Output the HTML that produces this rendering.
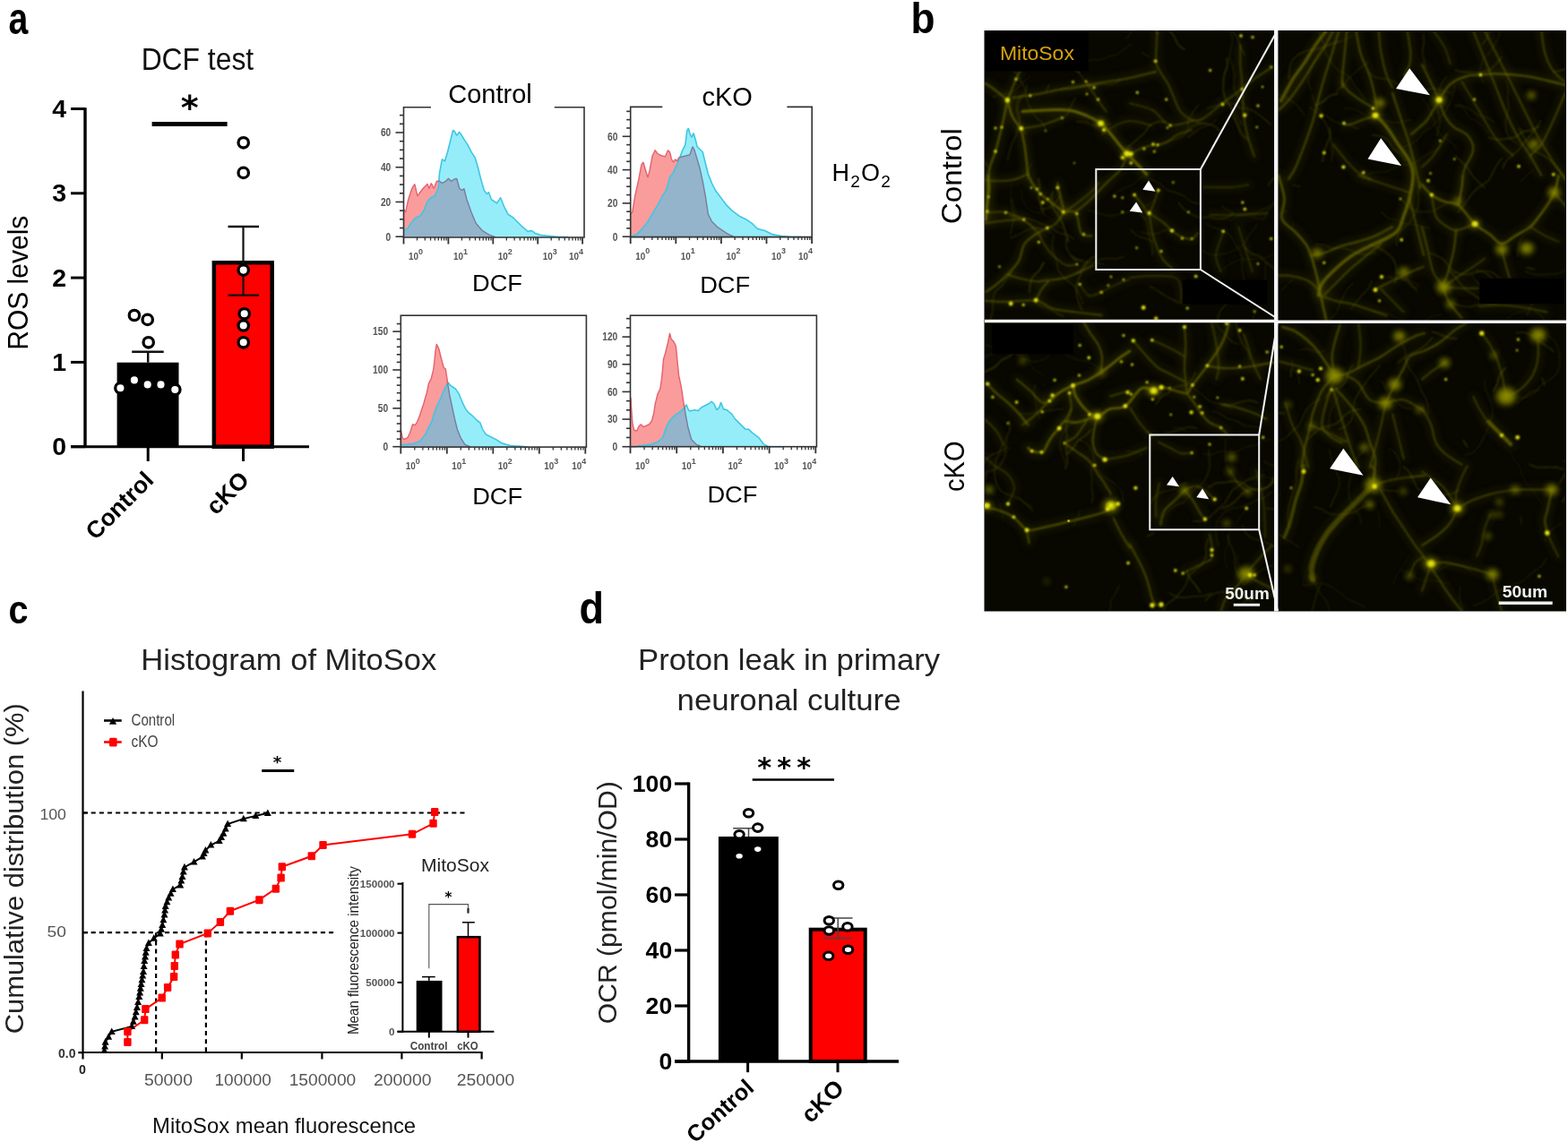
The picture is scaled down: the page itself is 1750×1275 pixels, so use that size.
<!DOCTYPE html>
<html><head><meta charset="utf-8"><title>Figure</title>
<style>html,body{margin:0;padding:0;background:#fff;}svg{display:block;}</style>
</head><body>
<svg width="1750" height="1275" viewBox="0 0 1750 1275">
<rect width="1750" height="1275" fill="#fff"/>
<text x="9.60" y="38.00" font-size="50" font-weight="bold" fill="#000" text-anchor="start" font-family='"Liberation Sans", Arial, sans-serif' textLength="21.8" lengthAdjust="spacingAndGlyphs" >a</text>
<text x="220.40" y="77.60" font-size="34.5" font-weight="normal" fill="#111" text-anchor="middle" font-family='"Liberation Sans", Arial, sans-serif' textLength="125.5" lengthAdjust="spacingAndGlyphs" >DCF test</text>
<line x1="95.00" y1="120.30" x2="95.00" y2="500.00" stroke="#000" stroke-width="3.4" />
<line x1="79.00" y1="498.70" x2="345.00" y2="498.70" stroke="#000" stroke-width="3" />
<line x1="79.00" y1="498.70" x2="95.00" y2="498.70" stroke="#000" stroke-width="3" />
<text x="74.00" y="508.30" font-size="28.5" font-weight="bold" fill="#000" text-anchor="end" font-family='"Liberation Sans", Arial, sans-serif' >0</text>
<line x1="79.00" y1="404.40" x2="95.00" y2="404.40" stroke="#000" stroke-width="3" />
<text x="74.00" y="414.00" font-size="28.5" font-weight="bold" fill="#000" text-anchor="end" font-family='"Liberation Sans", Arial, sans-serif' >1</text>
<line x1="79.00" y1="310.10" x2="95.00" y2="310.10" stroke="#000" stroke-width="3" />
<text x="74.00" y="319.70" font-size="28.5" font-weight="bold" fill="#000" text-anchor="end" font-family='"Liberation Sans", Arial, sans-serif' >2</text>
<line x1="79.00" y1="215.80" x2="95.00" y2="215.80" stroke="#000" stroke-width="3" />
<text x="74.00" y="225.40" font-size="28.5" font-weight="bold" fill="#000" text-anchor="end" font-family='"Liberation Sans", Arial, sans-serif' >3</text>
<line x1="79.00" y1="121.50" x2="95.00" y2="121.50" stroke="#000" stroke-width="3" />
<text x="74.00" y="131.10" font-size="28.5" font-weight="bold" fill="#000" text-anchor="end" font-family='"Liberation Sans", Arial, sans-serif' >4</text>
<rect x="130.60" y="404.70" width="68.90" height="94.00" fill="#000" />
<rect x="238.85" y="293.25" width="64.8" height="205.45" fill="#ff0000" stroke="#000" stroke-width="4.5"/>
<line x1="165.20" y1="498.70" x2="165.20" y2="515.00" stroke="#000" stroke-width="3" />
<line x1="271.50" y1="498.70" x2="271.50" y2="515.00" stroke="#000" stroke-width="3" />
<line x1="165.20" y1="404.70" x2="165.20" y2="392.70" stroke="#111" stroke-width="2.5" />
<line x1="147.20" y1="392.70" x2="182.70" y2="392.70" stroke="#111" stroke-width="2.5" />
<line x1="271.50" y1="253.00" x2="271.50" y2="329.60" stroke="#111" stroke-width="2.2" />
<line x1="254.50" y1="253.00" x2="289.00" y2="253.00" stroke="#111" stroke-width="2.4" />
<line x1="254.50" y1="329.60" x2="289.00" y2="329.60" stroke="#111" stroke-width="2.4" />
<line x1="169.60" y1="138.50" x2="253.60" y2="138.50" stroke="#000" stroke-width="5" />
<text x="211.60" y="132.69" font-size="38.1" font-weight="bold" fill="#000" text-anchor="middle" font-family='"DejaVu Sans", sans-serif' >*</text>
<circle cx="149.90" cy="352.00" r="5.7" fill="#fff" stroke="#000" stroke-width="3.3"/>
<circle cx="164.70" cy="356.90" r="5.7" fill="#fff" stroke="#000" stroke-width="3.3"/>
<circle cx="165.70" cy="382.30" r="5.7" fill="#fff" stroke="#000" stroke-width="3.3"/>
<circle cx="134.40" cy="433.30" r="5.7" fill="#fff" stroke="#000" stroke-width="3.3"/>
<circle cx="149.90" cy="424.40" r="5.7" fill="#fff" stroke="#000" stroke-width="3.3"/>
<circle cx="164.70" cy="429.40" r="5.7" fill="#fff" stroke="#000" stroke-width="3.3"/>
<circle cx="179.50" cy="429.40" r="5.7" fill="#fff" stroke="#000" stroke-width="3.3"/>
<circle cx="195.30" cy="435.00" r="5.7" fill="#fff" stroke="#000" stroke-width="3.3"/>
<circle cx="271.70" cy="159.30" r="5.7" fill="#fff" stroke="#000" stroke-width="3.3"/>
<circle cx="271.70" cy="192.90" r="5.7" fill="#fff" stroke="#000" stroke-width="3.3"/>
<circle cx="271.70" cy="301.60" r="5.7" fill="#fff" stroke="#000" stroke-width="3.3"/>
<circle cx="272.70" cy="350.30" r="5.7" fill="#fff" stroke="#000" stroke-width="3.3"/>
<circle cx="271.70" cy="363.50" r="5.7" fill="#fff" stroke="#000" stroke-width="3.3"/>
<circle cx="271.70" cy="382.30" r="5.7" fill="#fff" stroke="#000" stroke-width="3.3"/>
<text x="31.00" y="315.70" font-size="31.5" font-weight="normal" fill="#000" text-anchor="middle" font-family='"Liberation Sans", Arial, sans-serif' textLength="150" lengthAdjust="spacingAndGlyphs" transform="rotate(-90 31.00 315.70)" >ROS levels</text>
<text x="173.00" y="537.50" font-size="26.5" font-weight="bold" fill="#000" text-anchor="end" font-family='"Liberation Sans", Arial, sans-serif' transform="rotate(-45 173.00 537.50)" >Control</text>
<text x="279.50" y="537.50" font-size="26.5" font-weight="bold" fill="#000" text-anchor="end" font-family='"Liberation Sans", Arial, sans-serif' transform="rotate(-45 279.50 537.50)" >cKO</text>
<path d="M450.5,265.0 L450.5,257.3 L451.0,257.0 L451.5,256.8 L452.0,256.6 L452.5,256.4 L453.0,256.1 L453.5,255.9 L454.0,255.7 L454.5,255.4 L455.0,254.9 L455.5,254.1 L456.0,253.4 L456.5,252.6 L457.0,251.9 L457.5,251.1 L458.0,250.4 L458.5,249.6 L459.0,248.9 L459.5,248.3 L460.0,247.7 L460.5,247.1 L461.0,246.5 L461.5,245.9 L462.0,245.3 L462.5,244.7 L463.0,244.1 L463.5,243.5 L464.0,243.1 L464.5,242.9 L465.0,242.7 L465.5,242.5 L466.0,242.3 L466.5,242.1 L467.0,241.9 L467.5,241.7 L468.0,241.5 L468.5,241.3 L469.0,241.0 L469.5,240.3 L470.0,239.5 L470.5,238.8 L471.0,238.0 L471.5,237.3 L472.0,236.5 L472.5,235.8 L473.0,235.0 L473.5,233.8 L474.0,232.5 L474.5,231.3 L475.0,230.0 L475.5,228.8 L476.0,227.5 L476.5,226.3 L477.0,225.0 L477.5,224.4 L478.0,223.9 L478.5,223.4 L479.0,222.9 L479.5,222.4 L480.0,221.9 L480.5,221.4 L481.0,220.9 L481.5,220.5 L482.0,220.3 L482.5,220.0 L483.0,219.8 L483.5,219.5 L484.0,219.3 L484.5,219.0 L485.0,218.8 L485.5,218.2 L486.0,217.2 L486.5,216.2 L487.0,215.2 L487.5,214.2 L488.0,213.2 L488.5,212.2 L489.0,211.2 L489.5,207.8 L490.0,199.8 L490.5,193.4 L491.0,190.7 L491.5,188.1 L492.0,185.4 L492.5,182.7 L493.0,180.1 L493.5,177.9 L494.0,178.3 L494.5,178.6 L495.0,178.9 L495.5,179.3 L496.0,179.6 L496.5,179.8 L497.0,178.1 L497.5,176.5 L498.0,174.8 L498.5,173.1 L499.0,171.5 L499.5,169.8 L500.0,167.8 L500.5,165.8 L501.0,163.8 L501.5,161.8 L502.0,159.8 L502.5,157.8 L503.0,155.8 L503.5,153.8 L504.0,151.8 L504.5,149.8 L505.0,147.8 L505.5,145.8 L506.0,145.6 L506.5,146.1 L507.0,146.6 L507.5,147.1 L508.0,147.9 L508.5,148.9 L509.0,149.9 L509.5,150.9 L510.0,151.0 L510.5,150.3 L511.0,149.7 L511.5,149.0 L512.0,148.3 L512.5,147.7 L513.0,147.6 L513.5,148.4 L514.0,149.1 L514.5,149.9 L515.0,150.6 L515.5,151.5 L516.0,152.3 L516.5,153.1 L517.0,154.0 L517.5,154.8 L518.0,155.6 L518.5,156.4 L519.0,157.1 L519.5,157.9 L520.0,158.6 L520.5,159.4 L521.0,160.1 L521.5,160.9 L522.0,161.7 L522.5,162.7 L523.0,163.7 L523.5,164.7 L524.0,165.7 L524.5,166.7 L525.0,167.7 L525.5,168.7 L526.0,169.7 L526.5,170.4 L527.0,171.2 L527.5,171.9 L528.0,172.7 L528.5,173.4 L529.0,174.2 L529.5,174.9 L530.0,175.7 L530.5,177.1 L531.0,178.8 L531.5,180.5 L532.0,182.1 L532.5,183.8 L533.0,185.5 L533.5,187.3 L534.0,189.3 L534.5,191.3 L535.0,193.3 L535.5,195.3 L536.0,197.3 L536.5,199.2 L537.0,201.0 L537.5,202.7 L538.0,204.5 L538.5,206.2 L539.0,208.0 L539.5,209.7 L540.0,211.5 L540.5,212.8 L541.0,213.5 L541.5,214.1 L542.0,214.8 L542.5,215.5 L543.0,216.1 L543.5,216.5 L544.0,216.0 L544.5,215.5 L545.0,215.0 L545.5,214.8 L546.0,216.2 L546.5,217.5 L547.0,218.8 L547.5,220.2 L548.0,221.5 L548.5,222.8 L549.0,223.1 L549.5,223.4 L550.0,223.8 L550.5,224.1 L551.0,224.4 L551.5,224.8 L552.0,225.1 L552.5,225.4 L553.0,225.8 L553.5,226.1 L554.0,226.4 L554.5,226.8 L555.0,226.2 L555.5,225.4 L556.0,224.7 L556.5,223.9 L557.0,223.2 L557.5,222.4 L558.0,221.7 L558.5,220.9 L559.0,221.5 L559.5,222.8 L560.0,224.0 L560.5,225.3 L561.0,226.5 L561.5,227.8 L562.0,229.0 L562.5,230.3 L563.0,231.4 L563.5,232.4 L564.0,233.4 L564.5,234.4 L565.0,235.4 L565.5,236.4 L566.0,237.4 L566.5,238.4 L567.0,239.2 L567.5,239.5 L568.0,239.8 L568.5,240.2 L569.0,240.5 L569.5,240.8 L570.0,241.2 L570.5,241.5 L571.0,241.8 L571.5,242.2 L572.0,242.5 L572.5,242.8 L573.0,243.2 L573.5,243.7 L574.0,244.2 L574.5,244.7 L575.0,245.2 L575.5,245.7 L576.0,246.2 L576.5,246.7 L577.0,247.2 L577.5,247.7 L578.0,248.2 L578.5,248.7 L579.0,249.2 L579.5,249.7 L580.0,250.2 L580.5,250.7 L581.0,251.2 L581.5,251.7 L582.0,252.2 L582.5,252.7 L583.0,253.2 L583.5,253.6 L584.0,254.1 L584.5,254.5 L585.0,254.9 L585.5,255.3 L586.0,255.7 L586.5,256.1 L587.0,256.6 L587.5,257.0 L588.0,257.4 L588.5,257.8 L589.0,258.2 L589.5,258.4 L590.0,258.2 L590.5,258.1 L591.0,258.0 L591.5,257.9 L592.0,257.7 L592.5,257.6 L593.0,257.5 L593.5,257.5 L594.0,257.9 L594.5,258.3 L595.0,258.7 L595.5,259.0 L596.0,259.4 L596.5,259.8 L597.0,260.2 L597.5,260.5 L598.0,260.7 L598.5,260.8 L599.0,261.0 L599.5,261.2 L600.0,261.3 L600.5,261.5 L601.0,261.7 L601.5,261.8 L602.0,262.0 L602.5,262.2 L603.0,262.3 L603.5,262.5 L604.0,262.6 L604.5,262.6 L605.0,262.7 L605.5,262.7 L606.0,262.8 L606.5,262.8 L607.0,262.9 L607.5,262.9 L608.0,263.0 L608.5,263.0 L609.0,263.1 L609.5,263.1 L610.0,263.2 L610.5,263.2 L611.0,263.3 L611.5,263.3 L612.0,263.4 L612.5,263.4 L613.0,263.5 L613.5,263.5 L614.0,263.6 L614.5,263.6 L615.0,263.7 L615.5,263.7 L616.0,263.8 L616.5,263.8 L617.0,263.9 L617.5,263.9 L618.0,264.0 L618.5,264.0 L619.0,264.1 L619.5,264.1 L620.0,264.2 L620.5,264.2 L621.0,264.3 L621.5,264.3 L622.0,264.4 L622.5,264.4 L623.0,264.5 L623.5,264.5 L624.0,264.5 L624.5,264.5 L625.0,264.5 L625.5,264.5 L626.0,264.5 L626.5,264.5 L627.0,264.5 L627.5,264.5 L628.0,264.5 L628.5,264.5 L629.0,264.5 L629.5,264.5 L630.0,264.5 L630.5,264.5 L631.0,264.5 L631.5,264.5 L632.0,264.5 L632.5,264.5 L633.0,264.5 L633.5,264.5 L634.0,264.5 L634.5,265.0 L635.0,265.0 L635.5,265.0 L636.0,265.0 L636.5,265.0 L637.0,265.0 L637.5,265.0 L638.0,265.0 L638.5,265.0 L639.0,265.0 L639.5,265.0 L640.0,265.0 L640.5,265.0 L641.0,265.0 L641.5,265.0 L642.0,265.0 L642.5,265.0 L643.0,265.0 L643.5,265.0 L644.0,265.0 L644.5,265.0 L645.0,265.0 L645.5,265.0 L646.0,265.0 L646.5,265.0 L647.0,265.0 L647.5,265.0 L648.0,265.0 L648.5,265.0 L649.0,265.0 L649.5,265.0 L650.0,265.0 L650.5,265.0 L651.0,265.0 L651.5,265.0 L652.0,265.0 L652.0,265.0Z" fill="#96edfa"/>
<path d="M450.5,265.0 L450.5,233.5 L451.0,234.3 L451.5,235.1 L452.0,236.0 L452.5,236.8 L453.0,235.3 L453.5,232.9 L454.0,230.6 L454.5,228.3 L455.0,225.9 L455.5,223.6 L456.0,221.8 L456.5,220.3 L457.0,218.8 L457.5,217.3 L458.0,215.8 L458.5,214.3 L459.0,212.8 L459.5,211.3 L460.0,210.1 L460.5,209.3 L461.0,208.4 L461.5,207.6 L462.0,206.8 L462.5,205.9 L463.0,206.2 L463.5,208.3 L464.0,210.5 L464.5,212.7 L465.0,214.8 L465.5,217.0 L466.0,218.5 L466.5,217.8 L467.0,217.2 L467.5,216.5 L468.0,215.8 L468.5,215.2 L469.0,214.5 L469.5,213.8 L470.0,213.2 L470.5,212.5 L471.0,211.8 L471.5,211.2 L472.0,210.5 L472.5,210.0 L473.0,209.5 L473.5,209.0 L474.0,208.5 L474.5,208.0 L475.0,207.5 L475.5,207.0 L476.0,206.5 L476.5,206.0 L477.0,205.5 L477.5,206.4 L478.0,207.7 L478.5,208.9 L479.0,210.2 L479.5,209.4 L480.0,207.9 L480.5,206.4 L481.0,204.9 L481.5,205.0 L482.0,206.0 L482.5,207.0 L483.0,208.0 L483.5,209.0 L484.0,210.0 L484.5,209.8 L485.0,208.5 L485.5,207.1 L486.0,205.8 L486.5,204.5 L487.0,203.1 L487.5,202.3 L488.0,202.3 L488.5,202.3 L489.0,202.3 L489.5,202.3 L490.0,202.3 L490.5,202.4 L491.0,202.8 L491.5,203.1 L492.0,203.4 L492.5,203.8 L493.0,204.1 L493.5,204.3 L494.0,204.1 L494.5,203.8 L495.0,203.6 L495.5,203.3 L496.0,203.1 L496.5,202.8 L497.0,202.6 L497.5,202.3 L498.0,201.8 L498.5,201.3 L499.0,200.8 L499.5,200.3 L500.0,199.8 L500.5,199.3 L501.0,199.7 L501.5,200.2 L502.0,200.7 L502.5,201.2 L503.0,201.7 L503.5,202.2 L504.0,202.1 L504.5,201.8 L505.0,201.4 L505.5,201.1 L506.0,200.8 L506.5,200.4 L507.0,200.2 L507.5,200.0 L508.0,199.9 L508.5,199.7 L509.0,199.5 L509.5,199.4 L510.0,200.3 L510.5,202.1 L511.0,204.0 L511.5,205.8 L512.0,207.6 L512.5,209.5 L513.0,210.7 L513.5,211.0 L514.0,211.3 L514.5,211.7 L515.0,212.0 L515.5,212.3 L516.0,212.4 L516.5,211.9 L517.0,211.4 L517.5,210.9 L518.0,211.0 L518.5,213.0 L519.0,215.0 L519.5,217.0 L520.0,219.0 L520.5,221.0 L521.0,222.9 L521.5,224.3 L522.0,225.7 L522.5,227.1 L523.0,228.5 L523.5,229.9 L524.0,231.3 L524.5,232.7 L525.0,234.1 L525.5,235.5 L526.0,236.9 L526.5,238.1 L527.0,239.3 L527.5,240.5 L528.0,241.7 L528.5,242.9 L529.0,244.1 L529.5,245.3 L530.0,246.5 L530.5,247.7 L531.0,248.9 L531.5,249.7 L532.0,250.2 L532.5,250.8 L533.0,251.4 L533.5,252.0 L534.0,252.5 L534.5,253.1 L535.0,253.7 L535.5,254.2 L536.0,254.8 L536.5,255.4 L537.0,256.0 L537.5,256.5 L538.0,257.1 L538.5,257.5 L539.0,257.9 L539.5,258.2 L540.0,258.5 L540.5,258.8 L541.0,259.1 L541.5,259.4 L542.0,259.7 L542.5,260.0 L543.0,260.4 L543.5,260.7 L544.0,261.0 L544.5,261.3 L545.0,261.6 L545.5,261.9 L546.0,262.2 L546.5,262.5 L547.0,262.7 L547.5,262.9 L548.0,263.0 L548.5,263.2 L549.0,263.4 L549.5,263.5 L550.0,263.7 L550.5,263.9 L551.0,264.0 L551.5,264.2 L552.0,264.4 L552.5,264.5 L553.0,265.0 L553.5,265.0 L554.0,265.0 L554.5,265.0 L555.0,265.0 L555.5,265.0 L556.0,265.0 L556.5,265.0 L557.0,265.0 L557.5,265.0 L558.0,265.0 L558.5,265.0 L559.0,265.0 L559.5,265.0 L560.0,265.0 L560.5,265.0 L561.0,265.0 L561.5,265.0 L562.0,265.0 L562.5,265.0 L563.0,265.0 L563.5,265.0 L564.0,265.0 L564.5,265.0 L565.0,265.0 L565.5,265.0 L566.0,265.0 L566.5,265.0 L567.0,265.0 L567.5,265.0 L568.0,265.0 L568.5,265.0 L569.0,265.0 L569.5,265.0 L570.0,265.0 L570.5,265.0 L571.0,265.0 L571.5,265.0 L572.0,265.0 L572.5,265.0 L573.0,265.0 L573.5,265.0 L574.0,265.0 L574.5,265.0 L575.0,265.0 L575.5,265.0 L576.0,265.0 L576.5,265.0 L577.0,265.0 L577.5,265.0 L578.0,265.0 L578.5,265.0 L579.0,265.0 L579.5,265.0 L580.0,265.0 L580.5,265.0 L581.0,265.0 L581.5,265.0 L582.0,265.0 L582.5,265.0 L583.0,265.0 L583.5,265.0 L584.0,265.0 L584.5,265.0 L585.0,265.0 L585.5,265.0 L586.0,265.0 L586.5,265.0 L587.0,265.0 L587.5,265.0 L588.0,265.0 L588.5,265.0 L589.0,265.0 L589.5,265.0 L590.0,265.0 L590.5,265.0 L591.0,265.0 L591.5,265.0 L592.0,265.0 L592.5,265.0 L593.0,265.0 L593.5,265.0 L594.0,265.0 L594.5,265.0 L595.0,265.0 L595.5,265.0 L596.0,265.0 L596.5,265.0 L597.0,265.0 L597.5,265.0 L598.0,265.0 L598.5,265.0 L599.0,265.0 L599.5,265.0 L600.0,265.0 L600.5,265.0 L601.0,265.0 L601.5,265.0 L602.0,265.0 L602.5,265.0 L603.0,265.0 L603.5,265.0 L604.0,265.0 L604.5,265.0 L605.0,265.0 L605.5,265.0 L606.0,265.0 L606.5,265.0 L607.0,265.0 L607.5,265.0 L608.0,265.0 L608.5,265.0 L609.0,265.0 L609.5,265.0 L610.0,265.0 L610.5,265.0 L611.0,265.0 L611.5,265.0 L612.0,265.0 L612.5,265.0 L613.0,265.0 L613.5,265.0 L614.0,265.0 L614.5,265.0 L615.0,265.0 L615.5,265.0 L616.0,265.0 L616.5,265.0 L617.0,265.0 L617.5,265.0 L618.0,265.0 L618.5,265.0 L619.0,265.0 L619.5,265.0 L620.0,265.0 L620.5,265.0 L621.0,265.0 L621.5,265.0 L622.0,265.0 L622.5,265.0 L623.0,265.0 L623.5,265.0 L624.0,265.0 L624.5,265.0 L625.0,265.0 L625.5,265.0 L626.0,265.0 L626.5,265.0 L627.0,265.0 L627.5,265.0 L628.0,265.0 L628.5,265.0 L629.0,265.0 L629.5,265.0 L630.0,265.0 L630.5,265.0 L631.0,265.0 L631.5,265.0 L632.0,265.0 L632.5,265.0 L633.0,265.0 L633.5,265.0 L634.0,265.0 L634.5,265.0 L635.0,265.0 L635.5,265.0 L636.0,265.0 L636.5,265.0 L637.0,265.0 L637.5,265.0 L638.0,265.0 L638.5,265.0 L639.0,265.0 L639.5,265.0 L640.0,265.0 L640.5,265.0 L641.0,265.0 L641.5,265.0 L642.0,265.0 L642.5,265.0 L643.0,265.0 L643.5,265.0 L644.0,265.0 L644.5,265.0 L645.0,265.0 L645.5,265.0 L646.0,265.0 L646.5,265.0 L647.0,265.0 L647.5,265.0 L648.0,265.0 L648.5,265.0 L649.0,265.0 L649.5,265.0 L650.0,265.0 L650.5,265.0 L651.0,265.0 L651.5,265.0 L652.0,265.0 L652.0,265.0Z" fill="#fa9c9c"/>
<path d="M450.5,265.0 L450.5,257.3 L451.0,257.0 L451.5,256.8 L452.0,256.6 L452.5,256.4 L453.0,256.1 L453.5,255.9 L454.0,255.7 L454.5,255.4 L455.0,254.9 L455.5,254.1 L456.0,253.4 L456.5,252.6 L457.0,251.9 L457.5,251.1 L458.0,250.4 L458.5,249.6 L459.0,248.9 L459.5,248.3 L460.0,247.7 L460.5,247.1 L461.0,246.5 L461.5,245.9 L462.0,245.3 L462.5,244.7 L463.0,244.1 L463.5,243.5 L464.0,243.1 L464.5,242.9 L465.0,242.7 L465.5,242.5 L466.0,242.3 L466.5,242.1 L467.0,241.9 L467.5,241.7 L468.0,241.5 L468.5,241.3 L469.0,241.0 L469.5,240.3 L470.0,239.5 L470.5,238.8 L471.0,238.0 L471.5,237.3 L472.0,236.5 L472.5,235.8 L473.0,235.0 L473.5,233.8 L474.0,232.5 L474.5,231.3 L475.0,230.0 L475.5,228.8 L476.0,227.5 L476.5,226.3 L477.0,225.0 L477.5,224.4 L478.0,223.9 L478.5,223.4 L479.0,222.9 L479.5,222.4 L480.0,221.9 L480.5,221.4 L481.0,220.9 L481.5,220.5 L482.0,220.3 L482.5,220.0 L483.0,219.8 L483.5,219.5 L484.0,219.3 L484.5,219.0 L485.0,218.8 L485.5,218.2 L486.0,217.2 L486.5,216.2 L487.0,215.2 L487.5,214.2 L488.0,213.2 L488.5,212.2 L489.0,211.2 L489.5,207.8 L490.0,202.3 L490.5,202.4 L491.0,202.8 L491.5,203.1 L492.0,203.4 L492.5,203.8 L493.0,204.1 L493.5,204.3 L494.0,204.1 L494.5,203.8 L495.0,203.6 L495.5,203.3 L496.0,203.1 L496.5,202.8 L497.0,202.6 L497.5,202.3 L498.0,201.8 L498.5,201.3 L499.0,200.8 L499.5,200.3 L500.0,199.8 L500.5,199.3 L501.0,199.7 L501.5,200.2 L502.0,200.7 L502.5,201.2 L503.0,201.7 L503.5,202.2 L504.0,202.1 L504.5,201.8 L505.0,201.4 L505.5,201.1 L506.0,200.8 L506.5,200.4 L507.0,200.2 L507.5,200.0 L508.0,199.9 L508.5,199.7 L509.0,199.5 L509.5,199.4 L510.0,200.3 L510.5,202.1 L511.0,204.0 L511.5,205.8 L512.0,207.6 L512.5,209.5 L513.0,210.7 L513.5,211.0 L514.0,211.3 L514.5,211.7 L515.0,212.0 L515.5,212.3 L516.0,212.4 L516.5,211.9 L517.0,211.4 L517.5,210.9 L518.0,211.0 L518.5,213.0 L519.0,215.0 L519.5,217.0 L520.0,219.0 L520.5,221.0 L521.0,222.9 L521.5,224.3 L522.0,225.7 L522.5,227.1 L523.0,228.5 L523.5,229.9 L524.0,231.3 L524.5,232.7 L525.0,234.1 L525.5,235.5 L526.0,236.9 L526.5,238.1 L527.0,239.3 L527.5,240.5 L528.0,241.7 L528.5,242.9 L529.0,244.1 L529.5,245.3 L530.0,246.5 L530.5,247.7 L531.0,248.9 L531.5,249.7 L532.0,250.2 L532.5,250.8 L533.0,251.4 L533.5,252.0 L534.0,252.5 L534.5,253.1 L535.0,253.7 L535.5,254.2 L536.0,254.8 L536.5,255.4 L537.0,256.0 L537.5,256.5 L538.0,257.1 L538.5,257.5 L539.0,257.9 L539.5,258.2 L540.0,258.5 L540.5,258.8 L541.0,259.1 L541.5,259.4 L542.0,259.7 L542.5,260.0 L543.0,260.4 L543.5,260.7 L544.0,261.0 L544.5,261.3 L545.0,261.6 L545.5,261.9 L546.0,262.2 L546.5,262.5 L547.0,262.7 L547.5,262.9 L548.0,263.0 L548.5,263.2 L549.0,263.4 L549.5,263.5 L550.0,263.7 L550.5,263.9 L551.0,264.0 L551.5,264.2 L552.0,264.4 L552.5,264.5 L553.0,265.0 L553.5,265.0 L554.0,265.0 L554.5,265.0 L555.0,265.0 L555.5,265.0 L556.0,265.0 L556.5,265.0 L557.0,265.0 L557.5,265.0 L558.0,265.0 L558.5,265.0 L559.0,265.0 L559.5,265.0 L560.0,265.0 L560.5,265.0 L561.0,265.0 L561.5,265.0 L562.0,265.0 L562.5,265.0 L563.0,265.0 L563.5,265.0 L564.0,265.0 L564.5,265.0 L565.0,265.0 L565.5,265.0 L566.0,265.0 L566.5,265.0 L567.0,265.0 L567.5,265.0 L568.0,265.0 L568.5,265.0 L569.0,265.0 L569.5,265.0 L570.0,265.0 L570.5,265.0 L571.0,265.0 L571.5,265.0 L572.0,265.0 L572.5,265.0 L573.0,265.0 L573.5,265.0 L574.0,265.0 L574.5,265.0 L575.0,265.0 L575.5,265.0 L576.0,265.0 L576.5,265.0 L577.0,265.0 L577.5,265.0 L578.0,265.0 L578.5,265.0 L579.0,265.0 L579.5,265.0 L580.0,265.0 L580.5,265.0 L581.0,265.0 L581.5,265.0 L582.0,265.0 L582.5,265.0 L583.0,265.0 L583.5,265.0 L584.0,265.0 L584.5,265.0 L585.0,265.0 L585.5,265.0 L586.0,265.0 L586.5,265.0 L587.0,265.0 L587.5,265.0 L588.0,265.0 L588.5,265.0 L589.0,265.0 L589.5,265.0 L590.0,265.0 L590.5,265.0 L591.0,265.0 L591.5,265.0 L592.0,265.0 L592.5,265.0 L593.0,265.0 L593.5,265.0 L594.0,265.0 L594.5,265.0 L595.0,265.0 L595.5,265.0 L596.0,265.0 L596.5,265.0 L597.0,265.0 L597.5,265.0 L598.0,265.0 L598.5,265.0 L599.0,265.0 L599.5,265.0 L600.0,265.0 L600.5,265.0 L601.0,265.0 L601.5,265.0 L602.0,265.0 L602.5,265.0 L603.0,265.0 L603.5,265.0 L604.0,265.0 L604.5,265.0 L605.0,265.0 L605.5,265.0 L606.0,265.0 L606.5,265.0 L607.0,265.0 L607.5,265.0 L608.0,265.0 L608.5,265.0 L609.0,265.0 L609.5,265.0 L610.0,265.0 L610.5,265.0 L611.0,265.0 L611.5,265.0 L612.0,265.0 L612.5,265.0 L613.0,265.0 L613.5,265.0 L614.0,265.0 L614.5,265.0 L615.0,265.0 L615.5,265.0 L616.0,265.0 L616.5,265.0 L617.0,265.0 L617.5,265.0 L618.0,265.0 L618.5,265.0 L619.0,265.0 L619.5,265.0 L620.0,265.0 L620.5,265.0 L621.0,265.0 L621.5,265.0 L622.0,265.0 L622.5,265.0 L623.0,265.0 L623.5,265.0 L624.0,265.0 L624.5,265.0 L625.0,265.0 L625.5,265.0 L626.0,265.0 L626.5,265.0 L627.0,265.0 L627.5,265.0 L628.0,265.0 L628.5,265.0 L629.0,265.0 L629.5,265.0 L630.0,265.0 L630.5,265.0 L631.0,265.0 L631.5,265.0 L632.0,265.0 L632.5,265.0 L633.0,265.0 L633.5,265.0 L634.0,265.0 L634.5,265.0 L635.0,265.0 L635.5,265.0 L636.0,265.0 L636.5,265.0 L637.0,265.0 L637.5,265.0 L638.0,265.0 L638.5,265.0 L639.0,265.0 L639.5,265.0 L640.0,265.0 L640.5,265.0 L641.0,265.0 L641.5,265.0 L642.0,265.0 L642.5,265.0 L643.0,265.0 L643.5,265.0 L644.0,265.0 L644.5,265.0 L645.0,265.0 L645.5,265.0 L646.0,265.0 L646.5,265.0 L647.0,265.0 L647.5,265.0 L648.0,265.0 L648.5,265.0 L649.0,265.0 L649.5,265.0 L650.0,265.0 L650.5,265.0 L651.0,265.0 L651.5,265.0 L652.0,265.0 L652.0,265.0Z" fill="#94b4cb"/>
<path d="M450.5,257.3 L451.0,257.0 L451.5,256.8 L452.0,256.6 L452.5,256.4 L453.0,256.1 L453.5,255.9 L454.0,255.7 L454.5,255.4 L455.0,254.9 L455.5,254.1 L456.0,253.4 L456.5,252.6 L457.0,251.9 L457.5,251.1 L458.0,250.4 L458.5,249.6 L459.0,248.9 L459.5,248.3 L460.0,247.7 L460.5,247.1 L461.0,246.5 L461.5,245.9 L462.0,245.3 L462.5,244.7 L463.0,244.1 L463.5,243.5 L464.0,243.1 L464.5,242.9 L465.0,242.7 L465.5,242.5 L466.0,242.3 L466.5,242.1 L467.0,241.9 L467.5,241.7 L468.0,241.5 L468.5,241.3 L469.0,241.0 L469.5,240.3 L470.0,239.5 L470.5,238.8 L471.0,238.0 L471.5,237.3 L472.0,236.5 L472.5,235.8 L473.0,235.0 L473.5,233.8 L474.0,232.5 L474.5,231.3 L475.0,230.0 L475.5,228.8 L476.0,227.5 L476.5,226.3 L477.0,225.0 L477.5,224.4 L478.0,223.9 L478.5,223.4 L479.0,222.9 L479.5,222.4 L480.0,221.9 L480.5,221.4 L481.0,220.9 L481.5,220.5 L482.0,220.3 L482.5,220.0 L483.0,219.8 L483.5,219.5 L484.0,219.3 L484.5,219.0 L485.0,218.8 L485.5,218.2 L486.0,217.2 L486.5,216.2 L487.0,215.2 L487.5,214.2 L488.0,213.2 L488.5,212.2 L489.0,211.2 L489.5,207.8 L490.0,199.8 L490.5,193.4 L491.0,190.7 L491.5,188.1 L492.0,185.4 L492.5,182.7 L493.0,180.1 L493.5,177.9 L494.0,178.3 L494.5,178.6 L495.0,178.9 L495.5,179.3 L496.0,179.6 L496.5,179.8 L497.0,178.1 L497.5,176.5 L498.0,174.8 L498.5,173.1 L499.0,171.5 L499.5,169.8 L500.0,167.8 L500.5,165.8 L501.0,163.8 L501.5,161.8 L502.0,159.8 L502.5,157.8 L503.0,155.8 L503.5,153.8 L504.0,151.8 L504.5,149.8 L505.0,147.8 L505.5,145.8 L506.0,145.6 L506.5,146.1 L507.0,146.6 L507.5,147.1 L508.0,147.9 L508.5,148.9 L509.0,149.9 L509.5,150.9 L510.0,151.0 L510.5,150.3 L511.0,149.7 L511.5,149.0 L512.0,148.3 L512.5,147.7 L513.0,147.6 L513.5,148.4 L514.0,149.1 L514.5,149.9 L515.0,150.6 L515.5,151.5 L516.0,152.3 L516.5,153.1 L517.0,154.0 L517.5,154.8 L518.0,155.6 L518.5,156.4 L519.0,157.1 L519.5,157.9 L520.0,158.6 L520.5,159.4 L521.0,160.1 L521.5,160.9 L522.0,161.7 L522.5,162.7 L523.0,163.7 L523.5,164.7 L524.0,165.7 L524.5,166.7 L525.0,167.7 L525.5,168.7 L526.0,169.7 L526.5,170.4 L527.0,171.2 L527.5,171.9 L528.0,172.7 L528.5,173.4 L529.0,174.2 L529.5,174.9 L530.0,175.7 L530.5,177.1 L531.0,178.8 L531.5,180.5 L532.0,182.1 L532.5,183.8 L533.0,185.5 L533.5,187.3 L534.0,189.3 L534.5,191.3 L535.0,193.3 L535.5,195.3 L536.0,197.3 L536.5,199.2 L537.0,201.0 L537.5,202.7 L538.0,204.5 L538.5,206.2 L539.0,208.0 L539.5,209.7 L540.0,211.5 L540.5,212.8 L541.0,213.5 L541.5,214.1 L542.0,214.8 L542.5,215.5 L543.0,216.1 L543.5,216.5 L544.0,216.0 L544.5,215.5 L545.0,215.0 L545.5,214.8 L546.0,216.2 L546.5,217.5 L547.0,218.8 L547.5,220.2 L548.0,221.5 L548.5,222.8 L549.0,223.1 L549.5,223.4 L550.0,223.8 L550.5,224.1 L551.0,224.4 L551.5,224.8 L552.0,225.1 L552.5,225.4 L553.0,225.8 L553.5,226.1 L554.0,226.4 L554.5,226.8 L555.0,226.2 L555.5,225.4 L556.0,224.7 L556.5,223.9 L557.0,223.2 L557.5,222.4 L558.0,221.7 L558.5,220.9 L559.0,221.5 L559.5,222.8 L560.0,224.0 L560.5,225.3 L561.0,226.5 L561.5,227.8 L562.0,229.0 L562.5,230.3 L563.0,231.4 L563.5,232.4 L564.0,233.4 L564.5,234.4 L565.0,235.4 L565.5,236.4 L566.0,237.4 L566.5,238.4 L567.0,239.2 L567.5,239.5 L568.0,239.8 L568.5,240.2 L569.0,240.5 L569.5,240.8 L570.0,241.2 L570.5,241.5 L571.0,241.8 L571.5,242.2 L572.0,242.5 L572.5,242.8 L573.0,243.2 L573.5,243.7 L574.0,244.2 L574.5,244.7 L575.0,245.2 L575.5,245.7 L576.0,246.2 L576.5,246.7 L577.0,247.2 L577.5,247.7 L578.0,248.2 L578.5,248.7 L579.0,249.2 L579.5,249.7 L580.0,250.2 L580.5,250.7 L581.0,251.2 L581.5,251.7 L582.0,252.2 L582.5,252.7 L583.0,253.2 L583.5,253.6 L584.0,254.1 L584.5,254.5 L585.0,254.9 L585.5,255.3 L586.0,255.7 L586.5,256.1 L587.0,256.6 L587.5,257.0 L588.0,257.4 L588.5,257.8 L589.0,258.2 L589.5,258.4 L590.0,258.2 L590.5,258.1 L591.0,258.0 L591.5,257.9 L592.0,257.7 L592.5,257.6 L593.0,257.5 L593.5,257.5 L594.0,257.9 L594.5,258.3 L595.0,258.7 L595.5,259.0 L596.0,259.4 L596.5,259.8 L597.0,260.2 L597.5,260.5 L598.0,260.7 L598.5,260.8 L599.0,261.0 L599.5,261.2 L600.0,261.3 L600.5,261.5 L601.0,261.7 L601.5,261.8 L602.0,262.0 L602.5,262.2 L603.0,262.3 L603.5,262.5 L604.0,262.6 L604.5,262.6 L605.0,262.7 L605.5,262.7 L606.0,262.8 L606.5,262.8 L607.0,262.9 L607.5,262.9 L608.0,263.0 L608.5,263.0 L609.0,263.1 L609.5,263.1 L610.0,263.2 L610.5,263.2 L611.0,263.3 L611.5,263.3 L612.0,263.4 L612.5,263.4 L613.0,263.5 L613.5,263.5 L614.0,263.6 L614.5,263.6 L615.0,263.7 L615.5,263.7 L616.0,263.8 L616.5,263.8 L617.0,263.9 L617.5,263.9 L618.0,264.0 L618.5,264.0 L619.0,264.1 L619.5,264.1 L620.0,264.2 L620.5,264.2 L621.0,264.3 L621.5,264.3 L622.0,264.4 L622.5,264.4 L623.0,264.5 L623.5,264.5 L624.0,264.5 L624.5,264.5 L625.0,264.5 L625.5,264.5 L626.0,264.5 L626.5,264.5 L627.0,264.5 L627.5,264.5 L628.0,264.5 L628.5,264.5 L629.0,264.5 L629.5,264.5 L630.0,264.5 L630.5,264.5 L631.0,264.5 L631.5,264.5 L632.0,264.5 L632.5,264.5 L633.0,264.5 L633.5,264.5 L634.0,264.5" fill="none" stroke="#3ec6e4" stroke-width="1.6" stroke-linejoin="round"/>
<path d="M489.5,202.3 L490.0,202.3 L490.5,202.4 L491.0,202.8 L491.5,203.1 L492.0,203.4 L492.5,203.8 L493.0,204.1 L493.5,204.3 L494.0,204.1 L494.5,203.8 L495.0,203.6 L495.5,203.3 L496.0,203.1 L496.5,202.8 L497.0,202.6 L497.5,202.3 L498.0,201.8 L498.5,201.3 L499.0,200.8 L499.5,200.3 L500.0,199.8 L500.5,199.3 L501.0,199.7 L501.5,200.2 L502.0,200.7 L502.5,201.2 L503.0,201.7 L503.5,202.2 L504.0,202.1 L504.5,201.8 L505.0,201.4 L505.5,201.1 L506.0,200.8 L506.5,200.4 L507.0,200.2 L507.5,200.0 L508.0,199.9 L508.5,199.7 L509.0,199.5 L509.5,199.4 L510.0,200.3 L510.5,202.1 L511.0,204.0 L511.5,205.8 L512.0,207.6 L512.5,209.5 L513.0,210.7 L513.5,211.0 L514.0,211.3 L514.5,211.7 L515.0,212.0 L515.5,212.3 L516.0,212.4 L516.5,211.9 L517.0,211.4 L517.5,210.9 L518.0,211.0 L518.5,213.0 L519.0,215.0 L519.5,217.0 L520.0,219.0 L520.5,221.0 L521.0,222.9 L521.5,224.3 L522.0,225.7 L522.5,227.1 L523.0,228.5 L523.5,229.9 L524.0,231.3 L524.5,232.7 L525.0,234.1 L525.5,235.5 L526.0,236.9 L526.5,238.1 L527.0,239.3 L527.5,240.5 L528.0,241.7 L528.5,242.9 L529.0,244.1 L529.5,245.3 L530.0,246.5 L530.5,247.7 L531.0,248.9 L531.5,249.7 L532.0,250.2 L532.5,250.8 L533.0,251.4 L533.5,252.0 L534.0,252.5 L534.5,253.1 L535.0,253.7 L535.5,254.2 L536.0,254.8 L536.5,255.4 L537.0,256.0 L537.5,256.5 L538.0,257.1 L538.5,257.5 L539.0,257.9 L539.5,258.2 L540.0,258.5 L540.5,258.8 L541.0,259.1 L541.5,259.4 L542.0,259.7 L542.5,260.0 L543.0,260.4 L543.5,260.7 L544.0,261.0 L544.5,261.3 L545.0,261.6 L545.5,261.9 L546.0,262.2 L546.5,262.5 L547.0,262.7 L547.5,262.9 L548.0,263.0 L548.5,263.2 L549.0,263.4 L549.5,263.5 L550.0,263.7 L550.5,263.9 L551.0,264.0 L551.5,264.2 L552.0,264.4 L552.5,264.5" fill="none" stroke="#7a7c9a" stroke-width="1.4" stroke-linejoin="round"/>
<path d="M450.5,233.5 L451.0,234.3 L451.5,235.1 L452.0,236.0 L452.5,236.8 L453.0,235.3 L453.5,232.9 L454.0,230.6 L454.5,228.3 L455.0,225.9 L455.5,223.6 L456.0,221.8 L456.5,220.3 L457.0,218.8 L457.5,217.3 L458.0,215.8 L458.5,214.3 L459.0,212.8 L459.5,211.3 L460.0,210.1 L460.5,209.3 L461.0,208.4 L461.5,207.6 L462.0,206.8 L462.5,205.9 L463.0,206.2 L463.5,208.3 L464.0,210.5 L464.5,212.7 L465.0,214.8 L465.5,217.0 L466.0,218.5 L466.5,217.8 L467.0,217.2 L467.5,216.5 L468.0,215.8 L468.5,215.2 L469.0,214.5 L469.5,213.8 L470.0,213.2 L470.5,212.5 L471.0,211.8 L471.5,211.2 L472.0,210.5 L472.5,210.0 L473.0,209.5 L473.5,209.0 L474.0,208.5 L474.5,208.0 L475.0,207.5 L475.5,207.0 L476.0,206.5 L476.5,206.0 L477.0,205.5 L477.5,206.4 L478.0,207.7 L478.5,208.9 L479.0,210.2 L479.5,209.4 L480.0,207.9 L480.5,206.4 L481.0,204.9 L481.5,205.0 L482.0,206.0 L482.5,207.0 L483.0,208.0 L483.5,209.0 L484.0,210.0 L484.5,209.8 L485.0,208.5 L485.5,207.1 L486.0,205.8 L486.5,204.5 L487.0,203.1 L487.5,202.3 L488.0,202.3 L488.5,202.3 L489.0,202.3 L489.5,202.3 L490.0,202.3" fill="none" stroke="#e4606c" stroke-width="1.4" stroke-linejoin="round"/>
<path d="M481,119.8 L450.5,119.8 L450.5,265 L652,265 L652,119.8 L618.8,119.8" fill="none" stroke="#333" stroke-width="1.6"/>
<line x1="441.50" y1="264.20" x2="450.50" y2="264.20" stroke="#333" stroke-width="1.6" />
<text x="436.30" y="268.50" font-size="12" font-weight="bold" fill="#555" text-anchor="end" font-family='"Liberation Sans", Arial, sans-serif' textLength="5.7" lengthAdjust="spacingAndGlyphs" >0</text>
<line x1="446.00" y1="254.52" x2="450.50" y2="254.52" stroke="#333" stroke-width="1.6" />
<line x1="446.00" y1="244.83" x2="450.50" y2="244.83" stroke="#333" stroke-width="1.6" />
<line x1="446.00" y1="235.15" x2="450.50" y2="235.15" stroke="#333" stroke-width="1.6" />
<line x1="441.50" y1="225.47" x2="450.50" y2="225.47" stroke="#333" stroke-width="1.6" />
<text x="436.30" y="229.77" font-size="12" font-weight="bold" fill="#555" text-anchor="end" font-family='"Liberation Sans", Arial, sans-serif' textLength="11.4" lengthAdjust="spacingAndGlyphs" >20</text>
<line x1="446.00" y1="215.78" x2="450.50" y2="215.78" stroke="#333" stroke-width="1.6" />
<line x1="446.00" y1="206.10" x2="450.50" y2="206.10" stroke="#333" stroke-width="1.6" />
<line x1="446.00" y1="196.42" x2="450.50" y2="196.42" stroke="#333" stroke-width="1.6" />
<line x1="441.50" y1="186.73" x2="450.50" y2="186.73" stroke="#333" stroke-width="1.6" />
<text x="436.30" y="191.03" font-size="12" font-weight="bold" fill="#555" text-anchor="end" font-family='"Liberation Sans", Arial, sans-serif' textLength="11.4" lengthAdjust="spacingAndGlyphs" >40</text>
<line x1="446.00" y1="177.05" x2="450.50" y2="177.05" stroke="#333" stroke-width="1.6" />
<line x1="446.00" y1="167.37" x2="450.50" y2="167.37" stroke="#333" stroke-width="1.6" />
<line x1="446.00" y1="157.68" x2="450.50" y2="157.68" stroke="#333" stroke-width="1.6" />
<line x1="441.50" y1="148.00" x2="450.50" y2="148.00" stroke="#333" stroke-width="1.6" />
<text x="436.30" y="152.30" font-size="12" font-weight="bold" fill="#555" text-anchor="end" font-family='"Liberation Sans", Arial, sans-serif' textLength="11.4" lengthAdjust="spacingAndGlyphs" >60</text>
<line x1="446.00" y1="138.32" x2="450.50" y2="138.32" stroke="#333" stroke-width="1.6" />
<line x1="446.00" y1="128.63" x2="450.50" y2="128.63" stroke="#333" stroke-width="1.6" />
<line x1="450.50" y1="265.00" x2="450.50" y2="272.50" stroke="#333" stroke-width="1.8" />
<line x1="465.52" y1="265.00" x2="465.52" y2="268.50" stroke="#333" stroke-width="1.3" />
<line x1="474.31" y1="265.00" x2="474.31" y2="268.50" stroke="#333" stroke-width="1.3" />
<line x1="480.54" y1="265.00" x2="480.54" y2="268.50" stroke="#333" stroke-width="1.3" />
<line x1="485.38" y1="265.00" x2="485.38" y2="268.50" stroke="#333" stroke-width="1.3" />
<line x1="489.33" y1="265.00" x2="489.33" y2="268.50" stroke="#333" stroke-width="1.3" />
<line x1="492.67" y1="265.00" x2="492.67" y2="268.50" stroke="#333" stroke-width="1.3" />
<line x1="495.56" y1="265.00" x2="495.56" y2="268.50" stroke="#333" stroke-width="1.3" />
<line x1="498.12" y1="265.00" x2="498.12" y2="268.50" stroke="#333" stroke-width="1.3" />
<line x1="500.40" y1="265.00" x2="500.40" y2="272.50" stroke="#333" stroke-width="1.8" />
<line x1="515.42" y1="265.00" x2="515.42" y2="268.50" stroke="#333" stroke-width="1.3" />
<line x1="524.21" y1="265.00" x2="524.21" y2="268.50" stroke="#333" stroke-width="1.3" />
<line x1="530.44" y1="265.00" x2="530.44" y2="268.50" stroke="#333" stroke-width="1.3" />
<line x1="535.28" y1="265.00" x2="535.28" y2="268.50" stroke="#333" stroke-width="1.3" />
<line x1="539.23" y1="265.00" x2="539.23" y2="268.50" stroke="#333" stroke-width="1.3" />
<line x1="542.57" y1="265.00" x2="542.57" y2="268.50" stroke="#333" stroke-width="1.3" />
<line x1="545.46" y1="265.00" x2="545.46" y2="268.50" stroke="#333" stroke-width="1.3" />
<line x1="548.02" y1="265.00" x2="548.02" y2="268.50" stroke="#333" stroke-width="1.3" />
<line x1="550.30" y1="265.00" x2="550.30" y2="272.50" stroke="#333" stroke-width="1.8" />
<line x1="565.32" y1="265.00" x2="565.32" y2="268.50" stroke="#333" stroke-width="1.3" />
<line x1="574.11" y1="265.00" x2="574.11" y2="268.50" stroke="#333" stroke-width="1.3" />
<line x1="580.34" y1="265.00" x2="580.34" y2="268.50" stroke="#333" stroke-width="1.3" />
<line x1="585.18" y1="265.00" x2="585.18" y2="268.50" stroke="#333" stroke-width="1.3" />
<line x1="589.13" y1="265.00" x2="589.13" y2="268.50" stroke="#333" stroke-width="1.3" />
<line x1="592.47" y1="265.00" x2="592.47" y2="268.50" stroke="#333" stroke-width="1.3" />
<line x1="595.36" y1="265.00" x2="595.36" y2="268.50" stroke="#333" stroke-width="1.3" />
<line x1="597.92" y1="265.00" x2="597.92" y2="268.50" stroke="#333" stroke-width="1.3" />
<line x1="600.20" y1="265.00" x2="600.20" y2="272.50" stroke="#333" stroke-width="1.8" />
<line x1="615.22" y1="265.00" x2="615.22" y2="268.50" stroke="#333" stroke-width="1.3" />
<line x1="624.01" y1="265.00" x2="624.01" y2="268.50" stroke="#333" stroke-width="1.3" />
<line x1="630.24" y1="265.00" x2="630.24" y2="268.50" stroke="#333" stroke-width="1.3" />
<line x1="635.08" y1="265.00" x2="635.08" y2="268.50" stroke="#333" stroke-width="1.3" />
<line x1="639.03" y1="265.00" x2="639.03" y2="268.50" stroke="#333" stroke-width="1.3" />
<line x1="642.37" y1="265.00" x2="642.37" y2="268.50" stroke="#333" stroke-width="1.3" />
<line x1="645.26" y1="265.00" x2="645.26" y2="268.50" stroke="#333" stroke-width="1.3" />
<line x1="647.82" y1="265.00" x2="647.82" y2="268.50" stroke="#333" stroke-width="1.3" />
<line x1="650.10" y1="265.00" x2="650.10" y2="272.50" stroke="#333" stroke-width="1.8" />
<text x="464.0" y="290.3" font-size="10.5" font-weight="bold" fill="#555" text-anchor="middle" font-family='"Liberation Sans", Arial, sans-serif' textLength="16" lengthAdjust="spacingAndGlyphs">10<tspan dy="-6.5" font-size="9.5">0</tspan></text>
<text x="513.9" y="290.3" font-size="10.5" font-weight="bold" fill="#555" text-anchor="middle" font-family='"Liberation Sans", Arial, sans-serif' textLength="16" lengthAdjust="spacingAndGlyphs">10<tspan dy="-6.5" font-size="9.5">1</tspan></text>
<text x="563.8" y="290.3" font-size="10.5" font-weight="bold" fill="#555" text-anchor="middle" font-family='"Liberation Sans", Arial, sans-serif' textLength="16" lengthAdjust="spacingAndGlyphs">10<tspan dy="-6.5" font-size="9.5">2</tspan></text>
<text x="613.7" y="290.3" font-size="10.5" font-weight="bold" fill="#555" text-anchor="middle" font-family='"Liberation Sans", Arial, sans-serif' textLength="16" lengthAdjust="spacingAndGlyphs">10<tspan dy="-6.5" font-size="9.5">3</tspan></text>
<text x="643.1" y="290.3" font-size="10.5" font-weight="bold" fill="#555" text-anchor="middle" font-family='"Liberation Sans", Arial, sans-serif' textLength="16" lengthAdjust="spacingAndGlyphs">10<tspan dy="-6.5" font-size="9.5">4</tspan></text>
<path d="M703.7,264.6 L703.7,264.6 L704.2,264.3 L704.7,264.1 L705.2,263.9 L705.7,263.7 L706.2,263.5 L706.7,263.3 L707.2,263.1 L707.7,262.8 L708.2,262.6 L708.7,262.4 L709.2,262.2 L709.7,262.0 L710.2,261.8 L710.7,261.6 L711.2,261.1 L711.7,260.6 L712.2,260.1 L712.7,259.6 L713.2,259.1 L713.7,258.6 L714.2,258.1 L714.7,257.6 L715.2,257.1 L715.7,256.6 L716.2,256.1 L716.7,255.6 L717.2,255.0 L717.7,254.3 L718.2,253.7 L718.7,253.0 L719.2,252.3 L719.7,251.7 L720.2,251.0 L720.7,250.3 L721.2,249.7 L721.7,249.0 L722.2,248.3 L722.7,247.7 L723.2,247.0 L723.7,246.1 L724.2,245.3 L724.7,244.5 L725.2,243.6 L725.7,242.8 L726.2,242.0 L726.7,241.1 L727.2,240.3 L727.7,239.5 L728.2,238.6 L728.7,237.8 L729.2,237.0 L729.7,236.1 L730.2,235.3 L730.7,234.5 L731.2,233.6 L731.7,232.8 L732.2,232.0 L732.7,231.1 L733.2,230.3 L733.7,229.5 L734.2,228.6 L734.7,227.8 L735.2,227.0 L735.7,226.0 L736.2,225.0 L736.7,224.0 L737.2,223.0 L737.7,222.0 L738.2,221.0 L738.7,220.0 L739.2,219.0 L739.7,218.2 L740.2,217.4 L740.7,216.7 L741.2,215.9 L741.7,215.2 L742.2,214.4 L742.7,213.7 L743.2,212.9 L743.7,211.6 L744.2,209.9 L744.7,208.1 L745.2,206.4 L745.7,204.6 L746.2,202.9 L746.7,201.1 L747.2,199.4 L747.7,198.0 L748.2,197.3 L748.7,196.5 L749.2,195.8 L749.7,195.0 L750.2,194.3 L750.7,193.5 L751.2,192.8 L751.7,191.9 L752.2,190.9 L752.7,189.9 L753.2,188.9 L753.7,187.9 L754.2,186.9 L754.7,185.9 L755.2,184.9 L755.7,183.9 L756.2,182.6 L756.7,181.2 L757.2,179.9 L757.7,178.6 L758.2,177.2 L758.7,175.9 L759.2,174.6 L759.7,173.2 L760.2,171.9 L760.7,170.6 L761.2,169.2 L761.7,167.9 L762.2,166.9 L762.7,165.9 L763.2,164.9 L763.7,163.9 L764.2,162.9 L764.7,161.9 L765.2,158.7 L765.7,154.7 L766.2,150.7 L766.7,146.7 L767.2,144.9 L767.7,144.2 L768.2,143.6 L768.7,144.0 L769.2,146.2 L769.7,148.3 L770.2,149.9 L770.7,150.9 L771.2,151.9 L771.7,152.9 L772.2,152.9 L772.7,151.6 L773.2,150.4 L773.7,149.1 L774.2,149.0 L774.7,150.7 L775.2,152.5 L775.7,154.2 L776.2,156.0 L776.7,158.0 L777.2,160.0 L777.7,162.0 L778.2,163.7 L778.7,164.2 L779.2,164.7 L779.7,165.2 L780.2,165.7 L780.7,166.2 L781.2,166.7 L781.7,167.2 L782.2,167.7 L782.7,168.2 L783.2,168.7 L783.7,169.2 L784.2,169.7 L784.7,171.7 L785.2,173.7 L785.7,175.7 L786.2,177.7 L786.7,179.7 L787.2,181.7 L787.7,183.7 L788.2,185.7 L788.7,187.7 L789.2,189.7 L789.7,191.7 L790.2,193.7 L790.7,195.1 L791.2,196.4 L791.7,197.6 L792.2,198.9 L792.7,200.1 L793.2,201.4 L793.7,202.6 L794.2,203.9 L794.7,205.0 L795.2,206.0 L795.7,207.0 L796.2,208.0 L796.7,209.0 L797.2,210.0 L797.7,211.0 L798.2,212.0 L798.7,212.8 L799.2,213.5 L799.7,214.2 L800.2,214.8 L800.7,215.5 L801.2,216.2 L801.7,216.8 L802.2,217.5 L802.7,218.2 L803.2,218.8 L803.7,219.5 L804.2,220.2 L804.7,220.8 L805.2,221.5 L805.7,222.2 L806.2,222.8 L806.7,223.5 L807.2,224.2 L807.7,224.8 L808.2,225.5 L808.7,226.2 L809.2,226.8 L809.7,227.5 L810.2,228.2 L810.7,228.8 L811.2,229.4 L811.7,229.9 L812.2,230.4 L812.7,230.9 L813.2,231.4 L813.7,231.9 L814.2,232.4 L814.7,232.9 L815.2,233.4 L815.7,233.9 L816.2,234.4 L816.7,234.9 L817.2,235.3 L817.7,235.6 L818.2,236.0 L818.7,236.4 L819.2,236.8 L819.7,237.1 L820.2,237.5 L820.7,237.9 L821.2,238.3 L821.7,238.6 L822.2,239.0 L822.7,239.4 L823.2,239.8 L823.7,240.1 L824.2,240.5 L824.7,240.9 L825.2,241.2 L825.7,241.5 L826.2,241.7 L826.7,242.0 L827.2,242.2 L827.7,242.5 L828.2,242.7 L828.7,243.0 L829.2,243.2 L829.7,243.5 L830.2,243.7 L830.7,244.0 L831.2,244.2 L831.7,244.5 L832.2,244.7 L832.7,245.0 L833.2,245.2 L833.7,245.6 L834.2,245.9 L834.7,246.2 L835.2,246.6 L835.7,246.9 L836.2,247.2 L836.7,247.6 L837.2,247.9 L837.7,248.2 L838.2,248.6 L838.7,248.9 L839.2,249.2 L839.7,249.7 L840.2,250.2 L840.7,250.7 L841.2,251.2 L841.7,251.7 L842.2,252.2 L842.7,252.7 L843.2,253.2 L843.7,253.7 L844.2,254.2 L844.7,254.7 L845.2,255.2 L845.7,255.5 L846.2,255.6 L846.7,255.7 L847.2,255.9 L847.7,256.0 L848.2,256.1 L848.7,256.2 L849.2,256.4 L849.7,256.5 L850.2,256.6 L850.7,256.7 L851.2,256.9 L851.7,257.0 L852.2,257.1 L852.7,257.2 L853.2,257.4 L853.7,257.5 L854.2,257.8 L854.7,258.0 L855.2,258.3 L855.7,258.5 L856.2,258.8 L856.7,259.0 L857.2,259.3 L857.7,259.5 L858.2,259.8 L858.7,260.0 L859.2,260.3 L859.7,260.5 L860.2,260.8 L860.7,261.0 L861.2,261.3 L861.7,261.5 L862.2,261.6 L862.7,261.7 L863.2,261.8 L863.7,261.9 L864.2,262.0 L864.7,262.1 L865.2,262.2 L865.7,262.3 L866.2,262.4 L866.7,262.5 L867.2,262.6 L867.7,262.7 L868.2,262.8 L868.7,262.9 L869.2,263.0 L869.7,263.1 L870.2,263.2 L870.7,263.3 L871.2,263.4 L871.7,263.5 L872.2,263.6 L872.7,263.6 L873.2,263.7 L873.7,263.7 L874.2,263.8 L874.7,263.8 L875.2,263.8 L875.7,263.9 L876.2,263.9 L876.7,264.0 L877.2,264.0 L877.7,264.0 L878.2,264.1 L878.7,264.1 L879.2,264.2 L879.7,264.2 L880.2,264.3 L880.7,264.3 L881.2,264.3 L881.7,264.4 L882.2,264.4 L882.7,264.5 L883.2,264.5 L883.7,264.5 L884.2,264.6 L884.7,264.6 L885.2,264.6 L885.7,264.6 L886.2,264.6 L886.7,264.6 L887.2,264.6 L887.7,264.6 L888.2,264.6 L888.7,264.6 L889.2,264.6 L889.7,264.6 L890.2,264.6 L890.7,264.6 L891.2,264.6 L891.7,264.6 L892.2,264.6 L892.7,264.6 L893.2,264.6 L893.7,264.6 L894.2,264.6 L894.7,264.6 L895.2,264.6 L895.7,264.6 L896.2,264.6 L896.7,264.6 L897.2,264.6 L897.7,264.6 L898.2,264.6 L898.7,264.6 L899.2,264.6 L899.7,264.6 L900.2,264.6 L900.7,264.6 L901.2,264.6 L901.7,264.6 L902.2,264.6 L902.7,264.6 L903.2,264.6 L903.7,264.6 L904.2,264.6 L904.7,264.6 L905.2,264.6 L905.7,264.6 L906.2,264.6 L906.2,264.6Z" fill="#96edfa"/>
<path d="M703.7,264.6 L703.7,239.0 L704.2,238.5 L704.7,238.0 L705.2,237.5 L705.7,237.0 L706.2,234.0 L706.7,231.0 L707.2,228.0 L707.7,225.0 L708.2,222.0 L708.7,219.0 L709.2,216.7 L709.7,214.4 L710.2,212.2 L710.7,209.9 L711.2,207.7 L711.7,205.4 L712.2,203.2 L712.7,200.9 L713.2,198.4 L713.7,195.7 L714.2,193.0 L714.7,190.4 L715.2,187.7 L715.7,185.0 L716.2,183.6 L716.7,182.8 L717.2,182.1 L717.7,181.3 L718.2,181.9 L718.7,183.7 L719.2,185.4 L719.7,187.2 L720.2,188.9 L720.7,190.5 L721.2,192.2 L721.7,193.9 L722.2,195.5 L722.7,197.2 L723.2,197.6 L723.7,195.6 L724.2,193.6 L724.7,191.6 L725.2,189.4 L725.7,186.8 L726.2,184.1 L726.7,181.4 L727.2,178.8 L727.7,176.1 L728.2,173.7 L728.7,172.7 L729.2,171.7 L729.7,170.7 L730.2,169.7 L730.7,168.7 L731.2,167.7 L731.7,168.4 L732.2,169.1 L732.7,169.7 L733.2,170.4 L733.7,171.1 L734.2,171.7 L734.7,172.0 L735.2,172.3 L735.7,172.5 L736.2,172.8 L736.7,173.0 L737.2,173.3 L737.7,173.5 L738.2,173.8 L738.7,173.9 L739.2,174.0 L739.7,174.2 L740.2,174.3 L740.7,174.4 L741.2,174.5 L741.7,174.7 L742.2,174.8 L742.7,174.2 L743.2,173.0 L743.7,171.8 L744.2,170.7 L744.7,169.5 L745.2,168.3 L745.7,167.9 L746.2,168.4 L746.7,168.9 L747.2,169.4 L747.7,170.5 L748.2,172.5 L748.7,174.5 L749.2,176.5 L749.7,178.1 L750.2,178.9 L750.7,179.6 L751.2,180.4 L751.7,180.8 L752.2,180.0 L752.7,179.3 L753.2,178.5 L753.7,178.0 L754.2,178.5 L754.7,179.0 L755.2,179.5 L755.7,179.9 L756.2,178.9 L756.7,177.9 L757.2,176.9 L757.7,175.9 L758.2,175.7 L758.7,175.6 L759.2,175.5 L759.7,175.4 L760.2,175.2 L760.7,175.1 L761.2,175.0 L761.7,174.9 L762.2,174.7 L762.7,174.6 L763.2,174.5 L763.7,174.4 L764.2,174.2 L764.7,174.1 L765.2,174.0 L765.7,173.9 L766.2,173.7 L766.7,173.6 L767.2,173.5 L767.7,173.4 L768.2,173.2 L768.7,173.1 L769.2,173.0 L769.7,172.9 L770.2,172.0 L770.7,170.5 L771.2,169.0 L771.7,167.5 L772.2,166.0 L772.7,164.5 L773.2,164.0 L773.7,165.0 L774.2,166.0 L774.7,167.0 L775.2,168.2 L775.7,169.9 L776.2,171.6 L776.7,173.2 L777.2,174.9 L777.7,176.6 L778.2,178.2 L778.7,179.9 L779.2,181.6 L779.7,183.2 L780.2,184.9 L780.7,186.6 L781.2,188.3 L781.7,190.6 L782.2,193.0 L782.7,195.3 L783.2,197.6 L783.7,200.0 L784.2,202.3 L784.7,205.0 L785.2,207.6 L785.7,210.3 L786.2,213.0 L786.7,215.6 L787.2,218.3 L787.7,221.5 L788.2,224.9 L788.7,228.2 L789.2,231.5 L789.7,234.9 L790.2,238.2 L790.7,239.8 L791.2,240.8 L791.7,241.8 L792.2,242.8 L792.7,243.8 L793.2,244.8 L793.7,245.8 L794.2,246.8 L794.7,247.5 L795.2,248.0 L795.7,248.5 L796.2,249.0 L796.7,249.5 L797.2,250.0 L797.7,250.5 L798.2,251.0 L798.7,251.5 L799.2,252.0 L799.7,252.5 L800.2,253.0 L800.7,253.5 L801.2,253.8 L801.7,254.1 L802.2,254.5 L802.7,254.8 L803.2,255.1 L803.7,255.5 L804.2,255.8 L804.7,256.1 L805.2,256.5 L805.7,256.8 L806.2,257.1 L806.7,257.5 L807.2,257.8 L807.7,258.1 L808.2,258.5 L808.7,258.8 L809.2,259.1 L809.7,259.5 L810.2,259.8 L810.7,260.1 L811.2,260.5 L811.7,260.8 L812.2,261.1 L812.7,261.5 L813.2,261.7 L813.7,261.9 L814.2,262.1 L814.7,262.4 L815.2,262.6 L815.7,262.8 L816.2,263.0 L816.7,263.2 L817.2,263.4 L817.7,263.7 L818.2,263.9 L818.7,264.1 L819.2,264.6 L819.7,264.6 L820.2,264.6 L820.7,264.6 L821.2,264.6 L821.7,264.6 L822.2,264.6 L822.7,264.6 L823.2,264.6 L823.7,264.6 L824.2,264.6 L824.7,264.6 L825.2,264.6 L825.7,264.6 L826.2,264.6 L826.7,264.6 L827.2,264.6 L827.7,264.6 L828.2,264.6 L828.7,264.6 L829.2,264.6 L829.7,264.6 L830.2,264.6 L830.7,264.6 L831.2,264.6 L831.7,264.6 L832.2,264.6 L832.7,264.6 L833.2,264.6 L833.7,264.6 L834.2,264.6 L834.7,264.6 L835.2,264.6 L835.7,264.6 L836.2,264.6 L836.7,264.6 L837.2,264.6 L837.7,264.6 L838.2,264.6 L838.7,264.6 L839.2,264.6 L839.7,264.6 L840.2,264.6 L840.7,264.6 L841.2,264.6 L841.7,264.6 L842.2,264.6 L842.7,264.6 L843.2,264.6 L843.7,264.6 L844.2,264.6 L844.7,264.6 L845.2,264.6 L845.7,264.6 L846.2,264.6 L846.7,264.6 L847.2,264.6 L847.7,264.6 L848.2,264.6 L848.7,264.6 L849.2,264.6 L849.7,264.6 L850.2,264.6 L850.7,264.6 L851.2,264.6 L851.7,264.6 L852.2,264.6 L852.7,264.6 L853.2,264.6 L853.7,264.6 L854.2,264.6 L854.7,264.6 L855.2,264.6 L855.7,264.6 L856.2,264.6 L856.7,264.6 L857.2,264.6 L857.7,264.6 L858.2,264.6 L858.7,264.6 L859.2,264.6 L859.7,264.6 L860.2,264.6 L860.7,264.6 L861.2,264.6 L861.7,264.6 L862.2,264.6 L862.7,264.6 L863.2,264.6 L863.7,264.6 L864.2,264.6 L864.7,264.6 L865.2,264.6 L865.7,264.6 L866.2,264.6 L866.7,264.6 L867.2,264.6 L867.7,264.6 L868.2,264.6 L868.7,264.6 L869.2,264.6 L869.7,264.6 L870.2,264.6 L870.7,264.6 L871.2,264.6 L871.7,264.6 L872.2,264.6 L872.7,264.6 L873.2,264.6 L873.7,264.6 L874.2,264.6 L874.7,264.6 L875.2,264.6 L875.7,264.6 L876.2,264.6 L876.7,264.6 L877.2,264.6 L877.7,264.6 L878.2,264.6 L878.7,264.6 L879.2,264.6 L879.7,264.6 L880.2,264.6 L880.7,264.6 L881.2,264.6 L881.7,264.6 L882.2,264.6 L882.7,264.6 L883.2,264.6 L883.7,264.6 L884.2,264.6 L884.7,264.6 L885.2,264.6 L885.7,264.6 L886.2,264.6 L886.7,264.6 L887.2,264.6 L887.7,264.6 L888.2,264.6 L888.7,264.6 L889.2,264.6 L889.7,264.6 L890.2,264.6 L890.7,264.6 L891.2,264.6 L891.7,264.6 L892.2,264.6 L892.7,264.6 L893.2,264.6 L893.7,264.6 L894.2,264.6 L894.7,264.6 L895.2,264.6 L895.7,264.6 L896.2,264.6 L896.7,264.6 L897.2,264.6 L897.7,264.6 L898.2,264.6 L898.7,264.6 L899.2,264.6 L899.7,264.6 L900.2,264.6 L900.7,264.6 L901.2,264.6 L901.7,264.6 L902.2,264.6 L902.7,264.6 L903.2,264.6 L903.7,264.6 L904.2,264.6 L904.7,264.6 L905.2,264.6 L905.7,264.6 L906.2,264.6 L906.2,264.6Z" fill="#fa9c9c"/>
<path d="M703.7,264.6 L703.7,264.6 L704.2,264.3 L704.7,264.1 L705.2,263.9 L705.7,263.7 L706.2,263.5 L706.7,263.3 L707.2,263.1 L707.7,262.8 L708.2,262.6 L708.7,262.4 L709.2,262.2 L709.7,262.0 L710.2,261.8 L710.7,261.6 L711.2,261.1 L711.7,260.6 L712.2,260.1 L712.7,259.6 L713.2,259.1 L713.7,258.6 L714.2,258.1 L714.7,257.6 L715.2,257.1 L715.7,256.6 L716.2,256.1 L716.7,255.6 L717.2,255.0 L717.7,254.3 L718.2,253.7 L718.7,253.0 L719.2,252.3 L719.7,251.7 L720.2,251.0 L720.7,250.3 L721.2,249.7 L721.7,249.0 L722.2,248.3 L722.7,247.7 L723.2,247.0 L723.7,246.1 L724.2,245.3 L724.7,244.5 L725.2,243.6 L725.7,242.8 L726.2,242.0 L726.7,241.1 L727.2,240.3 L727.7,239.5 L728.2,238.6 L728.7,237.8 L729.2,237.0 L729.7,236.1 L730.2,235.3 L730.7,234.5 L731.2,233.6 L731.7,232.8 L732.2,232.0 L732.7,231.1 L733.2,230.3 L733.7,229.5 L734.2,228.6 L734.7,227.8 L735.2,227.0 L735.7,226.0 L736.2,225.0 L736.7,224.0 L737.2,223.0 L737.7,222.0 L738.2,221.0 L738.7,220.0 L739.2,219.0 L739.7,218.2 L740.2,217.4 L740.7,216.7 L741.2,215.9 L741.7,215.2 L742.2,214.4 L742.7,213.7 L743.2,212.9 L743.7,211.6 L744.2,209.9 L744.7,208.1 L745.2,206.4 L745.7,204.6 L746.2,202.9 L746.7,201.1 L747.2,199.4 L747.7,198.0 L748.2,197.3 L748.7,196.5 L749.2,195.8 L749.7,195.0 L750.2,194.3 L750.7,193.5 L751.2,192.8 L751.7,191.9 L752.2,190.9 L752.7,189.9 L753.2,188.9 L753.7,187.9 L754.2,186.9 L754.7,185.9 L755.2,184.9 L755.7,183.9 L756.2,182.6 L756.7,181.2 L757.2,179.9 L757.7,178.6 L758.2,177.2 L758.7,175.9 L759.2,175.5 L759.7,175.4 L760.2,175.2 L760.7,175.1 L761.2,175.0 L761.7,174.9 L762.2,174.7 L762.7,174.6 L763.2,174.5 L763.7,174.4 L764.2,174.2 L764.7,174.1 L765.2,174.0 L765.7,173.9 L766.2,173.7 L766.7,173.6 L767.2,173.5 L767.7,173.4 L768.2,173.2 L768.7,173.1 L769.2,173.0 L769.7,172.9 L770.2,172.0 L770.7,170.5 L771.2,169.0 L771.7,167.5 L772.2,166.0 L772.7,164.5 L773.2,164.0 L773.7,165.0 L774.2,166.0 L774.7,167.0 L775.2,168.2 L775.7,169.9 L776.2,171.6 L776.7,173.2 L777.2,174.9 L777.7,176.6 L778.2,178.2 L778.7,179.9 L779.2,181.6 L779.7,183.2 L780.2,184.9 L780.7,186.6 L781.2,188.3 L781.7,190.6 L782.2,193.0 L782.7,195.3 L783.2,197.6 L783.7,200.0 L784.2,202.3 L784.7,205.0 L785.2,207.6 L785.7,210.3 L786.2,213.0 L786.7,215.6 L787.2,218.3 L787.7,221.5 L788.2,224.9 L788.7,228.2 L789.2,231.5 L789.7,234.9 L790.2,238.2 L790.7,239.8 L791.2,240.8 L791.7,241.8 L792.2,242.8 L792.7,243.8 L793.2,244.8 L793.7,245.8 L794.2,246.8 L794.7,247.5 L795.2,248.0 L795.7,248.5 L796.2,249.0 L796.7,249.5 L797.2,250.0 L797.7,250.5 L798.2,251.0 L798.7,251.5 L799.2,252.0 L799.7,252.5 L800.2,253.0 L800.7,253.5 L801.2,253.8 L801.7,254.1 L802.2,254.5 L802.7,254.8 L803.2,255.1 L803.7,255.5 L804.2,255.8 L804.7,256.1 L805.2,256.5 L805.7,256.8 L806.2,257.1 L806.7,257.5 L807.2,257.8 L807.7,258.1 L808.2,258.5 L808.7,258.8 L809.2,259.1 L809.7,259.5 L810.2,259.8 L810.7,260.1 L811.2,260.5 L811.7,260.8 L812.2,261.1 L812.7,261.5 L813.2,261.7 L813.7,261.9 L814.2,262.1 L814.7,262.4 L815.2,262.6 L815.7,262.8 L816.2,263.0 L816.7,263.2 L817.2,263.4 L817.7,263.7 L818.2,263.9 L818.7,264.1 L819.2,264.6 L819.7,264.6 L820.2,264.6 L820.7,264.6 L821.2,264.6 L821.7,264.6 L822.2,264.6 L822.7,264.6 L823.2,264.6 L823.7,264.6 L824.2,264.6 L824.7,264.6 L825.2,264.6 L825.7,264.6 L826.2,264.6 L826.7,264.6 L827.2,264.6 L827.7,264.6 L828.2,264.6 L828.7,264.6 L829.2,264.6 L829.7,264.6 L830.2,264.6 L830.7,264.6 L831.2,264.6 L831.7,264.6 L832.2,264.6 L832.7,264.6 L833.2,264.6 L833.7,264.6 L834.2,264.6 L834.7,264.6 L835.2,264.6 L835.7,264.6 L836.2,264.6 L836.7,264.6 L837.2,264.6 L837.7,264.6 L838.2,264.6 L838.7,264.6 L839.2,264.6 L839.7,264.6 L840.2,264.6 L840.7,264.6 L841.2,264.6 L841.7,264.6 L842.2,264.6 L842.7,264.6 L843.2,264.6 L843.7,264.6 L844.2,264.6 L844.7,264.6 L845.2,264.6 L845.7,264.6 L846.2,264.6 L846.7,264.6 L847.2,264.6 L847.7,264.6 L848.2,264.6 L848.7,264.6 L849.2,264.6 L849.7,264.6 L850.2,264.6 L850.7,264.6 L851.2,264.6 L851.7,264.6 L852.2,264.6 L852.7,264.6 L853.2,264.6 L853.7,264.6 L854.2,264.6 L854.7,264.6 L855.2,264.6 L855.7,264.6 L856.2,264.6 L856.7,264.6 L857.2,264.6 L857.7,264.6 L858.2,264.6 L858.7,264.6 L859.2,264.6 L859.7,264.6 L860.2,264.6 L860.7,264.6 L861.2,264.6 L861.7,264.6 L862.2,264.6 L862.7,264.6 L863.2,264.6 L863.7,264.6 L864.2,264.6 L864.7,264.6 L865.2,264.6 L865.7,264.6 L866.2,264.6 L866.7,264.6 L867.2,264.6 L867.7,264.6 L868.2,264.6 L868.7,264.6 L869.2,264.6 L869.7,264.6 L870.2,264.6 L870.7,264.6 L871.2,264.6 L871.7,264.6 L872.2,264.6 L872.7,264.6 L873.2,264.6 L873.7,264.6 L874.2,264.6 L874.7,264.6 L875.2,264.6 L875.7,264.6 L876.2,264.6 L876.7,264.6 L877.2,264.6 L877.7,264.6 L878.2,264.6 L878.7,264.6 L879.2,264.6 L879.7,264.6 L880.2,264.6 L880.7,264.6 L881.2,264.6 L881.7,264.6 L882.2,264.6 L882.7,264.6 L883.2,264.6 L883.7,264.6 L884.2,264.6 L884.7,264.6 L885.2,264.6 L885.7,264.6 L886.2,264.6 L886.7,264.6 L887.2,264.6 L887.7,264.6 L888.2,264.6 L888.7,264.6 L889.2,264.6 L889.7,264.6 L890.2,264.6 L890.7,264.6 L891.2,264.6 L891.7,264.6 L892.2,264.6 L892.7,264.6 L893.2,264.6 L893.7,264.6 L894.2,264.6 L894.7,264.6 L895.2,264.6 L895.7,264.6 L896.2,264.6 L896.7,264.6 L897.2,264.6 L897.7,264.6 L898.2,264.6 L898.7,264.6 L899.2,264.6 L899.7,264.6 L900.2,264.6 L900.7,264.6 L901.2,264.6 L901.7,264.6 L902.2,264.6 L902.7,264.6 L903.2,264.6 L903.7,264.6 L904.2,264.6 L904.7,264.6 L905.2,264.6 L905.7,264.6 L906.2,264.6 L906.2,264.6Z" fill="#94b4cb"/>
<path d="M703.7,264.6 L704.2,264.3 L704.7,264.1 L705.2,263.9 L705.7,263.7 L706.2,263.5 L706.7,263.3 L707.2,263.1 L707.7,262.8 L708.2,262.6 L708.7,262.4 L709.2,262.2 L709.7,262.0 L710.2,261.8 L710.7,261.6 L711.2,261.1 L711.7,260.6 L712.2,260.1 L712.7,259.6 L713.2,259.1 L713.7,258.6 L714.2,258.1 L714.7,257.6 L715.2,257.1 L715.7,256.6 L716.2,256.1 L716.7,255.6 L717.2,255.0 L717.7,254.3 L718.2,253.7 L718.7,253.0 L719.2,252.3 L719.7,251.7 L720.2,251.0 L720.7,250.3 L721.2,249.7 L721.7,249.0 L722.2,248.3 L722.7,247.7 L723.2,247.0 L723.7,246.1 L724.2,245.3 L724.7,244.5 L725.2,243.6 L725.7,242.8 L726.2,242.0 L726.7,241.1 L727.2,240.3 L727.7,239.5 L728.2,238.6 L728.7,237.8 L729.2,237.0 L729.7,236.1 L730.2,235.3 L730.7,234.5 L731.2,233.6 L731.7,232.8 L732.2,232.0 L732.7,231.1 L733.2,230.3 L733.7,229.5 L734.2,228.6 L734.7,227.8 L735.2,227.0 L735.7,226.0 L736.2,225.0 L736.7,224.0 L737.2,223.0 L737.7,222.0 L738.2,221.0 L738.7,220.0 L739.2,219.0 L739.7,218.2 L740.2,217.4 L740.7,216.7 L741.2,215.9 L741.7,215.2 L742.2,214.4 L742.7,213.7 L743.2,212.9 L743.7,211.6 L744.2,209.9 L744.7,208.1 L745.2,206.4 L745.7,204.6 L746.2,202.9 L746.7,201.1 L747.2,199.4 L747.7,198.0 L748.2,197.3 L748.7,196.5 L749.2,195.8 L749.7,195.0 L750.2,194.3 L750.7,193.5 L751.2,192.8 L751.7,191.9 L752.2,190.9 L752.7,189.9 L753.2,188.9 L753.7,187.9 L754.2,186.9 L754.7,185.9 L755.2,184.9 L755.7,183.9 L756.2,182.6 L756.7,181.2 L757.2,179.9 L757.7,178.6 L758.2,177.2 L758.7,175.9 L759.2,174.6 L759.7,173.2 L760.2,171.9 L760.7,170.6 L761.2,169.2 L761.7,167.9 L762.2,166.9 L762.7,165.9 L763.2,164.9 L763.7,163.9 L764.2,162.9 L764.7,161.9 L765.2,158.7 L765.7,154.7 L766.2,150.7 L766.7,146.7 L767.2,144.9 L767.7,144.2 L768.2,143.6 L768.7,144.0 L769.2,146.2 L769.7,148.3 L770.2,149.9 L770.7,150.9 L771.2,151.9 L771.7,152.9 L772.2,152.9 L772.7,151.6 L773.2,150.4 L773.7,149.1 L774.2,149.0 L774.7,150.7 L775.2,152.5 L775.7,154.2 L776.2,156.0 L776.7,158.0 L777.2,160.0 L777.7,162.0 L778.2,163.7 L778.7,164.2 L779.2,164.7 L779.7,165.2 L780.2,165.7 L780.7,166.2 L781.2,166.7 L781.7,167.2 L782.2,167.7 L782.7,168.2 L783.2,168.7 L783.7,169.2 L784.2,169.7 L784.7,171.7 L785.2,173.7 L785.7,175.7 L786.2,177.7 L786.7,179.7 L787.2,181.7 L787.7,183.7 L788.2,185.7 L788.7,187.7 L789.2,189.7 L789.7,191.7 L790.2,193.7 L790.7,195.1 L791.2,196.4 L791.7,197.6 L792.2,198.9 L792.7,200.1 L793.2,201.4 L793.7,202.6 L794.2,203.9 L794.7,205.0 L795.2,206.0 L795.7,207.0 L796.2,208.0 L796.7,209.0 L797.2,210.0 L797.7,211.0 L798.2,212.0 L798.7,212.8 L799.2,213.5 L799.7,214.2 L800.2,214.8 L800.7,215.5 L801.2,216.2 L801.7,216.8 L802.2,217.5 L802.7,218.2 L803.2,218.8 L803.7,219.5 L804.2,220.2 L804.7,220.8 L805.2,221.5 L805.7,222.2 L806.2,222.8 L806.7,223.5 L807.2,224.2 L807.7,224.8 L808.2,225.5 L808.7,226.2 L809.2,226.8 L809.7,227.5 L810.2,228.2 L810.7,228.8 L811.2,229.4 L811.7,229.9 L812.2,230.4 L812.7,230.9 L813.2,231.4 L813.7,231.9 L814.2,232.4 L814.7,232.9 L815.2,233.4 L815.7,233.9 L816.2,234.4 L816.7,234.9 L817.2,235.3 L817.7,235.6 L818.2,236.0 L818.7,236.4 L819.2,236.8 L819.7,237.1 L820.2,237.5 L820.7,237.9 L821.2,238.3 L821.7,238.6 L822.2,239.0 L822.7,239.4 L823.2,239.8 L823.7,240.1 L824.2,240.5 L824.7,240.9 L825.2,241.2 L825.7,241.5 L826.2,241.7 L826.7,242.0 L827.2,242.2 L827.7,242.5 L828.2,242.7 L828.7,243.0 L829.2,243.2 L829.7,243.5 L830.2,243.7 L830.7,244.0 L831.2,244.2 L831.7,244.5 L832.2,244.7 L832.7,245.0 L833.2,245.2 L833.7,245.6 L834.2,245.9 L834.7,246.2 L835.2,246.6 L835.7,246.9 L836.2,247.2 L836.7,247.6 L837.2,247.9 L837.7,248.2 L838.2,248.6 L838.7,248.9 L839.2,249.2 L839.7,249.7 L840.2,250.2 L840.7,250.7 L841.2,251.2 L841.7,251.7 L842.2,252.2 L842.7,252.7 L843.2,253.2 L843.7,253.7 L844.2,254.2 L844.7,254.7 L845.2,255.2 L845.7,255.5 L846.2,255.6 L846.7,255.7 L847.2,255.9 L847.7,256.0 L848.2,256.1 L848.7,256.2 L849.2,256.4 L849.7,256.5 L850.2,256.6 L850.7,256.7 L851.2,256.9 L851.7,257.0 L852.2,257.1 L852.7,257.2 L853.2,257.4 L853.7,257.5 L854.2,257.8 L854.7,258.0 L855.2,258.3 L855.7,258.5 L856.2,258.8 L856.7,259.0 L857.2,259.3 L857.7,259.5 L858.2,259.8 L858.7,260.0 L859.2,260.3 L859.7,260.5 L860.2,260.8 L860.7,261.0 L861.2,261.3 L861.7,261.5 L862.2,261.6 L862.7,261.7 L863.2,261.8 L863.7,261.9 L864.2,262.0 L864.7,262.1 L865.2,262.2 L865.7,262.3 L866.2,262.4 L866.7,262.5 L867.2,262.6 L867.7,262.7 L868.2,262.8 L868.7,262.9 L869.2,263.0 L869.7,263.1 L870.2,263.2 L870.7,263.3 L871.2,263.4 L871.7,263.5 L872.2,263.6 L872.7,263.6 L873.2,263.7 L873.7,263.7 L874.2,263.8 L874.7,263.8 L875.2,263.8 L875.7,263.9 L876.2,263.9 L876.7,264.0 L877.2,264.0 L877.7,264.0 L878.2,264.1 L878.7,264.1 L879.2,264.2 L879.7,264.2 L880.2,264.3 L880.7,264.3 L881.2,264.3 L881.7,264.4 L882.2,264.4 L882.7,264.5 L883.2,264.5 L883.7,264.5 L884.2,264.6 L884.7,264.6 L885.2,264.6 L885.7,264.6 L886.2,264.6 L886.7,264.6 L887.2,264.6 L887.7,264.6 L888.2,264.6 L888.7,264.6 L889.2,264.6 L889.7,264.6 L890.2,264.6 L890.7,264.6 L891.2,264.6 L891.7,264.6 L892.2,264.6 L892.7,264.6 L893.2,264.6 L893.7,264.6 L894.2,264.6" fill="none" stroke="#3ec6e4" stroke-width="1.6" stroke-linejoin="round"/>
<path d="M758.7,175.6 L759.2,175.5 L759.7,175.4 L760.2,175.2 L760.7,175.1 L761.2,175.0 L761.7,174.9 L762.2,174.7 L762.7,174.6 L763.2,174.5 L763.7,174.4 L764.2,174.2 L764.7,174.1 L765.2,174.0 L765.7,173.9 L766.2,173.7 L766.7,173.6 L767.2,173.5 L767.7,173.4 L768.2,173.2 L768.7,173.1 L769.2,173.0 L769.7,172.9 L770.2,172.0 L770.7,170.5 L771.2,169.0 L771.7,167.5 L772.2,166.0 L772.7,164.5 L773.2,164.0 L773.7,165.0 L774.2,166.0 L774.7,167.0 L775.2,168.2 L775.7,169.9 L776.2,171.6 L776.7,173.2 L777.2,174.9 L777.7,176.6 L778.2,178.2 L778.7,179.9 L779.2,181.6 L779.7,183.2 L780.2,184.9 L780.7,186.6 L781.2,188.3 L781.7,190.6 L782.2,193.0 L782.7,195.3 L783.2,197.6 L783.7,200.0 L784.2,202.3 L784.7,205.0 L785.2,207.6 L785.7,210.3 L786.2,213.0 L786.7,215.6 L787.2,218.3 L787.7,221.5 L788.2,224.9 L788.7,228.2 L789.2,231.5 L789.7,234.9 L790.2,238.2 L790.7,239.8 L791.2,240.8 L791.7,241.8 L792.2,242.8 L792.7,243.8 L793.2,244.8 L793.7,245.8 L794.2,246.8 L794.7,247.5 L795.2,248.0 L795.7,248.5 L796.2,249.0 L796.7,249.5 L797.2,250.0 L797.7,250.5 L798.2,251.0 L798.7,251.5 L799.2,252.0 L799.7,252.5 L800.2,253.0 L800.7,253.5 L801.2,253.8 L801.7,254.1 L802.2,254.5 L802.7,254.8 L803.2,255.1 L803.7,255.5 L804.2,255.8 L804.7,256.1 L805.2,256.5 L805.7,256.8 L806.2,257.1 L806.7,257.5 L807.2,257.8 L807.7,258.1 L808.2,258.5 L808.7,258.8 L809.2,259.1 L809.7,259.5 L810.2,259.8 L810.7,260.1 L811.2,260.5 L811.7,260.8 L812.2,261.1 L812.7,261.5 L813.2,261.7 L813.7,261.9 L814.2,262.1 L814.7,262.4 L815.2,262.6 L815.7,262.8 L816.2,263.0 L816.7,263.2 L817.2,263.4 L817.7,263.7 L818.2,263.9 L818.7,264.1" fill="none" stroke="#7a7c9a" stroke-width="1.4" stroke-linejoin="round"/>
<path d="M703.7,239.0 L704.2,238.5 L704.7,238.0 L705.2,237.5 L705.7,237.0 L706.2,234.0 L706.7,231.0 L707.2,228.0 L707.7,225.0 L708.2,222.0 L708.7,219.0 L709.2,216.7 L709.7,214.4 L710.2,212.2 L710.7,209.9 L711.2,207.7 L711.7,205.4 L712.2,203.2 L712.7,200.9 L713.2,198.4 L713.7,195.7 L714.2,193.0 L714.7,190.4 L715.2,187.7 L715.7,185.0 L716.2,183.6 L716.7,182.8 L717.2,182.1 L717.7,181.3 L718.2,181.9 L718.7,183.7 L719.2,185.4 L719.7,187.2 L720.2,188.9 L720.7,190.5 L721.2,192.2 L721.7,193.9 L722.2,195.5 L722.7,197.2 L723.2,197.6 L723.7,195.6 L724.2,193.6 L724.7,191.6 L725.2,189.4 L725.7,186.8 L726.2,184.1 L726.7,181.4 L727.2,178.8 L727.7,176.1 L728.2,173.7 L728.7,172.7 L729.2,171.7 L729.7,170.7 L730.2,169.7 L730.7,168.7 L731.2,167.7 L731.7,168.4 L732.2,169.1 L732.7,169.7 L733.2,170.4 L733.7,171.1 L734.2,171.7 L734.7,172.0 L735.2,172.3 L735.7,172.5 L736.2,172.8 L736.7,173.0 L737.2,173.3 L737.7,173.5 L738.2,173.8 L738.7,173.9 L739.2,174.0 L739.7,174.2 L740.2,174.3 L740.7,174.4 L741.2,174.5 L741.7,174.7 L742.2,174.8 L742.7,174.2 L743.2,173.0 L743.7,171.8 L744.2,170.7 L744.7,169.5 L745.2,168.3 L745.7,167.9 L746.2,168.4 L746.7,168.9 L747.2,169.4 L747.7,170.5 L748.2,172.5 L748.7,174.5 L749.2,176.5 L749.7,178.1 L750.2,178.9 L750.7,179.6 L751.2,180.4 L751.7,180.8 L752.2,180.0 L752.7,179.3 L753.2,178.5 L753.7,178.0 L754.2,178.5 L754.7,179.0 L755.2,179.5 L755.7,179.9 L756.2,178.9 L756.7,177.9 L757.2,176.9 L757.7,175.9 L758.2,175.7 L758.7,175.6 L759.2,175.5" fill="none" stroke="#e4606c" stroke-width="1.4" stroke-linejoin="round"/>
<path d="M739.3,119.4 L703.7,119.4 L703.7,264.6 L906.2,264.6 L906.2,119.4 L878.4,119.4" fill="none" stroke="#333" stroke-width="1.6"/>
<line x1="694.70" y1="264.20" x2="703.70" y2="264.20" stroke="#333" stroke-width="1.6" />
<text x="689.50" y="268.50" font-size="12" font-weight="bold" fill="#555" text-anchor="end" font-family='"Liberation Sans", Arial, sans-serif' textLength="5.7" lengthAdjust="spacingAndGlyphs" >0</text>
<line x1="699.20" y1="254.88" x2="703.70" y2="254.88" stroke="#333" stroke-width="1.6" />
<line x1="699.20" y1="245.55" x2="703.70" y2="245.55" stroke="#333" stroke-width="1.6" />
<line x1="699.20" y1="236.22" x2="703.70" y2="236.22" stroke="#333" stroke-width="1.6" />
<line x1="694.70" y1="226.90" x2="703.70" y2="226.90" stroke="#333" stroke-width="1.6" />
<text x="689.50" y="231.20" font-size="12" font-weight="bold" fill="#555" text-anchor="end" font-family='"Liberation Sans", Arial, sans-serif' textLength="11.4" lengthAdjust="spacingAndGlyphs" >20</text>
<line x1="699.20" y1="217.57" x2="703.70" y2="217.57" stroke="#333" stroke-width="1.6" />
<line x1="699.20" y1="208.25" x2="703.70" y2="208.25" stroke="#333" stroke-width="1.6" />
<line x1="699.20" y1="198.93" x2="703.70" y2="198.93" stroke="#333" stroke-width="1.6" />
<line x1="694.70" y1="189.60" x2="703.70" y2="189.60" stroke="#333" stroke-width="1.6" />
<text x="689.50" y="193.90" font-size="12" font-weight="bold" fill="#555" text-anchor="end" font-family='"Liberation Sans", Arial, sans-serif' textLength="11.4" lengthAdjust="spacingAndGlyphs" >40</text>
<line x1="699.20" y1="180.28" x2="703.70" y2="180.28" stroke="#333" stroke-width="1.6" />
<line x1="699.20" y1="170.95" x2="703.70" y2="170.95" stroke="#333" stroke-width="1.6" />
<line x1="699.20" y1="161.62" x2="703.70" y2="161.62" stroke="#333" stroke-width="1.6" />
<line x1="694.70" y1="152.30" x2="703.70" y2="152.30" stroke="#333" stroke-width="1.6" />
<text x="689.50" y="156.60" font-size="12" font-weight="bold" fill="#555" text-anchor="end" font-family='"Liberation Sans", Arial, sans-serif' textLength="11.4" lengthAdjust="spacingAndGlyphs" >60</text>
<line x1="699.20" y1="142.98" x2="703.70" y2="142.98" stroke="#333" stroke-width="1.6" />
<line x1="699.20" y1="133.65" x2="703.70" y2="133.65" stroke="#333" stroke-width="1.6" />
<line x1="699.20" y1="124.33" x2="703.70" y2="124.33" stroke="#333" stroke-width="1.6" />
<line x1="703.70" y1="264.60" x2="703.70" y2="272.10" stroke="#333" stroke-width="1.8" />
<line x1="718.93" y1="264.60" x2="718.93" y2="268.10" stroke="#333" stroke-width="1.3" />
<line x1="727.84" y1="264.60" x2="727.84" y2="268.10" stroke="#333" stroke-width="1.3" />
<line x1="734.16" y1="264.60" x2="734.16" y2="268.10" stroke="#333" stroke-width="1.3" />
<line x1="739.07" y1="264.60" x2="739.07" y2="268.10" stroke="#333" stroke-width="1.3" />
<line x1="743.07" y1="264.60" x2="743.07" y2="268.10" stroke="#333" stroke-width="1.3" />
<line x1="746.46" y1="264.60" x2="746.46" y2="268.10" stroke="#333" stroke-width="1.3" />
<line x1="749.40" y1="264.60" x2="749.40" y2="268.10" stroke="#333" stroke-width="1.3" />
<line x1="751.98" y1="264.60" x2="751.98" y2="268.10" stroke="#333" stroke-width="1.3" />
<line x1="754.30" y1="264.60" x2="754.30" y2="272.10" stroke="#333" stroke-width="1.8" />
<line x1="769.53" y1="264.60" x2="769.53" y2="268.10" stroke="#333" stroke-width="1.3" />
<line x1="778.44" y1="264.60" x2="778.44" y2="268.10" stroke="#333" stroke-width="1.3" />
<line x1="784.76" y1="264.60" x2="784.76" y2="268.10" stroke="#333" stroke-width="1.3" />
<line x1="789.67" y1="264.60" x2="789.67" y2="268.10" stroke="#333" stroke-width="1.3" />
<line x1="793.67" y1="264.60" x2="793.67" y2="268.10" stroke="#333" stroke-width="1.3" />
<line x1="797.06" y1="264.60" x2="797.06" y2="268.10" stroke="#333" stroke-width="1.3" />
<line x1="800.00" y1="264.60" x2="800.00" y2="268.10" stroke="#333" stroke-width="1.3" />
<line x1="802.58" y1="264.60" x2="802.58" y2="268.10" stroke="#333" stroke-width="1.3" />
<line x1="804.90" y1="264.60" x2="804.90" y2="272.10" stroke="#333" stroke-width="1.8" />
<line x1="820.13" y1="264.60" x2="820.13" y2="268.10" stroke="#333" stroke-width="1.3" />
<line x1="829.04" y1="264.60" x2="829.04" y2="268.10" stroke="#333" stroke-width="1.3" />
<line x1="835.36" y1="264.60" x2="835.36" y2="268.10" stroke="#333" stroke-width="1.3" />
<line x1="840.27" y1="264.60" x2="840.27" y2="268.10" stroke="#333" stroke-width="1.3" />
<line x1="844.27" y1="264.60" x2="844.27" y2="268.10" stroke="#333" stroke-width="1.3" />
<line x1="847.66" y1="264.60" x2="847.66" y2="268.10" stroke="#333" stroke-width="1.3" />
<line x1="850.60" y1="264.60" x2="850.60" y2="268.10" stroke="#333" stroke-width="1.3" />
<line x1="853.18" y1="264.60" x2="853.18" y2="268.10" stroke="#333" stroke-width="1.3" />
<line x1="855.50" y1="264.60" x2="855.50" y2="272.10" stroke="#333" stroke-width="1.8" />
<line x1="870.73" y1="264.60" x2="870.73" y2="268.10" stroke="#333" stroke-width="1.3" />
<line x1="879.64" y1="264.60" x2="879.64" y2="268.10" stroke="#333" stroke-width="1.3" />
<line x1="885.96" y1="264.60" x2="885.96" y2="268.10" stroke="#333" stroke-width="1.3" />
<line x1="890.87" y1="264.60" x2="890.87" y2="268.10" stroke="#333" stroke-width="1.3" />
<line x1="894.87" y1="264.60" x2="894.87" y2="268.10" stroke="#333" stroke-width="1.3" />
<line x1="898.26" y1="264.60" x2="898.26" y2="268.10" stroke="#333" stroke-width="1.3" />
<line x1="901.20" y1="264.60" x2="901.20" y2="268.10" stroke="#333" stroke-width="1.3" />
<line x1="903.78" y1="264.60" x2="903.78" y2="268.10" stroke="#333" stroke-width="1.3" />
<line x1="906.10" y1="264.60" x2="906.10" y2="272.10" stroke="#333" stroke-width="1.8" />
<text x="717.2" y="289.9" font-size="10.5" font-weight="bold" fill="#555" text-anchor="middle" font-family='"Liberation Sans", Arial, sans-serif' textLength="16" lengthAdjust="spacingAndGlyphs">10<tspan dy="-6.5" font-size="9.5">0</tspan></text>
<text x="767.8" y="289.9" font-size="10.5" font-weight="bold" fill="#555" text-anchor="middle" font-family='"Liberation Sans", Arial, sans-serif' textLength="16" lengthAdjust="spacingAndGlyphs">10<tspan dy="-6.5" font-size="9.5">1</tspan></text>
<text x="818.4" y="289.9" font-size="10.5" font-weight="bold" fill="#555" text-anchor="middle" font-family='"Liberation Sans", Arial, sans-serif' textLength="16" lengthAdjust="spacingAndGlyphs">10<tspan dy="-6.5" font-size="9.5">2</tspan></text>
<text x="869.0" y="289.9" font-size="10.5" font-weight="bold" fill="#555" text-anchor="middle" font-family='"Liberation Sans", Arial, sans-serif' textLength="16" lengthAdjust="spacingAndGlyphs">10<tspan dy="-6.5" font-size="9.5">3</tspan></text>
<text x="899.1" y="289.9" font-size="10.5" font-weight="bold" fill="#555" text-anchor="middle" font-family='"Liberation Sans", Arial, sans-serif' textLength="16" lengthAdjust="spacingAndGlyphs">10<tspan dy="-6.5" font-size="9.5">4</tspan></text>
<path d="M447.3,499.1 L447.3,496.3 L447.8,496.3 L448.3,496.3 L448.8,496.3 L449.3,496.3 L449.8,496.3 L450.3,496.3 L450.8,496.3 L451.3,496.3 L451.8,496.3 L452.3,496.3 L452.8,496.3 L453.3,496.3 L453.8,496.3 L454.3,496.2 L454.8,496.2 L455.3,496.1 L455.8,496.0 L456.3,496.0 L456.8,495.9 L457.3,495.8 L457.8,495.8 L458.3,495.7 L458.8,495.7 L459.3,495.6 L459.8,495.5 L460.3,495.5 L460.8,495.4 L461.3,495.3 L461.8,495.2 L462.3,495.0 L462.8,494.8 L463.3,494.6 L463.8,494.4 L464.3,494.2 L464.8,494.1 L465.3,493.9 L465.8,493.7 L466.3,493.5 L466.8,493.3 L467.3,493.1 L467.8,492.9 L468.3,492.7 L468.8,492.6 L469.3,492.0 L469.8,491.4 L470.3,490.7 L470.8,490.0 L471.3,489.4 L471.8,488.7 L472.3,488.0 L472.8,487.4 L473.3,486.7 L473.8,486.0 L474.3,485.4 L474.8,484.6 L475.3,483.6 L475.8,482.6 L476.3,481.6 L476.8,480.6 L477.3,479.6 L477.8,478.6 L478.3,477.6 L478.8,476.6 L479.3,475.6 L479.8,474.6 L480.3,473.6 L480.8,472.6 L481.3,471.6 L481.8,470.6 L482.3,469.3 L482.8,467.7 L483.3,466.0 L483.8,464.3 L484.3,462.7 L484.8,461.0 L485.3,459.6 L485.8,458.2 L486.3,456.9 L486.8,455.6 L487.3,454.2 L487.8,452.9 L488.3,451.9 L488.8,450.9 L489.3,449.9 L489.8,448.9 L490.3,447.9 L490.8,446.9 L491.3,445.9 L491.8,444.8 L492.3,443.5 L492.8,442.3 L493.3,441.0 L493.8,439.8 L494.3,438.5 L494.8,437.3 L495.3,436.0 L495.8,435.0 L496.3,434.0 L496.8,433.0 L497.3,432.0 L497.8,431.0 L498.3,430.1 L498.8,429.2 L499.3,428.3 L499.8,427.4 L500.3,427.3 L500.8,427.9 L501.3,428.5 L501.8,429.1 L502.3,429.7 L502.8,430.3 L503.3,430.7 L503.8,431.0 L504.3,431.3 L504.8,431.7 L505.3,432.0 L505.8,432.3 L506.3,432.7 L506.8,433.0 L507.3,433.3 L507.8,433.7 L508.3,434.0 L508.8,434.6 L509.3,435.4 L509.8,436.1 L510.3,436.9 L510.8,437.6 L511.3,438.4 L511.8,439.1 L512.3,439.9 L512.8,441.2 L513.3,442.4 L513.8,443.7 L514.3,444.9 L514.8,446.2 L515.3,447.4 L515.8,448.7 L516.3,449.8 L516.8,450.8 L517.3,451.8 L517.8,452.8 L518.3,453.8 L518.8,454.8 L519.3,455.8 L519.8,456.7 L520.3,457.4 L520.8,458.1 L521.3,458.7 L521.8,459.4 L522.3,460.1 L522.8,460.6 L523.3,461.0 L523.8,461.4 L524.3,461.8 L524.8,462.1 L525.3,462.5 L525.8,462.9 L526.3,463.3 L526.8,463.7 L527.3,464.2 L527.8,464.7 L528.3,465.2 L528.8,465.7 L529.3,466.2 L529.8,466.7 L530.3,467.2 L530.8,467.7 L531.3,468.2 L531.8,468.7 L532.3,469.2 L532.8,469.7 L533.3,470.1 L533.8,470.5 L534.3,470.8 L534.8,471.1 L535.3,471.5 L535.8,471.8 L536.3,473.2 L536.8,474.5 L537.3,475.8 L537.8,477.2 L538.3,478.5 L538.8,479.6 L539.3,480.4 L539.8,481.1 L540.3,481.9 L540.8,482.6 L541.3,483.4 L541.8,484.1 L542.3,484.9 L542.8,485.2 L543.3,485.4 L543.8,485.7 L544.3,485.9 L544.8,486.2 L545.3,486.4 L545.8,486.7 L546.3,486.9 L546.8,487.2 L547.3,487.4 L547.8,487.7 L548.3,487.9 L548.8,488.2 L549.3,488.4 L549.8,488.7 L550.3,488.9 L550.8,489.2 L551.3,489.4 L551.8,489.7 L552.3,489.9 L552.8,490.2 L553.3,490.4 L553.8,490.7 L554.3,491.0 L554.8,491.4 L555.3,491.7 L555.8,492.0 L556.3,492.4 L556.8,492.7 L557.3,493.0 L557.8,493.4 L558.3,493.7 L558.8,494.0 L559.3,494.4 L559.8,494.5 L560.3,494.7 L560.8,494.9 L561.3,495.0 L561.8,495.2 L562.3,495.4 L562.8,495.5 L563.3,495.7 L563.8,495.9 L564.3,496.0 L564.8,496.2 L565.3,496.4 L565.8,496.5 L566.3,496.6 L566.8,496.8 L567.3,496.9 L567.8,497.0 L568.3,497.2 L568.8,497.3 L569.3,497.4 L569.8,497.6 L570.3,497.7 L570.8,497.8 L571.3,497.8 L571.8,497.8 L572.3,497.8 L572.8,497.9 L573.3,497.9 L573.8,497.9 L574.3,497.9 L574.8,497.9 L575.3,498.0 L575.8,498.0 L576.3,498.0 L576.8,498.0 L577.3,498.0 L577.8,498.1 L578.3,498.1 L578.8,498.1 L579.3,498.1 L579.8,498.1 L580.3,498.2 L580.8,498.2 L581.3,498.3 L581.8,498.3 L582.3,498.4 L582.8,498.4 L583.3,498.5 L583.8,498.5 L584.3,498.6 L584.8,498.6 L585.3,498.7 L585.8,498.7 L586.3,498.8 L586.8,498.8 L587.3,498.9 L587.8,498.9 L588.3,499.0 L588.8,499.0 L589.3,499.1 L589.8,499.1 L590.3,499.1 L590.8,499.1 L591.3,499.1 L591.8,499.1 L592.3,499.1 L592.8,499.1 L593.3,499.1 L593.8,499.1 L594.3,499.1 L594.8,499.1 L595.3,499.1 L595.8,499.1 L596.3,499.1 L596.8,499.1 L597.3,499.1 L597.8,499.1 L598.3,499.1 L598.8,499.1 L599.3,499.1 L599.8,499.1 L600.3,499.1 L600.8,499.1 L601.3,499.1 L601.8,499.1 L602.3,499.1 L602.8,499.1 L603.3,499.1 L603.8,499.1 L604.3,499.1 L604.8,499.1 L605.3,499.1 L605.8,499.1 L606.3,499.1 L606.8,499.1 L607.3,499.1 L607.8,499.1 L608.3,499.1 L608.8,499.1 L609.3,499.1 L609.8,499.1 L610.3,499.1 L610.8,499.1 L611.3,499.1 L611.8,499.1 L612.3,499.1 L612.8,499.1 L613.3,499.1 L613.8,499.1 L614.3,499.1 L614.8,499.1 L615.3,499.1 L615.8,499.1 L616.3,499.1 L616.8,499.1 L617.3,499.1 L617.8,499.1 L618.3,499.1 L618.8,499.1 L619.3,499.1 L619.8,499.1 L620.3,499.1 L620.8,499.1 L621.3,499.1 L621.8,499.1 L622.3,499.1 L622.8,499.1 L623.3,499.1 L623.8,499.1 L624.3,499.1 L624.8,499.1 L625.3,499.1 L625.8,499.1 L626.3,499.1 L626.8,499.1 L627.3,499.1 L627.8,499.1 L628.3,499.1 L628.8,499.1 L629.3,499.1 L629.8,499.1 L630.3,499.1 L630.8,499.1 L631.3,499.1 L631.8,499.1 L632.3,499.1 L632.8,499.1 L633.3,499.1 L633.8,499.1 L634.3,499.1 L634.8,499.1 L635.3,499.1 L635.8,499.1 L636.3,499.1 L636.8,499.1 L637.3,499.1 L637.8,499.1 L638.3,499.1 L638.8,499.1 L639.3,499.1 L639.8,499.1 L640.3,499.1 L640.8,499.1 L641.3,499.1 L641.8,499.1 L642.3,499.1 L642.8,499.1 L643.3,499.1 L643.8,499.1 L644.3,499.1 L644.8,499.1 L645.3,499.1 L645.8,499.1 L646.3,499.1 L646.8,499.1 L647.3,499.1 L647.8,499.1 L648.3,499.1 L648.8,499.1 L649.3,499.1 L649.8,499.1 L650.3,499.1 L650.8,499.1 L651.3,499.1 L651.8,499.1 L652.3,499.1 L652.8,499.1 L653.3,499.1 L653.8,499.1 L654.3,499.1 L654.4,499.1Z" fill="#96edfa"/>
<path d="M447.3,499.1 L447.3,479.3 L447.8,481.8 L448.3,484.3 L448.8,486.8 L449.3,488.9 L449.8,489.4 L450.3,489.9 L450.8,490.4 L451.3,490.5 L451.8,490.2 L452.3,490.0 L452.8,489.7 L453.3,489.5 L453.8,489.2 L454.3,489.0 L454.8,488.7 L455.3,487.8 L455.8,486.8 L456.3,485.8 L456.8,484.8 L457.3,483.8 L457.8,482.6 L458.3,480.9 L458.8,479.3 L459.3,477.6 L459.8,475.9 L460.3,474.3 L460.8,473.8 L461.3,473.9 L461.8,474.1 L462.3,474.3 L462.8,474.4 L463.3,474.6 L463.8,473.8 L464.3,473.0 L464.8,472.1 L465.3,471.3 L465.8,470.5 L466.3,469.4 L466.8,468.1 L467.3,466.8 L467.8,465.4 L468.3,464.1 L468.8,462.8 L469.3,461.3 L469.8,459.8 L470.3,458.3 L470.8,456.8 L471.3,455.3 L471.8,453.8 L472.3,452.3 L472.8,450.8 L473.3,449.0 L473.8,447.3 L474.3,445.5 L474.8,443.8 L475.3,442.0 L475.8,440.3 L476.3,438.5 L476.8,436.3 L477.3,433.8 L477.8,431.3 L478.3,428.8 L478.8,427.6 L479.3,426.6 L479.8,425.6 L480.3,424.6 L480.8,423.6 L481.3,422.4 L481.8,420.4 L482.3,418.4 L482.8,416.4 L483.3,414.4 L483.8,412.4 L484.3,408.7 L484.8,403.7 L485.3,398.7 L485.8,393.7 L486.3,390.1 L486.8,386.9 L487.3,384.4 L487.8,385.4 L488.3,386.3 L488.8,387.3 L489.3,388.3 L489.8,389.5 L490.3,391.5 L490.8,393.5 L491.3,395.5 L491.8,397.5 L492.3,399.5 L492.8,401.4 L493.3,403.2 L493.8,405.1 L494.3,406.9 L494.8,408.7 L495.3,410.6 L495.8,410.8 L496.3,411.1 L496.8,411.3 L497.3,412.2 L497.8,415.3 L498.3,418.5 L498.8,421.7 L499.3,425.3 L499.8,428.8 L500.3,432.1 L500.8,435.1 L501.3,438.1 L501.8,441.1 L502.3,443.5 L502.8,445.9 L503.3,448.2 L503.8,450.5 L504.3,452.9 L504.8,455.2 L505.3,457.5 L505.8,459.9 L506.3,462.2 L506.8,464.5 L507.3,466.9 L507.8,469.0 L508.3,471.0 L508.8,473.0 L509.3,475.0 L509.8,477.0 L510.3,479.0 L510.8,480.4 L511.3,481.6 L511.8,482.9 L512.3,484.1 L512.8,485.4 L513.3,486.6 L513.8,487.9 L514.3,489.0 L514.8,489.8 L515.3,490.6 L515.8,491.4 L516.3,492.2 L516.8,493.0 L517.3,493.8 L517.8,494.6 L518.3,495.4 L518.8,496.2 L519.3,496.5 L519.8,496.7 L520.3,496.9 L520.8,497.1 L521.3,497.3 L521.8,497.5 L522.3,497.7 L522.8,498.0 L523.3,498.2 L523.8,498.4 L524.3,498.6 L524.8,498.8 L525.3,499.0 L525.8,499.1 L526.3,499.1 L526.8,499.1 L527.3,499.1 L527.8,499.1 L528.3,499.1 L528.8,499.1 L529.3,499.1 L529.8,499.1 L530.3,499.1 L530.8,499.1 L531.3,499.1 L531.8,499.1 L532.3,499.1 L532.8,499.1 L533.3,499.1 L533.8,499.1 L534.3,499.1 L534.8,499.1 L535.3,499.1 L535.8,499.1 L536.3,499.1 L536.8,499.1 L537.3,499.1 L537.8,499.1 L538.3,499.1 L538.8,499.1 L539.3,499.1 L539.8,499.1 L540.3,499.1 L540.8,499.1 L541.3,499.1 L541.8,499.1 L542.3,499.1 L542.8,499.1 L543.3,499.1 L543.8,499.1 L544.3,499.1 L544.8,499.1 L545.3,499.1 L545.8,499.1 L546.3,499.1 L546.8,499.1 L547.3,499.1 L547.8,499.1 L548.3,499.1 L548.8,499.1 L549.3,499.1 L549.8,499.1 L550.3,499.1 L550.8,499.1 L551.3,499.1 L551.8,499.1 L552.3,499.1 L552.8,499.1 L553.3,499.1 L553.8,499.1 L554.3,499.1 L554.8,499.1 L555.3,499.1 L555.8,499.1 L556.3,499.1 L556.8,499.1 L557.3,499.1 L557.8,499.1 L558.3,499.1 L558.8,499.1 L559.3,499.1 L559.8,499.1 L560.3,499.1 L560.8,499.1 L561.3,499.1 L561.8,499.1 L562.3,499.1 L562.8,499.1 L563.3,499.1 L563.8,499.1 L564.3,499.1 L564.8,499.1 L565.3,499.1 L565.8,499.1 L566.3,499.1 L566.8,499.1 L567.3,499.1 L567.8,499.1 L568.3,499.1 L568.8,499.1 L569.3,499.1 L569.8,499.1 L570.3,499.1 L570.8,499.1 L571.3,499.1 L571.8,499.1 L572.3,499.1 L572.8,499.1 L573.3,499.1 L573.8,499.1 L574.3,499.1 L574.8,499.1 L575.3,499.1 L575.8,499.1 L576.3,499.1 L576.8,499.1 L577.3,499.1 L577.8,499.1 L578.3,499.1 L578.8,499.1 L579.3,499.1 L579.8,499.1 L580.3,499.1 L580.8,499.1 L581.3,499.1 L581.8,499.1 L582.3,499.1 L582.8,499.1 L583.3,499.1 L583.8,499.1 L584.3,499.1 L584.8,499.1 L585.3,499.1 L585.8,499.1 L586.3,499.1 L586.8,499.1 L587.3,499.1 L587.8,499.1 L588.3,499.1 L588.8,499.1 L589.3,499.1 L589.8,499.1 L590.3,499.1 L590.8,499.1 L591.3,499.1 L591.8,499.1 L592.3,499.1 L592.8,499.1 L593.3,499.1 L593.8,499.1 L594.3,499.1 L594.8,499.1 L595.3,499.1 L595.8,499.1 L596.3,499.1 L596.8,499.1 L597.3,499.1 L597.8,499.1 L598.3,499.1 L598.8,499.1 L599.3,499.1 L599.8,499.1 L600.3,499.1 L600.8,499.1 L601.3,499.1 L601.8,499.1 L602.3,499.1 L602.8,499.1 L603.3,499.1 L603.8,499.1 L604.3,499.1 L604.8,499.1 L605.3,499.1 L605.8,499.1 L606.3,499.1 L606.8,499.1 L607.3,499.1 L607.8,499.1 L608.3,499.1 L608.8,499.1 L609.3,499.1 L609.8,499.1 L610.3,499.1 L610.8,499.1 L611.3,499.1 L611.8,499.1 L612.3,499.1 L612.8,499.1 L613.3,499.1 L613.8,499.1 L614.3,499.1 L614.8,499.1 L615.3,499.1 L615.8,499.1 L616.3,499.1 L616.8,499.1 L617.3,499.1 L617.8,499.1 L618.3,499.1 L618.8,499.1 L619.3,499.1 L619.8,499.1 L620.3,499.1 L620.8,499.1 L621.3,499.1 L621.8,499.1 L622.3,499.1 L622.8,499.1 L623.3,499.1 L623.8,499.1 L624.3,499.1 L624.8,499.1 L625.3,499.1 L625.8,499.1 L626.3,499.1 L626.8,499.1 L627.3,499.1 L627.8,499.1 L628.3,499.1 L628.8,499.1 L629.3,499.1 L629.8,499.1 L630.3,499.1 L630.8,499.1 L631.3,499.1 L631.8,499.1 L632.3,499.1 L632.8,499.1 L633.3,499.1 L633.8,499.1 L634.3,499.1 L634.8,499.1 L635.3,499.1 L635.8,499.1 L636.3,499.1 L636.8,499.1 L637.3,499.1 L637.8,499.1 L638.3,499.1 L638.8,499.1 L639.3,499.1 L639.8,499.1 L640.3,499.1 L640.8,499.1 L641.3,499.1 L641.8,499.1 L642.3,499.1 L642.8,499.1 L643.3,499.1 L643.8,499.1 L644.3,499.1 L644.8,499.1 L645.3,499.1 L645.8,499.1 L646.3,499.1 L646.8,499.1 L647.3,499.1 L647.8,499.1 L648.3,499.1 L648.8,499.1 L649.3,499.1 L649.8,499.1 L650.3,499.1 L650.8,499.1 L651.3,499.1 L651.8,499.1 L652.3,499.1 L652.8,499.1 L653.3,499.1 L653.8,499.1 L654.3,499.1 L654.4,499.1Z" fill="#fa9c9c"/>
<path d="M447.3,499.1 L447.3,496.3 L447.8,496.3 L448.3,496.3 L448.8,496.3 L449.3,496.3 L449.8,496.3 L450.3,496.3 L450.8,496.3 L451.3,496.3 L451.8,496.3 L452.3,496.3 L452.8,496.3 L453.3,496.3 L453.8,496.3 L454.3,496.2 L454.8,496.2 L455.3,496.1 L455.8,496.0 L456.3,496.0 L456.8,495.9 L457.3,495.8 L457.8,495.8 L458.3,495.7 L458.8,495.7 L459.3,495.6 L459.8,495.5 L460.3,495.5 L460.8,495.4 L461.3,495.3 L461.8,495.2 L462.3,495.0 L462.8,494.8 L463.3,494.6 L463.8,494.4 L464.3,494.2 L464.8,494.1 L465.3,493.9 L465.8,493.7 L466.3,493.5 L466.8,493.3 L467.3,493.1 L467.8,492.9 L468.3,492.7 L468.8,492.6 L469.3,492.0 L469.8,491.4 L470.3,490.7 L470.8,490.0 L471.3,489.4 L471.8,488.7 L472.3,488.0 L472.8,487.4 L473.3,486.7 L473.8,486.0 L474.3,485.4 L474.8,484.6 L475.3,483.6 L475.8,482.6 L476.3,481.6 L476.8,480.6 L477.3,479.6 L477.8,478.6 L478.3,477.6 L478.8,476.6 L479.3,475.6 L479.8,474.6 L480.3,473.6 L480.8,472.6 L481.3,471.6 L481.8,470.6 L482.3,469.3 L482.8,467.7 L483.3,466.0 L483.8,464.3 L484.3,462.7 L484.8,461.0 L485.3,459.6 L485.8,458.2 L486.3,456.9 L486.8,455.6 L487.3,454.2 L487.8,452.9 L488.3,451.9 L488.8,450.9 L489.3,449.9 L489.8,448.9 L490.3,447.9 L490.8,446.9 L491.3,445.9 L491.8,444.8 L492.3,443.5 L492.8,442.3 L493.3,441.0 L493.8,439.8 L494.3,438.5 L494.8,437.3 L495.3,436.0 L495.8,435.0 L496.3,434.0 L496.8,433.0 L497.3,432.0 L497.8,431.0 L498.3,430.1 L498.8,429.2 L499.3,428.3 L499.8,428.8 L500.3,432.1 L500.8,435.1 L501.3,438.1 L501.8,441.1 L502.3,443.5 L502.8,445.9 L503.3,448.2 L503.8,450.5 L504.3,452.9 L504.8,455.2 L505.3,457.5 L505.8,459.9 L506.3,462.2 L506.8,464.5 L507.3,466.9 L507.8,469.0 L508.3,471.0 L508.8,473.0 L509.3,475.0 L509.8,477.0 L510.3,479.0 L510.8,480.4 L511.3,481.6 L511.8,482.9 L512.3,484.1 L512.8,485.4 L513.3,486.6 L513.8,487.9 L514.3,489.0 L514.8,489.8 L515.3,490.6 L515.8,491.4 L516.3,492.2 L516.8,493.0 L517.3,493.8 L517.8,494.6 L518.3,495.4 L518.8,496.2 L519.3,496.5 L519.8,496.7 L520.3,496.9 L520.8,497.1 L521.3,497.3 L521.8,497.5 L522.3,497.7 L522.8,498.0 L523.3,498.2 L523.8,498.4 L524.3,498.6 L524.8,498.8 L525.3,499.0 L525.8,499.1 L526.3,499.1 L526.8,499.1 L527.3,499.1 L527.8,499.1 L528.3,499.1 L528.8,499.1 L529.3,499.1 L529.8,499.1 L530.3,499.1 L530.8,499.1 L531.3,499.1 L531.8,499.1 L532.3,499.1 L532.8,499.1 L533.3,499.1 L533.8,499.1 L534.3,499.1 L534.8,499.1 L535.3,499.1 L535.8,499.1 L536.3,499.1 L536.8,499.1 L537.3,499.1 L537.8,499.1 L538.3,499.1 L538.8,499.1 L539.3,499.1 L539.8,499.1 L540.3,499.1 L540.8,499.1 L541.3,499.1 L541.8,499.1 L542.3,499.1 L542.8,499.1 L543.3,499.1 L543.8,499.1 L544.3,499.1 L544.8,499.1 L545.3,499.1 L545.8,499.1 L546.3,499.1 L546.8,499.1 L547.3,499.1 L547.8,499.1 L548.3,499.1 L548.8,499.1 L549.3,499.1 L549.8,499.1 L550.3,499.1 L550.8,499.1 L551.3,499.1 L551.8,499.1 L552.3,499.1 L552.8,499.1 L553.3,499.1 L553.8,499.1 L554.3,499.1 L554.8,499.1 L555.3,499.1 L555.8,499.1 L556.3,499.1 L556.8,499.1 L557.3,499.1 L557.8,499.1 L558.3,499.1 L558.8,499.1 L559.3,499.1 L559.8,499.1 L560.3,499.1 L560.8,499.1 L561.3,499.1 L561.8,499.1 L562.3,499.1 L562.8,499.1 L563.3,499.1 L563.8,499.1 L564.3,499.1 L564.8,499.1 L565.3,499.1 L565.8,499.1 L566.3,499.1 L566.8,499.1 L567.3,499.1 L567.8,499.1 L568.3,499.1 L568.8,499.1 L569.3,499.1 L569.8,499.1 L570.3,499.1 L570.8,499.1 L571.3,499.1 L571.8,499.1 L572.3,499.1 L572.8,499.1 L573.3,499.1 L573.8,499.1 L574.3,499.1 L574.8,499.1 L575.3,499.1 L575.8,499.1 L576.3,499.1 L576.8,499.1 L577.3,499.1 L577.8,499.1 L578.3,499.1 L578.8,499.1 L579.3,499.1 L579.8,499.1 L580.3,499.1 L580.8,499.1 L581.3,499.1 L581.8,499.1 L582.3,499.1 L582.8,499.1 L583.3,499.1 L583.8,499.1 L584.3,499.1 L584.8,499.1 L585.3,499.1 L585.8,499.1 L586.3,499.1 L586.8,499.1 L587.3,499.1 L587.8,499.1 L588.3,499.1 L588.8,499.1 L589.3,499.1 L589.8,499.1 L590.3,499.1 L590.8,499.1 L591.3,499.1 L591.8,499.1 L592.3,499.1 L592.8,499.1 L593.3,499.1 L593.8,499.1 L594.3,499.1 L594.8,499.1 L595.3,499.1 L595.8,499.1 L596.3,499.1 L596.8,499.1 L597.3,499.1 L597.8,499.1 L598.3,499.1 L598.8,499.1 L599.3,499.1 L599.8,499.1 L600.3,499.1 L600.8,499.1 L601.3,499.1 L601.8,499.1 L602.3,499.1 L602.8,499.1 L603.3,499.1 L603.8,499.1 L604.3,499.1 L604.8,499.1 L605.3,499.1 L605.8,499.1 L606.3,499.1 L606.8,499.1 L607.3,499.1 L607.8,499.1 L608.3,499.1 L608.8,499.1 L609.3,499.1 L609.8,499.1 L610.3,499.1 L610.8,499.1 L611.3,499.1 L611.8,499.1 L612.3,499.1 L612.8,499.1 L613.3,499.1 L613.8,499.1 L614.3,499.1 L614.8,499.1 L615.3,499.1 L615.8,499.1 L616.3,499.1 L616.8,499.1 L617.3,499.1 L617.8,499.1 L618.3,499.1 L618.8,499.1 L619.3,499.1 L619.8,499.1 L620.3,499.1 L620.8,499.1 L621.3,499.1 L621.8,499.1 L622.3,499.1 L622.8,499.1 L623.3,499.1 L623.8,499.1 L624.3,499.1 L624.8,499.1 L625.3,499.1 L625.8,499.1 L626.3,499.1 L626.8,499.1 L627.3,499.1 L627.8,499.1 L628.3,499.1 L628.8,499.1 L629.3,499.1 L629.8,499.1 L630.3,499.1 L630.8,499.1 L631.3,499.1 L631.8,499.1 L632.3,499.1 L632.8,499.1 L633.3,499.1 L633.8,499.1 L634.3,499.1 L634.8,499.1 L635.3,499.1 L635.8,499.1 L636.3,499.1 L636.8,499.1 L637.3,499.1 L637.8,499.1 L638.3,499.1 L638.8,499.1 L639.3,499.1 L639.8,499.1 L640.3,499.1 L640.8,499.1 L641.3,499.1 L641.8,499.1 L642.3,499.1 L642.8,499.1 L643.3,499.1 L643.8,499.1 L644.3,499.1 L644.8,499.1 L645.3,499.1 L645.8,499.1 L646.3,499.1 L646.8,499.1 L647.3,499.1 L647.8,499.1 L648.3,499.1 L648.8,499.1 L649.3,499.1 L649.8,499.1 L650.3,499.1 L650.8,499.1 L651.3,499.1 L651.8,499.1 L652.3,499.1 L652.8,499.1 L653.3,499.1 L653.8,499.1 L654.3,499.1 L654.4,499.1Z" fill="#94b4cb"/>
<path d="M447.3,496.3 L447.8,496.3 L448.3,496.3 L448.8,496.3 L449.3,496.3 L449.8,496.3 L450.3,496.3 L450.8,496.3 L451.3,496.3 L451.8,496.3 L452.3,496.3 L452.8,496.3 L453.3,496.3 L453.8,496.3 L454.3,496.2 L454.8,496.2 L455.3,496.1 L455.8,496.0 L456.3,496.0 L456.8,495.9 L457.3,495.8 L457.8,495.8 L458.3,495.7 L458.8,495.7 L459.3,495.6 L459.8,495.5 L460.3,495.5 L460.8,495.4 L461.3,495.3 L461.8,495.2 L462.3,495.0 L462.8,494.8 L463.3,494.6 L463.8,494.4 L464.3,494.2 L464.8,494.1 L465.3,493.9 L465.8,493.7 L466.3,493.5 L466.8,493.3 L467.3,493.1 L467.8,492.9 L468.3,492.7 L468.8,492.6 L469.3,492.0 L469.8,491.4 L470.3,490.7 L470.8,490.0 L471.3,489.4 L471.8,488.7 L472.3,488.0 L472.8,487.4 L473.3,486.7 L473.8,486.0 L474.3,485.4 L474.8,484.6 L475.3,483.6 L475.8,482.6 L476.3,481.6 L476.8,480.6 L477.3,479.6 L477.8,478.6 L478.3,477.6 L478.8,476.6 L479.3,475.6 L479.8,474.6 L480.3,473.6 L480.8,472.6 L481.3,471.6 L481.8,470.6 L482.3,469.3 L482.8,467.7 L483.3,466.0 L483.8,464.3 L484.3,462.7 L484.8,461.0 L485.3,459.6 L485.8,458.2 L486.3,456.9 L486.8,455.6 L487.3,454.2 L487.8,452.9 L488.3,451.9 L488.8,450.9 L489.3,449.9 L489.8,448.9 L490.3,447.9 L490.8,446.9 L491.3,445.9 L491.8,444.8 L492.3,443.5 L492.8,442.3 L493.3,441.0 L493.8,439.8 L494.3,438.5 L494.8,437.3 L495.3,436.0 L495.8,435.0 L496.3,434.0 L496.8,433.0 L497.3,432.0 L497.8,431.0 L498.3,430.1 L498.8,429.2 L499.3,428.3 L499.8,427.4 L500.3,427.3 L500.8,427.9 L501.3,428.5 L501.8,429.1 L502.3,429.7 L502.8,430.3 L503.3,430.7 L503.8,431.0 L504.3,431.3 L504.8,431.7 L505.3,432.0 L505.8,432.3 L506.3,432.7 L506.8,433.0 L507.3,433.3 L507.8,433.7 L508.3,434.0 L508.8,434.6 L509.3,435.4 L509.8,436.1 L510.3,436.9 L510.8,437.6 L511.3,438.4 L511.8,439.1 L512.3,439.9 L512.8,441.2 L513.3,442.4 L513.8,443.7 L514.3,444.9 L514.8,446.2 L515.3,447.4 L515.8,448.7 L516.3,449.8 L516.8,450.8 L517.3,451.8 L517.8,452.8 L518.3,453.8 L518.8,454.8 L519.3,455.8 L519.8,456.7 L520.3,457.4 L520.8,458.1 L521.3,458.7 L521.8,459.4 L522.3,460.1 L522.8,460.6 L523.3,461.0 L523.8,461.4 L524.3,461.8 L524.8,462.1 L525.3,462.5 L525.8,462.9 L526.3,463.3 L526.8,463.7 L527.3,464.2 L527.8,464.7 L528.3,465.2 L528.8,465.7 L529.3,466.2 L529.8,466.7 L530.3,467.2 L530.8,467.7 L531.3,468.2 L531.8,468.7 L532.3,469.2 L532.8,469.7 L533.3,470.1 L533.8,470.5 L534.3,470.8 L534.8,471.1 L535.3,471.5 L535.8,471.8 L536.3,473.2 L536.8,474.5 L537.3,475.8 L537.8,477.2 L538.3,478.5 L538.8,479.6 L539.3,480.4 L539.8,481.1 L540.3,481.9 L540.8,482.6 L541.3,483.4 L541.8,484.1 L542.3,484.9 L542.8,485.2 L543.3,485.4 L543.8,485.7 L544.3,485.9 L544.8,486.2 L545.3,486.4 L545.8,486.7 L546.3,486.9 L546.8,487.2 L547.3,487.4 L547.8,487.7 L548.3,487.9 L548.8,488.2 L549.3,488.4 L549.8,488.7 L550.3,488.9 L550.8,489.2 L551.3,489.4 L551.8,489.7 L552.3,489.9 L552.8,490.2 L553.3,490.4 L553.8,490.7 L554.3,491.0 L554.8,491.4 L555.3,491.7 L555.8,492.0 L556.3,492.4 L556.8,492.7 L557.3,493.0 L557.8,493.4 L558.3,493.7 L558.8,494.0 L559.3,494.4 L559.8,494.5 L560.3,494.7 L560.8,494.9 L561.3,495.0 L561.8,495.2 L562.3,495.4 L562.8,495.5 L563.3,495.7 L563.8,495.9 L564.3,496.0 L564.8,496.2 L565.3,496.4 L565.8,496.5 L566.3,496.6 L566.8,496.8 L567.3,496.9 L567.8,497.0 L568.3,497.2 L568.8,497.3 L569.3,497.4 L569.8,497.6 L570.3,497.7 L570.8,497.8 L571.3,497.8 L571.8,497.8 L572.3,497.8 L572.8,497.9 L573.3,497.9 L573.8,497.9 L574.3,497.9 L574.8,497.9 L575.3,498.0 L575.8,498.0 L576.3,498.0 L576.8,498.0 L577.3,498.0 L577.8,498.1 L578.3,498.1 L578.8,498.1 L579.3,498.1 L579.8,498.1 L580.3,498.2 L580.8,498.2 L581.3,498.3 L581.8,498.3 L582.3,498.4 L582.8,498.4 L583.3,498.5 L583.8,498.5 L584.3,498.6 L584.8,498.6 L585.3,498.7 L585.8,498.7 L586.3,498.8 L586.8,498.8 L587.3,498.9 L587.8,498.9 L588.3,499.0 L588.8,499.0 L589.3,499.1" fill="none" stroke="#3ec6e4" stroke-width="1.6" stroke-linejoin="round"/>
<path d="M499.3,425.3 L499.8,428.8 L500.3,432.1 L500.8,435.1 L501.3,438.1 L501.8,441.1 L502.3,443.5 L502.8,445.9 L503.3,448.2 L503.8,450.5 L504.3,452.9 L504.8,455.2 L505.3,457.5 L505.8,459.9 L506.3,462.2 L506.8,464.5 L507.3,466.9 L507.8,469.0 L508.3,471.0 L508.8,473.0 L509.3,475.0 L509.8,477.0 L510.3,479.0 L510.8,480.4 L511.3,481.6 L511.8,482.9 L512.3,484.1 L512.8,485.4 L513.3,486.6 L513.8,487.9 L514.3,489.0 L514.8,489.8 L515.3,490.6 L515.8,491.4 L516.3,492.2 L516.8,493.0 L517.3,493.8 L517.8,494.6 L518.3,495.4 L518.8,496.2 L519.3,496.5 L519.8,496.7 L520.3,496.9 L520.8,497.1 L521.3,497.3 L521.8,497.5 L522.3,497.7 L522.8,498.0 L523.3,498.2 L523.8,498.4 L524.3,498.6 L524.8,498.8 L525.3,499.0" fill="none" stroke="#7a7c9a" stroke-width="1.4" stroke-linejoin="round"/>
<path d="M447.3,479.3 L447.8,481.8 L448.3,484.3 L448.8,486.8 L449.3,488.9 L449.8,489.4 L450.3,489.9 L450.8,490.4 L451.3,490.5 L451.8,490.2 L452.3,490.0 L452.8,489.7 L453.3,489.5 L453.8,489.2 L454.3,489.0 L454.8,488.7 L455.3,487.8 L455.8,486.8 L456.3,485.8 L456.8,484.8 L457.3,483.8 L457.8,482.6 L458.3,480.9 L458.8,479.3 L459.3,477.6 L459.8,475.9 L460.3,474.3 L460.8,473.8 L461.3,473.9 L461.8,474.1 L462.3,474.3 L462.8,474.4 L463.3,474.6 L463.8,473.8 L464.3,473.0 L464.8,472.1 L465.3,471.3 L465.8,470.5 L466.3,469.4 L466.8,468.1 L467.3,466.8 L467.8,465.4 L468.3,464.1 L468.8,462.8 L469.3,461.3 L469.8,459.8 L470.3,458.3 L470.8,456.8 L471.3,455.3 L471.8,453.8 L472.3,452.3 L472.8,450.8 L473.3,449.0 L473.8,447.3 L474.3,445.5 L474.8,443.8 L475.3,442.0 L475.8,440.3 L476.3,438.5 L476.8,436.3 L477.3,433.8 L477.8,431.3 L478.3,428.8 L478.8,427.6 L479.3,426.6 L479.8,425.6 L480.3,424.6 L480.8,423.6 L481.3,422.4 L481.8,420.4 L482.3,418.4 L482.8,416.4 L483.3,414.4 L483.8,412.4 L484.3,408.7 L484.8,403.7 L485.3,398.7 L485.8,393.7 L486.3,390.1 L486.8,386.9 L487.3,384.4 L487.8,385.4 L488.3,386.3 L488.8,387.3 L489.3,388.3 L489.8,389.5 L490.3,391.5 L490.8,393.5 L491.3,395.5 L491.8,397.5 L492.3,399.5 L492.8,401.4 L493.3,403.2 L493.8,405.1 L494.3,406.9 L494.8,408.7 L495.3,410.6 L495.8,410.8 L496.3,411.1 L496.8,411.3 L497.3,412.2 L497.8,415.3 L498.3,418.5 L498.8,421.7 L499.3,425.3 L499.8,428.8" fill="none" stroke="#e4606c" stroke-width="1.4" stroke-linejoin="round"/>
<rect x="447.3" y="352.2" width="207.09999999999997" height="146.90000000000003" fill="none" stroke="#333" stroke-width="1.6"/>
<line x1="438.30" y1="498.70" x2="447.30" y2="498.70" stroke="#333" stroke-width="1.6" />
<text x="433.10" y="503.00" font-size="12" font-weight="bold" fill="#555" text-anchor="end" font-family='"Liberation Sans", Arial, sans-serif' textLength="5.7" lengthAdjust="spacingAndGlyphs" >0</text>
<line x1="442.80" y1="490.13" x2="447.30" y2="490.13" stroke="#333" stroke-width="1.6" />
<line x1="442.80" y1="481.55" x2="447.30" y2="481.55" stroke="#333" stroke-width="1.6" />
<line x1="442.80" y1="472.98" x2="447.30" y2="472.98" stroke="#333" stroke-width="1.6" />
<line x1="442.80" y1="464.41" x2="447.30" y2="464.41" stroke="#333" stroke-width="1.6" />
<line x1="438.30" y1="455.83" x2="447.30" y2="455.83" stroke="#333" stroke-width="1.6" />
<text x="433.10" y="460.13" font-size="12" font-weight="bold" fill="#555" text-anchor="end" font-family='"Liberation Sans", Arial, sans-serif' textLength="11.4" lengthAdjust="spacingAndGlyphs" >50</text>
<line x1="442.80" y1="447.26" x2="447.30" y2="447.26" stroke="#333" stroke-width="1.6" />
<line x1="442.80" y1="438.69" x2="447.30" y2="438.69" stroke="#333" stroke-width="1.6" />
<line x1="442.80" y1="430.11" x2="447.30" y2="430.11" stroke="#333" stroke-width="1.6" />
<line x1="442.80" y1="421.54" x2="447.30" y2="421.54" stroke="#333" stroke-width="1.6" />
<line x1="438.30" y1="412.97" x2="447.30" y2="412.97" stroke="#333" stroke-width="1.6" />
<text x="433.10" y="417.27" font-size="12" font-weight="bold" fill="#555" text-anchor="end" font-family='"Liberation Sans", Arial, sans-serif' textLength="17.1" lengthAdjust="spacingAndGlyphs" >100</text>
<line x1="442.80" y1="404.39" x2="447.30" y2="404.39" stroke="#333" stroke-width="1.6" />
<line x1="442.80" y1="395.82" x2="447.30" y2="395.82" stroke="#333" stroke-width="1.6" />
<line x1="442.80" y1="387.25" x2="447.30" y2="387.25" stroke="#333" stroke-width="1.6" />
<line x1="442.80" y1="378.67" x2="447.30" y2="378.67" stroke="#333" stroke-width="1.6" />
<line x1="438.30" y1="370.10" x2="447.30" y2="370.10" stroke="#333" stroke-width="1.6" />
<text x="433.10" y="374.40" font-size="12" font-weight="bold" fill="#555" text-anchor="end" font-family='"Liberation Sans", Arial, sans-serif' textLength="17.1" lengthAdjust="spacingAndGlyphs" >150</text>
<line x1="442.80" y1="361.53" x2="447.30" y2="361.53" stroke="#333" stroke-width="1.6" />
<line x1="447.30" y1="499.10" x2="447.30" y2="506.60" stroke="#333" stroke-width="1.8" />
<line x1="462.80" y1="499.10" x2="462.80" y2="502.60" stroke="#333" stroke-width="1.3" />
<line x1="471.87" y1="499.10" x2="471.87" y2="502.60" stroke="#333" stroke-width="1.3" />
<line x1="478.31" y1="499.10" x2="478.31" y2="502.60" stroke="#333" stroke-width="1.3" />
<line x1="483.30" y1="499.10" x2="483.30" y2="502.60" stroke="#333" stroke-width="1.3" />
<line x1="487.37" y1="499.10" x2="487.37" y2="502.60" stroke="#333" stroke-width="1.3" />
<line x1="490.82" y1="499.10" x2="490.82" y2="502.60" stroke="#333" stroke-width="1.3" />
<line x1="493.81" y1="499.10" x2="493.81" y2="502.60" stroke="#333" stroke-width="1.3" />
<line x1="496.44" y1="499.10" x2="496.44" y2="502.60" stroke="#333" stroke-width="1.3" />
<line x1="498.80" y1="499.10" x2="498.80" y2="506.60" stroke="#333" stroke-width="1.8" />
<line x1="514.30" y1="499.10" x2="514.30" y2="502.60" stroke="#333" stroke-width="1.3" />
<line x1="523.37" y1="499.10" x2="523.37" y2="502.60" stroke="#333" stroke-width="1.3" />
<line x1="529.81" y1="499.10" x2="529.81" y2="502.60" stroke="#333" stroke-width="1.3" />
<line x1="534.80" y1="499.10" x2="534.80" y2="502.60" stroke="#333" stroke-width="1.3" />
<line x1="538.87" y1="499.10" x2="538.87" y2="502.60" stroke="#333" stroke-width="1.3" />
<line x1="542.32" y1="499.10" x2="542.32" y2="502.60" stroke="#333" stroke-width="1.3" />
<line x1="545.31" y1="499.10" x2="545.31" y2="502.60" stroke="#333" stroke-width="1.3" />
<line x1="547.94" y1="499.10" x2="547.94" y2="502.60" stroke="#333" stroke-width="1.3" />
<line x1="550.30" y1="499.10" x2="550.30" y2="506.60" stroke="#333" stroke-width="1.8" />
<line x1="565.80" y1="499.10" x2="565.80" y2="502.60" stroke="#333" stroke-width="1.3" />
<line x1="574.87" y1="499.10" x2="574.87" y2="502.60" stroke="#333" stroke-width="1.3" />
<line x1="581.31" y1="499.10" x2="581.31" y2="502.60" stroke="#333" stroke-width="1.3" />
<line x1="586.30" y1="499.10" x2="586.30" y2="502.60" stroke="#333" stroke-width="1.3" />
<line x1="590.37" y1="499.10" x2="590.37" y2="502.60" stroke="#333" stroke-width="1.3" />
<line x1="593.82" y1="499.10" x2="593.82" y2="502.60" stroke="#333" stroke-width="1.3" />
<line x1="596.81" y1="499.10" x2="596.81" y2="502.60" stroke="#333" stroke-width="1.3" />
<line x1="599.44" y1="499.10" x2="599.44" y2="502.60" stroke="#333" stroke-width="1.3" />
<line x1="601.80" y1="499.10" x2="601.80" y2="506.60" stroke="#333" stroke-width="1.8" />
<line x1="617.30" y1="499.10" x2="617.30" y2="502.60" stroke="#333" stroke-width="1.3" />
<line x1="626.37" y1="499.10" x2="626.37" y2="502.60" stroke="#333" stroke-width="1.3" />
<line x1="632.81" y1="499.10" x2="632.81" y2="502.60" stroke="#333" stroke-width="1.3" />
<line x1="637.80" y1="499.10" x2="637.80" y2="502.60" stroke="#333" stroke-width="1.3" />
<line x1="641.87" y1="499.10" x2="641.87" y2="502.60" stroke="#333" stroke-width="1.3" />
<line x1="645.32" y1="499.10" x2="645.32" y2="502.60" stroke="#333" stroke-width="1.3" />
<line x1="648.31" y1="499.10" x2="648.31" y2="502.60" stroke="#333" stroke-width="1.3" />
<line x1="650.94" y1="499.10" x2="650.94" y2="502.60" stroke="#333" stroke-width="1.3" />
<line x1="653.30" y1="499.10" x2="653.30" y2="506.60" stroke="#333" stroke-width="1.8" />
<text x="460.8" y="524.4" font-size="10.5" font-weight="bold" fill="#555" text-anchor="middle" font-family='"Liberation Sans", Arial, sans-serif' textLength="16" lengthAdjust="spacingAndGlyphs">10<tspan dy="-6.5" font-size="9.5">0</tspan></text>
<text x="512.3" y="524.4" font-size="10.5" font-weight="bold" fill="#555" text-anchor="middle" font-family='"Liberation Sans", Arial, sans-serif' textLength="16" lengthAdjust="spacingAndGlyphs">10<tspan dy="-6.5" font-size="9.5">1</tspan></text>
<text x="563.8" y="524.4" font-size="10.5" font-weight="bold" fill="#555" text-anchor="middle" font-family='"Liberation Sans", Arial, sans-serif' textLength="16" lengthAdjust="spacingAndGlyphs">10<tspan dy="-6.5" font-size="9.5">2</tspan></text>
<text x="615.3" y="524.4" font-size="10.5" font-weight="bold" fill="#555" text-anchor="middle" font-family='"Liberation Sans", Arial, sans-serif' textLength="16" lengthAdjust="spacingAndGlyphs">10<tspan dy="-6.5" font-size="9.5">3</tspan></text>
<text x="646.3" y="524.4" font-size="10.5" font-weight="bold" fill="#555" text-anchor="middle" font-family='"Liberation Sans", Arial, sans-serif' textLength="16" lengthAdjust="spacingAndGlyphs">10<tspan dy="-6.5" font-size="9.5">4</tspan></text>
<path d="M703.5,498.7 L703.5,498.7 L704.0,498.7 L704.5,498.7 L705.0,498.7 L705.5,498.7 L706.0,498.7 L706.5,498.7 L707.0,498.7 L707.5,498.7 L708.0,498.7 L708.5,498.7 L709.0,498.7 L709.5,498.6 L710.0,498.5 L710.5,498.4 L711.0,498.2 L711.5,498.1 L712.0,498.1 L712.5,498.0 L713.0,497.9 L713.5,497.9 L714.0,497.8 L714.5,497.8 L715.0,497.7 L715.5,497.6 L716.0,497.6 L716.5,497.5 L717.0,497.4 L717.5,497.4 L718.0,497.3 L718.5,497.3 L719.0,497.2 L719.5,497.1 L720.0,497.1 L720.5,497.0 L721.0,496.9 L721.5,496.9 L722.0,496.8 L722.5,496.8 L723.0,496.7 L723.5,496.6 L724.0,496.6 L724.5,496.5 L725.0,496.4 L725.5,496.4 L726.0,496.3 L726.5,496.3 L727.0,496.1 L727.5,495.9 L728.0,495.7 L728.5,495.5 L729.0,495.3 L729.5,495.1 L730.0,494.9 L730.5,494.8 L731.0,494.6 L731.5,494.4 L732.0,494.2 L732.5,494.0 L733.0,493.8 L733.5,493.6 L734.0,493.4 L734.5,493.0 L735.0,492.6 L735.5,492.2 L736.0,491.8 L736.5,491.4 L737.0,491.0 L737.5,490.5 L738.0,490.1 L738.5,489.7 L739.0,489.3 L739.5,488.9 L740.0,487.7 L740.5,486.2 L741.0,484.7 L741.5,483.2 L742.0,481.7 L742.5,480.2 L743.0,478.7 L743.5,477.3 L744.0,476.3 L744.5,475.3 L745.0,474.3 L745.5,473.3 L746.0,472.3 L746.5,471.3 L747.0,470.3 L747.5,469.6 L748.0,469.1 L748.5,468.6 L749.0,468.1 L749.5,467.6 L750.0,467.1 L750.5,466.6 L751.0,466.1 L751.5,465.6 L752.0,465.1 L752.5,464.6 L753.0,464.1 L753.5,463.6 L754.0,463.1 L754.5,462.6 L755.0,462.2 L755.5,462.0 L756.0,461.7 L756.5,461.5 L757.0,461.2 L757.5,461.0 L758.0,460.7 L758.5,460.5 L759.0,460.0 L759.5,459.5 L760.0,459.0 L760.5,458.5 L761.0,458.0 L761.5,457.5 L762.0,457.0 L762.5,456.4 L763.0,455.8 L763.5,455.2 L764.0,454.5 L764.5,453.9 L765.0,453.3 L765.5,452.7 L766.0,452.0 L766.5,453.1 L767.0,454.3 L767.5,455.5 L768.0,456.6 L768.5,457.8 L769.0,458.6 L769.5,458.6 L770.0,458.6 L770.5,458.6 L771.0,458.6 L771.5,458.6 L772.0,458.5 L772.5,458.4 L773.0,458.3 L773.5,458.2 L774.0,458.0 L774.5,457.9 L775.0,457.8 L775.5,457.7 L776.0,457.8 L776.5,457.9 L777.0,458.1 L777.5,458.2 L778.0,458.3 L778.5,458.4 L779.0,458.6 L779.5,458.3 L780.0,457.8 L780.5,457.3 L781.0,456.8 L781.5,456.3 L782.0,455.8 L782.5,455.3 L783.0,454.8 L783.5,454.6 L784.0,454.3 L784.5,454.1 L785.0,453.8 L785.5,453.6 L786.0,453.3 L786.5,453.1 L787.0,452.8 L787.5,452.6 L788.0,452.3 L788.5,452.1 L789.0,451.8 L789.5,451.6 L790.0,451.3 L790.5,451.1 L791.0,450.7 L791.5,450.3 L792.0,449.9 L792.5,449.6 L793.0,449.2 L793.5,448.8 L794.0,448.4 L794.5,448.5 L795.0,449.0 L795.5,449.5 L796.0,450.0 L796.5,450.5 L797.0,451.0 L797.5,452.1 L798.0,453.2 L798.5,454.4 L799.0,455.6 L799.5,456.7 L800.0,457.6 L800.5,457.1 L801.0,456.6 L801.5,456.1 L802.0,455.6 L802.5,455.1 L803.0,454.0 L803.5,452.5 L804.0,451.0 L804.5,449.5 L805.0,450.2 L805.5,451.6 L806.0,452.9 L806.5,454.2 L807.0,455.6 L807.5,456.7 L808.0,456.9 L808.5,457.0 L809.0,457.1 L809.5,457.2 L810.0,457.4 L810.5,457.5 L811.0,457.6 L811.5,457.9 L812.0,458.3 L812.5,458.8 L813.0,459.2 L813.5,459.6 L814.0,460.0 L814.5,460.4 L815.0,460.8 L815.5,461.3 L816.0,461.7 L816.5,462.1 L817.0,462.6 L817.5,463.3 L818.0,464.1 L818.5,464.8 L819.0,465.6 L819.5,466.3 L820.0,467.1 L820.5,467.8 L821.0,468.4 L821.5,468.9 L822.0,469.4 L822.5,469.9 L823.0,470.4 L823.5,470.9 L824.0,471.4 L824.5,471.9 L825.0,472.4 L825.5,472.9 L826.0,473.4 L826.5,473.9 L827.0,474.4 L827.5,474.9 L828.0,475.4 L828.5,475.9 L829.0,476.4 L829.5,476.9 L830.0,477.4 L830.5,477.9 L831.0,478.4 L831.5,478.9 L832.0,479.3 L832.5,479.3 L833.0,479.3 L833.5,479.3 L834.0,479.3 L834.5,479.3 L835.0,479.3 L835.5,479.3 L836.0,479.6 L836.5,480.1 L837.0,480.6 L837.5,481.1 L838.0,481.6 L838.5,482.1 L839.0,482.6 L839.5,483.1 L840.0,483.5 L840.5,483.9 L841.0,484.3 L841.5,484.6 L842.0,485.0 L842.5,485.4 L843.0,485.8 L843.5,486.1 L844.0,486.5 L844.5,486.9 L845.0,487.3 L845.5,487.6 L846.0,488.0 L846.5,488.4 L847.0,488.8 L847.5,489.4 L848.0,490.1 L848.5,490.8 L849.0,491.4 L849.5,492.1 L850.0,492.8 L850.5,493.4 L851.0,494.1 L851.5,494.8 L852.0,495.4 L852.5,496.1 L853.0,496.4 L853.5,496.6 L854.0,496.9 L854.5,497.1 L855.0,497.3 L855.5,497.5 L856.0,497.7 L856.5,497.9 L857.0,498.2 L857.5,498.4 L858.0,498.6 L858.5,498.7 L859.0,498.7 L859.5,498.7 L860.0,498.7 L860.5,498.7 L861.0,498.7 L861.5,498.7 L862.0,498.7 L862.5,498.7 L863.0,498.7 L863.5,498.7 L864.0,498.7 L864.5,498.7 L865.0,498.7 L865.5,498.7 L866.0,498.7 L866.5,498.7 L867.0,498.7 L867.5,498.7 L868.0,498.7 L868.5,498.7 L869.0,498.7 L869.5,498.7 L870.0,498.7 L870.5,498.7 L871.0,498.7 L871.5,498.7 L872.0,498.7 L872.5,498.7 L873.0,498.7 L873.5,498.7 L874.0,498.7 L874.5,498.7 L875.0,498.7 L875.5,498.7 L876.0,498.7 L876.5,498.7 L877.0,498.7 L877.5,498.7 L878.0,498.7 L878.5,498.7 L879.0,498.7 L879.5,498.7 L880.0,498.7 L880.5,498.7 L881.0,498.7 L881.5,498.7 L882.0,498.7 L882.5,498.7 L883.0,498.7 L883.5,498.7 L884.0,498.7 L884.5,498.7 L885.0,498.7 L885.5,498.7 L886.0,498.7 L886.5,498.7 L887.0,498.7 L887.5,498.7 L888.0,498.7 L888.5,498.7 L889.0,498.7 L889.5,498.7 L890.0,498.7 L890.5,498.7 L891.0,498.7 L891.5,498.7 L892.0,498.7 L892.5,498.7 L893.0,498.7 L893.5,498.7 L894.0,498.7 L894.5,498.7 L895.0,498.7 L895.5,498.7 L896.0,498.7 L896.5,498.7 L897.0,498.7 L897.5,498.7 L898.0,498.7 L898.5,498.7 L899.0,498.7 L899.5,498.7 L900.0,498.7 L900.5,498.7 L901.0,498.7 L901.5,498.7 L902.0,498.7 L902.5,498.7 L903.0,498.7 L903.5,498.7 L904.0,498.7 L904.5,498.7 L905.0,498.7 L905.5,498.7 L906.0,498.7 L906.5,498.7 L907.0,498.7 L907.5,498.7 L908.0,498.7 L908.5,498.7 L909.0,498.7 L909.5,498.7 L910.0,498.7 L910.5,498.7 L911.0,498.7 L911.4,498.7Z" fill="#96edfa"/>
<path d="M703.5,498.7 L703.5,498.7 L704.0,443.9 L704.5,453.6 L705.0,460.8 L705.5,467.9 L706.0,472.8 L706.5,475.1 L707.0,477.3 L707.5,479.6 L708.0,480.4 L708.5,480.5 L709.0,480.7 L709.5,480.9 L710.0,481.0 L710.5,481.2 L711.0,480.2 L711.5,479.2 L712.0,478.2 L712.5,477.2 L713.0,476.2 L713.5,475.4 L714.0,474.9 L714.5,474.4 L715.0,473.9 L715.5,474.0 L716.0,474.5 L716.5,475.0 L717.0,475.5 L717.5,476.0 L718.0,476.5 L718.5,476.3 L719.0,476.2 L719.5,476.0 L720.0,475.8 L720.5,475.7 L721.0,475.5 L721.5,475.2 L722.0,475.0 L722.5,474.7 L723.0,474.5 L723.5,474.2 L724.0,474.0 L724.5,473.7 L725.0,473.1 L725.5,472.5 L726.0,471.8 L726.5,471.1 L727.0,470.5 L727.5,469.6 L728.0,467.7 L728.5,465.8 L729.0,463.8 L729.5,461.9 L730.0,459.6 L730.5,456.0 L731.0,452.4 L731.5,449.8 L732.0,447.8 L732.5,445.8 L733.0,443.8 L733.5,441.8 L734.0,439.8 L734.5,438.8 L735.0,437.8 L735.5,436.8 L736.0,435.8 L736.5,434.8 L737.0,433.0 L737.5,429.5 L738.0,426.0 L738.5,422.5 L739.0,417.9 L739.5,412.4 L740.0,406.9 L740.5,401.4 L741.0,399.1 L741.5,397.6 L742.0,396.1 L742.5,394.5 L743.0,392.5 L743.5,390.5 L744.0,388.5 L744.5,386.5 L745.0,384.5 L745.5,382.3 L746.0,379.8 L746.5,377.3 L747.0,374.8 L747.5,372.3 L748.0,373.9 L748.5,376.1 L749.0,378.3 L749.5,379.0 L750.0,379.5 L750.5,380.0 L751.0,380.5 L751.5,381.0 L752.0,381.6 L752.5,382.6 L753.0,383.5 L753.5,384.5 L754.0,385.5 L754.5,387.8 L755.0,393.1 L755.5,398.5 L756.0,403.6 L756.5,408.6 L757.0,413.6 L757.5,418.6 L758.0,421.2 L758.5,423.5 L759.0,425.9 L759.5,428.2 L760.0,430.5 L760.5,433.2 L761.0,436.7 L761.5,440.2 L762.0,443.7 L762.5,446.9 L763.0,449.9 L763.5,452.9 L764.0,455.9 L764.5,458.9 L765.0,461.9 L765.5,464.6 L766.0,467.3 L766.5,470.0 L767.0,472.6 L767.5,475.3 L768.0,477.8 L768.5,479.5 L769.0,481.3 L769.5,483.0 L770.0,484.8 L770.5,486.5 L771.0,488.3 L771.5,490.0 L772.0,491.0 L772.5,491.5 L773.0,492.0 L773.5,492.5 L774.0,493.0 L774.5,493.5 L775.0,494.0 L775.5,494.5 L776.0,495.0 L776.5,495.5 L777.0,496.0 L777.5,496.3 L778.0,496.6 L778.5,496.8 L779.0,497.0 L779.5,497.2 L780.0,497.4 L780.5,497.6 L781.0,497.9 L781.5,498.1 L782.0,498.3 L782.5,498.5 L783.0,498.7 L783.5,498.7 L784.0,498.7 L784.5,498.7 L785.0,498.7 L785.5,498.7 L786.0,498.7 L786.5,498.7 L787.0,498.7 L787.5,498.7 L788.0,498.7 L788.5,498.7 L789.0,498.7 L789.5,498.7 L790.0,498.7 L790.5,498.7 L791.0,498.7 L791.5,498.7 L792.0,498.7 L792.5,498.7 L793.0,498.7 L793.5,498.7 L794.0,498.7 L794.5,498.7 L795.0,498.7 L795.5,498.7 L796.0,498.7 L796.5,498.7 L797.0,498.7 L797.5,498.7 L798.0,498.7 L798.5,498.7 L799.0,498.7 L799.5,498.7 L800.0,498.7 L800.5,498.7 L801.0,498.7 L801.5,498.7 L802.0,498.7 L802.5,498.7 L803.0,498.7 L803.5,498.7 L804.0,498.7 L804.5,498.7 L805.0,498.7 L805.5,498.7 L806.0,498.7 L806.5,498.7 L807.0,498.7 L807.5,498.7 L808.0,498.7 L808.5,498.7 L809.0,498.7 L809.5,498.7 L810.0,498.7 L810.5,498.7 L811.0,498.7 L811.5,498.7 L812.0,498.7 L812.5,498.7 L813.0,498.7 L813.5,498.7 L814.0,498.7 L814.5,498.7 L815.0,498.7 L815.5,498.7 L816.0,498.7 L816.5,498.7 L817.0,498.7 L817.5,498.7 L818.0,498.7 L818.5,498.7 L819.0,498.7 L819.5,498.7 L820.0,498.7 L820.5,498.7 L821.0,498.7 L821.5,498.7 L822.0,498.7 L822.5,498.7 L823.0,498.7 L823.5,498.7 L824.0,498.7 L824.5,498.7 L825.0,498.7 L825.5,498.7 L826.0,498.7 L826.5,498.7 L827.0,498.7 L827.5,498.7 L828.0,498.7 L828.5,498.7 L829.0,498.7 L829.5,498.7 L830.0,498.7 L830.5,498.7 L831.0,498.7 L831.5,498.7 L832.0,498.7 L832.5,498.7 L833.0,498.7 L833.5,498.7 L834.0,498.7 L834.5,498.7 L835.0,498.7 L835.5,498.7 L836.0,498.7 L836.5,498.7 L837.0,498.7 L837.5,498.7 L838.0,498.7 L838.5,498.7 L839.0,498.7 L839.5,498.7 L840.0,498.7 L840.5,498.7 L841.0,498.7 L841.5,498.7 L842.0,498.7 L842.5,498.7 L843.0,498.7 L843.5,498.7 L844.0,498.7 L844.5,498.7 L845.0,498.7 L845.5,498.7 L846.0,498.7 L846.5,498.7 L847.0,498.7 L847.5,498.7 L848.0,498.7 L848.5,498.7 L849.0,498.7 L849.5,498.7 L850.0,498.7 L850.5,498.7 L851.0,498.7 L851.5,498.7 L852.0,498.7 L852.5,498.7 L853.0,498.7 L853.5,498.7 L854.0,498.7 L854.5,498.7 L855.0,498.7 L855.5,498.7 L856.0,498.7 L856.5,498.7 L857.0,498.7 L857.5,498.7 L858.0,498.7 L858.5,498.7 L859.0,498.7 L859.5,498.7 L860.0,498.7 L860.5,498.7 L861.0,498.7 L861.5,498.7 L862.0,498.7 L862.5,498.7 L863.0,498.7 L863.5,498.7 L864.0,498.7 L864.5,498.7 L865.0,498.7 L865.5,498.7 L866.0,498.7 L866.5,498.7 L867.0,498.7 L867.5,498.7 L868.0,498.7 L868.5,498.7 L869.0,498.7 L869.5,498.7 L870.0,498.7 L870.5,498.7 L871.0,498.7 L871.5,498.7 L872.0,498.7 L872.5,498.7 L873.0,498.7 L873.5,498.7 L874.0,498.7 L874.5,498.7 L875.0,498.7 L875.5,498.7 L876.0,498.7 L876.5,498.7 L877.0,498.7 L877.5,498.7 L878.0,498.7 L878.5,498.7 L879.0,498.7 L879.5,498.7 L880.0,498.7 L880.5,498.7 L881.0,498.7 L881.5,498.7 L882.0,498.7 L882.5,498.7 L883.0,498.7 L883.5,498.7 L884.0,498.7 L884.5,498.7 L885.0,498.7 L885.5,498.7 L886.0,498.7 L886.5,498.7 L887.0,498.7 L887.5,498.7 L888.0,498.7 L888.5,498.7 L889.0,498.7 L889.5,498.7 L890.0,498.7 L890.5,498.7 L891.0,498.7 L891.5,498.7 L892.0,498.7 L892.5,498.7 L893.0,498.7 L893.5,498.7 L894.0,498.7 L894.5,498.7 L895.0,498.7 L895.5,498.7 L896.0,498.7 L896.5,498.7 L897.0,498.7 L897.5,498.7 L898.0,498.7 L898.5,498.7 L899.0,498.7 L899.5,498.7 L900.0,498.7 L900.5,498.7 L901.0,498.7 L901.5,498.7 L902.0,498.7 L902.5,498.7 L903.0,498.7 L903.5,498.7 L904.0,498.7 L904.5,498.7 L905.0,498.7 L905.5,498.7 L906.0,498.7 L906.5,498.7 L907.0,498.7 L907.5,498.7 L908.0,498.7 L908.5,498.7 L909.0,498.7 L909.5,498.7 L910.0,498.7 L910.5,498.7 L911.0,498.7 L911.4,498.7Z" fill="#fa9c9c"/>
<path d="M703.5,498.7 L703.5,498.7 L704.0,498.7 L704.5,498.7 L705.0,498.7 L705.5,498.7 L706.0,498.7 L706.5,498.7 L707.0,498.7 L707.5,498.7 L708.0,498.7 L708.5,498.7 L709.0,498.7 L709.5,498.6 L710.0,498.5 L710.5,498.4 L711.0,498.2 L711.5,498.1 L712.0,498.1 L712.5,498.0 L713.0,497.9 L713.5,497.9 L714.0,497.8 L714.5,497.8 L715.0,497.7 L715.5,497.6 L716.0,497.6 L716.5,497.5 L717.0,497.4 L717.5,497.4 L718.0,497.3 L718.5,497.3 L719.0,497.2 L719.5,497.1 L720.0,497.1 L720.5,497.0 L721.0,496.9 L721.5,496.9 L722.0,496.8 L722.5,496.8 L723.0,496.7 L723.5,496.6 L724.0,496.6 L724.5,496.5 L725.0,496.4 L725.5,496.4 L726.0,496.3 L726.5,496.3 L727.0,496.1 L727.5,495.9 L728.0,495.7 L728.5,495.5 L729.0,495.3 L729.5,495.1 L730.0,494.9 L730.5,494.8 L731.0,494.6 L731.5,494.4 L732.0,494.2 L732.5,494.0 L733.0,493.8 L733.5,493.6 L734.0,493.4 L734.5,493.0 L735.0,492.6 L735.5,492.2 L736.0,491.8 L736.5,491.4 L737.0,491.0 L737.5,490.5 L738.0,490.1 L738.5,489.7 L739.0,489.3 L739.5,488.9 L740.0,487.7 L740.5,486.2 L741.0,484.7 L741.5,483.2 L742.0,481.7 L742.5,480.2 L743.0,478.7 L743.5,477.3 L744.0,476.3 L744.5,475.3 L745.0,474.3 L745.5,473.3 L746.0,472.3 L746.5,471.3 L747.0,470.3 L747.5,469.6 L748.0,469.1 L748.5,468.6 L749.0,468.1 L749.5,467.6 L750.0,467.1 L750.5,466.6 L751.0,466.1 L751.5,465.6 L752.0,465.1 L752.5,464.6 L753.0,464.1 L753.5,463.6 L754.0,463.1 L754.5,462.6 L755.0,462.2 L755.5,462.0 L756.0,461.7 L756.5,461.5 L757.0,461.2 L757.5,461.0 L758.0,460.7 L758.5,460.5 L759.0,460.0 L759.5,459.5 L760.0,459.0 L760.5,458.5 L761.0,458.0 L761.5,457.5 L762.0,457.0 L762.5,456.4 L763.0,455.8 L763.5,455.2 L764.0,455.9 L764.5,458.9 L765.0,461.9 L765.5,464.6 L766.0,467.3 L766.5,470.0 L767.0,472.6 L767.5,475.3 L768.0,477.8 L768.5,479.5 L769.0,481.3 L769.5,483.0 L770.0,484.8 L770.5,486.5 L771.0,488.3 L771.5,490.0 L772.0,491.0 L772.5,491.5 L773.0,492.0 L773.5,492.5 L774.0,493.0 L774.5,493.5 L775.0,494.0 L775.5,494.5 L776.0,495.0 L776.5,495.5 L777.0,496.0 L777.5,496.3 L778.0,496.6 L778.5,496.8 L779.0,497.0 L779.5,497.2 L780.0,497.4 L780.5,497.6 L781.0,497.9 L781.5,498.1 L782.0,498.3 L782.5,498.5 L783.0,498.7 L783.5,498.7 L784.0,498.7 L784.5,498.7 L785.0,498.7 L785.5,498.7 L786.0,498.7 L786.5,498.7 L787.0,498.7 L787.5,498.7 L788.0,498.7 L788.5,498.7 L789.0,498.7 L789.5,498.7 L790.0,498.7 L790.5,498.7 L791.0,498.7 L791.5,498.7 L792.0,498.7 L792.5,498.7 L793.0,498.7 L793.5,498.7 L794.0,498.7 L794.5,498.7 L795.0,498.7 L795.5,498.7 L796.0,498.7 L796.5,498.7 L797.0,498.7 L797.5,498.7 L798.0,498.7 L798.5,498.7 L799.0,498.7 L799.5,498.7 L800.0,498.7 L800.5,498.7 L801.0,498.7 L801.5,498.7 L802.0,498.7 L802.5,498.7 L803.0,498.7 L803.5,498.7 L804.0,498.7 L804.5,498.7 L805.0,498.7 L805.5,498.7 L806.0,498.7 L806.5,498.7 L807.0,498.7 L807.5,498.7 L808.0,498.7 L808.5,498.7 L809.0,498.7 L809.5,498.7 L810.0,498.7 L810.5,498.7 L811.0,498.7 L811.5,498.7 L812.0,498.7 L812.5,498.7 L813.0,498.7 L813.5,498.7 L814.0,498.7 L814.5,498.7 L815.0,498.7 L815.5,498.7 L816.0,498.7 L816.5,498.7 L817.0,498.7 L817.5,498.7 L818.0,498.7 L818.5,498.7 L819.0,498.7 L819.5,498.7 L820.0,498.7 L820.5,498.7 L821.0,498.7 L821.5,498.7 L822.0,498.7 L822.5,498.7 L823.0,498.7 L823.5,498.7 L824.0,498.7 L824.5,498.7 L825.0,498.7 L825.5,498.7 L826.0,498.7 L826.5,498.7 L827.0,498.7 L827.5,498.7 L828.0,498.7 L828.5,498.7 L829.0,498.7 L829.5,498.7 L830.0,498.7 L830.5,498.7 L831.0,498.7 L831.5,498.7 L832.0,498.7 L832.5,498.7 L833.0,498.7 L833.5,498.7 L834.0,498.7 L834.5,498.7 L835.0,498.7 L835.5,498.7 L836.0,498.7 L836.5,498.7 L837.0,498.7 L837.5,498.7 L838.0,498.7 L838.5,498.7 L839.0,498.7 L839.5,498.7 L840.0,498.7 L840.5,498.7 L841.0,498.7 L841.5,498.7 L842.0,498.7 L842.5,498.7 L843.0,498.7 L843.5,498.7 L844.0,498.7 L844.5,498.7 L845.0,498.7 L845.5,498.7 L846.0,498.7 L846.5,498.7 L847.0,498.7 L847.5,498.7 L848.0,498.7 L848.5,498.7 L849.0,498.7 L849.5,498.7 L850.0,498.7 L850.5,498.7 L851.0,498.7 L851.5,498.7 L852.0,498.7 L852.5,498.7 L853.0,498.7 L853.5,498.7 L854.0,498.7 L854.5,498.7 L855.0,498.7 L855.5,498.7 L856.0,498.7 L856.5,498.7 L857.0,498.7 L857.5,498.7 L858.0,498.7 L858.5,498.7 L859.0,498.7 L859.5,498.7 L860.0,498.7 L860.5,498.7 L861.0,498.7 L861.5,498.7 L862.0,498.7 L862.5,498.7 L863.0,498.7 L863.5,498.7 L864.0,498.7 L864.5,498.7 L865.0,498.7 L865.5,498.7 L866.0,498.7 L866.5,498.7 L867.0,498.7 L867.5,498.7 L868.0,498.7 L868.5,498.7 L869.0,498.7 L869.5,498.7 L870.0,498.7 L870.5,498.7 L871.0,498.7 L871.5,498.7 L872.0,498.7 L872.5,498.7 L873.0,498.7 L873.5,498.7 L874.0,498.7 L874.5,498.7 L875.0,498.7 L875.5,498.7 L876.0,498.7 L876.5,498.7 L877.0,498.7 L877.5,498.7 L878.0,498.7 L878.5,498.7 L879.0,498.7 L879.5,498.7 L880.0,498.7 L880.5,498.7 L881.0,498.7 L881.5,498.7 L882.0,498.7 L882.5,498.7 L883.0,498.7 L883.5,498.7 L884.0,498.7 L884.5,498.7 L885.0,498.7 L885.5,498.7 L886.0,498.7 L886.5,498.7 L887.0,498.7 L887.5,498.7 L888.0,498.7 L888.5,498.7 L889.0,498.7 L889.5,498.7 L890.0,498.7 L890.5,498.7 L891.0,498.7 L891.5,498.7 L892.0,498.7 L892.5,498.7 L893.0,498.7 L893.5,498.7 L894.0,498.7 L894.5,498.7 L895.0,498.7 L895.5,498.7 L896.0,498.7 L896.5,498.7 L897.0,498.7 L897.5,498.7 L898.0,498.7 L898.5,498.7 L899.0,498.7 L899.5,498.7 L900.0,498.7 L900.5,498.7 L901.0,498.7 L901.5,498.7 L902.0,498.7 L902.5,498.7 L903.0,498.7 L903.5,498.7 L904.0,498.7 L904.5,498.7 L905.0,498.7 L905.5,498.7 L906.0,498.7 L906.5,498.7 L907.0,498.7 L907.5,498.7 L908.0,498.7 L908.5,498.7 L909.0,498.7 L909.5,498.7 L910.0,498.7 L910.5,498.7 L911.0,498.7 L911.4,498.7Z" fill="#94b4cb"/>
<path d="M704.0,498.7 L704.5,498.7 L705.0,498.7 L705.5,498.7 L706.0,498.7 L706.5,498.7 L707.0,498.7 L707.5,498.7 L708.0,498.7 L708.5,498.7 L709.0,498.7 L709.5,498.6 L710.0,498.5 L710.5,498.4 L711.0,498.2 L711.5,498.1 L712.0,498.1 L712.5,498.0 L713.0,497.9 L713.5,497.9 L714.0,497.8 L714.5,497.8 L715.0,497.7 L715.5,497.6 L716.0,497.6 L716.5,497.5 L717.0,497.4 L717.5,497.4 L718.0,497.3 L718.5,497.3 L719.0,497.2 L719.5,497.1 L720.0,497.1 L720.5,497.0 L721.0,496.9 L721.5,496.9 L722.0,496.8 L722.5,496.8 L723.0,496.7 L723.5,496.6 L724.0,496.6 L724.5,496.5 L725.0,496.4 L725.5,496.4 L726.0,496.3 L726.5,496.3 L727.0,496.1 L727.5,495.9 L728.0,495.7 L728.5,495.5 L729.0,495.3 L729.5,495.1 L730.0,494.9 L730.5,494.8 L731.0,494.6 L731.5,494.4 L732.0,494.2 L732.5,494.0 L733.0,493.8 L733.5,493.6 L734.0,493.4 L734.5,493.0 L735.0,492.6 L735.5,492.2 L736.0,491.8 L736.5,491.4 L737.0,491.0 L737.5,490.5 L738.0,490.1 L738.5,489.7 L739.0,489.3 L739.5,488.9 L740.0,487.7 L740.5,486.2 L741.0,484.7 L741.5,483.2 L742.0,481.7 L742.5,480.2 L743.0,478.7 L743.5,477.3 L744.0,476.3 L744.5,475.3 L745.0,474.3 L745.5,473.3 L746.0,472.3 L746.5,471.3 L747.0,470.3 L747.5,469.6 L748.0,469.1 L748.5,468.6 L749.0,468.1 L749.5,467.6 L750.0,467.1 L750.5,466.6 L751.0,466.1 L751.5,465.6 L752.0,465.1 L752.5,464.6 L753.0,464.1 L753.5,463.6 L754.0,463.1 L754.5,462.6 L755.0,462.2 L755.5,462.0 L756.0,461.7 L756.5,461.5 L757.0,461.2 L757.5,461.0 L758.0,460.7 L758.5,460.5 L759.0,460.0 L759.5,459.5 L760.0,459.0 L760.5,458.5 L761.0,458.0 L761.5,457.5 L762.0,457.0 L762.5,456.4 L763.0,455.8 L763.5,455.2 L764.0,454.5 L764.5,453.9 L765.0,453.3 L765.5,452.7 L766.0,452.0 L766.5,453.1 L767.0,454.3 L767.5,455.5 L768.0,456.6 L768.5,457.8 L769.0,458.6 L769.5,458.6 L770.0,458.6 L770.5,458.6 L771.0,458.6 L771.5,458.6 L772.0,458.5 L772.5,458.4 L773.0,458.3 L773.5,458.2 L774.0,458.0 L774.5,457.9 L775.0,457.8 L775.5,457.7 L776.0,457.8 L776.5,457.9 L777.0,458.1 L777.5,458.2 L778.0,458.3 L778.5,458.4 L779.0,458.6 L779.5,458.3 L780.0,457.8 L780.5,457.3 L781.0,456.8 L781.5,456.3 L782.0,455.8 L782.5,455.3 L783.0,454.8 L783.5,454.6 L784.0,454.3 L784.5,454.1 L785.0,453.8 L785.5,453.6 L786.0,453.3 L786.5,453.1 L787.0,452.8 L787.5,452.6 L788.0,452.3 L788.5,452.1 L789.0,451.8 L789.5,451.6 L790.0,451.3 L790.5,451.1 L791.0,450.7 L791.5,450.3 L792.0,449.9 L792.5,449.6 L793.0,449.2 L793.5,448.8 L794.0,448.4 L794.5,448.5 L795.0,449.0 L795.5,449.5 L796.0,450.0 L796.5,450.5 L797.0,451.0 L797.5,452.1 L798.0,453.2 L798.5,454.4 L799.0,455.6 L799.5,456.7 L800.0,457.6 L800.5,457.1 L801.0,456.6 L801.5,456.1 L802.0,455.6 L802.5,455.1 L803.0,454.0 L803.5,452.5 L804.0,451.0 L804.5,449.5 L805.0,450.2 L805.5,451.6 L806.0,452.9 L806.5,454.2 L807.0,455.6 L807.5,456.7 L808.0,456.9 L808.5,457.0 L809.0,457.1 L809.5,457.2 L810.0,457.4 L810.5,457.5 L811.0,457.6 L811.5,457.9 L812.0,458.3 L812.5,458.8 L813.0,459.2 L813.5,459.6 L814.0,460.0 L814.5,460.4 L815.0,460.8 L815.5,461.3 L816.0,461.7 L816.5,462.1 L817.0,462.6 L817.5,463.3 L818.0,464.1 L818.5,464.8 L819.0,465.6 L819.5,466.3 L820.0,467.1 L820.5,467.8 L821.0,468.4 L821.5,468.9 L822.0,469.4 L822.5,469.9 L823.0,470.4 L823.5,470.9 L824.0,471.4 L824.5,471.9 L825.0,472.4 L825.5,472.9 L826.0,473.4 L826.5,473.9 L827.0,474.4 L827.5,474.9 L828.0,475.4 L828.5,475.9 L829.0,476.4 L829.5,476.9 L830.0,477.4 L830.5,477.9 L831.0,478.4 L831.5,478.9 L832.0,479.3 L832.5,479.3 L833.0,479.3 L833.5,479.3 L834.0,479.3 L834.5,479.3 L835.0,479.3 L835.5,479.3 L836.0,479.6 L836.5,480.1 L837.0,480.6 L837.5,481.1 L838.0,481.6 L838.5,482.1 L839.0,482.6 L839.5,483.1 L840.0,483.5 L840.5,483.9 L841.0,484.3 L841.5,484.6 L842.0,485.0 L842.5,485.4 L843.0,485.8 L843.5,486.1 L844.0,486.5 L844.5,486.9 L845.0,487.3 L845.5,487.6 L846.0,488.0 L846.5,488.4 L847.0,488.8 L847.5,489.4 L848.0,490.1 L848.5,490.8 L849.0,491.4 L849.5,492.1 L850.0,492.8 L850.5,493.4 L851.0,494.1 L851.5,494.8 L852.0,495.4 L852.5,496.1 L853.0,496.4 L853.5,496.6 L854.0,496.9 L854.5,497.1 L855.0,497.3 L855.5,497.5 L856.0,497.7 L856.5,497.9 L857.0,498.2 L857.5,498.4 L858.0,498.6 L858.5,498.7 L859.0,498.7 L859.5,498.7 L860.0,498.7 L860.5,498.7 L861.0,498.7 L861.5,498.7 L862.0,498.7 L862.5,498.7 L863.0,498.7 L863.5,498.7 L864.0,498.7 L864.5,498.7 L865.0,498.7 L865.5,498.7 L866.0,498.7 L866.5,498.7 L867.0,498.7 L867.5,498.7 L868.0,498.7 L868.5,498.7 L869.0,498.7 L869.5,498.7 L870.0,498.7 L870.5,498.7 L871.0,498.7 L871.5,498.7 L872.0,498.7 L872.5,498.7 L873.0,498.7" fill="none" stroke="#3ec6e4" stroke-width="1.6" stroke-linejoin="round"/>
<path d="M763.5,452.9 L764.0,455.9 L764.5,458.9 L765.0,461.9 L765.5,464.6 L766.0,467.3 L766.5,470.0 L767.0,472.6 L767.5,475.3 L768.0,477.8 L768.5,479.5 L769.0,481.3 L769.5,483.0 L770.0,484.8 L770.5,486.5 L771.0,488.3 L771.5,490.0 L772.0,491.0 L772.5,491.5 L773.0,492.0 L773.5,492.5 L774.0,493.0 L774.5,493.5 L775.0,494.0 L775.5,494.5 L776.0,495.0 L776.5,495.5 L777.0,496.0 L777.5,496.3 L778.0,496.6 L778.5,496.8 L779.0,497.0 L779.5,497.2 L780.0,497.4 L780.5,497.6 L781.0,497.9 L781.5,498.1 L782.0,498.3 L782.5,498.5" fill="none" stroke="#7a7c9a" stroke-width="1.4" stroke-linejoin="round"/>
<path d="M704.0,443.9 L704.5,453.6 L705.0,460.8 L705.5,467.9 L706.0,472.8 L706.5,475.1 L707.0,477.3 L707.5,479.6 L708.0,480.4 L708.5,480.5 L709.0,480.7 L709.5,480.9 L710.0,481.0 L710.5,481.2 L711.0,480.2 L711.5,479.2 L712.0,478.2 L712.5,477.2 L713.0,476.2 L713.5,475.4 L714.0,474.9 L714.5,474.4 L715.0,473.9 L715.5,474.0 L716.0,474.5 L716.5,475.0 L717.0,475.5 L717.5,476.0 L718.0,476.5 L718.5,476.3 L719.0,476.2 L719.5,476.0 L720.0,475.8 L720.5,475.7 L721.0,475.5 L721.5,475.2 L722.0,475.0 L722.5,474.7 L723.0,474.5 L723.5,474.2 L724.0,474.0 L724.5,473.7 L725.0,473.1 L725.5,472.5 L726.0,471.8 L726.5,471.1 L727.0,470.5 L727.5,469.6 L728.0,467.7 L728.5,465.8 L729.0,463.8 L729.5,461.9 L730.0,459.6 L730.5,456.0 L731.0,452.4 L731.5,449.8 L732.0,447.8 L732.5,445.8 L733.0,443.8 L733.5,441.8 L734.0,439.8 L734.5,438.8 L735.0,437.8 L735.5,436.8 L736.0,435.8 L736.5,434.8 L737.0,433.0 L737.5,429.5 L738.0,426.0 L738.5,422.5 L739.0,417.9 L739.5,412.4 L740.0,406.9 L740.5,401.4 L741.0,399.1 L741.5,397.6 L742.0,396.1 L742.5,394.5 L743.0,392.5 L743.5,390.5 L744.0,388.5 L744.5,386.5 L745.0,384.5 L745.5,382.3 L746.0,379.8 L746.5,377.3 L747.0,374.8 L747.5,372.3 L748.0,373.9 L748.5,376.1 L749.0,378.3 L749.5,379.0 L750.0,379.5 L750.5,380.0 L751.0,380.5 L751.5,381.0 L752.0,381.6 L752.5,382.6 L753.0,383.5 L753.5,384.5 L754.0,385.5 L754.5,387.8 L755.0,393.1 L755.5,398.5 L756.0,403.6 L756.5,408.6 L757.0,413.6 L757.5,418.6 L758.0,421.2 L758.5,423.5 L759.0,425.9 L759.5,428.2 L760.0,430.5 L760.5,433.2 L761.0,436.7 L761.5,440.2 L762.0,443.7 L762.5,446.9 L763.0,449.9 L763.5,452.9 L764.0,455.9" fill="none" stroke="#e4606c" stroke-width="1.4" stroke-linejoin="round"/>
<rect x="703.5" y="352.2" width="207.89999999999998" height="146.5" fill="none" stroke="#333" stroke-width="1.6"/>
<line x1="694.50" y1="498.70" x2="703.50" y2="498.70" stroke="#333" stroke-width="1.6" />
<text x="689.30" y="503.00" font-size="12" font-weight="bold" fill="#555" text-anchor="end" font-family='"Liberation Sans", Arial, sans-serif' textLength="5.7" lengthAdjust="spacingAndGlyphs" >0</text>
<line x1="699.00" y1="488.48" x2="703.50" y2="488.48" stroke="#333" stroke-width="1.6" />
<line x1="699.00" y1="478.27" x2="703.50" y2="478.27" stroke="#333" stroke-width="1.6" />
<line x1="694.50" y1="468.05" x2="703.50" y2="468.05" stroke="#333" stroke-width="1.6" />
<text x="689.30" y="472.35" font-size="12" font-weight="bold" fill="#555" text-anchor="end" font-family='"Liberation Sans", Arial, sans-serif' textLength="11.4" lengthAdjust="spacingAndGlyphs" >30</text>
<line x1="699.00" y1="457.83" x2="703.50" y2="457.83" stroke="#333" stroke-width="1.6" />
<line x1="699.00" y1="447.62" x2="703.50" y2="447.62" stroke="#333" stroke-width="1.6" />
<line x1="694.50" y1="437.40" x2="703.50" y2="437.40" stroke="#333" stroke-width="1.6" />
<text x="689.30" y="441.70" font-size="12" font-weight="bold" fill="#555" text-anchor="end" font-family='"Liberation Sans", Arial, sans-serif' textLength="11.4" lengthAdjust="spacingAndGlyphs" >60</text>
<line x1="699.00" y1="427.18" x2="703.50" y2="427.18" stroke="#333" stroke-width="1.6" />
<line x1="699.00" y1="416.97" x2="703.50" y2="416.97" stroke="#333" stroke-width="1.6" />
<line x1="694.50" y1="406.75" x2="703.50" y2="406.75" stroke="#333" stroke-width="1.6" />
<text x="689.30" y="411.05" font-size="12" font-weight="bold" fill="#555" text-anchor="end" font-family='"Liberation Sans", Arial, sans-serif' textLength="11.4" lengthAdjust="spacingAndGlyphs" >90</text>
<line x1="699.00" y1="396.53" x2="703.50" y2="396.53" stroke="#333" stroke-width="1.6" />
<line x1="699.00" y1="386.32" x2="703.50" y2="386.32" stroke="#333" stroke-width="1.6" />
<line x1="694.50" y1="376.10" x2="703.50" y2="376.10" stroke="#333" stroke-width="1.6" />
<text x="689.30" y="380.40" font-size="12" font-weight="bold" fill="#555" text-anchor="end" font-family='"Liberation Sans", Arial, sans-serif' textLength="17.1" lengthAdjust="spacingAndGlyphs" >120</text>
<line x1="699.00" y1="365.88" x2="703.50" y2="365.88" stroke="#333" stroke-width="1.6" />
<line x1="699.00" y1="355.67" x2="703.50" y2="355.67" stroke="#333" stroke-width="1.6" />
<line x1="703.50" y1="498.70" x2="703.50" y2="506.20" stroke="#333" stroke-width="1.8" />
<line x1="719.06" y1="498.70" x2="719.06" y2="502.20" stroke="#333" stroke-width="1.3" />
<line x1="728.17" y1="498.70" x2="728.17" y2="502.20" stroke="#333" stroke-width="1.3" />
<line x1="734.63" y1="498.70" x2="734.63" y2="502.20" stroke="#333" stroke-width="1.3" />
<line x1="739.64" y1="498.70" x2="739.64" y2="502.20" stroke="#333" stroke-width="1.3" />
<line x1="743.73" y1="498.70" x2="743.73" y2="502.20" stroke="#333" stroke-width="1.3" />
<line x1="747.19" y1="498.70" x2="747.19" y2="502.20" stroke="#333" stroke-width="1.3" />
<line x1="750.19" y1="498.70" x2="750.19" y2="502.20" stroke="#333" stroke-width="1.3" />
<line x1="752.83" y1="498.70" x2="752.83" y2="502.20" stroke="#333" stroke-width="1.3" />
<line x1="755.20" y1="498.70" x2="755.20" y2="506.20" stroke="#333" stroke-width="1.8" />
<line x1="770.76" y1="498.70" x2="770.76" y2="502.20" stroke="#333" stroke-width="1.3" />
<line x1="779.87" y1="498.70" x2="779.87" y2="502.20" stroke="#333" stroke-width="1.3" />
<line x1="786.33" y1="498.70" x2="786.33" y2="502.20" stroke="#333" stroke-width="1.3" />
<line x1="791.34" y1="498.70" x2="791.34" y2="502.20" stroke="#333" stroke-width="1.3" />
<line x1="795.43" y1="498.70" x2="795.43" y2="502.20" stroke="#333" stroke-width="1.3" />
<line x1="798.89" y1="498.70" x2="798.89" y2="502.20" stroke="#333" stroke-width="1.3" />
<line x1="801.89" y1="498.70" x2="801.89" y2="502.20" stroke="#333" stroke-width="1.3" />
<line x1="804.53" y1="498.70" x2="804.53" y2="502.20" stroke="#333" stroke-width="1.3" />
<line x1="806.90" y1="498.70" x2="806.90" y2="506.20" stroke="#333" stroke-width="1.8" />
<line x1="822.46" y1="498.70" x2="822.46" y2="502.20" stroke="#333" stroke-width="1.3" />
<line x1="831.57" y1="498.70" x2="831.57" y2="502.20" stroke="#333" stroke-width="1.3" />
<line x1="838.03" y1="498.70" x2="838.03" y2="502.20" stroke="#333" stroke-width="1.3" />
<line x1="843.04" y1="498.70" x2="843.04" y2="502.20" stroke="#333" stroke-width="1.3" />
<line x1="847.13" y1="498.70" x2="847.13" y2="502.20" stroke="#333" stroke-width="1.3" />
<line x1="850.59" y1="498.70" x2="850.59" y2="502.20" stroke="#333" stroke-width="1.3" />
<line x1="853.59" y1="498.70" x2="853.59" y2="502.20" stroke="#333" stroke-width="1.3" />
<line x1="856.23" y1="498.70" x2="856.23" y2="502.20" stroke="#333" stroke-width="1.3" />
<line x1="858.60" y1="498.70" x2="858.60" y2="506.20" stroke="#333" stroke-width="1.8" />
<line x1="874.16" y1="498.70" x2="874.16" y2="502.20" stroke="#333" stroke-width="1.3" />
<line x1="883.27" y1="498.70" x2="883.27" y2="502.20" stroke="#333" stroke-width="1.3" />
<line x1="889.73" y1="498.70" x2="889.73" y2="502.20" stroke="#333" stroke-width="1.3" />
<line x1="894.74" y1="498.70" x2="894.74" y2="502.20" stroke="#333" stroke-width="1.3" />
<line x1="898.83" y1="498.70" x2="898.83" y2="502.20" stroke="#333" stroke-width="1.3" />
<line x1="902.29" y1="498.70" x2="902.29" y2="502.20" stroke="#333" stroke-width="1.3" />
<line x1="905.29" y1="498.70" x2="905.29" y2="502.20" stroke="#333" stroke-width="1.3" />
<line x1="907.93" y1="498.70" x2="907.93" y2="502.20" stroke="#333" stroke-width="1.3" />
<line x1="910.30" y1="498.70" x2="910.30" y2="506.20" stroke="#333" stroke-width="1.8" />
<text x="717.0" y="524.0" font-size="10.5" font-weight="bold" fill="#555" text-anchor="middle" font-family='"Liberation Sans", Arial, sans-serif' textLength="16" lengthAdjust="spacingAndGlyphs">10<tspan dy="-6.5" font-size="9.5">0</tspan></text>
<text x="768.7" y="524.0" font-size="10.5" font-weight="bold" fill="#555" text-anchor="middle" font-family='"Liberation Sans", Arial, sans-serif' textLength="16" lengthAdjust="spacingAndGlyphs">10<tspan dy="-6.5" font-size="9.5">1</tspan></text>
<text x="820.4" y="524.0" font-size="10.5" font-weight="bold" fill="#555" text-anchor="middle" font-family='"Liberation Sans", Arial, sans-serif' textLength="16" lengthAdjust="spacingAndGlyphs">10<tspan dy="-6.5" font-size="9.5">2</tspan></text>
<text x="872.1" y="524.0" font-size="10.5" font-weight="bold" fill="#555" text-anchor="middle" font-family='"Liberation Sans", Arial, sans-serif' textLength="16" lengthAdjust="spacingAndGlyphs">10<tspan dy="-6.5" font-size="9.5">3</tspan></text>
<text x="903.3" y="524.0" font-size="10.5" font-weight="bold" fill="#555" text-anchor="middle" font-family='"Liberation Sans", Arial, sans-serif' textLength="16" lengthAdjust="spacingAndGlyphs">10<tspan dy="-6.5" font-size="9.5">4</tspan></text>
<text x="547.00" y="114.70" font-size="29" font-weight="normal" fill="#000" text-anchor="middle" font-family='"Liberation Sans", Arial, sans-serif' >Control</text>
<text x="811.70" y="117.70" font-size="29" font-weight="normal" fill="#000" text-anchor="middle" font-family='"Liberation Sans", Arial, sans-serif' >cKO</text>
<text x="555.00" y="324.70" font-size="26.3" font-weight="normal" fill="#000" text-anchor="middle" font-family='"Liberation Sans", Arial, sans-serif' textLength="56" lengthAdjust="spacingAndGlyphs" >DCF</text>
<text x="809.20" y="326.80" font-size="26.3" font-weight="normal" fill="#000" text-anchor="middle" font-family='"Liberation Sans", Arial, sans-serif' textLength="56" lengthAdjust="spacingAndGlyphs" >DCF</text>
<text x="555.20" y="563.10" font-size="26.3" font-weight="normal" fill="#000" text-anchor="middle" font-family='"Liberation Sans", Arial, sans-serif' textLength="56" lengthAdjust="spacingAndGlyphs" >DCF</text>
<text x="817.40" y="561.20" font-size="26.3" font-weight="normal" fill="#000" text-anchor="middle" font-family='"Liberation Sans", Arial, sans-serif' textLength="56" lengthAdjust="spacingAndGlyphs" >DCF</text>
<text x="928.5" y="202.4" font-size="27" letter-spacing="1.2" fill="#000" font-family='"Liberation Sans", Arial, sans-serif'>H<tspan dy="7" font-size="19">2</tspan><tspan dy="-7">O</tspan><tspan dy="7" font-size="19">2</tspan></text>
<text x="9.50" y="695.90" font-size="45" font-weight="bold" fill="#000" text-anchor="start" font-family='"Liberation Sans", Arial, sans-serif' textLength="22" lengthAdjust="spacingAndGlyphs" >c</text>
<text x="322.30" y="747.80" font-size="34" font-weight="normal" fill="#222" text-anchor="middle" font-family='"Liberation Sans", Arial, sans-serif' textLength="330" lengthAdjust="spacingAndGlyphs" >Histogram of MitoSox</text>
<text x="26.30" y="969.80" font-size="29.4" font-weight="normal" fill="#222" text-anchor="middle" font-family='"Liberation Sans", Arial, sans-serif' textLength="369" lengthAdjust="spacingAndGlyphs" transform="rotate(-90 26.30 969.80)" >Cumulative distribution (%)</text>
<line x1="92.50" y1="771.50" x2="92.50" y2="1182.50" stroke="#000" stroke-width="2.2" />
<line x1="88.00" y1="1175.00" x2="538.60" y2="1175.00" stroke="#000" stroke-width="2.2" />
<line x1="92.50" y1="907.50" x2="98.00" y2="907.50" stroke="#000" stroke-width="2" />
<line x1="92.50" y1="1041.20" x2="98.00" y2="1041.20" stroke="#000" stroke-width="2" />
<line x1="87.30" y1="1175.20" x2="92.50" y2="1175.20" stroke="#000" stroke-width="2.2" />
<line x1="180.80" y1="1175.00" x2="180.80" y2="1182.50" stroke="#000" stroke-width="2.2" />
<line x1="269.80" y1="1175.00" x2="269.80" y2="1182.50" stroke="#000" stroke-width="2.2" />
<line x1="359.40" y1="1175.00" x2="359.40" y2="1182.50" stroke="#000" stroke-width="2.2" />
<line x1="448.40" y1="1175.00" x2="448.40" y2="1182.50" stroke="#000" stroke-width="2.2" />
<line x1="537.60" y1="1175.00" x2="537.60" y2="1182.50" stroke="#000" stroke-width="2.2" />
<text x="74.00" y="914.70" font-size="17.2" font-weight="normal" fill="#555" text-anchor="end" font-family='"Liberation Sans", Arial, sans-serif' textLength="29.6" lengthAdjust="spacingAndGlyphs" >100</text>
<text x="74.00" y="1045.70" font-size="17.2" font-weight="normal" fill="#555" text-anchor="end" font-family='"Liberation Sans", Arial, sans-serif' textLength="21.4" lengthAdjust="spacingAndGlyphs" >50</text>
<text x="84.50" y="1181.30" font-size="15.5" font-weight="bold" fill="#333" text-anchor="end" font-family='"Liberation Sans", Arial, sans-serif' textLength="19.5" lengthAdjust="spacingAndGlyphs" >0.0</text>
<text x="92.00" y="1198.60" font-size="14.2" font-weight="bold" fill="#222" text-anchor="middle" font-family='"Liberation Sans", Arial, sans-serif' >0</text>
<text x="188.00" y="1212.40" font-size="17.9" font-weight="normal" fill="#555" text-anchor="middle" font-family='"Liberation Sans", Arial, sans-serif' textLength="53.8" lengthAdjust="spacingAndGlyphs" >50000</text>
<text x="271.20" y="1212.40" font-size="17.9" font-weight="normal" fill="#555" text-anchor="middle" font-family='"Liberation Sans", Arial, sans-serif' textLength="63.4" lengthAdjust="spacingAndGlyphs" >100000</text>
<text x="360.00" y="1212.40" font-size="17.9" font-weight="normal" fill="#555" text-anchor="middle" font-family='"Liberation Sans", Arial, sans-serif' textLength="74.6" lengthAdjust="spacingAndGlyphs" >1500000</text>
<text x="449.30" y="1212.40" font-size="17.9" font-weight="normal" fill="#555" text-anchor="middle" font-family='"Liberation Sans", Arial, sans-serif' textLength="64.4" lengthAdjust="spacingAndGlyphs" >200000</text>
<text x="542.00" y="1212.40" font-size="17.9" font-weight="normal" fill="#555" text-anchor="middle" font-family='"Liberation Sans", Arial, sans-serif' textLength="64.4" lengthAdjust="spacingAndGlyphs" >250000</text>
<text x="317.10" y="1265.10" font-size="23.2" font-weight="normal" fill="#111" text-anchor="middle" font-family='"Liberation Sans", Arial, sans-serif' textLength="294" lengthAdjust="spacingAndGlyphs" >MitoSox mean fluorescence</text>
<line x1="92.50" y1="907.50" x2="520.00" y2="907.50" stroke="#000" stroke-width="2.2" stroke-dasharray="5.1 4.05"/>
<line x1="92.50" y1="1041.20" x2="373.00" y2="1041.20" stroke="#000" stroke-width="2.2" stroke-dasharray="5.1 4.05"/>
<line x1="174.10" y1="1041.20" x2="174.10" y2="1174.00" stroke="#000" stroke-width="2.2" stroke-dasharray="5.1 4.05"/>
<line x1="229.90" y1="1041.20" x2="229.90" y2="1174.00" stroke="#000" stroke-width="2.2" stroke-dasharray="5.1 4.05"/>
<polyline points="116.5,1172.9 117.6,1163.5 124.7,1151.8 147.1,1145.9 150.6,1135.3 152.9,1124.7 155.3,1112.9 157.6,1098.8 160,1084.7 161.2,1072.9 163.5,1058.8 165.9,1052.9 171.8,1047.5 178.8,1042.4 181.2,1032.9 183.5,1021.2 184.7,1011.8 188.2,1002.4 192.9,992.9 201.2,988.2 203.5,978.8 205.9,968.2 216.5,962.4 225.9,956.5 229.4,949.4 235.3,943.5 244.7,938.8 249.4,930.6 254.1,920 271.8,914.1 298.8,907.8" fill="none" stroke="#000" stroke-width="2"/>
<polyline points="142.4,1163.5 142.4,1151.8 161.2,1138.8 162.4,1126.6 180.7,1114.1 187.1,1102.4 194.1,1090.6 194.8,1078.4 195.8,1065.9 200.5,1054.1 231.8,1041.9 245.9,1029.4 256.9,1017.2 289.4,1004.7 307.8,992.2 313.6,980 314.8,967.8 347.8,955.8 360.5,943.5 460,931.3 483.5,919.3 485.2,906.6" fill="none" stroke="#f00" stroke-width="2"/>
<path d="M116.5,1168.5 L120.5,1176.1 L112.5,1176.1Z" fill="#000"/>
<path d="M117.6,1159.1 L121.6,1166.7 L113.6,1166.7Z" fill="#000"/>
<path d="M124.7,1147.4 L128.7,1155.0 L120.7,1155.0Z" fill="#000"/>
<path d="M147.1,1141.5 L151.1,1149.1 L143.1,1149.1Z" fill="#000"/>
<path d="M150.6,1130.9 L154.6,1138.5 L146.6,1138.5Z" fill="#000"/>
<path d="M152.9,1120.3 L156.9,1127.9 L148.9,1127.9Z" fill="#000"/>
<path d="M155.3,1108.5 L159.3,1116.1 L151.3,1116.1Z" fill="#000"/>
<path d="M157.6,1094.4 L161.6,1102.0 L153.6,1102.0Z" fill="#000"/>
<path d="M160.0,1080.3 L164.0,1087.9 L156.0,1087.9Z" fill="#000"/>
<path d="M161.2,1068.5 L165.2,1076.1 L157.2,1076.1Z" fill="#000"/>
<path d="M163.5,1054.4 L167.5,1062.0 L159.5,1062.0Z" fill="#000"/>
<path d="M165.9,1048.5 L169.9,1056.1 L161.9,1056.1Z" fill="#000"/>
<path d="M171.8,1043.1 L175.8,1050.7 L167.8,1050.7Z" fill="#000"/>
<path d="M178.8,1038.0 L182.8,1045.6 L174.8,1045.6Z" fill="#000"/>
<path d="M181.2,1028.5 L185.2,1036.1 L177.2,1036.1Z" fill="#000"/>
<path d="M183.5,1016.8 L187.5,1024.4 L179.5,1024.4Z" fill="#000"/>
<path d="M184.7,1007.4 L188.7,1014.9 L180.7,1014.9Z" fill="#000"/>
<path d="M188.2,998.0 L192.2,1005.5 L184.2,1005.5Z" fill="#000"/>
<path d="M192.9,988.5 L196.9,996.0 L188.9,996.0Z" fill="#000"/>
<path d="M201.2,983.8 L205.2,991.4 L197.2,991.4Z" fill="#000"/>
<path d="M203.5,974.4 L207.5,981.9 L199.5,981.9Z" fill="#000"/>
<path d="M205.9,963.8 L209.9,971.4 L201.9,971.4Z" fill="#000"/>
<path d="M216.5,958.0 L220.5,965.5 L212.5,965.5Z" fill="#000"/>
<path d="M225.9,952.1 L229.9,959.6 L221.9,959.6Z" fill="#000"/>
<path d="M229.4,945.0 L233.4,952.5 L225.4,952.5Z" fill="#000"/>
<path d="M235.3,939.1 L239.3,946.6 L231.3,946.6Z" fill="#000"/>
<path d="M244.7,934.4 L248.7,941.9 L240.7,941.9Z" fill="#000"/>
<path d="M249.4,926.2 L253.4,933.8 L245.4,933.8Z" fill="#000"/>
<path d="M254.1,915.6 L258.1,923.1 L250.1,923.1Z" fill="#000"/>
<path d="M271.8,909.7 L275.8,917.2 L267.8,917.2Z" fill="#000"/>
<path d="M298.8,903.4 L302.8,910.9 L294.8,910.9Z" fill="#000"/>
<path d="M117.0,1163.8 L121.0,1171.4 L113.1,1171.4Z" fill="#000"/>
<path d="M121.2,1153.2 L125.1,1160.8 L117.2,1160.8Z" fill="#000"/>
<path d="M148.8,1136.2 L152.8,1143.8 L144.9,1143.8Z" fill="#000"/>
<path d="M151.8,1125.6 L155.7,1133.2 L147.8,1133.2Z" fill="#000"/>
<path d="M154.1,1114.4 L158.1,1122.0 L150.1,1122.0Z" fill="#000"/>
<path d="M156.1,1103.8 L160.1,1111.4 L152.1,1111.4Z" fill="#000"/>
<path d="M156.8,1099.1 L160.8,1106.7 L152.8,1106.7Z" fill="#000"/>
<path d="M158.4,1089.7 L162.4,1097.2 L154.4,1097.2Z" fill="#000"/>
<path d="M159.2,1085.0 L163.2,1092.6 L155.2,1092.6Z" fill="#000"/>
<path d="M160.6,1074.4 L164.6,1082.0 L156.6,1082.0Z" fill="#000"/>
<path d="M162.0,1063.8 L166.0,1071.4 L158.0,1071.4Z" fill="#000"/>
<path d="M162.7,1059.1 L166.7,1066.7 L158.7,1066.7Z" fill="#000"/>
<path d="M180.0,1033.2 L184.0,1040.8 L176.0,1040.8Z" fill="#000"/>
<path d="M182.3,1022.6 L186.3,1030.2 L178.4,1030.2Z" fill="#000"/>
<path d="M184.1,1012.1 L188.1,1019.6 L180.1,1019.6Z" fill="#000"/>
<path d="M186.4,1002.7 L190.4,1010.2 L182.5,1010.2Z" fill="#000"/>
<path d="M190.6,993.2 L194.5,1000.8 L186.6,1000.8Z" fill="#000"/>
<path d="M202.3,979.1 L206.3,986.6 L198.4,986.6Z" fill="#000"/>
<path d="M204.7,969.1 L208.7,976.6 L200.7,976.6Z" fill="#000"/>
<path d="M227.7,948.5 L231.6,956.1 L223.7,956.1Z" fill="#000"/>
<path d="M247.1,930.3 L251.0,937.9 L243.1,937.9Z" fill="#000"/>
<path d="M251.8,920.9 L255.7,928.4 L247.8,928.4Z" fill="#000"/>
<path d="M285.3,906.5 L289.3,914.1 L281.3,914.1Z" fill="#000"/>
<rect x="138.2" y="1159.0" width="8.4" height="9" rx="1.2" fill="#f00"/>
<rect x="138.2" y="1147.3" width="8.4" height="9" rx="1.2" fill="#f00"/>
<rect x="157.0" y="1134.3" width="8.4" height="9" rx="1.2" fill="#f00"/>
<rect x="158.2" y="1122.1" width="8.4" height="9" rx="1.2" fill="#f00"/>
<rect x="176.5" y="1109.6" width="8.4" height="9" rx="1.2" fill="#f00"/>
<rect x="182.9" y="1097.9" width="8.4" height="9" rx="1.2" fill="#f00"/>
<rect x="189.9" y="1086.1" width="8.4" height="9" rx="1.2" fill="#f00"/>
<rect x="190.6" y="1073.9" width="8.4" height="9" rx="1.2" fill="#f00"/>
<rect x="191.6" y="1061.4" width="8.4" height="9" rx="1.2" fill="#f00"/>
<rect x="196.3" y="1049.6" width="8.4" height="9" rx="1.2" fill="#f00"/>
<rect x="227.6" y="1037.4" width="8.4" height="9" rx="1.2" fill="#f00"/>
<rect x="241.7" y="1024.9" width="8.4" height="9" rx="1.2" fill="#f00"/>
<rect x="252.7" y="1012.7" width="8.4" height="9" rx="1.2" fill="#f00"/>
<rect x="285.2" y="1000.2" width="8.4" height="9" rx="1.2" fill="#f00"/>
<rect x="303.6" y="987.7" width="8.4" height="9" rx="1.2" fill="#f00"/>
<rect x="309.4" y="975.5" width="8.4" height="9" rx="1.2" fill="#f00"/>
<rect x="310.6" y="963.3" width="8.4" height="9" rx="1.2" fill="#f00"/>
<rect x="343.6" y="951.3" width="8.4" height="9" rx="1.2" fill="#f00"/>
<rect x="356.3" y="939.0" width="8.4" height="9" rx="1.2" fill="#f00"/>
<rect x="455.8" y="926.8" width="8.4" height="9" rx="1.2" fill="#f00"/>
<rect x="479.3" y="914.8" width="8.4" height="9" rx="1.2" fill="#f00"/>
<rect x="481.0" y="902.1" width="8.4" height="9" rx="1.2" fill="#f00"/>
<line x1="116.00" y1="804.50" x2="135.70" y2="804.50" stroke="#000" stroke-width="2.6" />
<path d="M126.0,801.0 L130.1,808.7 L121.9,808.7Z" fill="#000"/>
<text x="146.60" y="809.70" font-size="17.9" font-weight="normal" fill="#444" text-anchor="start" font-family='"Liberation Sans", Arial, sans-serif' textLength="48.5" lengthAdjust="spacingAndGlyphs" >Control</text>
<line x1="116.00" y1="828.50" x2="135.70" y2="828.50" stroke="#f00" stroke-width="2.6" />
<rect x="122" y="823.7" width="8.6" height="9.7" rx="1.5" fill="#f00"/>
<text x="146.60" y="834.00" font-size="17.9" font-weight="normal" fill="#444" text-anchor="start" font-family='"Liberation Sans", Arial, sans-serif' textLength="30" lengthAdjust="spacingAndGlyphs" >cKO</text>
<line x1="292.20" y1="860.50" x2="328.20" y2="860.50" stroke="#000" stroke-width="3" />
<text x="309.40" y="857.20" font-size="18.2" font-weight="bold" fill="#000" text-anchor="middle" font-family='"DejaVu Sans", sans-serif' >*</text>
<text x="508.00" y="973.40" font-size="20.3" font-weight="normal" fill="#222" text-anchor="middle" font-family='"Liberation Sans", Arial, sans-serif' textLength="76" lengthAdjust="spacingAndGlyphs" >MitoSox</text>
<text x="400.40" y="1061.10" font-size="17.2" font-weight="normal" fill="#222" text-anchor="middle" font-family='"Liberation Sans", Arial, sans-serif' textLength="188" lengthAdjust="spacingAndGlyphs" transform="rotate(-90 400.40 1061.10)" >Mean fluorescence intensity</text>
<line x1="449.40" y1="985.00" x2="449.40" y2="1152.80" stroke="#000" stroke-width="2" />
<line x1="443.50" y1="1151.80" x2="551.40" y2="1151.80" stroke="#000" stroke-width="2" />
<line x1="443.50" y1="986.70" x2="449.40" y2="986.70" stroke="#000" stroke-width="2" />
<text x="440.60" y="990.70" font-size="11" font-weight="bold" fill="#555" text-anchor="end" font-family='"Liberation Sans", Arial, sans-serif' textLength="38.8" lengthAdjust="spacingAndGlyphs" >150000</text>
<line x1="443.50" y1="1041.60" x2="449.40" y2="1041.60" stroke="#000" stroke-width="2" />
<text x="440.60" y="1045.60" font-size="11" font-weight="bold" fill="#555" text-anchor="end" font-family='"Liberation Sans", Arial, sans-serif' textLength="38.8" lengthAdjust="spacingAndGlyphs" >100000</text>
<line x1="443.50" y1="1096.90" x2="449.40" y2="1096.90" stroke="#000" stroke-width="2" />
<text x="440.60" y="1100.90" font-size="11" font-weight="bold" fill="#555" text-anchor="end" font-family='"Liberation Sans", Arial, sans-serif' textLength="32.3" lengthAdjust="spacingAndGlyphs" >50000</text>
<line x1="443.50" y1="1151.80" x2="449.40" y2="1151.80" stroke="#000" stroke-width="2" />
<text x="440.60" y="1155.80" font-size="11" font-weight="bold" fill="#555" text-anchor="end" font-family='"Liberation Sans", Arial, sans-serif' textLength="6.5" lengthAdjust="spacingAndGlyphs" >0</text>
<rect x="464.70" y="1094.90" width="28.80" height="56.90" fill="#000" />
<rect x="510.85" y="1046.15" width="24.6" height="105.65" fill="#f00" stroke="#000" stroke-width="2.5"/>
<line x1="478.80" y1="1151.80" x2="478.80" y2="1158.60" stroke="#000" stroke-width="2" />
<line x1="522.50" y1="1151.80" x2="522.50" y2="1158.60" stroke="#000" stroke-width="2" />
<line x1="478.80" y1="1094.90" x2="478.80" y2="1090.60" stroke="#000" stroke-width="1.5" />
<line x1="471.00" y1="1090.60" x2="485.70" y2="1090.60" stroke="#000" stroke-width="1.5" />
<line x1="522.50" y1="1044.90" x2="522.50" y2="1029.80" stroke="#000" stroke-width="1.5" />
<line x1="516.00" y1="1029.80" x2="529.80" y2="1029.80" stroke="#000" stroke-width="1.5" />
<path d="M478.8,1081.2 L478.8,1009.6 L522.5,1009.6 L522.5,1015" fill="none" stroke="#555" stroke-width="1.1"/>
<line x1="522.50" y1="1014.00" x2="522.50" y2="1019.60" stroke="#222" stroke-width="2.2" />
<text x="500.40" y="1006.54" font-size="15.0" font-weight="bold" fill="#000" text-anchor="middle" font-family='"DejaVu Sans", sans-serif' >*</text>
<text x="478.60" y="1172.40" font-size="12.4" font-weight="bold" fill="#444" text-anchor="middle" font-family='"Liberation Sans", Arial, sans-serif' textLength="41.8" lengthAdjust="spacingAndGlyphs" >Control</text>
<text x="522.00" y="1172.40" font-size="12.4" font-weight="bold" fill="#444" text-anchor="middle" font-family='"Liberation Sans", Arial, sans-serif' textLength="23.5" lengthAdjust="spacingAndGlyphs" >cKO</text>
<text x="646.50" y="696.10" font-size="50" font-weight="bold" fill="#000" text-anchor="start" font-family='"Liberation Sans", Arial, sans-serif' textLength="27.5" lengthAdjust="spacingAndGlyphs" >d</text>
<text x="880.60" y="747.80" font-size="33.6" font-weight="normal" fill="#222" text-anchor="middle" font-family='"Liberation Sans", Arial, sans-serif' textLength="337" lengthAdjust="spacingAndGlyphs" >Proton leak in primary</text>
<text x="880.60" y="793.20" font-size="33.6" font-weight="normal" fill="#222" text-anchor="middle" font-family='"Liberation Sans", Arial, sans-serif' textLength="250" lengthAdjust="spacingAndGlyphs" >neuronal culture</text>
<text x="687.60" y="1007.70" font-size="30" font-weight="normal" fill="#222" text-anchor="middle" font-family='"Liberation Sans", Arial, sans-serif' textLength="271" lengthAdjust="spacingAndGlyphs" transform="rotate(-90 687.60 1007.70)" >OCR (pmol/min/OD)</text>
<line x1="768.60" y1="873.50" x2="768.60" y2="1186.50" stroke="#000" stroke-width="3.4" />
<line x1="753.00" y1="1185.00" x2="1003.00" y2="1185.00" stroke="#000" stroke-width="3.4" />
<line x1="753.00" y1="1185.00" x2="768.60" y2="1185.00" stroke="#000" stroke-width="3.2" />
<text x="750.20" y="1193.60" font-size="25" font-weight="bold" fill="#000" text-anchor="end" font-family='"Liberation Sans", Arial, sans-serif' textLength="14.8" lengthAdjust="spacingAndGlyphs" >0</text>
<line x1="753.00" y1="1123.00" x2="768.60" y2="1123.00" stroke="#000" stroke-width="3.2" />
<text x="750.20" y="1131.60" font-size="25" font-weight="bold" fill="#000" text-anchor="end" font-family='"Liberation Sans", Arial, sans-serif' textLength="29.6" lengthAdjust="spacingAndGlyphs" >20</text>
<line x1="753.00" y1="1061.00" x2="768.60" y2="1061.00" stroke="#000" stroke-width="3.2" />
<text x="750.20" y="1069.60" font-size="25" font-weight="bold" fill="#000" text-anchor="end" font-family='"Liberation Sans", Arial, sans-serif' textLength="29.6" lengthAdjust="spacingAndGlyphs" >40</text>
<line x1="753.00" y1="999.00" x2="768.60" y2="999.00" stroke="#000" stroke-width="3.2" />
<text x="750.20" y="1007.60" font-size="25" font-weight="bold" fill="#000" text-anchor="end" font-family='"Liberation Sans", Arial, sans-serif' textLength="29.6" lengthAdjust="spacingAndGlyphs" >60</text>
<line x1="753.00" y1="937.00" x2="768.60" y2="937.00" stroke="#000" stroke-width="3.2" />
<text x="750.20" y="945.60" font-size="25" font-weight="bold" fill="#000" text-anchor="end" font-family='"Liberation Sans", Arial, sans-serif' textLength="29.6" lengthAdjust="spacingAndGlyphs" >80</text>
<line x1="753.00" y1="875.00" x2="768.60" y2="875.00" stroke="#000" stroke-width="3.2" />
<text x="750.20" y="883.60" font-size="25" font-weight="bold" fill="#000" text-anchor="end" font-family='"Liberation Sans", Arial, sans-serif' textLength="44.400000000000006" lengthAdjust="spacingAndGlyphs" >100</text>
<rect x="801.90" y="934.00" width="66.90" height="251.00" fill="#000" />
<rect x="904.7" y="1037.7" width="61" height="147.3" fill="#ff0000" stroke="#000" stroke-width="4"/>
<line x1="834.60" y1="1185.00" x2="834.60" y2="1197.20" stroke="#000" stroke-width="3" />
<line x1="935.00" y1="1185.00" x2="935.00" y2="1197.20" stroke="#000" stroke-width="3" />
<line x1="839.70" y1="870.50" x2="930.90" y2="870.50" stroke="#000" stroke-width="2.4" />
<text x="853.30" y="867.01" font-size="30.4" font-weight="bold" fill="#000" text-anchor="middle" font-family='"DejaVu Sans", sans-serif' >*</text>
<text x="875.20" y="867.01" font-size="30.4" font-weight="bold" fill="#000" text-anchor="middle" font-family='"DejaVu Sans", sans-serif' >*</text>
<text x="897.10" y="867.01" font-size="30.4" font-weight="bold" fill="#000" text-anchor="middle" font-family='"DejaVu Sans", sans-serif' >*</text>
<line x1="835.50" y1="934.00" x2="835.50" y2="924.70" stroke="#444" stroke-width="1.5" />
<line x1="818.20" y1="924.70" x2="852.00" y2="924.70" stroke="#444" stroke-width="1.5" />
<line x1="935.20" y1="1024.90" x2="935.20" y2="1047.50" stroke="#444" stroke-width="1.5" />
<line x1="919.50" y1="1024.90" x2="951.50" y2="1024.90" stroke="#444" stroke-width="1.5" />
<line x1="918.50" y1="1047.50" x2="951.50" y2="1047.50" stroke="#444" stroke-width="1.5" />
<ellipse cx="835.5" cy="907.8" rx="5.2" ry="4.3" fill="#fff" stroke="#000" stroke-width="3"/>
<ellipse cx="845.7" cy="924.1" rx="5.2" ry="4.3" fill="#fff" stroke="#000" stroke-width="3"/>
<ellipse cx="825.1" cy="931.8" rx="5.2" ry="4.3" fill="#fff" stroke="#000" stroke-width="3"/>
<ellipse cx="825.1" cy="955.8" rx="5.2" ry="4.3" fill="#fff" stroke="#000" stroke-width="3"/>
<ellipse cx="845.7" cy="948.1" rx="5.2" ry="4.3" fill="#fff" stroke="#000" stroke-width="3"/>
<ellipse cx="935.7" cy="988.2" rx="5.2" ry="4.3" fill="#fff" stroke="#000" stroke-width="3"/>
<ellipse cx="925.3" cy="1027.8" rx="5.2" ry="4.3" fill="#fff" stroke="#000" stroke-width="3"/>
<ellipse cx="925.3" cy="1039" rx="5.2" ry="4.3" fill="#fff" stroke="#000" stroke-width="3"/>
<ellipse cx="945.9" cy="1034.8" rx="5.2" ry="4.3" fill="#fff" stroke="#000" stroke-width="3"/>
<ellipse cx="946.5" cy="1060.2" rx="5.2" ry="4.3" fill="#fff" stroke="#000" stroke-width="3"/>
<ellipse cx="924.7" cy="1067.3" rx="5.2" ry="4.3" fill="#fff" stroke="#000" stroke-width="3"/>
<text x="843.00" y="1216.50" font-size="25.5" font-weight="bold" fill="#000" text-anchor="end" font-family='"Liberation Sans", Arial, sans-serif' transform="rotate(-42 843.00 1216.50)" >Control</text>
<text x="943.50" y="1216.50" font-size="26.5" font-weight="bold" fill="#000" text-anchor="end" font-family='"Liberation Sans", Arial, sans-serif' transform="rotate(-45 943.50 1216.50)" >cKO</text>
<defs>
<filter id="blur05" x="-5%" y="-5%" width="110%" height="110%"><feGaussianBlur stdDeviation="0.5"/></filter>
<filter id="blur06" x="-5%" y="-5%" width="110%" height="110%"><feGaussianBlur stdDeviation="0.7"/></filter>
<filter id="blur1" x="-50%" y="-50%" width="200%" height="200%"><feGaussianBlur stdDeviation="1.0"/></filter>
<filter id="blur08" x="-50%" y="-50%" width="200%" height="200%"><feGaussianBlur stdDeviation="0.8"/></filter>
<filter id="blur3" x="-50%" y="-50%" width="200%" height="200%"><feGaussianBlur stdDeviation="3"/></filter>
<filter id="blur4" x="-20%" y="-20%" width="140%" height="140%"><feGaussianBlur stdDeviation="4"/></filter>
<filter id="blur8" x="-50%" y="-50%" width="200%" height="200%"><feGaussianBlur stdDeviation="10"/></filter>
</defs>
<text x="1016.50" y="37.40" font-size="48" font-weight="bold" fill="#000" text-anchor="start" font-family='"Liberation Sans", Arial, sans-serif' textLength="27" lengthAdjust="spacingAndGlyphs" >b</text>
<text x="1073.20" y="196.70" font-size="31.5" font-weight="normal" fill="#000" text-anchor="middle" font-family='"Liberation Sans", Arial, sans-serif' textLength="107" lengthAdjust="spacingAndGlyphs" transform="rotate(-90 1073.20 196.70)" >Control</text>
<text x="1076.00" y="520.70" font-size="31.5" font-weight="normal" fill="#000" text-anchor="middle" font-family='"Liberation Sans", Arial, sans-serif' textLength="56.5" lengthAdjust="spacingAndGlyphs" transform="rotate(-90 1076.00 520.70)" >cKO</text>
<rect x="1098.50" y="34.00" width="649.50" height="648.50" fill="#000" />
<clipPath id="clipTL"><rect x="1099" y="34.5" width="323" height="322.5"/></clipPath>
<g clip-path="url(#clipTL)">
<rect x="1099" y="34.5" width="323" height="322.5" fill="#080800"/>
<g fill="none" stroke="#464600" filter="url(#blur1)"><path d="M1245.1,215.0 C1246.6,214.3 1251.0,211.9 1254.0,210.5 C1257.1,209.1 1260.5,208.5 1263.3,206.8 C1266.2,205.1 1268.4,202.5 1271.0,200.4 C1273.6,198.3 1276.0,196.0 1278.7,194.1 C1281.5,192.1 1285.8,189.7 1287.2,188.8" stroke-width="1.04" opacity="0.34"/><path d="M1410.6,245.4 C1409.0,245.0 1404.1,243.8 1400.9,243.0 C1397.7,242.2 1394.5,240.5 1391.3,240.3 C1388.0,240.2 1384.5,241.0 1381.4,242.0 C1378.3,243.1 1374.0,245.9 1372.5,246.7" stroke-width="0.82" opacity="0.41"/><path d="M1248.9,176.6 C1250.0,175.3 1253.3,171.6 1255.5,169.1 C1257.7,166.6 1259.7,163.9 1262.1,161.5 C1264.4,159.2 1267.3,157.4 1269.8,155.2 C1272.3,153.0 1275.0,151.0 1277.2,148.5 C1279.4,146.1 1280.6,142.5 1283.0,140.4 C1285.5,138.3 1288.9,136.7 1292.0,136.0 C1295.2,135.3 1300.3,136.3 1302.0,136.4" stroke-width="1.37" opacity="0.68"/><path d="M1200.8,108.6 C1200.0,110.0 1197.4,114.3 1195.9,117.3 C1194.5,120.3 1193.7,123.7 1191.9,126.5 C1190.1,129.2 1186.2,132.5 1185.1,133.7" stroke-width="1.57" opacity="0.47"/><path d="M1372.7,34.7 C1373.1,36.3 1375.3,41.0 1375.5,44.3 C1375.6,47.5 1374.0,50.8 1373.5,54.1 C1373.0,57.4 1372.2,60.8 1372.6,64.0 C1373.0,67.3 1375.0,70.3 1375.8,73.5 C1376.7,76.7 1377.6,80.0 1377.8,83.3 C1378.1,86.6 1377.0,89.9 1377.1,93.3 C1377.2,96.6 1377.5,100.1 1378.6,103.1 C1379.8,106.2 1382.0,108.9 1384.0,111.6 C1386.0,114.2 1389.1,116.1 1390.7,119.0 C1392.3,121.8 1392.9,127.0 1393.4,128.6" stroke-width="0.89" opacity="0.64"/><path d="M1178.6,67.1 C1180.2,67.2 1185.2,67.3 1188.6,67.6 C1191.9,67.9 1195.2,68.5 1198.5,68.8 C1201.8,69.0 1205.2,69.7 1208.5,69.4 C1211.8,69.1 1214.9,67.3 1218.2,66.9 C1221.5,66.5 1225.0,67.4 1228.2,66.7 C1231.4,66.1 1234.3,64.0 1237.4,63.0 C1240.6,61.9 1244.2,62.0 1247.2,60.6 C1250.1,59.2 1252.6,56.8 1255.3,54.7 C1257.9,52.7 1261.6,49.3 1262.9,48.2" stroke-width="1.02" opacity="0.40"/><path d="M1412.6,293.6 C1412.5,295.3 1412.1,300.3 1412.1,303.6 C1412.1,306.9 1413.0,310.3 1412.6,313.6 C1412.2,316.8 1410.9,320.0 1409.7,323.1 C1408.5,326.2 1406.2,329.0 1405.4,332.2 C1404.6,335.3 1405.9,339.1 1405.0,342.2 C1404.1,345.3 1401.2,347.7 1399.9,350.8 C1398.7,353.8 1397.9,357.2 1397.5,360.5 C1397.1,363.8 1398.0,367.2 1397.5,370.5 C1397.0,373.8 1395.4,376.8 1394.8,380.1 C1394.2,383.4 1393.9,388.4 1393.7,390.1" stroke-width="0.86" opacity="0.43"/><path d="M1128.1,222.4 C1128.4,224.1 1129.2,229.0 1129.8,232.3 C1130.5,235.6 1132.0,238.8 1132.0,242.0 C1132.0,245.3 1130.4,248.5 1129.6,251.8 C1128.8,255.0 1127.8,259.9 1127.4,261.5" stroke-width="0.95" opacity="0.69"/><path d="M1148.8,327.5 C1149.0,325.8 1149.2,320.8 1149.9,317.5 C1150.7,314.3 1151.6,310.9 1153.4,308.2 C1155.2,305.4 1158.6,303.8 1160.6,301.2 C1162.5,298.5 1164.5,293.8 1165.3,292.3" stroke-width="1.51" opacity="0.73"/><path d="M1176.0,261.7 C1175.8,263.4 1174.7,268.3 1174.6,271.6 C1174.5,274.9 1174.5,278.4 1175.3,281.6 C1176.0,284.8 1178.2,287.7 1179.1,290.9 C1180.0,294.0 1179.5,297.7 1180.8,300.7 C1182.0,303.7 1184.2,306.5 1186.4,309.0 C1188.7,311.4 1191.6,313.2 1194.1,315.4 C1196.6,317.6 1199.4,319.6 1201.4,322.2 C1203.3,324.9 1204.5,328.1 1205.8,331.2 C1207.1,334.3 1208.7,339.0 1209.2,340.6" stroke-width="1.53" opacity="0.43"/><path d="M1164.9,39.8 C1165.4,41.4 1166.5,46.4 1168.0,49.3 C1169.5,52.3 1171.9,54.8 1174.0,57.3 C1176.2,59.9 1178.8,62.0 1181.0,64.5 C1183.2,67.0 1184.9,70.1 1187.5,72.1 C1190.0,74.2 1193.2,75.5 1196.2,76.9 C1199.3,78.3 1204.0,79.9 1205.6,80.5" stroke-width="1.58" opacity="0.70"/><path d="M1311.2,257.4 C1309.5,257.3 1304.4,256.2 1301.2,256.8 C1298.0,257.3 1295.3,260.1 1292.1,260.8 C1288.9,261.5 1285.4,261.2 1282.1,260.9 C1278.8,260.6 1273.9,259.3 1272.3,258.9" stroke-width="0.82" opacity="0.73"/><path d="M1335.0,137.3 C1336.6,137.4 1341.7,137.2 1344.9,137.8 C1348.2,138.3 1351.7,139.0 1354.6,140.5 C1357.5,142.0 1361.0,145.8 1362.3,146.8" stroke-width="1.36" opacity="0.63"/><path d="M1355.2,329.6 C1353.8,330.4 1349.7,333.5 1346.6,334.6 C1343.5,335.8 1340.0,335.6 1336.7,336.2 C1333.5,336.9 1330.3,338.3 1327.0,338.6 C1323.7,338.9 1320.2,338.9 1317.0,338.1 C1313.8,337.4 1310.9,335.6 1307.9,334.1 C1304.9,332.7 1301.9,331.2 1299.0,329.5 C1296.2,327.7 1293.7,325.5 1290.8,323.7 C1288.0,322.0 1283.5,319.8 1282.0,319.0" stroke-width="1.29" opacity="0.56"/><path d="M1124.9,240.7 C1126.5,241.0 1131.4,242.1 1134.7,242.6 C1138.0,243.0 1141.5,242.7 1144.7,243.3 C1148.0,243.9 1151.1,245.2 1154.2,246.4 C1157.4,247.5 1160.4,249.0 1163.5,250.2 C1166.6,251.3 1170.0,251.8 1172.9,253.4 C1175.8,255.0 1177.9,258.2 1180.8,259.6 C1183.7,261.1 1187.4,260.9 1190.5,262.1 C1193.5,263.3 1197.8,266.1 1199.2,267.0" stroke-width="1.18" opacity="0.57"/><path d="M1173.4,259.7 C1171.8,259.1 1167.3,256.7 1164.2,255.8 C1161.0,254.9 1157.5,253.9 1154.3,254.2 C1151.1,254.5 1147.8,256.1 1144.8,257.4 C1141.8,258.8 1139.2,261.1 1136.2,262.5 C1133.2,263.9 1128.4,265.3 1126.8,265.9" stroke-width="1.52" opacity="0.38"/><path d="M1387.0,139.9 C1386.1,138.6 1382.8,134.7 1381.4,131.7 C1380.0,128.7 1378.8,125.3 1378.5,122.1 C1378.3,118.8 1378.7,115.3 1379.8,112.2 C1380.8,109.1 1383.8,104.9 1384.6,103.4" stroke-width="1.27" opacity="0.47"/><path d="M1201.2,78.4 C1199.6,77.9 1194.8,76.6 1191.8,75.2 C1188.7,73.8 1185.5,72.3 1183.2,70.1 C1180.8,67.8 1179.8,64.3 1177.7,61.7 C1175.5,59.2 1173.2,56.7 1170.4,54.8 C1167.7,53.0 1164.4,51.9 1161.4,50.6 C1158.3,49.3 1155.3,47.8 1152.1,46.9 C1148.9,46.0 1145.5,45.3 1142.2,45.3 C1138.9,45.2 1135.6,46.0 1132.3,46.5 C1129.0,47.1 1124.2,48.3 1122.5,48.6" stroke-width="1.20" opacity="0.58"/><path d="M1200.9,305.1 C1202.3,304.3 1207.1,302.3 1209.5,300.0 C1211.8,297.7 1212.6,293.9 1214.8,291.5 C1217.0,289.1 1221.5,286.6 1222.9,285.6" stroke-width="1.26" opacity="0.62"/><path d="M1198.8,289.8 C1200.5,289.9 1207.1,290.4 1208.8,290.5" stroke-width="0.99" opacity="0.67"/><path d="M1144.5,49.6 C1143.5,48.3 1140.4,44.4 1138.6,41.6 C1136.9,38.7 1135.1,35.8 1134.1,32.7 C1133.0,29.5 1132.2,26.0 1132.4,22.8 C1132.6,19.6 1134.0,16.3 1135.3,13.2 C1136.5,10.1 1138.8,7.5 1139.9,4.3 C1140.9,1.2 1141.3,-3.9 1141.6,-5.5" stroke-width="0.94" opacity="0.51"/><path d="M1102.5,186.8 C1101.7,185.3 1099.8,180.7 1098.1,177.8 C1096.4,174.9 1094.0,172.5 1092.4,169.6 C1090.8,166.7 1089.7,163.5 1088.4,160.4 C1087.1,157.3 1085.3,152.7 1084.6,151.2" stroke-width="1.40" opacity="0.58"/><path d="M1226.1,289.9 C1227.8,289.6 1232.7,288.5 1236.0,288.3 C1239.3,288.2 1242.7,289.4 1246.0,289.0 C1249.2,288.6 1253.9,286.5 1255.5,286.0" stroke-width="1.30" opacity="0.50"/><path d="M1392.9,156.0 C1391.7,154.9 1387.3,152.0 1385.5,149.4 C1383.6,146.7 1382.9,143.2 1381.6,140.1 C1380.2,137.1 1378.6,134.2 1377.4,131.1 C1376.2,127.9 1376.0,124.5 1374.6,121.5 C1373.2,118.5 1370.6,116.0 1369.1,113.1 C1367.7,110.1 1366.3,106.9 1365.7,103.7 C1365.0,100.5 1365.2,97.0 1365.3,93.7 C1365.4,90.4 1365.6,87.0 1366.3,83.8 C1367.0,80.5 1368.9,77.5 1369.5,74.3 C1370.1,71.0 1369.8,66.0 1369.9,64.3" stroke-width="1.58" opacity="0.70"/><path d="M1414.7,207.7 C1415.7,206.4 1418.4,202.0 1420.9,199.8 C1423.3,197.6 1426.7,196.5 1429.4,194.6 C1432.1,192.6 1435.0,190.7 1437.0,188.1 C1439.1,185.6 1440.1,182.2 1441.4,179.2 C1442.8,176.1 1444.6,171.5 1445.3,169.9" stroke-width="1.41" opacity="0.55"/><path d="M1256.4,43.7 C1257.5,42.4 1261.1,38.7 1262.7,35.8 C1264.3,33.0 1265.2,29.6 1266.0,26.4 C1266.9,23.2 1267.5,18.2 1267.8,16.6" stroke-width="0.91" opacity="0.65"/><path d="M1147.0,201.1 C1147.1,199.4 1146.5,194.2 1147.3,191.1 C1148.0,187.9 1151.0,183.6 1151.8,182.2" stroke-width="0.87" opacity="0.73"/><path d="M1192.7,269.6 C1192.1,268.0 1190.3,263.3 1189.3,260.2 C1188.2,257.0 1187.6,253.7 1186.3,250.6 C1185.1,247.5 1183.4,244.6 1181.7,241.7 C1180.0,238.9 1177.4,236.5 1176.0,233.5 C1174.7,230.5 1173.7,227.1 1173.5,223.8 C1173.3,220.6 1174.7,215.6 1174.9,213.9" stroke-width="1.57" opacity="0.68"/><path d="M1268.3,219.3 C1268.8,220.9 1270.5,225.6 1271.3,228.8 C1272.2,232.1 1271.9,235.7 1273.3,238.6 C1274.7,241.6 1278.2,243.5 1279.5,246.5 C1280.9,249.4 1280.9,253.0 1281.5,256.3 C1282.2,259.5 1282.6,262.8 1283.4,266.1 C1284.2,269.3 1285.8,272.4 1286.2,275.7 C1286.7,278.9 1286.1,284.0 1286.1,285.7" stroke-width="1.19" opacity="0.55"/><path d="M1322.2,55.8 C1320.9,54.7 1316.5,51.9 1314.5,49.3 C1312.5,46.7 1312.0,43.1 1310.2,40.3 C1308.4,37.5 1306.1,35.1 1303.9,32.5 C1301.8,29.9 1300.0,26.9 1297.5,24.9 C1294.9,22.8 1291.6,21.6 1288.7,20.2 C1285.7,18.7 1281.1,16.7 1279.6,16.0" stroke-width="1.52" opacity="0.67"/><path d="M1160.8,233.8 C1162.5,233.5 1167.7,233.2 1170.7,231.9 C1173.6,230.5 1176.3,228.1 1178.5,225.7 C1180.8,223.3 1183.2,218.8 1184.1,217.4" stroke-width="1.06" opacity="0.61"/><path d="M1213.8,234.4 C1215.4,234.8 1220.2,236.2 1223.4,237.2 C1226.6,238.1 1229.7,239.5 1233.0,240.0 C1236.2,240.6 1239.7,240.8 1242.9,240.5 C1246.2,240.1 1249.4,238.7 1252.6,237.9 C1255.8,237.1 1259.1,236.5 1262.4,235.6 C1265.6,234.8 1268.8,233.9 1271.9,232.7 C1275.0,231.6 1278.1,230.2 1281.1,228.7 C1284.1,227.2 1288.4,224.7 1289.8,223.9" stroke-width="0.93" opacity="0.54"/><path d="M1165.0,238.1 C1164.4,236.5 1162.5,231.9 1161.6,228.7 C1160.6,225.5 1159.4,222.3 1159.2,219.0 C1159.0,215.7 1160.4,212.4 1160.4,209.1 C1160.3,205.8 1159.2,200.8 1158.9,199.2" stroke-width="1.52" opacity="0.66"/><path d="M1201.0,136.1 C1202.7,136.1 1207.8,135.5 1211.0,136.2 C1214.2,136.9 1217.0,139.4 1220.2,140.1 C1223.4,140.8 1226.9,140.8 1230.2,140.5 C1233.5,140.1 1238.3,138.6 1240.0,138.2" stroke-width="1.01" opacity="0.63"/><path d="M1130.3,302.9 C1129.3,304.1 1125.9,307.9 1123.9,310.5 C1121.8,313.1 1120.3,316.2 1118.2,318.7 C1116.0,321.2 1112.7,323.0 1111.0,325.7 C1109.3,328.5 1108.5,332.0 1108.0,335.3 C1107.5,338.5 1108.2,341.9 1107.9,345.3 C1107.5,348.6 1107.2,352.1 1105.9,355.1 C1104.7,358.1 1102.7,361.1 1100.3,363.3 C1097.9,365.5 1094.0,366.0 1091.5,368.1 C1089.0,370.1 1086.2,374.5 1085.1,375.8" stroke-width="1.41" opacity="0.53"/><path d="M1261.4,255.6 C1262.6,256.8 1265.7,261.0 1268.4,262.8 C1271.2,264.5 1274.7,264.8 1277.9,266.0 C1281.0,267.2 1285.6,269.1 1287.1,269.7" stroke-width="1.25" opacity="0.53"/><path d="M1146.3,94.0 C1146.0,95.6 1145.7,100.8 1144.3,103.8 C1143.0,106.8 1139.8,108.9 1138.5,111.9 C1137.1,114.9 1136.3,118.4 1136.3,121.7 C1136.2,124.9 1138.4,128.2 1138.4,131.4 C1138.4,134.7 1136.8,137.9 1136.1,141.2 C1135.3,144.4 1135.2,147.8 1134.1,151.0 C1133.0,154.1 1130.8,156.8 1129.6,159.9 C1128.4,163.0 1127.7,166.3 1126.8,169.5 C1125.9,172.7 1124.6,177.5 1124.2,179.2" stroke-width="1.14" opacity="0.53"/><path d="M1293.1,38.8 C1292.1,37.4 1289.3,33.3 1287.2,30.7 C1285.2,28.0 1282.7,25.7 1281.0,22.8 C1279.3,20.0 1278.4,16.7 1276.8,13.8 C1275.3,10.8 1273.8,7.7 1271.8,5.1 C1269.7,2.6 1267.1,0.2 1264.4,-1.6 C1261.6,-3.4 1258.2,-4.2 1255.2,-5.5 C1252.1,-6.8 1249.2,-9.0 1246.0,-9.6 C1242.8,-10.1 1239.3,-8.5 1236.1,-8.9 C1232.8,-9.3 1228.2,-11.5 1226.6,-12.1" stroke-width="1.36" opacity="0.66"/><path d="M1377.0,237.5 C1375.6,238.4 1371.8,242.0 1368.7,243.1 C1365.7,244.2 1362.1,244.3 1358.8,244.2 C1355.5,244.1 1352.3,242.5 1349.0,242.3 C1345.7,242.1 1342.2,243.3 1339.0,242.8 C1335.8,242.3 1332.6,240.8 1329.6,239.3 C1326.7,237.7 1323.9,235.8 1321.4,233.6 C1319.0,231.3 1316.1,227.1 1315.1,225.8" stroke-width="1.12" opacity="0.67"/><path d="M1388.6,318.2 C1388.4,316.6 1388.2,311.6 1387.8,308.3 C1387.3,305.0 1386.2,301.7 1386.0,298.4 C1385.8,295.1 1387.0,291.7 1386.5,288.4 C1385.9,285.2 1384.2,282.1 1382.8,279.2 C1381.3,276.2 1379.4,273.4 1377.6,270.6 C1375.8,267.8 1374.5,264.4 1372.2,262.2 C1369.8,260.0 1366.5,258.7 1363.5,257.3 C1360.4,255.9 1357.1,255.1 1354.1,253.7 C1351.1,252.3 1346.8,249.7 1345.4,248.9" stroke-width="0.99" opacity="0.58"/><path d="M1404.1,249.3 C1403.2,250.7 1400.3,254.8 1398.3,257.4 C1396.3,260.1 1394.1,262.6 1392.2,265.4 C1390.3,268.1 1389.3,271.7 1387.0,273.9 C1384.7,276.2 1381.4,277.5 1378.4,279.0 C1375.4,280.4 1372.3,281.8 1369.1,282.7 C1365.9,283.6 1362.6,284.4 1359.3,284.5 C1356.0,284.7 1352.4,284.8 1349.3,283.8 C1346.3,282.7 1342.3,279.3 1340.9,278.5" stroke-width="1.29" opacity="0.31"/><path d="M1337.6,117.3 C1336.6,118.6 1333.4,122.5 1331.6,125.2 C1329.8,128.0 1327.6,130.8 1326.6,133.9 C1325.6,137.0 1325.6,142.2 1325.4,143.8" stroke-width="1.52" opacity="0.41"/><path d="M1276.7,198.3 C1278.3,198.7 1283.1,200.0 1286.3,201.1 C1289.4,202.3 1292.6,203.4 1295.4,205.3 C1298.1,207.1 1299.9,210.3 1302.8,212.0 C1305.6,213.6 1309.2,213.9 1312.3,215.0 C1315.4,216.2 1318.6,217.3 1321.5,219.0 C1324.3,220.7 1326.4,223.8 1329.3,225.2 C1332.2,226.6 1337.4,227.0 1339.1,227.4" stroke-width="0.93" opacity="0.72"/><path d="M1251.4,89.0 C1249.9,89.8 1245.6,92.8 1242.5,93.6 C1239.3,94.4 1235.8,93.6 1232.5,93.8 C1229.1,94.0 1225.8,94.5 1222.5,94.8 C1219.2,95.1 1215.9,95.5 1212.5,95.6 C1209.2,95.7 1205.9,95.2 1202.5,95.4 C1199.2,95.6 1195.8,95.8 1192.6,96.5 C1189.4,97.3 1184.7,99.2 1183.1,99.8" stroke-width="1.25" opacity="0.59"/><path d="M1190.6,265.6 C1190.5,267.3 1189.6,272.4 1190.2,275.6 C1190.9,278.8 1192.5,282.0 1194.3,284.7 C1196.2,287.4 1200.1,290.7 1201.3,291.9" stroke-width="1.11" opacity="0.64"/><path d="M1388.9,275.8 C1390.1,277.0 1393.4,281.0 1396.2,282.7 C1398.9,284.4 1402.8,284.3 1405.6,286.0 C1408.4,287.7 1410.5,290.6 1413.0,292.7 C1415.5,294.9 1418.2,296.9 1420.9,298.9 C1423.5,301.0 1426.8,302.4 1428.8,305.0 C1430.9,307.5 1431.4,311.2 1433.2,313.9 C1435.0,316.7 1437.6,319.0 1439.7,321.5 C1441.8,324.1 1444.6,326.4 1446.0,329.3 C1447.5,332.2 1448.0,335.7 1448.5,339.0 C1448.9,342.3 1448.7,347.3 1448.7,349.0" stroke-width="1.58" opacity="0.51"/><path d="M1362.8,229.2 C1364.1,230.2 1367.7,233.8 1370.6,235.4 C1373.4,237.1 1376.6,238.7 1379.9,239.2 C1383.1,239.7 1386.5,238.7 1389.8,238.5 C1393.2,238.4 1396.6,238.9 1399.8,238.2 C1403.0,237.4 1406.0,235.6 1409.0,234.1 C1412.0,232.7 1414.8,230.9 1417.9,229.6 C1421.0,228.4 1425.9,227.1 1427.4,226.6" stroke-width="1.01" opacity="0.50"/><path d="M1287.1,169.8 C1288.1,168.5 1290.8,164.0 1293.3,162.0 C1295.8,160.0 1299.2,158.7 1302.3,157.7 C1305.5,156.6 1309.0,156.7 1312.1,155.6 C1315.2,154.5 1318.4,153.1 1321.0,151.0 C1323.6,149.0 1325.0,145.5 1327.5,143.5 C1330.1,141.5 1333.4,140.0 1336.5,139.0 C1339.6,137.9 1344.7,137.5 1346.3,137.2" stroke-width="1.09" opacity="0.58"/><path d="M1186.7,255.4 C1185.3,254.6 1180.7,252.3 1178.1,250.3 C1175.5,248.2 1173.8,245.1 1171.1,243.1 C1168.5,241.2 1165.4,239.7 1162.3,238.5 C1159.2,237.3 1155.4,237.7 1152.5,236.2 C1149.7,234.7 1146.9,232.2 1145.0,229.6 C1143.0,227.0 1141.5,223.8 1140.7,220.6 C1139.9,217.4 1140.2,212.3 1140.1,210.6" stroke-width="0.85" opacity="0.32"/><path d="M1274.0,57.9 C1275.3,58.8 1280.9,62.5 1282.2,63.5" stroke-width="1.18" opacity="0.47"/><path d="M1167.0,145.3 C1166.3,143.8 1164.6,139.0 1162.6,136.4 C1160.6,133.8 1157.3,132.2 1155.2,129.7 C1153.1,127.1 1151.6,124.0 1150.1,121.1 C1148.6,118.1 1147.1,115.0 1146.2,111.9 C1145.3,108.7 1145.7,105.1 1144.8,102.0 C1143.9,98.8 1142.2,95.8 1140.7,92.8 C1139.2,89.9 1137.8,86.8 1135.9,84.1 C1134.0,81.4 1131.0,79.4 1129.2,76.7 C1127.4,73.9 1125.7,69.1 1125.0,67.6" stroke-width="1.32" opacity="0.47"/><path d="M1418.5,139.4 C1417.3,138.3 1413.6,134.9 1411.0,132.8 C1408.5,130.7 1405.9,128.6 1403.1,126.7 C1400.3,124.9 1397.5,122.8 1394.4,121.7 C1391.3,120.7 1387.6,121.5 1384.5,120.5 C1381.4,119.5 1378.8,116.7 1375.7,115.8 C1372.6,114.9 1369.0,114.6 1365.7,115.0 C1362.5,115.5 1359.5,117.4 1356.3,118.4 C1353.1,119.4 1348.3,120.7 1346.7,121.1" stroke-width="1.35" opacity="0.52"/><path d="M1195.5,284.6 C1196.9,285.6 1200.6,289.2 1203.6,290.6 C1206.5,291.9 1210.0,292.4 1213.3,292.8 C1216.6,293.2 1220.0,292.6 1223.3,293.0 C1226.6,293.5 1231.4,295.1 1233.0,295.5" stroke-width="1.03" opacity="0.61"/><path d="M1145.2,149.9 C1144.3,148.5 1141.5,144.3 1140.1,141.3 C1138.7,138.3 1137.8,135.0 1136.9,131.8 C1135.9,128.6 1134.5,125.4 1134.4,122.1 C1134.2,118.9 1134.8,115.3 1136.0,112.3 C1137.2,109.2 1140.7,105.4 1141.7,104.0" stroke-width="1.15" opacity="0.71"/><path d="M1358.4,132.8 C1357.1,133.9 1353.7,137.7 1350.8,139.3 C1348.0,140.9 1344.3,141.0 1341.3,142.4 C1338.3,143.8 1335.6,145.8 1332.9,147.8 C1330.2,149.8 1326.5,153.2 1325.3,154.3" stroke-width="1.12" opacity="0.46"/><path d="M1224.2,97.4 C1222.7,96.7 1217.8,95.0 1215.1,93.1 C1212.5,91.2 1210.3,88.5 1208.0,86.1 C1205.7,83.7 1203.9,80.7 1201.4,78.6 C1198.8,76.6 1195.3,75.7 1192.7,73.7 C1190.0,71.7 1187.4,69.4 1185.5,66.7 C1183.7,64.0 1183.2,60.4 1181.5,57.5 C1179.8,54.7 1178.1,51.5 1175.6,49.5 C1173.1,47.4 1169.6,46.5 1166.6,45.0 C1163.7,43.5 1159.2,41.2 1157.8,40.4" stroke-width="1.25" opacity="0.54"/><path d="M1411.2,244.5 C1411.8,243.0 1413.3,238.1 1414.9,235.3 C1416.6,232.4 1419.7,230.4 1421.2,227.5 C1422.7,224.5 1423.3,219.4 1423.8,217.8" stroke-width="1.39" opacity="0.34"/><path d="M1389.4,61.8 C1388.6,60.3 1386.1,56.0 1384.8,53.0 C1383.4,49.9 1383.0,46.5 1381.5,43.5 C1380.0,40.5 1378.1,37.6 1375.9,35.2 C1373.8,32.7 1369.6,29.8 1368.3,28.7" stroke-width="1.22" opacity="0.64"/><path d="M1208.1,346.8 C1207.4,345.3 1204.9,340.9 1203.8,337.8 C1202.7,334.6 1201.9,331.3 1201.5,328.0 C1201.1,324.7 1200.7,321.2 1201.3,318.0 C1201.9,314.8 1204.0,311.9 1205.1,308.8 C1206.3,305.7 1206.6,302.2 1208.1,299.3 C1209.6,296.3 1213.0,292.5 1214.0,291.2" stroke-width="1.48" opacity="0.60"/><path d="M1359.3,303.4 C1360.7,302.5 1364.9,299.8 1367.8,298.1 C1370.6,296.4 1373.4,294.4 1376.4,293.0 C1379.4,291.6 1382.6,290.4 1385.9,289.8 C1389.1,289.2 1392.5,289.8 1395.9,289.6 C1399.2,289.4 1402.5,289.0 1405.8,288.6 C1409.1,288.1 1412.6,287.9 1415.6,286.8 C1418.7,285.6 1421.2,283.0 1424.2,281.7 C1427.3,280.3 1430.6,278.9 1433.8,278.8 C1437.0,278.6 1440.3,280.3 1443.6,280.7 C1446.9,281.2 1451.9,281.3 1453.6,281.5" stroke-width="0.96" opacity="0.38"/><path d="M1136.1,243.5 C1135.6,241.9 1134.3,237.0 1133.4,233.8 C1132.4,230.7 1131.2,227.5 1130.3,224.3 C1129.4,221.1 1128.1,217.9 1128.0,214.6 C1127.9,211.3 1129.4,206.4 1129.7,204.8" stroke-width="0.89" opacity="0.32"/><path d="M1171.3,94.2 C1170.6,95.7 1167.7,101.7 1167.0,103.2" stroke-width="1.45" opacity="0.55"/><path d="M1385.6,329.3 C1384.2,330.2 1379.9,332.7 1377.0,334.4 C1374.2,336.2 1371.1,337.6 1368.5,339.7 C1366.0,341.8 1363.4,344.3 1361.8,347.1 C1360.2,349.9 1360.5,353.8 1358.9,356.7 C1357.3,359.5 1354.8,362.0 1352.2,364.1 C1349.7,366.2 1346.4,367.3 1343.6,369.2 C1340.8,371.0 1337.0,374.2 1335.6,375.2" stroke-width="1.21" opacity="0.54"/><path d="M1187.7,353.9 C1186.2,353.1 1181.9,350.6 1178.9,349.1 C1176.0,347.5 1173.1,345.8 1170.0,344.5 C1167.0,343.2 1163.5,342.7 1160.6,341.1 C1157.7,339.5 1153.9,336.1 1152.6,335.1" stroke-width="1.28" opacity="0.62"/><path d="M1149.8,85.1 C1148.6,86.2 1144.9,89.7 1142.5,91.9 C1140.0,94.2 1137.7,96.6 1135.1,98.6 C1132.5,100.7 1129.8,103.1 1126.8,104.2 C1123.8,105.4 1120.1,104.6 1116.9,105.3 C1113.6,106.0 1109.0,108.0 1107.4,108.6" stroke-width="0.92" opacity="0.54"/><path d="M1347.8,34.9 C1349.0,33.7 1353.1,30.5 1354.8,27.8 C1356.5,25.0 1357.5,21.6 1358.3,18.4 C1359.0,15.2 1358.7,11.7 1359.5,8.5 C1360.2,5.2 1362.4,2.3 1362.8,-1.0 C1363.3,-4.2 1362.4,-7.6 1362.2,-10.9 C1361.9,-14.3 1361.7,-17.6 1361.4,-20.9 C1361.0,-24.2 1359.9,-27.6 1360.2,-30.8 C1360.6,-34.1 1362.3,-37.2 1363.6,-40.3 C1364.8,-43.4 1367.0,-47.9 1367.7,-49.4" stroke-width="1.04" opacity="0.69"/></g>
<g fill="none" stroke="#7a7a00" stroke-linecap="round" filter="url(#blur4)"><path d="M1141.0,124.5 C1145.0,124.2 1156.3,123.2 1165.0,123.0 C1173.7,122.8 1184.9,121.9 1193.0,123.0 C1201.1,124.1 1207.5,127.0 1213.4,129.5 C1219.3,132.0 1224.4,134.6 1228.6,137.8 C1232.8,141.0 1235.4,144.7 1238.8,148.6 C1242.2,152.5 1245.8,157.5 1249.0,161.3 C1252.2,165.1 1254.8,168.1 1258.0,171.5 C1261.2,174.9 1264.3,178.1 1268.0,182.0 C1271.7,185.9 1278.0,192.8 1280.0,195.0" stroke-width="10.4" opacity="0.19"/><path d="M1130.8,109.0 C1135.0,108.4 1147.5,106.9 1156.0,105.4 C1164.5,104.0 1174.1,101.6 1181.6,100.3 C1189.0,99.0 1193.3,99.1 1200.7,97.8 C1208.1,96.5 1216.5,94.4 1226.0,92.7 C1235.5,91.0 1247.3,89.7 1258.0,87.6 C1268.7,85.5 1284.7,81.3 1290.0,80.0" stroke-width="8.8" opacity="0.13"/><path d="M1139.7,143.5 C1140.3,146.7 1142.5,156.2 1143.5,162.6 C1144.5,169.0 1145.4,176.4 1146.0,181.7 C1146.6,187.0 1146.0,190.2 1147.3,194.4 C1148.6,198.6 1151.3,203.3 1153.6,207.0 C1155.9,210.7 1158.5,213.8 1161.3,216.6 C1164.1,219.4 1166.8,220.9 1170.2,223.6 C1173.6,226.2 1178.6,230.2 1181.6,232.5 C1184.6,234.8 1186.9,236.8 1188.0,237.6" stroke-width="9.0" opacity="0.17"/><path d="M1124.4,111.8 C1122.0,109.8 1114.2,103.2 1110.0,100.0 C1105.8,96.8 1100.8,93.9 1099.0,92.7" stroke-width="8.8" opacity="0.15"/><path d="M1124.4,111.8 C1126.0,107.9 1131.7,93.6 1134.0,88.3 C1136.3,83.0 1137.3,81.4 1138.0,80.0" stroke-width="8.6" opacity="0.14"/><path d="M1124.4,111.8 C1125.3,114.8 1127.5,124.7 1130.0,130.0 C1132.5,135.3 1138.1,141.2 1139.7,143.5" stroke-width="9.2" opacity="0.17"/><path d="M1124.4,111.8 C1123.3,116.8 1120.2,132.5 1118.0,142.0 C1115.8,151.5 1113.3,161.0 1111.0,169.0 C1108.7,177.0 1105.5,181.5 1104.0,190.0 C1102.5,198.5 1102.6,210.7 1102.0,220.0 C1101.4,229.3 1100.6,241.3 1100.3,245.6" stroke-width="9.0" opacity="0.15"/><path d="M1139.7,143.5 C1143.5,142.9 1154.9,141.7 1162.5,139.7 C1170.1,137.7 1181.6,132.9 1185.4,131.5" stroke-width="8.4" opacity="0.13"/><path d="M1147.3,194.4 C1144.5,195.4 1136.7,199.4 1130.8,200.7 C1124.9,202.0 1117.0,202.0 1111.7,202.0 C1106.4,202.0 1101.1,200.9 1099.0,200.7" stroke-width="8.4" opacity="0.13"/><path d="M1257.8,171.5 C1256.8,174.2 1254.7,183.1 1251.5,188.0 C1248.3,192.9 1243.0,196.5 1238.8,200.7 C1234.5,204.9 1230.2,209.2 1226.0,213.4 C1221.8,217.6 1217.6,222.3 1213.4,226.1 C1209.2,229.9 1202.8,234.6 1200.7,236.3" stroke-width="8.6" opacity="0.13"/><path d="M1180.3,205.0 C1180.8,207.2 1181.7,212.6 1183.0,218.0 C1184.3,223.4 1187.2,234.3 1188.0,237.6" stroke-width="10.4" opacity="0.11"/><path d="M1212.0,91.0 C1214.2,94.3 1221.2,105.3 1225.0,111.0 C1228.8,116.7 1233.3,122.7 1235.0,125.0" stroke-width="8.2" opacity="0.11"/><path d="M1291.5,34.0 C1291.3,39.7 1289.8,60.9 1290.2,68.3 C1290.6,75.7 1291.7,74.0 1294.0,78.5 C1296.3,83.0 1301.2,89.3 1304.2,95.0 C1307.2,100.7 1309.5,107.7 1311.8,112.8 C1314.1,117.9 1314.8,121.9 1318.2,125.5 C1321.6,129.1 1328.0,133.3 1332.2,134.4 C1336.4,135.5 1338.5,134.8 1343.6,131.8 C1348.7,128.8 1356.3,121.5 1362.7,116.6 C1369.1,111.7 1375.4,107.5 1381.7,102.6 C1388.0,97.7 1394.4,92.0 1400.8,87.4 C1407.2,82.8 1416.8,77.1 1420.0,75.0" stroke-width="8.4" opacity="0.12"/><path d="M1261.0,115.3 C1265.2,116.6 1279.0,119.0 1286.4,123.0 C1293.8,127.0 1297.9,137.6 1305.5,139.5 C1313.1,141.4 1327.8,135.2 1332.2,134.4" stroke-width="8.2" opacity="0.11"/><path d="M1384.3,50.0 C1384.3,53.7 1384.1,66.3 1384.3,72.1 C1384.5,77.9 1385.1,80.1 1385.5,84.8 C1385.9,89.5 1386.4,92.8 1386.8,100.0 C1387.2,107.2 1387.1,119.7 1388.0,128.0 C1388.9,136.3 1390.0,142.2 1392.0,150.0 C1394.0,157.8 1398.7,170.8 1400.0,175.0" stroke-width="8.4" opacity="0.12"/><path d="M1262.0,172.0 C1264.2,170.8 1270.7,166.7 1275.0,165.0 C1279.3,163.3 1283.8,162.8 1288.0,162.0 C1292.2,161.2 1295.5,162.0 1300.0,160.0 C1304.5,158.0 1310.0,152.5 1315.0,150.0 C1320.0,147.5 1327.5,145.8 1330.0,145.0" stroke-width="8.4" opacity="0.12"/><path d="M1188.0,236.7 C1190.1,236.9 1197.5,234.0 1200.7,238.0 C1203.9,242.0 1204.0,256.6 1207.0,260.8 C1210.0,265.0 1216.5,262.9 1218.4,263.3" stroke-width="8.6" opacity="0.14"/><path d="M1188.0,236.7 C1190.1,235.2 1195.4,231.8 1200.7,227.8 C1206.0,223.8 1215.5,216.5 1219.7,212.5 C1223.9,208.5 1225.0,205.1 1226.0,203.6" stroke-width="8.2" opacity="0.12"/><path d="M1158.7,259.5 C1160.4,258.7 1165.7,256.1 1168.9,254.5 C1172.1,252.9 1174.8,253.0 1178.0,250.0 C1181.2,247.0 1186.3,238.9 1188.0,236.7" stroke-width="8.4" opacity="0.13"/><path d="M1158.7,259.5 C1156.2,261.6 1147.1,266.9 1143.5,272.2 C1139.9,277.5 1140.3,285.6 1137.1,291.3 C1133.9,297.0 1128.6,302.1 1124.4,306.5 C1120.2,310.9 1115.8,314.8 1111.7,318.0 C1107.6,321.2 1102.0,324.7 1100.0,326.0" stroke-width="8.8" opacity="0.14"/><path d="M1124.4,306.5 C1126.5,307.1 1131.8,309.1 1137.1,310.4 C1142.4,311.7 1150.9,313.8 1156.2,314.2 C1161.5,314.6 1163.6,313.5 1168.9,312.9 C1174.2,312.3 1181.7,312.1 1188.0,310.4 C1194.3,308.7 1201.7,305.1 1207.0,302.7 C1212.3,300.3 1217.8,297.1 1220.0,296.0" stroke-width="8.4" opacity="0.13"/><path d="M1099.0,249.4 C1102.2,249.0 1111.0,247.4 1118.0,246.8 C1125.0,246.2 1134.6,243.9 1141.0,245.6 C1147.4,247.3 1153.7,255.1 1156.2,257.0" stroke-width="8.4" opacity="0.13"/><path d="M1099.0,238.0 C1102.8,237.8 1114.7,235.5 1121.9,236.7 C1129.1,237.9 1138.8,243.6 1142.2,245.0" stroke-width="8.2" opacity="0.12"/><path d="M1099.0,335.8 C1103.2,336.0 1114.9,337.0 1124.4,337.0 C1133.9,337.0 1147.7,334.5 1156.2,335.8 C1164.7,337.1 1167.8,342.6 1175.2,344.7 C1182.6,346.8 1191.6,347.3 1200.7,348.5 C1209.8,349.7 1225.1,351.4 1230.0,352.0" stroke-width="8.6" opacity="0.13"/><path d="M1156.2,335.1 C1157.2,333.1 1160.2,326.5 1162.5,323.0 C1164.8,319.5 1168.9,315.7 1170.2,314.2" stroke-width="8.4" opacity="0.13"/><path d="M1102.8,196.0 C1103.0,198.5 1104.0,207.2 1104.0,211.2 C1104.0,215.2 1103.4,214.4 1102.8,220.1 C1102.2,225.8 1100.7,241.3 1100.3,245.6" stroke-width="10.0" opacity="0.15"/><path d="M1158.7,259.5 C1159.8,261.6 1162.3,267.8 1165.0,272.0 C1167.7,276.2 1170.8,281.0 1175.0,285.0 C1179.2,289.0 1185.5,294.3 1190.0,296.0 C1194.5,297.7 1199.9,295.2 1201.9,295.1" stroke-width="8.2" opacity="0.11"/><path d="M1266.1,217.6 C1267.6,219.3 1272.2,224.6 1275.0,228.0 C1277.8,231.4 1279.6,240.5 1282.6,237.9 C1285.6,235.3 1291.1,216.7 1292.8,212.5" stroke-width="8.2" opacity="0.12"/><path d="M1282.6,237.9 C1283.2,241.6 1284.4,253.3 1286.0,260.0 C1287.6,266.7 1289.8,272.8 1292.0,278.0 C1294.2,283.2 1296.2,287.3 1299.0,291.0 C1301.8,294.7 1307.3,298.5 1309.0,300.0" stroke-width="8.4" opacity="0.12"/><path d="M1282.6,237.9 C1285.3,239.8 1294.8,245.7 1299.0,249.0 C1303.2,252.3 1304.8,255.1 1308.0,257.6 C1311.2,260.1 1314.3,262.4 1318.0,264.0 C1321.7,265.6 1326.8,267.7 1330.0,267.0 C1333.2,266.3 1335.8,261.2 1337.0,260.0" stroke-width="8.4" opacity="0.12"/><path d="M1343.0,209.0 C1348.3,209.0 1366.5,209.5 1375.0,209.0 C1383.5,208.5 1390.8,206.5 1394.0,206.0" stroke-width="8.0" opacity="0.10"/><path d="M1350.0,240.0 C1355.3,240.0 1371.3,240.3 1382.0,240.0 C1392.7,239.7 1408.7,238.3 1414.0,238.0" stroke-width="8.0" opacity="0.10"/><path d="M1365.0,260.0 C1363.7,264.2 1357.3,277.7 1357.0,285.0 C1356.7,292.3 1362.0,300.8 1363.0,304.0" stroke-width="8.0" opacity="0.10"/><path d="M1382.0,253.0 C1383.0,256.2 1386.0,265.7 1388.0,272.0 C1390.0,278.3 1392.3,285.7 1394.0,291.0 C1395.7,296.3 1397.3,301.8 1398.0,304.0" stroke-width="8.0" opacity="0.10"/><path d="M1261.0,310.0 C1265.2,309.7 1277.5,308.0 1286.0,308.0 C1294.5,308.0 1306.7,307.5 1312.0,310.0 C1317.3,312.5 1317.0,318.7 1318.0,323.0 C1319.0,327.3 1318.0,333.8 1318.0,336.0" stroke-width="8.0" opacity="0.10"/><path d="M1230.0,150.0 C1232.5,148.3 1239.7,142.5 1245.0,140.0 C1250.3,137.5 1255.3,135.0 1262.0,135.0 C1268.7,135.0 1281.2,139.2 1285.0,140.0" stroke-width="8.0" opacity="0.10"/><path d="M1205.0,317.0 C1206.7,319.2 1211.0,328.5 1215.0,330.0 C1219.0,331.5 1224.0,328.0 1229.0,326.0 C1234.0,324.0 1239.8,320.3 1245.0,318.0 C1250.2,315.7 1257.5,313.0 1260.0,312.0" stroke-width="8.0" opacity="0.10"/></g>
<g fill="none" stroke="#6e6e00" stroke-linecap="round" filter="url(#blur1)"><path d="M1141.0,124.5 C1145.0,124.2 1156.3,123.2 1165.0,123.0 C1173.7,122.8 1184.9,121.9 1193.0,123.0 C1201.1,124.1 1207.5,127.0 1213.4,129.5 C1219.3,132.0 1224.4,134.6 1228.6,137.8 C1232.8,141.0 1235.4,144.7 1238.8,148.6 C1242.2,152.5 1245.8,157.5 1249.0,161.3 C1252.2,165.1 1254.8,168.1 1258.0,171.5 C1261.2,174.9 1264.3,178.1 1268.0,182.0 C1271.7,185.9 1278.0,192.8 1280.0,195.0" stroke-width="2.97" opacity="0.85"/><path d="M1130.8,109.0 C1135.0,108.4 1147.5,106.9 1156.0,105.4 C1164.5,104.0 1174.1,101.6 1181.6,100.3 C1189.0,99.0 1193.3,99.1 1200.7,97.8 C1208.1,96.5 1216.5,94.4 1226.0,92.7 C1235.5,91.0 1247.3,89.7 1258.0,87.6 C1268.7,85.5 1284.7,81.3 1290.0,80.0" stroke-width="1.89" opacity="0.6"/><path d="M1139.7,143.5 C1140.3,146.7 1142.5,156.2 1143.5,162.6 C1144.5,169.0 1145.4,176.4 1146.0,181.7 C1146.6,187.0 1146.0,190.2 1147.3,194.4 C1148.6,198.6 1151.3,203.3 1153.6,207.0 C1155.9,210.7 1158.5,213.8 1161.3,216.6 C1164.1,219.4 1166.8,220.9 1170.2,223.6 C1173.6,226.2 1178.6,230.2 1181.6,232.5 C1184.6,234.8 1186.9,236.8 1188.0,237.6" stroke-width="2.03" opacity="0.75"/><path d="M1124.4,111.8 C1122.0,109.8 1114.2,103.2 1110.0,100.0 C1105.8,96.8 1100.8,93.9 1099.0,92.7" stroke-width="1.89" opacity="0.7"/><path d="M1124.4,111.8 C1126.0,107.9 1131.7,93.6 1134.0,88.3 C1136.3,83.0 1137.3,81.4 1138.0,80.0" stroke-width="1.76" opacity="0.65"/><path d="M1124.4,111.8 C1125.3,114.8 1127.5,124.7 1130.0,130.0 C1132.5,135.3 1138.1,141.2 1139.7,143.5" stroke-width="2.16" opacity="0.75"/><path d="M1124.4,111.8 C1123.3,116.8 1120.2,132.5 1118.0,142.0 C1115.8,151.5 1113.3,161.0 1111.0,169.0 C1108.7,177.0 1105.5,181.5 1104.0,190.0 C1102.5,198.5 1102.6,210.7 1102.0,220.0 C1101.4,229.3 1100.6,241.3 1100.3,245.6" stroke-width="2.03" opacity="0.7"/><path d="M1139.7,143.5 C1143.5,142.9 1154.9,141.7 1162.5,139.7 C1170.1,137.7 1181.6,132.9 1185.4,131.5" stroke-width="1.62" opacity="0.6"/><path d="M1147.3,194.4 C1144.5,195.4 1136.7,199.4 1130.8,200.7 C1124.9,202.0 1117.0,202.0 1111.7,202.0 C1106.4,202.0 1101.1,200.9 1099.0,200.7" stroke-width="1.62" opacity="0.6"/><path d="M1257.8,171.5 C1256.8,174.2 1254.7,183.1 1251.5,188.0 C1248.3,192.9 1243.0,196.5 1238.8,200.7 C1234.5,204.9 1230.2,209.2 1226.0,213.4 C1221.8,217.6 1217.6,222.3 1213.4,226.1 C1209.2,229.9 1202.8,234.6 1200.7,236.3" stroke-width="1.76" opacity="0.6"/><path d="M1180.3,205.0 C1180.8,207.2 1181.7,212.6 1183.0,218.0 C1184.3,223.4 1187.2,234.3 1188.0,237.6" stroke-width="2.97" opacity="0.5"/><path d="M1212.0,91.0 C1214.2,94.3 1221.2,105.3 1225.0,111.0 C1228.8,116.7 1233.3,122.7 1235.0,125.0" stroke-width="1.49" opacity="0.5"/><path d="M1291.5,34.0 C1291.3,39.7 1289.8,60.9 1290.2,68.3 C1290.6,75.7 1291.7,74.0 1294.0,78.5 C1296.3,83.0 1301.2,89.3 1304.2,95.0 C1307.2,100.7 1309.5,107.7 1311.8,112.8 C1314.1,117.9 1314.8,121.9 1318.2,125.5 C1321.6,129.1 1328.0,133.3 1332.2,134.4 C1336.4,135.5 1338.5,134.8 1343.6,131.8 C1348.7,128.8 1356.3,121.5 1362.7,116.6 C1369.1,111.7 1375.4,107.5 1381.7,102.6 C1388.0,97.7 1394.4,92.0 1400.8,87.4 C1407.2,82.8 1416.8,77.1 1420.0,75.0" stroke-width="1.62" opacity="0.55"/><path d="M1261.0,115.3 C1265.2,116.6 1279.0,119.0 1286.4,123.0 C1293.8,127.0 1297.9,137.6 1305.5,139.5 C1313.1,141.4 1327.8,135.2 1332.2,134.4" stroke-width="1.49" opacity="0.5"/><path d="M1384.3,50.0 C1384.3,53.7 1384.1,66.3 1384.3,72.1 C1384.5,77.9 1385.1,80.1 1385.5,84.8 C1385.9,89.5 1386.4,92.8 1386.8,100.0 C1387.2,107.2 1387.1,119.7 1388.0,128.0 C1388.9,136.3 1390.0,142.2 1392.0,150.0 C1394.0,157.8 1398.7,170.8 1400.0,175.0" stroke-width="1.62" opacity="0.55"/><path d="M1262.0,172.0 C1264.2,170.8 1270.7,166.7 1275.0,165.0 C1279.3,163.3 1283.8,162.8 1288.0,162.0 C1292.2,161.2 1295.5,162.0 1300.0,160.0 C1304.5,158.0 1310.0,152.5 1315.0,150.0 C1320.0,147.5 1327.5,145.8 1330.0,145.0" stroke-width="1.62" opacity="0.55"/><path d="M1188.0,236.7 C1190.1,236.9 1197.5,234.0 1200.7,238.0 C1203.9,242.0 1204.0,256.6 1207.0,260.8 C1210.0,265.0 1216.5,262.9 1218.4,263.3" stroke-width="1.76" opacity="0.65"/><path d="M1188.0,236.7 C1190.1,235.2 1195.4,231.8 1200.7,227.8 C1206.0,223.8 1215.5,216.5 1219.7,212.5 C1223.9,208.5 1225.0,205.1 1226.0,203.6" stroke-width="1.49" opacity="0.55"/><path d="M1158.7,259.5 C1160.4,258.7 1165.7,256.1 1168.9,254.5 C1172.1,252.9 1174.8,253.0 1178.0,250.0 C1181.2,247.0 1186.3,238.9 1188.0,236.7" stroke-width="1.62" opacity="0.6"/><path d="M1158.7,259.5 C1156.2,261.6 1147.1,266.9 1143.5,272.2 C1139.9,277.5 1140.3,285.6 1137.1,291.3 C1133.9,297.0 1128.6,302.1 1124.4,306.5 C1120.2,310.9 1115.8,314.8 1111.7,318.0 C1107.6,321.2 1102.0,324.7 1100.0,326.0" stroke-width="1.89" opacity="0.65"/><path d="M1124.4,306.5 C1126.5,307.1 1131.8,309.1 1137.1,310.4 C1142.4,311.7 1150.9,313.8 1156.2,314.2 C1161.5,314.6 1163.6,313.5 1168.9,312.9 C1174.2,312.3 1181.7,312.1 1188.0,310.4 C1194.3,308.7 1201.7,305.1 1207.0,302.7 C1212.3,300.3 1217.8,297.1 1220.0,296.0" stroke-width="1.62" opacity="0.6"/><path d="M1099.0,249.4 C1102.2,249.0 1111.0,247.4 1118.0,246.8 C1125.0,246.2 1134.6,243.9 1141.0,245.6 C1147.4,247.3 1153.7,255.1 1156.2,257.0" stroke-width="1.62" opacity="0.6"/><path d="M1099.0,238.0 C1102.8,237.8 1114.7,235.5 1121.9,236.7 C1129.1,237.9 1138.8,243.6 1142.2,245.0" stroke-width="1.49" opacity="0.55"/><path d="M1099.0,335.8 C1103.2,336.0 1114.9,337.0 1124.4,337.0 C1133.9,337.0 1147.7,334.5 1156.2,335.8 C1164.7,337.1 1167.8,342.6 1175.2,344.7 C1182.6,346.8 1191.6,347.3 1200.7,348.5 C1209.8,349.7 1225.1,351.4 1230.0,352.0" stroke-width="1.76" opacity="0.6"/><path d="M1156.2,335.1 C1157.2,333.1 1160.2,326.5 1162.5,323.0 C1164.8,319.5 1168.9,315.7 1170.2,314.2" stroke-width="1.62" opacity="0.6"/><path d="M1102.8,196.0 C1103.0,198.5 1104.0,207.2 1104.0,211.2 C1104.0,215.2 1103.4,214.4 1102.8,220.1 C1102.2,225.8 1100.7,241.3 1100.3,245.6" stroke-width="2.70" opacity="0.7"/><path d="M1158.7,259.5 C1159.8,261.6 1162.3,267.8 1165.0,272.0 C1167.7,276.2 1170.8,281.0 1175.0,285.0 C1179.2,289.0 1185.5,294.3 1190.0,296.0 C1194.5,297.7 1199.9,295.2 1201.9,295.1" stroke-width="1.49" opacity="0.5"/><path d="M1266.1,217.6 C1267.6,219.3 1272.2,224.6 1275.0,228.0 C1277.8,231.4 1279.6,240.5 1282.6,237.9 C1285.6,235.3 1291.1,216.7 1292.8,212.5" stroke-width="1.49" opacity="0.55"/><path d="M1282.6,237.9 C1283.2,241.6 1284.4,253.3 1286.0,260.0 C1287.6,266.7 1289.8,272.8 1292.0,278.0 C1294.2,283.2 1296.2,287.3 1299.0,291.0 C1301.8,294.7 1307.3,298.5 1309.0,300.0" stroke-width="1.62" opacity="0.55"/><path d="M1282.6,237.9 C1285.3,239.8 1294.8,245.7 1299.0,249.0 C1303.2,252.3 1304.8,255.1 1308.0,257.6 C1311.2,260.1 1314.3,262.4 1318.0,264.0 C1321.7,265.6 1326.8,267.7 1330.0,267.0 C1333.2,266.3 1335.8,261.2 1337.0,260.0" stroke-width="1.62" opacity="0.55"/><path d="M1343.0,209.0 C1348.3,209.0 1366.5,209.5 1375.0,209.0 C1383.5,208.5 1390.8,206.5 1394.0,206.0" stroke-width="1.35" opacity="0.45"/><path d="M1350.0,240.0 C1355.3,240.0 1371.3,240.3 1382.0,240.0 C1392.7,239.7 1408.7,238.3 1414.0,238.0" stroke-width="1.35" opacity="0.45"/><path d="M1365.0,260.0 C1363.7,264.2 1357.3,277.7 1357.0,285.0 C1356.7,292.3 1362.0,300.8 1363.0,304.0" stroke-width="1.35" opacity="0.45"/><path d="M1382.0,253.0 C1383.0,256.2 1386.0,265.7 1388.0,272.0 C1390.0,278.3 1392.3,285.7 1394.0,291.0 C1395.7,296.3 1397.3,301.8 1398.0,304.0" stroke-width="1.35" opacity="0.45"/><path d="M1261.0,310.0 C1265.2,309.7 1277.5,308.0 1286.0,308.0 C1294.5,308.0 1306.7,307.5 1312.0,310.0 C1317.3,312.5 1317.0,318.7 1318.0,323.0 C1319.0,327.3 1318.0,333.8 1318.0,336.0" stroke-width="1.35" opacity="0.45"/><path d="M1230.0,150.0 C1232.5,148.3 1239.7,142.5 1245.0,140.0 C1250.3,137.5 1255.3,135.0 1262.0,135.0 C1268.7,135.0 1281.2,139.2 1285.0,140.0" stroke-width="1.35" opacity="0.45"/><path d="M1205.0,317.0 C1206.7,319.2 1211.0,328.5 1215.0,330.0 C1219.0,331.5 1224.0,328.0 1229.0,326.0 C1234.0,324.0 1239.8,320.3 1245.0,318.0 C1250.2,315.7 1257.5,313.0 1260.0,312.0" stroke-width="1.35" opacity="0.45"/></g>
<g filter="url(#blur05)"></g>
<g filter="url(#blur3)"><ellipse cx="1228.6" cy="137.8" rx="6.0" ry="5.0" fill="#7c7c00" opacity="0.7"/><ellipse cx="1257.8" cy="171.5" rx="6.0" ry="5.0" fill="#7c7c00" opacity="0.7"/></g>
<g filter="url(#blur08)"><circle cx="1124.4" cy="111.8" r="2.7" fill="#e4e410"/><circle cx="1134.0" cy="88.3" r="1.5" fill="#e4e410"/><circle cx="1149.8" cy="106.7" r="1.5" fill="#e4e410"/><circle cx="1118.0" cy="142.0" r="1.5" fill="#e4e410"/><circle cx="1111.0" cy="143.0" r="1.5" fill="#e4e410"/><circle cx="1111.0" cy="169.0" r="1.8" fill="#e4e410"/><circle cx="1139.7" cy="143.5" r="2.4" fill="#e4e410"/><ellipse cx="1228.6" cy="137.8" rx="3.8" ry="3.2" fill="#b4b400" opacity="0.85"/><circle cx="1228.6" cy="137.8" r="2.7" fill="#e4e410"/><circle cx="1232.0" cy="145.0" r="2.1" fill="#e4e410"/><ellipse cx="1257.8" cy="171.5" rx="3.8" ry="3.2" fill="#b4b400" opacity="0.85"/><circle cx="1257.8" cy="171.5" r="2.7" fill="#e4e410"/><circle cx="1253.0" cy="176.0" r="2.1" fill="#e4e410"/><circle cx="1151.0" cy="209.6" r="1.2" fill="#e4e410"/><circle cx="1157.4" cy="210.9" r="1.5" fill="#e4e410"/><circle cx="1161.3" cy="216.6" r="1.5" fill="#e4e410"/><circle cx="1163.8" cy="226.1" r="1.8" fill="#e4e410"/><circle cx="1169.5" cy="222.3" r="1.2" fill="#e4e410"/><circle cx="1103.4" cy="219.8" r="1.2" fill="#e4e410"/><circle cx="1197.5" cy="91.4" r="1.5" fill="#e4e410"/><circle cx="1212.0" cy="91.0" r="1.2" fill="#e4e410"/><circle cx="1221.0" cy="97.8" r="1.5" fill="#e4e410"/><circle cx="1225.5" cy="111.0" r="1.5" fill="#e4e410"/><circle cx="1213.0" cy="105.0" r="1.2" fill="#e4e410"/><circle cx="1185.4" cy="131.5" r="1.2" fill="#e4e410"/><circle cx="1180.3" cy="209.6" r="1.8" fill="#e4e410"/><circle cx="1167.0" cy="146.0" r="0.9" fill="#e4e410"/><circle cx="1199.0" cy="182.0" r="0.9" fill="#e4e410"/><circle cx="1289.6" cy="68.3" r="1.8" fill="#e4e410"/><circle cx="1269.3" cy="103.2" r="1.5" fill="#e4e410"/><circle cx="1301.7" cy="110.9" r="1.5" fill="#e4e410"/><circle cx="1306.1" cy="140.1" r="1.5" fill="#e4e410"/><circle cx="1303.0" cy="142.6" r="1.2" fill="#e4e410"/><circle cx="1287.0" cy="161.0" r="1.8" fill="#e4e410"/><circle cx="1292.0" cy="161.7" r="1.5" fill="#e4e410"/><circle cx="1276.9" cy="166.1" r="1.5" fill="#e4e410"/><circle cx="1288.3" cy="169.3" r="1.2" fill="#e4e410"/><circle cx="1262.3" cy="171.9" r="2.4" fill="#e4e410"/><circle cx="1262.3" cy="182.0" r="1.8" fill="#e4e410"/><circle cx="1350.6" cy="78.5" r="1.5" fill="#e4e410"/><circle cx="1386.2" cy="99.4" r="1.5" fill="#e4e410"/><circle cx="1389.3" cy="128.7" r="2.1" fill="#e4e410"/><circle cx="1404.0" cy="117.9" r="1.5" fill="#e4e410"/><circle cx="1409.0" cy="96.9" r="1.2" fill="#e4e410"/><circle cx="1418.6" cy="74.7" r="1.2" fill="#e4e410"/><circle cx="1402.7" cy="142.0" r="1.2" fill="#e4e410"/><circle cx="1364.6" cy="116.6" r="1.8" fill="#e4e410"/><circle cx="1385.0" cy="40.0" r="1.8" fill="#e4e410"/><circle cx="1398.0" cy="41.6" r="1.5" fill="#e4e410"/><circle cx="1142.8" cy="244.9" r="1.5" fill="#e4e410"/><circle cx="1122.5" cy="237.3" r="1.5" fill="#e4e410"/><circle cx="1115.5" cy="297.7" r="1.2" fill="#e4e410"/><circle cx="1201.9" cy="238.6" r="1.5" fill="#e4e410"/><circle cx="1186.7" cy="236.7" r="1.8" fill="#e4e410"/><circle cx="1209.5" cy="261.4" r="1.5" fill="#e4e410"/><circle cx="1201.9" cy="295.1" r="1.2" fill="#e4e410"/><circle cx="1168.9" cy="254.5" r="1.8" fill="#e4e410"/><circle cx="1159.4" cy="270.3" r="1.5" fill="#e4e410"/><circle cx="1156.2" cy="335.1" r="2.4" fill="#e4e410"/><circle cx="1128.2" cy="339.0" r="2.4" fill="#e4e410"/><circle cx="1142.2" cy="340.2" r="1.5" fill="#e4e410"/><circle cx="1205.1" cy="317.3" r="1.5" fill="#e4e410"/><circle cx="1229.2" cy="326.2" r="1.5" fill="#e4e410"/><circle cx="1243.9" cy="218.9" r="1.5" fill="#e4e410"/><circle cx="1252.8" cy="220.8" r="1.2" fill="#e4e410"/><circle cx="1252.8" cy="236.7" r="1.2" fill="#e4e410"/><circle cx="1240.0" cy="309.0" r="1.2" fill="#e4e410"/><circle cx="1254.0" cy="312.3" r="1.2" fill="#e4e410"/><circle cx="1236.9" cy="318.6" r="1.2" fill="#e4e410"/><circle cx="1266.1" cy="217.6" r="1.8" fill="#e4e410"/><circle cx="1292.8" cy="212.5" r="1.8" fill="#e4e410"/><circle cx="1308.0" cy="257.6" r="2.1" fill="#e4e410"/><circle cx="1326.4" cy="236.7" r="1.2" fill="#e4e410"/><circle cx="1319.4" cy="265.9" r="1.5" fill="#e4e410"/><circle cx="1330.2" cy="266.5" r="1.2" fill="#e4e410"/><circle cx="1268.6" cy="276.7" r="1.2" fill="#e4e410"/><circle cx="1296.0" cy="280.5" r="1.5" fill="#e4e410"/><circle cx="1386.8" cy="225.9" r="1.5" fill="#e4e410"/><circle cx="1389.3" cy="233.5" r="1.8" fill="#e4e410"/><circle cx="1418.6" cy="266.5" r="1.5" fill="#e4e410"/><circle cx="1404.0" cy="294.5" r="1.2" fill="#e4e410"/><circle cx="1365.2" cy="258.3" r="1.8" fill="#e4e410"/><circle cx="1334.7" cy="308.5" r="1.8" fill="#e4e410"/><circle cx="1276.2" cy="343.4" r="2.4" fill="#e4e410"/><circle cx="1325.2" cy="344.0" r="1.5" fill="#e4e410"/><circle cx="1400.1" cy="347.8" r="1.2" fill="#e4e410"/><circle cx="1290.2" cy="355.5" r="2.1" fill="#e4e410"/><circle cx="1309.3" cy="203.6" r="1.2" fill="#e4e410"/><circle cx="1282.6" cy="237.9" r="2.1" fill="#e4e410"/><circle cx="1102.0" cy="236.0" r="1.5" fill="#e4e410"/></g>
</g>
<clipPath id="clipTR"><rect x="1426.5" y="35" width="320.5" height="322.5"/></clipPath>
<g clip-path="url(#clipTR)">
<rect x="1426.5" y="35" width="320.5" height="322.5" fill="#080800"/>
<g fill="none" stroke="#464600" filter="url(#blur1)"><path d="M1733.6,80.3 C1735.2,80.0 1740.4,79.7 1743.5,78.6 C1746.5,77.5 1749.0,74.9 1752.0,73.4 C1755.0,71.9 1758.3,71.1 1761.2,69.6 C1764.2,68.0 1766.7,65.5 1769.8,64.3 C1772.8,63.2 1776.5,63.7 1779.6,62.7 C1782.8,61.8 1785.6,59.2 1788.7,58.6 C1791.9,57.9 1795.4,59.1 1798.7,58.9 C1802.0,58.7 1805.3,57.7 1808.6,57.4 C1811.9,57.1 1815.4,56.4 1818.6,56.9 C1821.8,57.5 1826.3,60.0 1827.9,60.7" stroke-width="1.54" opacity="0.61"/><path d="M1653.5,50.6 C1654.4,49.3 1657.9,45.5 1659.4,42.6 C1660.9,39.7 1661.0,36.0 1662.6,33.1 C1664.2,30.2 1666.7,27.8 1668.9,25.3 C1671.0,22.8 1673.0,19.9 1675.7,18.0 C1678.4,16.2 1681.8,15.2 1685.0,14.4 C1688.3,13.6 1691.8,13.0 1695.0,13.4 C1698.2,13.8 1702.8,16.3 1704.3,16.9" stroke-width="1.36" opacity="0.55"/><path d="M1622.8,118.3 C1624.4,118.4 1629.6,117.7 1632.7,118.4 C1635.9,119.2 1638.8,121.2 1641.7,122.9 C1644.5,124.6 1646.9,127.3 1649.9,128.7 C1652.8,130.1 1656.5,129.9 1659.5,131.2 C1662.5,132.5 1666.5,135.8 1667.9,136.7" stroke-width="0.95" opacity="0.60"/><path d="M1442.2,206.5 C1443.9,206.9 1450.4,208.2 1452.0,208.6" stroke-width="1.33" opacity="0.48"/><path d="M1720.2,134.1 C1719.3,135.5 1716.7,139.8 1714.8,142.5 C1712.8,145.2 1710.7,147.8 1708.6,150.3 C1706.4,152.9 1704.1,155.3 1702.0,157.9 C1699.9,160.5 1698.2,163.4 1696.0,165.9 C1693.8,168.3 1691.2,170.4 1688.7,172.7 C1686.2,174.9 1683.1,176.7 1681.2,179.3 C1679.2,181.9 1677.7,186.8 1676.9,188.4" stroke-width="1.08" opacity="0.75"/><path d="M1564.9,164.9 C1566.4,164.2 1571.0,162.3 1574.0,160.7 C1576.9,159.2 1580.2,157.9 1582.6,155.7 C1585.0,153.5 1586.1,149.8 1588.5,147.6 C1591.0,145.4 1594.6,144.6 1597.1,142.5 C1599.6,140.4 1601.4,137.4 1603.6,134.9 C1605.8,132.4 1608.3,130.2 1610.4,127.6 C1612.5,125.0 1614.4,122.2 1616.1,119.3 C1617.7,116.4 1619.1,113.3 1620.2,110.2 C1621.4,107.1 1622.6,103.9 1623.0,100.6 C1623.5,97.4 1622.8,92.3 1622.8,90.6" stroke-width="1.23" opacity="0.32"/><path d="M1691.9,332.0 C1690.3,332.4 1685.5,333.7 1682.2,334.5 C1679.0,335.3 1675.7,336.1 1672.5,336.7 C1669.2,337.3 1665.8,338.5 1662.6,338.1 C1659.4,337.8 1656.1,336.2 1653.2,334.7 C1650.2,333.2 1647.7,330.9 1644.9,329.1 C1642.1,327.3 1639.0,325.8 1636.5,323.7 C1633.9,321.6 1631.6,319.1 1629.5,316.6 C1627.3,314.1 1625.7,311.1 1623.5,308.5 C1621.4,306.0 1617.7,302.6 1616.5,301.4" stroke-width="1.46" opacity="0.65"/><path d="M1621.5,339.0 C1623.1,339.4 1627.9,340.9 1631.2,341.5 C1634.5,342.1 1637.9,342.6 1641.1,342.4 C1644.4,342.1 1647.6,340.5 1650.9,340.0 C1654.1,339.5 1657.5,339.8 1660.9,339.5 C1664.2,339.3 1667.6,339.2 1670.8,338.4 C1674.0,337.7 1677.5,336.8 1680.2,335.1 C1682.9,333.3 1686.0,329.1 1687.2,327.9" stroke-width="1.08" opacity="0.74"/><path d="M1464.3,104.8 C1464.8,106.4 1465.9,111.3 1467.2,114.4 C1468.5,117.4 1470.0,120.6 1472.1,123.1 C1474.2,125.5 1477.3,127.2 1480.0,129.2 C1482.7,131.2 1485.2,133.5 1488.1,135.0 C1491.0,136.6 1494.3,137.5 1497.6,138.3 C1500.8,139.2 1504.2,139.1 1507.4,140.1 C1510.6,141.1 1515.0,143.4 1516.6,144.1" stroke-width="0.83" opacity="0.68"/><path d="M1547.6,308.8 C1549.2,309.1 1554.1,310.3 1557.4,310.7 C1560.7,311.2 1564.1,310.9 1567.3,311.5 C1570.6,312.2 1573.8,313.4 1576.8,314.8 C1579.8,316.2 1583.9,319.1 1585.3,320.0" stroke-width="1.00" opacity="0.51"/><path d="M1500.5,120.9 C1502.1,121.0 1507.3,120.7 1510.4,121.5 C1513.6,122.4 1516.5,124.3 1519.4,126.0 C1522.3,127.6 1524.6,130.4 1527.6,131.6 C1530.7,132.8 1534.2,132.7 1537.5,133.2 C1540.8,133.7 1544.1,134.1 1547.4,134.8 C1550.6,135.5 1553.8,137.3 1557.0,137.4 C1560.3,137.5 1563.6,136.1 1566.9,135.4 C1570.1,134.8 1575.0,133.7 1576.6,133.4" stroke-width="1.41" opacity="0.31"/><path d="M1427.8,238.8 C1429.4,238.2 1435.6,235.9 1437.2,235.3" stroke-width="1.07" opacity="0.36"/><path d="M1703.4,298.7 C1705.0,299.0 1711.5,300.4 1713.2,300.7" stroke-width="1.51" opacity="0.66"/><path d="M1603.2,151.8 C1603.7,150.2 1605.6,145.5 1606.2,142.2 C1606.9,139.0 1607.4,135.5 1607.1,132.3 C1606.8,129.0 1604.9,125.9 1604.6,122.6 C1604.3,119.3 1605.1,116.0 1605.4,112.6 C1605.7,109.3 1605.7,105.9 1606.3,102.7 C1607.0,99.4 1607.7,96.1 1609.2,93.1 C1610.6,90.1 1613.9,86.2 1614.9,84.9" stroke-width="0.95" opacity="0.74"/><path d="M1556.5,316.9 C1556.9,315.3 1558.6,310.5 1558.8,307.2 C1559.1,303.9 1558.8,300.4 1558.0,297.2 C1557.3,294.0 1556.0,290.7 1554.0,288.1 C1552.1,285.5 1549.1,283.6 1546.4,281.6 C1543.8,279.6 1541.1,277.5 1538.1,276.0 C1535.1,274.6 1530.2,273.4 1528.6,272.9" stroke-width="1.58" opacity="0.53"/><path d="M1595.5,282.6 C1597.0,283.1 1602.0,284.3 1604.9,285.8 C1607.9,287.3 1610.7,289.3 1613.0,291.7 C1615.3,294.0 1616.4,297.6 1618.8,299.9 C1621.2,302.1 1624.2,304.0 1627.3,305.1 C1630.4,306.2 1633.9,306.5 1637.2,306.3 C1640.5,306.2 1643.8,305.0 1647.0,304.3 C1650.3,303.7 1653.6,302.3 1656.8,302.4 C1660.1,302.4 1663.6,303.4 1666.5,304.8 C1669.5,306.2 1671.8,308.9 1674.5,310.8 C1677.2,312.7 1681.5,315.3 1683.0,316.2" stroke-width="1.39" opacity="0.58"/><path d="M1533.0,348.0 C1534.7,348.0 1539.8,347.7 1543.0,348.3 C1546.3,349.0 1549.4,350.3 1552.5,351.6 C1555.5,353.0 1558.2,355.0 1561.3,356.3 C1564.4,357.6 1567.6,358.7 1570.8,359.4 C1574.1,360.1 1577.5,360.4 1580.8,360.3 C1584.1,360.2 1587.6,359.9 1590.6,358.6 C1593.6,357.4 1595.8,354.1 1598.8,352.9 C1601.8,351.6 1607.0,351.3 1608.6,351.0" stroke-width="0.82" opacity="0.43"/><path d="M1527.8,68.3 C1526.5,69.3 1522.6,72.4 1520.0,74.5 C1517.4,76.6 1514.7,78.6 1512.3,80.9 C1509.8,83.1 1507.3,85.4 1505.1,87.9 C1503.0,90.4 1501.5,93.6 1499.1,95.9 C1496.7,98.1 1492.3,100.6 1490.9,101.6" stroke-width="1.23" opacity="0.44"/><path d="M1707.9,344.3 C1706.3,344.8 1701.6,346.5 1698.4,347.6 C1695.3,348.7 1691.9,349.3 1689.0,350.8 C1686.0,352.2 1682.1,355.5 1680.7,356.5" stroke-width="0.99" opacity="0.36"/><path d="M1526.0,79.7 C1527.4,80.7 1531.1,84.2 1534.1,85.6 C1537.1,87.0 1540.6,87.2 1543.8,88.0 C1547.1,88.8 1550.5,89.0 1553.6,90.2 C1556.6,91.4 1559.3,93.5 1562.2,95.2 C1565.1,96.9 1567.8,99.3 1570.9,100.3 C1574.0,101.3 1577.5,101.2 1580.8,101.2 C1584.1,101.3 1587.5,101.0 1590.8,100.6 C1594.1,100.2 1597.4,98.7 1600.6,98.8 C1603.9,98.9 1607.2,100.2 1610.4,101.1 C1613.6,102.0 1618.3,103.7 1619.9,104.2" stroke-width="1.30" opacity="0.51"/><path d="M1442.1,256.3 C1442.5,254.7 1443.9,248.2 1444.3,246.5" stroke-width="0.87" opacity="0.30"/><path d="M1476.0,181.2 C1476.3,179.5 1476.8,174.5 1477.5,171.3 C1478.3,168.0 1479.2,164.8 1480.4,161.7 C1481.5,158.6 1483.8,155.7 1484.4,152.5 C1485.0,149.4 1483.9,144.2 1483.8,142.6" stroke-width="1.27" opacity="0.71"/><path d="M1523.7,112.2 C1522.8,110.8 1520.4,106.4 1518.5,103.6 C1516.6,100.9 1514.4,98.4 1512.5,95.7 C1510.5,92.9 1509.1,89.8 1506.9,87.4 C1504.6,85.0 1501.7,83.2 1499.0,81.3 C1496.2,79.4 1492.8,78.2 1490.5,75.9 C1488.1,73.7 1486.7,70.5 1484.9,67.7 C1483.1,64.8 1481.0,62.1 1479.8,59.1 C1478.6,56.0 1478.8,52.4 1477.7,49.3 C1476.6,46.2 1474.2,43.4 1473.3,40.3 C1472.5,37.1 1472.6,32.0 1472.5,30.3" stroke-width="0.98" opacity="0.65"/><path d="M1596.4,254.9 C1594.7,254.6 1589.8,253.7 1586.6,252.9 C1583.3,252.2 1580.1,251.0 1576.9,250.5 C1573.6,249.9 1570.1,250.2 1566.9,249.4 C1563.7,248.6 1560.9,246.6 1557.7,245.5 C1554.6,244.4 1550.9,244.3 1548.1,242.7 C1545.3,241.1 1542.1,237.0 1540.8,235.9" stroke-width="1.13" opacity="0.40"/><path d="M1467.5,272.5 C1469.2,272.6 1474.3,272.7 1477.5,273.4 C1480.7,274.2 1483.6,276.5 1486.8,277.1 C1490.0,277.7 1493.5,276.8 1496.8,277.1 C1500.1,277.4 1503.5,278.0 1506.6,278.9 C1509.8,279.8 1512.7,281.9 1515.9,282.8 C1519.1,283.6 1522.5,284.2 1525.8,284.0 C1529.1,283.8 1533.9,282.0 1535.5,281.6" stroke-width="1.32" opacity="0.47"/><path d="M1510.1,37.8 C1508.9,38.9 1505.4,42.8 1502.5,44.4 C1499.7,45.9 1496.1,46.1 1492.9,47.0 C1489.7,47.9 1486.2,48.2 1483.2,49.6 C1480.3,51.0 1477.3,52.9 1475.0,55.3 C1472.7,57.6 1471.2,60.8 1469.6,63.7 C1468.0,66.6 1466.7,69.7 1465.3,72.7 C1463.9,75.7 1462.1,78.7 1461.3,81.9 C1460.4,85.0 1460.0,88.6 1460.3,91.8 C1460.7,95.1 1463.0,99.7 1463.5,101.3" stroke-width="1.00" opacity="0.53"/><path d="M1568.9,180.4 C1568.0,179.0 1565.5,174.5 1563.2,172.1 C1561.0,169.8 1557.5,168.5 1555.3,166.1 C1553.0,163.7 1552.2,159.9 1549.9,157.6 C1547.6,155.4 1544.5,153.5 1541.4,152.4 C1538.4,151.2 1533.2,150.9 1531.6,150.6" stroke-width="1.23" opacity="0.67"/><path d="M1722.6,237.0 C1721.4,238.2 1717.6,241.5 1715.6,244.2 C1713.6,246.8 1712.8,250.3 1710.8,252.9 C1708.8,255.6 1705.9,257.5 1703.6,259.9 C1701.3,262.3 1698.6,264.6 1697.1,267.5 C1695.6,270.3 1695.2,273.9 1694.6,277.1 C1694.0,280.4 1693.8,285.4 1693.6,287.1" stroke-width="0.92" opacity="0.55"/><path d="M1716.7,333.7 C1715.1,333.3 1710.2,332.0 1707.0,331.1 C1703.8,330.2 1700.7,328.6 1697.5,328.2 C1694.2,327.7 1690.7,329.2 1687.5,328.6 C1684.3,328.0 1681.0,326.5 1678.3,324.6 C1675.7,322.7 1673.9,319.6 1671.6,317.2 C1669.2,314.8 1667.0,312.4 1664.5,310.2 C1662.0,308.0 1659.5,305.4 1656.6,304.0 C1653.7,302.6 1648.5,302.0 1646.9,301.6" stroke-width="1.11" opacity="0.68"/><path d="M1680.8,89.7 C1681.2,91.3 1683.0,96.1 1683.3,99.4 C1683.6,102.7 1682.6,106.1 1682.7,109.4 C1682.8,112.7 1684.1,116.0 1683.9,119.3 C1683.8,122.6 1682.5,125.8 1681.8,129.1 C1681.2,132.4 1680.2,135.7 1680.2,139.0 C1680.2,142.2 1680.6,145.8 1681.9,148.8 C1683.2,151.8 1685.5,154.6 1688.0,156.8 C1690.4,158.9 1695.1,161.0 1696.6,161.8" stroke-width="1.41" opacity="0.42"/><path d="M1661.3,153.5 C1662.9,153.9 1667.7,155.5 1671.0,155.8 C1674.3,156.1 1677.7,155.5 1681.0,155.0 C1684.3,154.6 1687.8,154.4 1690.8,153.2 C1693.8,151.9 1696.0,148.7 1699.0,147.4 C1702.0,146.1 1705.6,146.4 1708.7,145.3 C1711.9,144.3 1716.3,141.8 1717.8,141.1" stroke-width="1.39" opacity="0.70"/><path d="M1430.0,325.0 C1431.1,323.8 1434.6,320.2 1436.8,317.7 C1439.1,315.3 1442.4,311.6 1443.5,310.3" stroke-width="1.05" opacity="0.37"/><path d="M1701.5,302.5 C1703.1,303.1 1707.7,305.2 1710.9,306.0 C1714.1,306.7 1717.5,306.7 1720.8,306.8 C1724.2,306.8 1727.5,306.5 1730.8,306.1 C1734.1,305.7 1737.6,305.6 1740.7,304.6 C1743.8,303.5 1748.0,300.6 1749.5,299.8" stroke-width="0.99" opacity="0.60"/><path d="M1711.8,190.3 C1710.4,191.2 1706.0,193.7 1703.5,195.9 C1701.0,198.1 1697.9,202.1 1696.8,203.3" stroke-width="0.99" opacity="0.43"/><path d="M1662.1,149.5 C1661.1,148.2 1658.1,144.1 1655.7,141.8 C1653.3,139.5 1650.6,137.5 1647.9,135.6 C1645.2,133.6 1641.8,132.5 1639.4,130.2 C1637.1,127.9 1636.1,124.3 1633.8,121.9 C1631.6,119.5 1627.3,116.7 1626.0,115.7" stroke-width="0.92" opacity="0.40"/><path d="M1507.7,344.7 C1508.7,343.4 1511.9,339.6 1514.0,337.0 C1516.2,334.4 1518.1,331.7 1520.3,329.2 C1522.5,326.7 1525.5,324.8 1527.2,322.0 C1529.0,319.3 1530.3,314.3 1530.9,312.7" stroke-width="1.41" opacity="0.49"/><path d="M1426.9,266.7 C1426.2,265.2 1424.3,260.6 1422.8,257.6 C1421.4,254.6 1419.9,251.7 1418.4,248.7 C1417.0,245.7 1416.1,242.3 1414.2,239.6 C1412.2,236.9 1409.3,235.0 1407.0,232.7 C1404.6,230.3 1402.5,227.6 1399.9,225.6 C1397.2,223.6 1394.2,222.0 1391.2,220.6 C1388.2,219.3 1385.0,217.7 1381.8,217.3 C1378.5,216.9 1375.0,217.5 1371.8,218.4 C1368.7,219.3 1364.3,222.1 1362.8,222.8" stroke-width="1.23" opacity="0.32"/><path d="M1587.9,110.1 C1588.8,111.5 1591.9,115.5 1593.5,118.4 C1595.1,121.3 1596.1,124.5 1597.5,127.6 C1598.8,130.7 1600.2,133.7 1601.3,136.8 C1602.5,140.0 1602.7,143.6 1604.4,146.3 C1606.2,149.1 1609.0,151.3 1611.6,153.3 C1614.1,155.4 1617.5,156.7 1619.9,158.9 C1622.4,161.1 1625.2,165.3 1626.2,166.6" stroke-width="0.88" opacity="0.47"/><path d="M1561.4,304.0 C1562.8,304.9 1567.3,307.4 1569.6,309.7 C1571.8,312.1 1573.1,315.4 1575.1,318.1 C1577.1,320.8 1580.4,324.5 1581.5,325.8" stroke-width="1.41" opacity="0.41"/><path d="M1456.7,130.3 C1455.8,128.9 1453.2,124.6 1451.1,122.0 C1449.1,119.4 1446.8,116.9 1444.2,114.8 C1441.7,112.7 1438.7,111.0 1435.8,109.4 C1432.9,107.8 1429.9,105.9 1426.7,105.1 C1423.6,104.3 1420.1,104.4 1416.7,104.6 C1413.4,104.8 1410.2,106.2 1406.9,106.3 C1403.6,106.4 1400.0,106.4 1396.9,105.3 C1393.9,104.3 1391.5,101.4 1388.5,99.9 C1385.6,98.4 1380.7,97.1 1379.1,96.5" stroke-width="1.39" opacity="0.33"/><path d="M1558.8,275.0 C1558.9,273.3 1558.4,268.1 1559.4,265.0 C1560.3,261.9 1562.5,259.0 1564.6,256.5 C1566.8,254.0 1569.9,252.3 1572.1,249.8 C1574.2,247.3 1575.8,244.3 1577.5,241.4 C1579.2,238.5 1581.4,235.8 1582.3,232.7 C1583.3,229.5 1583.2,226.0 1583.3,222.7 C1583.4,219.4 1582.5,216.0 1583.0,212.7 C1583.4,209.4 1585.3,204.7 1585.8,203.1" stroke-width="1.22" opacity="0.52"/><path d="M1676.2,63.1 C1675.2,64.5 1672.4,68.7 1670.2,71.1 C1667.9,73.6 1665.6,76.2 1662.8,77.9 C1660.0,79.5 1656.5,80.4 1653.2,80.9 C1650.0,81.4 1646.6,80.9 1643.2,80.9 C1639.9,80.8 1636.5,80.9 1633.2,80.4 C1630.0,80.0 1625.1,78.6 1623.5,78.2" stroke-width="1.59" opacity="0.54"/><path d="M1617.7,226.6 C1616.1,227.2 1611.4,228.9 1608.4,230.4 C1605.4,231.8 1602.8,234.3 1599.7,235.3 C1596.6,236.3 1593.1,236.5 1589.8,236.5 C1586.5,236.5 1582.9,236.4 1579.9,235.3 C1576.8,234.2 1574.0,232.0 1571.5,229.9 C1568.9,227.8 1565.5,224.1 1564.3,222.9" stroke-width="1.09" opacity="0.56"/><path d="M1432.3,248.3 C1432.7,246.7 1434.8,241.9 1434.9,238.7 C1435.0,235.4 1433.3,232.2 1433.0,228.9 C1432.6,225.6 1433.2,222.2 1432.8,218.9 C1432.4,215.6 1431.5,212.3 1430.5,209.2 C1429.6,206.0 1427.7,203.0 1427.2,199.7 C1426.6,196.5 1427.5,193.1 1427.4,189.7 C1427.3,186.4 1427.0,183.1 1426.7,179.8 C1426.4,176.4 1425.8,171.5 1425.7,169.8" stroke-width="0.95" opacity="0.32"/><path d="M1493.9,104.4 C1492.3,104.8 1487.1,105.5 1484.2,107.0 C1481.3,108.5 1479.3,111.6 1476.5,113.3 C1473.7,115.1 1469.0,117.0 1467.5,117.7" stroke-width="1.40" opacity="0.74"/><path d="M1591.5,77.1 C1591.2,75.5 1590.1,70.6 1589.4,67.3 C1588.8,64.0 1587.5,60.8 1587.5,57.5 C1587.4,54.2 1588.9,51.0 1589.1,47.6 C1589.3,44.3 1588.9,39.3 1588.8,37.6" stroke-width="1.07" opacity="0.69"/><path d="M1703.7,352.5 C1704.4,351.0 1706.5,346.4 1707.9,343.4 C1709.4,340.5 1710.7,337.3 1712.6,334.6 C1714.4,331.8 1717.2,329.7 1719.0,326.9 C1720.8,324.2 1722.5,319.4 1723.2,317.9" stroke-width="1.03" opacity="0.56"/><path d="M1485.5,180.0 C1485.9,178.4 1487.3,173.5 1487.4,170.2 C1487.6,166.9 1487.1,163.5 1486.6,160.2 C1486.1,156.9 1485.3,153.7 1484.4,150.5 C1483.5,147.3 1482.6,144.0 1481.2,141.0 C1479.8,138.0 1477.9,135.1 1475.9,132.5 C1473.9,129.9 1471.7,127.2 1469.2,125.1 C1466.6,123.0 1462.1,120.7 1460.7,119.9" stroke-width="1.34" opacity="0.43"/><path d="M1626.9,237.1 C1628.0,235.8 1631.4,232.2 1633.5,229.6 C1635.6,227.0 1637.4,224.1 1639.3,221.5 C1641.3,218.8 1643.1,215.9 1645.4,213.5 C1647.7,211.1 1650.6,209.3 1653.2,207.3 C1655.8,205.2 1659.0,203.7 1661.2,201.3 C1663.4,198.8 1664.6,195.5 1666.2,192.6 C1667.8,189.7 1669.1,186.6 1670.9,183.8 C1672.7,181.0 1676.0,177.2 1677.0,175.8" stroke-width="1.16" opacity="0.65"/><path d="M1495.0,45.9 C1493.5,46.5 1488.8,48.3 1485.7,49.5 C1482.6,50.7 1479.5,51.9 1476.3,52.9 C1473.1,53.9 1469.9,54.7 1466.6,55.4 C1463.4,56.1 1459.9,56.2 1456.8,57.3 C1453.7,58.3 1450.4,59.7 1447.8,61.7 C1445.3,63.7 1442.8,66.4 1441.4,69.3 C1439.9,72.2 1439.5,75.8 1439.1,79.1 C1438.7,82.4 1438.9,87.4 1438.8,89.1" stroke-width="1.14" opacity="0.70"/><path d="M1695.7,142.8 C1696.4,144.3 1698.4,148.9 1700.1,151.8 C1701.8,154.7 1703.6,157.5 1705.6,160.1 C1707.6,162.8 1709.4,165.8 1711.9,167.9 C1714.4,170.0 1717.8,171.0 1720.7,172.6 C1723.6,174.3 1726.7,175.8 1729.2,177.9 C1731.7,180.1 1733.6,182.9 1735.8,185.4 C1738.0,187.9 1740.5,190.2 1742.5,192.9 C1744.4,195.6 1746.2,198.5 1747.5,201.5 C1748.9,204.5 1749.2,208.0 1750.4,211.1 C1751.6,214.2 1754.1,218.5 1754.9,220.0" stroke-width="1.58" opacity="0.59"/><path d="M1655.8,94.0 C1655.4,92.4 1653.7,87.7 1653.1,84.4 C1652.6,81.1 1652.0,77.6 1652.4,74.4 C1652.8,71.2 1654.0,67.7 1655.7,65.0 C1657.5,62.3 1661.0,60.7 1663.0,58.1 C1665.1,55.6 1666.4,52.4 1668.1,49.5 C1669.7,46.6 1672.0,43.9 1672.9,40.8 C1673.8,37.6 1672.5,33.9 1673.4,30.8 C1674.4,27.7 1677.7,23.6 1678.5,22.2" stroke-width="1.14" opacity="0.35"/><path d="M1624.1,173.4 C1625.2,174.6 1628.7,178.2 1631.0,180.6 C1633.3,183.0 1636.0,185.1 1638.0,187.7 C1640.1,190.3 1641.3,193.5 1643.4,196.1 C1645.4,198.8 1647.9,201.0 1650.3,203.4 C1652.7,205.7 1656.4,209.0 1657.6,210.2" stroke-width="1.44" opacity="0.54"/><path d="M1712.2,346.8 C1713.5,347.9 1717.7,350.7 1720.1,352.9 C1722.5,355.2 1724.4,358.1 1726.7,360.5 C1729.0,362.9 1732.0,364.7 1734.0,367.3 C1736.0,369.9 1737.0,373.2 1738.6,376.2 C1740.1,379.2 1742.1,381.9 1743.2,385.0 C1744.3,388.1 1744.8,393.2 1745.1,394.9" stroke-width="1.29" opacity="0.31"/><path d="M1559.0,303.6 C1560.1,304.8 1563.3,308.7 1565.7,311.0 C1568.1,313.3 1570.9,315.2 1573.6,317.1 C1576.3,319.1 1580.5,321.8 1581.9,322.8" stroke-width="1.59" opacity="0.48"/><path d="M1519.5,201.1 C1520.8,200.1 1524.3,196.3 1527.2,194.8 C1530.1,193.3 1533.6,192.5 1536.8,192.0 C1540.1,191.6 1543.7,192.7 1546.8,191.9 C1550.0,191.1 1552.7,188.6 1555.7,187.3 C1558.8,186.0 1561.9,184.6 1565.1,183.9 C1568.4,183.3 1572.0,184.3 1575.1,183.5 C1578.2,182.6 1581.1,180.4 1583.9,178.6 C1586.7,176.8 1589.1,174.5 1592.0,172.7 C1594.8,171.0 1597.9,169.6 1600.8,168.1 C1603.8,166.6 1608.2,164.3 1609.7,163.5" stroke-width="0.87" opacity="0.54"/><path d="M1510.4,315.2 C1509.3,316.4 1505.7,320.0 1503.8,322.7 C1501.9,325.4 1500.5,328.5 1499.0,331.5 C1497.6,334.5 1496.4,337.6 1495.1,340.7 C1493.7,343.7 1492.9,347.1 1491.0,349.8 C1489.2,352.5 1486.6,355.0 1483.9,356.9 C1481.3,358.8 1476.4,360.5 1474.9,361.2" stroke-width="1.20" opacity="0.38"/><path d="M1667.5,324.1 C1665.9,323.6 1661.1,322.2 1658.1,320.8 C1655.0,319.5 1651.8,318.1 1649.3,316.0 C1646.8,313.9 1644.1,309.4 1643.1,308.1" stroke-width="0.90" opacity="0.75"/></g>
<g fill="none" stroke="#7a7a00" stroke-linecap="round" filter="url(#blur4)"><path d="M1480.4,34.0 C1478.5,36.5 1472.9,43.3 1468.9,49.2 C1464.9,55.1 1460.4,63.2 1456.2,69.6 C1452.0,76.0 1448.0,80.2 1443.5,87.4 C1439.0,94.6 1431.8,108.6 1429.5,112.8" stroke-width="10.8" opacity="0.15"/><path d="M1488.0,34.0 C1486.3,37.2 1481.6,46.6 1477.8,53.0 C1474.0,59.4 1469.3,65.5 1465.1,72.1 C1460.9,78.7 1456.6,86.2 1452.4,92.5 C1448.2,98.8 1443.9,105.1 1439.7,110.2 C1435.5,115.3 1429.1,120.9 1427.0,123.0" stroke-width="8.8" opacity="0.13"/><path d="M1503.2,34.0 C1502.8,38.2 1501.5,50.9 1500.7,59.4 C1499.9,67.9 1498.6,78.5 1498.2,84.8 C1497.8,91.1 1498.2,95.4 1498.2,97.5" stroke-width="8.8" opacity="0.13"/><path d="M1494.3,34.0 C1493.0,38.2 1489.5,50.5 1486.7,59.4 C1484.0,68.3 1480.3,78.9 1477.8,87.4 C1475.3,95.9 1473.6,102.2 1471.5,110.2 C1469.4,118.2 1467.6,127.2 1465.1,135.7 C1462.5,144.2 1459.4,152.6 1456.2,161.1 C1453.0,169.6 1449.1,180.0 1446.1,186.5 C1443.1,193.0 1439.3,197.8 1438.0,200.0" stroke-width="8.8" opacity="0.13"/><path d="M1513.4,34.0 C1514.2,38.2 1516.0,50.9 1518.5,59.4 C1521.0,67.9 1526.0,76.3 1528.7,84.8 C1531.5,93.3 1533.7,103.8 1535.0,110.2 C1536.3,116.6 1536.1,120.9 1536.3,123.0" stroke-width="8.8" opacity="0.13"/><path d="M1538.8,34.0 C1539.2,38.2 1539.9,50.9 1541.4,59.4 C1542.9,67.9 1545.6,78.5 1547.7,84.8 C1549.8,91.1 1553.0,95.4 1554.1,97.5" stroke-width="8.6" opacity="0.12"/><path d="M1570.6,34.0 C1571.2,38.2 1574.0,53.0 1574.4,59.4 C1574.8,65.8 1574.4,67.9 1573.1,72.1 C1571.8,76.3 1567.8,82.7 1566.8,84.8" stroke-width="8.6" opacity="0.12"/><path d="M1498.2,91.2 C1499.0,92.7 1500.2,96.9 1503.2,100.1 C1506.2,103.3 1511.1,106.8 1516.0,110.2 C1520.9,113.6 1529.8,118.7 1532.5,120.4" stroke-width="8.6" opacity="0.13"/><path d="M1536.3,129.3 C1538.2,131.4 1543.7,136.7 1547.7,142.0 C1551.7,147.3 1556.2,154.8 1560.4,161.1 C1564.6,167.4 1570.3,174.3 1573.1,180.1 C1575.9,185.9 1577.0,189.1 1577.0,196.0 C1577.0,202.9 1574.8,214.0 1573.1,221.4 C1571.4,228.8 1568.9,234.6 1566.8,240.5 C1564.7,246.4 1563.6,252.8 1560.4,257.0 C1557.2,261.2 1553.0,262.9 1547.7,265.9 C1542.4,268.9 1535.1,271.6 1528.7,274.8 C1522.3,278.0 1516.0,280.7 1509.6,284.9 C1503.2,289.1 1496.2,294.9 1490.5,300.2 C1484.8,305.5 1478.5,311.8 1475.3,316.7 C1472.1,321.6 1472.1,327.3 1471.5,329.4" stroke-width="11.2" opacity="0.17"/><path d="M1536.3,129.3 C1534.0,129.9 1526.8,131.6 1522.3,133.1 C1517.8,134.6 1513.2,137.1 1509.6,138.2 C1506.0,139.3 1502.2,139.3 1500.7,139.5" stroke-width="8.6" opacity="0.13"/><path d="M1554.1,103.9 C1555.1,107.1 1558.3,116.7 1560.4,123.0 C1562.5,129.3 1564.7,135.7 1566.8,142.0 C1568.9,148.3 1571.0,153.7 1573.1,161.1 C1575.2,168.5 1577.5,178.3 1579.5,186.5 C1581.5,194.7 1584.1,206.1 1585.0,210.0" stroke-width="8.8" opacity="0.13"/><path d="M1488.0,161.1 C1490.5,164.3 1498.5,174.8 1503.2,180.1 C1507.9,185.4 1511.5,189.5 1516.0,192.8 C1520.5,196.1 1527.7,198.8 1530.0,200.0" stroke-width="8.4" opacity="0.11"/><path d="M1587.0,72.0 C1588.5,75.0 1592.8,83.4 1596.0,90.0 C1599.2,96.6 1604.4,107.9 1606.1,111.5" stroke-width="8.6" opacity="0.13"/><path d="M1606.1,111.5 C1604.0,115.1 1596.6,128.4 1593.4,133.1 C1590.2,137.8 1590.1,136.7 1587.0,139.5 C1583.9,142.3 1577.0,148.2 1575.0,150.0" stroke-width="8.8" opacity="0.13"/><path d="M1606.1,111.5 C1608.2,108.5 1613.5,98.2 1618.8,93.7 C1624.1,89.2 1632.2,86.5 1637.8,84.8 C1643.4,83.1 1647.1,84.0 1652.4,83.6 C1657.7,83.2 1661.4,82.1 1669.6,82.3 C1677.8,82.5 1691.9,83.5 1701.4,84.8 C1710.9,86.1 1719.2,88.2 1726.8,89.9 C1734.4,91.6 1743.6,94.2 1747.0,95.0" stroke-width="9.2" opacity="0.14"/><path d="M1606.1,111.5 C1607.1,114.5 1609.7,124.2 1612.4,129.3 C1615.2,134.4 1618.4,138.4 1622.6,142.0 C1626.8,145.6 1634.2,146.7 1637.8,150.9 C1641.4,155.1 1644.6,161.5 1644.2,167.4 C1643.8,173.3 1637.2,181.7 1635.3,186.5 C1633.4,191.3 1633.3,192.3 1632.7,196.0 C1632.1,199.7 1632.3,203.2 1631.5,208.7 C1630.7,214.2 1628.3,225.6 1627.7,229.0" stroke-width="8.8" opacity="0.13"/><path d="M1644.2,34.0 C1646.3,39.3 1652.7,55.2 1656.9,65.8 C1661.1,76.4 1665.4,86.9 1669.6,97.5 C1673.8,108.1 1678.1,119.8 1682.3,129.3 C1686.5,138.8 1690.8,147.3 1695.0,154.7 C1699.2,162.1 1703.5,166.9 1707.7,173.8 C1711.9,180.7 1718.3,192.3 1720.4,196.0" stroke-width="8.6" opacity="0.12"/><path d="M1656.9,34.0 C1660.1,40.4 1669.7,59.4 1676.0,72.1 C1682.3,84.8 1688.7,97.5 1695.0,110.2 C1701.3,122.9 1707.8,136.8 1714.1,148.4 C1720.4,160.1 1727.6,171.5 1733.1,180.1 C1738.6,188.7 1744.7,196.7 1747.0,200.0" stroke-width="8.6" opacity="0.12"/><path d="M1631.5,91.2 C1634.7,96.5 1644.2,112.4 1650.5,123.0 C1656.8,133.6 1663.2,146.2 1669.6,154.7 C1676.0,163.2 1685.5,170.6 1688.7,173.8" stroke-width="8.4" opacity="0.11"/><path d="M1720.4,34.0 C1721.0,38.2 1722.1,52.0 1724.2,59.4 C1726.3,66.8 1729.5,73.2 1733.1,78.5 C1736.7,83.8 1743.7,89.1 1745.8,91.2" stroke-width="8.6" opacity="0.12"/><path d="M1747.0,103.9 C1744.7,109.2 1737.5,126.2 1733.1,135.7 C1728.7,145.2 1724.6,154.8 1720.4,161.1 C1716.2,167.4 1709.8,171.7 1707.7,173.8" stroke-width="8.6" opacity="0.12"/><path d="M1615.0,149.6 C1612.5,153.6 1604.4,167.7 1599.7,173.8 C1595.0,180.0 1589.1,184.4 1587.0,186.5" stroke-width="8.4" opacity="0.11"/><path d="M1599.7,34.0 C1601.8,37.2 1609.2,46.6 1612.4,53.0 C1615.6,59.4 1617.7,68.9 1618.8,72.1" stroke-width="8.2" opacity="0.10"/><path d="M1427.0,196.0 C1428.1,200.2 1432.8,213.3 1433.4,221.4 C1434.0,229.5 1428.7,238.0 1430.8,244.3 C1432.9,250.7 1441.4,254.4 1446.1,259.5 C1450.8,264.6 1455.6,269.5 1458.8,274.8 C1462.0,280.1 1463.2,285.4 1465.1,291.3 C1467.0,297.2 1468.9,305.1 1470.2,310.4 C1471.5,315.7 1471.9,318.9 1472.7,323.1 C1473.5,327.3 1474.1,330.2 1475.3,335.8 C1476.5,341.4 1479.2,353.5 1480.0,357.0" stroke-width="9.6" opacity="0.14"/><path d="M1554.1,253.2 C1550.9,254.9 1541.3,260.6 1535.0,263.3 C1528.7,266.1 1522.3,267.8 1516.0,269.7 C1509.7,271.6 1503.3,272.7 1496.9,274.8 C1490.5,276.9 1483.1,280.7 1477.8,282.4 C1472.5,284.1 1467.2,284.6 1465.1,285.0" stroke-width="9.0" opacity="0.13"/><path d="M1541.4,272.2 C1538.2,274.8 1528.7,282.2 1522.3,287.5 C1515.9,292.8 1508.5,299.1 1503.2,304.0 C1497.9,308.9 1494.7,312.5 1490.5,316.7 C1486.3,320.9 1479.9,327.3 1477.8,329.4" stroke-width="8.6" opacity="0.12"/><path d="M1471.5,329.4 C1474.7,330.5 1484.2,334.1 1490.5,335.8 C1496.8,337.5 1503.2,337.9 1509.6,339.6 C1516.0,341.3 1522.3,343.8 1528.7,345.9 C1535.1,348.0 1544.5,351.2 1547.7,352.3" stroke-width="8.6" opacity="0.12"/><path d="M1427.0,307.8 C1429.1,307.8 1434.4,307.0 1439.7,307.8 C1445.0,308.6 1453.5,310.3 1458.8,312.9 C1464.1,315.4 1469.4,321.4 1471.5,323.1" stroke-width="8.6" opacity="0.12"/><path d="M1516.0,196.0 C1519.2,197.1 1528.7,200.3 1535.0,202.4 C1541.3,204.5 1547.8,206.6 1554.1,208.7 C1560.4,210.8 1569.9,214.0 1573.1,215.1" stroke-width="8.4" opacity="0.11"/><path d="M1573.1,221.4 C1574.2,225.6 1577.4,238.3 1579.5,246.8 C1581.6,255.3 1584.2,265.8 1585.8,272.2 C1587.4,278.6 1588.5,282.9 1589.0,285.0" stroke-width="8.6" opacity="0.12"/><path d="M1535.0,323.1 C1537.1,322.0 1543.5,318.8 1547.7,316.7 C1551.9,314.6 1556.2,312.5 1560.4,310.4 C1564.6,308.3 1568.3,306.1 1573.1,304.0 C1577.9,301.9 1586.3,298.8 1589.0,297.7" stroke-width="8.6" opacity="0.12"/><path d="M1541.4,323.1 C1543.5,325.2 1549.9,331.6 1554.1,335.8 C1558.3,340.0 1564.7,346.4 1566.8,348.5" stroke-width="8.4" opacity="0.11"/><path d="M1587.0,206.2 C1588.8,208.1 1593.6,214.4 1597.8,217.6 C1602.0,220.8 1607.4,223.3 1612.4,225.2 C1617.4,227.1 1622.1,224.9 1627.7,229.0 C1633.3,233.1 1640.2,244.5 1646.1,250.0 C1652.0,255.5 1658.2,258.4 1663.2,262.1 C1668.2,265.8 1671.3,272.0 1676.0,272.2 C1680.7,272.4 1685.9,266.5 1691.2,263.3 C1696.5,260.1 1702.8,257.4 1707.7,253.2 C1712.6,249.0 1716.8,242.6 1720.4,237.9 C1724.0,233.2 1726.8,229.4 1729.3,225.2 C1731.8,221.0 1734.0,217.4 1735.7,212.5 C1737.4,207.6 1738.9,198.8 1739.5,196.0" stroke-width="9.6" opacity="0.15"/><path d="M1597.8,217.6 C1598.5,221.4 1600.2,235.2 1602.2,240.5 C1604.2,245.8 1606.1,246.7 1609.9,249.4 C1613.7,252.2 1619.1,256.9 1625.1,257.0 C1631.1,257.1 1642.6,251.2 1646.1,250.0" stroke-width="8.6" opacity="0.12"/><path d="M1627.7,229.0 C1628.3,225.6 1630.7,214.2 1631.5,208.7 C1632.3,203.2 1632.5,198.1 1632.7,196.0" stroke-width="8.4" opacity="0.11"/><path d="M1676.0,278.6 C1676.8,281.8 1679.5,292.4 1681.0,297.7 C1682.5,303.0 1684.2,308.3 1684.8,310.4" stroke-width="8.6" opacity="0.12"/><path d="M1625.1,257.0 C1624.7,260.6 1624.1,270.8 1622.6,278.6 C1621.1,286.4 1618.1,297.0 1616.2,304.0 C1614.3,311.0 1610.7,314.6 1611.1,320.5 C1611.5,326.4 1615.4,333.9 1618.8,339.6 C1622.2,345.3 1629.4,352.3 1631.5,354.8" stroke-width="8.8" opacity="0.13"/><path d="M1587.0,253.2 C1588.1,257.4 1591.3,270.1 1593.4,278.6 C1595.5,287.1 1596.8,297.0 1599.7,304.0 C1602.7,311.0 1609.2,317.8 1611.1,320.5" stroke-width="8.6" opacity="0.12"/><path d="M1611.1,320.5 C1614.5,320.7 1624.9,321.6 1631.5,321.8 C1638.1,322.0 1647.3,321.8 1650.5,321.8" stroke-width="8.4" opacity="0.11"/><path d="M1611.1,320.5 C1613.4,318.8 1619.6,314.2 1625.1,310.4 C1630.6,306.6 1638.9,301.3 1644.2,297.7 C1649.5,294.1 1654.8,290.3 1656.9,288.8" stroke-width="8.4" opacity="0.11"/><path d="M1734.4,215.0 C1736.8,217.8 1746.6,228.8 1749.0,231.6" stroke-width="8.6" opacity="0.12"/><path d="M1650.5,342.1 C1654.8,341.9 1667.5,340.7 1676.0,340.9 C1684.5,341.1 1692.9,342.1 1701.4,343.4 C1709.9,344.7 1722.6,347.6 1726.8,348.5" stroke-width="8.4" opacity="0.11"/><path d="M1707.7,253.2 C1710.1,254.7 1716.6,259.2 1722.0,262.0 C1727.4,264.8 1737.0,268.7 1740.0,270.0" stroke-width="8.2" opacity="0.10"/></g>
<g fill="none" stroke="#6e6e00" stroke-linecap="round" filter="url(#blur1)"><path d="M1480.4,34.0 C1478.5,36.5 1472.9,43.3 1468.9,49.2 C1464.9,55.1 1460.4,63.2 1456.2,69.6 C1452.0,76.0 1448.0,80.2 1443.5,87.4 C1439.0,94.6 1431.8,108.6 1429.5,112.8" stroke-width="3.24" opacity="0.7"/><path d="M1488.0,34.0 C1486.3,37.2 1481.6,46.6 1477.8,53.0 C1474.0,59.4 1469.3,65.5 1465.1,72.1 C1460.9,78.7 1456.6,86.2 1452.4,92.5 C1448.2,98.8 1443.9,105.1 1439.7,110.2 C1435.5,115.3 1429.1,120.9 1427.0,123.0" stroke-width="1.89" opacity="0.6"/><path d="M1503.2,34.0 C1502.8,38.2 1501.5,50.9 1500.7,59.4 C1499.9,67.9 1498.6,78.5 1498.2,84.8 C1497.8,91.1 1498.2,95.4 1498.2,97.5" stroke-width="1.89" opacity="0.6"/><path d="M1494.3,34.0 C1493.0,38.2 1489.5,50.5 1486.7,59.4 C1484.0,68.3 1480.3,78.9 1477.8,87.4 C1475.3,95.9 1473.6,102.2 1471.5,110.2 C1469.4,118.2 1467.6,127.2 1465.1,135.7 C1462.5,144.2 1459.4,152.6 1456.2,161.1 C1453.0,169.6 1449.1,180.0 1446.1,186.5 C1443.1,193.0 1439.3,197.8 1438.0,200.0" stroke-width="1.89" opacity="0.6"/><path d="M1513.4,34.0 C1514.2,38.2 1516.0,50.9 1518.5,59.4 C1521.0,67.9 1526.0,76.3 1528.7,84.8 C1531.5,93.3 1533.7,103.8 1535.0,110.2 C1536.3,116.6 1536.1,120.9 1536.3,123.0" stroke-width="1.89" opacity="0.6"/><path d="M1538.8,34.0 C1539.2,38.2 1539.9,50.9 1541.4,59.4 C1542.9,67.9 1545.6,78.5 1547.7,84.8 C1549.8,91.1 1553.0,95.4 1554.1,97.5" stroke-width="1.76" opacity="0.55"/><path d="M1570.6,34.0 C1571.2,38.2 1574.0,53.0 1574.4,59.4 C1574.8,65.8 1574.4,67.9 1573.1,72.1 C1571.8,76.3 1567.8,82.7 1566.8,84.8" stroke-width="1.76" opacity="0.55"/><path d="M1498.2,91.2 C1499.0,92.7 1500.2,96.9 1503.2,100.1 C1506.2,103.3 1511.1,106.8 1516.0,110.2 C1520.9,113.6 1529.8,118.7 1532.5,120.4" stroke-width="1.76" opacity="0.6"/><path d="M1536.3,129.3 C1538.2,131.4 1543.7,136.7 1547.7,142.0 C1551.7,147.3 1556.2,154.8 1560.4,161.1 C1564.6,167.4 1570.3,174.3 1573.1,180.1 C1575.9,185.9 1577.0,189.1 1577.0,196.0 C1577.0,202.9 1574.8,214.0 1573.1,221.4 C1571.4,228.8 1568.9,234.6 1566.8,240.5 C1564.7,246.4 1563.6,252.8 1560.4,257.0 C1557.2,261.2 1553.0,262.9 1547.7,265.9 C1542.4,268.9 1535.1,271.6 1528.7,274.8 C1522.3,278.0 1516.0,280.7 1509.6,284.9 C1503.2,289.1 1496.2,294.9 1490.5,300.2 C1484.8,305.5 1478.5,311.8 1475.3,316.7 C1472.1,321.6 1472.1,327.3 1471.5,329.4" stroke-width="3.51" opacity="0.75"/><path d="M1536.3,129.3 C1534.0,129.9 1526.8,131.6 1522.3,133.1 C1517.8,134.6 1513.2,137.1 1509.6,138.2 C1506.0,139.3 1502.2,139.3 1500.7,139.5" stroke-width="1.76" opacity="0.6"/><path d="M1554.1,103.9 C1555.1,107.1 1558.3,116.7 1560.4,123.0 C1562.5,129.3 1564.7,135.7 1566.8,142.0 C1568.9,148.3 1571.0,153.7 1573.1,161.1 C1575.2,168.5 1577.5,178.3 1579.5,186.5 C1581.5,194.7 1584.1,206.1 1585.0,210.0" stroke-width="1.89" opacity="0.6"/><path d="M1488.0,161.1 C1490.5,164.3 1498.5,174.8 1503.2,180.1 C1507.9,185.4 1511.5,189.5 1516.0,192.8 C1520.5,196.1 1527.7,198.8 1530.0,200.0" stroke-width="1.62" opacity="0.5"/><path d="M1587.0,72.0 C1588.5,75.0 1592.8,83.4 1596.0,90.0 C1599.2,96.6 1604.4,107.9 1606.1,111.5" stroke-width="1.76" opacity="0.6"/><path d="M1606.1,111.5 C1604.0,115.1 1596.6,128.4 1593.4,133.1 C1590.2,137.8 1590.1,136.7 1587.0,139.5 C1583.9,142.3 1577.0,148.2 1575.0,150.0" stroke-width="1.89" opacity="0.6"/><path d="M1606.1,111.5 C1608.2,108.5 1613.5,98.2 1618.8,93.7 C1624.1,89.2 1632.2,86.5 1637.8,84.8 C1643.4,83.1 1647.1,84.0 1652.4,83.6 C1657.7,83.2 1661.4,82.1 1669.6,82.3 C1677.8,82.5 1691.9,83.5 1701.4,84.8 C1710.9,86.1 1719.2,88.2 1726.8,89.9 C1734.4,91.6 1743.6,94.2 1747.0,95.0" stroke-width="2.16" opacity="0.65"/><path d="M1606.1,111.5 C1607.1,114.5 1609.7,124.2 1612.4,129.3 C1615.2,134.4 1618.4,138.4 1622.6,142.0 C1626.8,145.6 1634.2,146.7 1637.8,150.9 C1641.4,155.1 1644.6,161.5 1644.2,167.4 C1643.8,173.3 1637.2,181.7 1635.3,186.5 C1633.4,191.3 1633.3,192.3 1632.7,196.0 C1632.1,199.7 1632.3,203.2 1631.5,208.7 C1630.7,214.2 1628.3,225.6 1627.7,229.0" stroke-width="1.89" opacity="0.6"/><path d="M1644.2,34.0 C1646.3,39.3 1652.7,55.2 1656.9,65.8 C1661.1,76.4 1665.4,86.9 1669.6,97.5 C1673.8,108.1 1678.1,119.8 1682.3,129.3 C1686.5,138.8 1690.8,147.3 1695.0,154.7 C1699.2,162.1 1703.5,166.9 1707.7,173.8 C1711.9,180.7 1718.3,192.3 1720.4,196.0" stroke-width="1.76" opacity="0.55"/><path d="M1656.9,34.0 C1660.1,40.4 1669.7,59.4 1676.0,72.1 C1682.3,84.8 1688.7,97.5 1695.0,110.2 C1701.3,122.9 1707.8,136.8 1714.1,148.4 C1720.4,160.1 1727.6,171.5 1733.1,180.1 C1738.6,188.7 1744.7,196.7 1747.0,200.0" stroke-width="1.76" opacity="0.55"/><path d="M1631.5,91.2 C1634.7,96.5 1644.2,112.4 1650.5,123.0 C1656.8,133.6 1663.2,146.2 1669.6,154.7 C1676.0,163.2 1685.5,170.6 1688.7,173.8" stroke-width="1.62" opacity="0.5"/><path d="M1720.4,34.0 C1721.0,38.2 1722.1,52.0 1724.2,59.4 C1726.3,66.8 1729.5,73.2 1733.1,78.5 C1736.7,83.8 1743.7,89.1 1745.8,91.2" stroke-width="1.76" opacity="0.55"/><path d="M1747.0,103.9 C1744.7,109.2 1737.5,126.2 1733.1,135.7 C1728.7,145.2 1724.6,154.8 1720.4,161.1 C1716.2,167.4 1709.8,171.7 1707.7,173.8" stroke-width="1.76" opacity="0.55"/><path d="M1615.0,149.6 C1612.5,153.6 1604.4,167.7 1599.7,173.8 C1595.0,180.0 1589.1,184.4 1587.0,186.5" stroke-width="1.62" opacity="0.5"/><path d="M1599.7,34.0 C1601.8,37.2 1609.2,46.6 1612.4,53.0 C1615.6,59.4 1617.7,68.9 1618.8,72.1" stroke-width="1.49" opacity="0.45"/><path d="M1427.0,196.0 C1428.1,200.2 1432.8,213.3 1433.4,221.4 C1434.0,229.5 1428.7,238.0 1430.8,244.3 C1432.9,250.7 1441.4,254.4 1446.1,259.5 C1450.8,264.6 1455.6,269.5 1458.8,274.8 C1462.0,280.1 1463.2,285.4 1465.1,291.3 C1467.0,297.2 1468.9,305.1 1470.2,310.4 C1471.5,315.7 1471.9,318.9 1472.7,323.1 C1473.5,327.3 1474.1,330.2 1475.3,335.8 C1476.5,341.4 1479.2,353.5 1480.0,357.0" stroke-width="2.43" opacity="0.65"/><path d="M1554.1,253.2 C1550.9,254.9 1541.3,260.6 1535.0,263.3 C1528.7,266.1 1522.3,267.8 1516.0,269.7 C1509.7,271.6 1503.3,272.7 1496.9,274.8 C1490.5,276.9 1483.1,280.7 1477.8,282.4 C1472.5,284.1 1467.2,284.6 1465.1,285.0" stroke-width="2.03" opacity="0.6"/><path d="M1541.4,272.2 C1538.2,274.8 1528.7,282.2 1522.3,287.5 C1515.9,292.8 1508.5,299.1 1503.2,304.0 C1497.9,308.9 1494.7,312.5 1490.5,316.7 C1486.3,320.9 1479.9,327.3 1477.8,329.4" stroke-width="1.76" opacity="0.55"/><path d="M1471.5,329.4 C1474.7,330.5 1484.2,334.1 1490.5,335.8 C1496.8,337.5 1503.2,337.9 1509.6,339.6 C1516.0,341.3 1522.3,343.8 1528.7,345.9 C1535.1,348.0 1544.5,351.2 1547.7,352.3" stroke-width="1.76" opacity="0.55"/><path d="M1427.0,307.8 C1429.1,307.8 1434.4,307.0 1439.7,307.8 C1445.0,308.6 1453.5,310.3 1458.8,312.9 C1464.1,315.4 1469.4,321.4 1471.5,323.1" stroke-width="1.76" opacity="0.55"/><path d="M1516.0,196.0 C1519.2,197.1 1528.7,200.3 1535.0,202.4 C1541.3,204.5 1547.8,206.6 1554.1,208.7 C1560.4,210.8 1569.9,214.0 1573.1,215.1" stroke-width="1.62" opacity="0.5"/><path d="M1573.1,221.4 C1574.2,225.6 1577.4,238.3 1579.5,246.8 C1581.6,255.3 1584.2,265.8 1585.8,272.2 C1587.4,278.6 1588.5,282.9 1589.0,285.0" stroke-width="1.76" opacity="0.55"/><path d="M1535.0,323.1 C1537.1,322.0 1543.5,318.8 1547.7,316.7 C1551.9,314.6 1556.2,312.5 1560.4,310.4 C1564.6,308.3 1568.3,306.1 1573.1,304.0 C1577.9,301.9 1586.3,298.8 1589.0,297.7" stroke-width="1.76" opacity="0.55"/><path d="M1541.4,323.1 C1543.5,325.2 1549.9,331.6 1554.1,335.8 C1558.3,340.0 1564.7,346.4 1566.8,348.5" stroke-width="1.62" opacity="0.5"/><path d="M1587.0,206.2 C1588.8,208.1 1593.6,214.4 1597.8,217.6 C1602.0,220.8 1607.4,223.3 1612.4,225.2 C1617.4,227.1 1622.1,224.9 1627.7,229.0 C1633.3,233.1 1640.2,244.5 1646.1,250.0 C1652.0,255.5 1658.2,258.4 1663.2,262.1 C1668.2,265.8 1671.3,272.0 1676.0,272.2 C1680.7,272.4 1685.9,266.5 1691.2,263.3 C1696.5,260.1 1702.8,257.4 1707.7,253.2 C1712.6,249.0 1716.8,242.6 1720.4,237.9 C1724.0,233.2 1726.8,229.4 1729.3,225.2 C1731.8,221.0 1734.0,217.4 1735.7,212.5 C1737.4,207.6 1738.9,198.8 1739.5,196.0" stroke-width="2.43" opacity="0.7"/><path d="M1597.8,217.6 C1598.5,221.4 1600.2,235.2 1602.2,240.5 C1604.2,245.8 1606.1,246.7 1609.9,249.4 C1613.7,252.2 1619.1,256.9 1625.1,257.0 C1631.1,257.1 1642.6,251.2 1646.1,250.0" stroke-width="1.76" opacity="0.55"/><path d="M1627.7,229.0 C1628.3,225.6 1630.7,214.2 1631.5,208.7 C1632.3,203.2 1632.5,198.1 1632.7,196.0" stroke-width="1.62" opacity="0.5"/><path d="M1676.0,278.6 C1676.8,281.8 1679.5,292.4 1681.0,297.7 C1682.5,303.0 1684.2,308.3 1684.8,310.4" stroke-width="1.76" opacity="0.55"/><path d="M1625.1,257.0 C1624.7,260.6 1624.1,270.8 1622.6,278.6 C1621.1,286.4 1618.1,297.0 1616.2,304.0 C1614.3,311.0 1610.7,314.6 1611.1,320.5 C1611.5,326.4 1615.4,333.9 1618.8,339.6 C1622.2,345.3 1629.4,352.3 1631.5,354.8" stroke-width="1.89" opacity="0.6"/><path d="M1587.0,253.2 C1588.1,257.4 1591.3,270.1 1593.4,278.6 C1595.5,287.1 1596.8,297.0 1599.7,304.0 C1602.7,311.0 1609.2,317.8 1611.1,320.5" stroke-width="1.76" opacity="0.55"/><path d="M1611.1,320.5 C1614.5,320.7 1624.9,321.6 1631.5,321.8 C1638.1,322.0 1647.3,321.8 1650.5,321.8" stroke-width="1.62" opacity="0.5"/><path d="M1611.1,320.5 C1613.4,318.8 1619.6,314.2 1625.1,310.4 C1630.6,306.6 1638.9,301.3 1644.2,297.7 C1649.5,294.1 1654.8,290.3 1656.9,288.8" stroke-width="1.62" opacity="0.5"/><path d="M1734.4,215.0 C1736.8,217.8 1746.6,228.8 1749.0,231.6" stroke-width="1.76" opacity="0.55"/><path d="M1650.5,342.1 C1654.8,341.9 1667.5,340.7 1676.0,340.9 C1684.5,341.1 1692.9,342.1 1701.4,343.4 C1709.9,344.7 1722.6,347.6 1726.8,348.5" stroke-width="1.62" opacity="0.5"/><path d="M1707.7,253.2 C1710.1,254.7 1716.6,259.2 1722.0,262.0 C1727.4,264.8 1737.0,268.7 1740.0,270.0" stroke-width="1.49" opacity="0.45"/></g>
<g filter="url(#blur05)"></g>
<g filter="url(#blur3)"><ellipse cx="1535.0" cy="128.7" rx="6.0" ry="5.0" fill="#7c7c00" opacity="0.7"/><ellipse cx="1606.1" cy="111.5" rx="6.6" ry="5.5" fill="#7c7c00" opacity="0.7"/><ellipse cx="1709.0" cy="106.4" rx="4.6" ry="4.0" fill="#7e7e00" opacity="0.8"/><ellipse cx="1709.0" cy="106.4" rx="2.4" ry="2.0" fill="#969600" opacity="0.8"/><ellipse cx="1711.5" cy="161.1" rx="5.8" ry="5.0" fill="#7e7e00" opacity="0.8"/><ellipse cx="1711.5" cy="161.1" rx="3.0" ry="2.5" fill="#969600" opacity="0.8"/><ellipse cx="1540.0" cy="115.0" rx="5.8" ry="5.0" fill="#7e7e00" opacity="0.8"/><ellipse cx="1540.0" cy="115.0" rx="3.0" ry="2.5" fill="#969600" opacity="0.8"/><ellipse cx="1566.8" cy="303.4" rx="5.8" ry="5.0" fill="#7e7e00" opacity="0.8"/><ellipse cx="1566.8" cy="303.4" rx="3.0" ry="2.5" fill="#969600" opacity="0.8"/><ellipse cx="1470.2" cy="282.4" rx="5.8" ry="5.0" fill="#7e7e00" opacity="0.8"/><ellipse cx="1470.2" cy="282.4" rx="3.0" ry="2.5" fill="#969600" opacity="0.8"/><ellipse cx="1646.1" cy="250.0" rx="6.0" ry="5.0" fill="#7c7c00" opacity="0.7"/><ellipse cx="1676.0" cy="278.6" rx="6.9" ry="6.0" fill="#7e7e00" opacity="0.8"/><ellipse cx="1676.0" cy="278.6" rx="3.6" ry="3.0" fill="#969600" opacity="0.8"/><ellipse cx="1703.9" cy="277.3" rx="8.0" ry="7.0" fill="#7e7e00" opacity="0.8"/><ellipse cx="1703.9" cy="277.3" rx="4.2" ry="3.5" fill="#969600" opacity="0.8"/><ellipse cx="1627.0" cy="224.6" rx="4.0" ry="3.5" fill="#7e7e00" opacity="0.8"/><ellipse cx="1627.0" cy="224.6" rx="2.1" ry="1.8" fill="#969600" opacity="0.8"/><ellipse cx="1611.1" cy="320.5" rx="8.0" ry="7.0" fill="#7e7e00" opacity="0.8"/><ellipse cx="1611.1" cy="320.5" rx="4.2" ry="3.5" fill="#969600" opacity="0.8"/><ellipse cx="1618.8" cy="339.6" rx="4.6" ry="4.0" fill="#7e7e00" opacity="0.8"/><ellipse cx="1618.8" cy="339.6" rx="2.4" ry="2.0" fill="#969600" opacity="0.8"/><ellipse cx="1734.4" cy="215.0" rx="6.9" ry="6.0" fill="#7e7e00" opacity="0.8"/><ellipse cx="1734.4" cy="215.0" rx="3.6" ry="3.0" fill="#969600" opacity="0.8"/></g>
<g filter="url(#blur08)"><ellipse cx="1535.0" cy="128.7" rx="3.8" ry="3.2" fill="#b4b400" opacity="0.85"/><circle cx="1535.0" cy="128.7" r="2.7" fill="#e4e410"/><circle cx="1532.5" cy="121.0" r="1.8" fill="#e4e410"/><circle cx="1474.6" cy="129.3" r="2.1" fill="#e4e410"/><circle cx="1500.0" cy="137.6" r="1.8" fill="#e4e410"/><circle cx="1477.8" cy="170.6" r="1.8" fill="#e4e410"/><circle cx="1499.4" cy="186.5" r="2.1" fill="#e4e410"/><circle cx="1521.7" cy="192.8" r="1.8" fill="#e4e410"/><ellipse cx="1606.1" cy="111.5" rx="4.1" ry="3.6" fill="#b4b400" opacity="0.85"/><circle cx="1606.1" cy="111.5" r="2.7" fill="#e4e410"/><circle cx="1652.4" cy="83.6" r="1.8" fill="#e4e410"/><circle cx="1645.5" cy="110.9" r="1.5" fill="#e4e410"/><circle cx="1695.0" cy="185.8" r="1.8" fill="#e4e410"/><circle cx="1733.8" cy="194.7" r="1.8" fill="#e4e410"/><circle cx="1623.2" cy="177.6" r="1.2" fill="#e4e410"/><circle cx="1607.3" cy="157.3" r="1.2" fill="#e4e410"/><circle cx="1596.5" cy="193.5" r="1.2" fill="#e4e410"/><circle cx="1542.0" cy="309.1" r="2.1" fill="#e4e410"/><circle cx="1535.0" cy="323.7" r="2.4" fill="#e4e410"/><circle cx="1539.5" cy="335.8" r="1.5" fill="#e4e410"/><circle cx="1477.8" cy="293.2" r="1.5" fill="#e4e410"/><circle cx="1564.2" cy="267.8" r="1.8" fill="#e4e410"/><circle cx="1563.0" cy="222.0" r="1.2" fill="#e4e410"/><ellipse cx="1646.1" cy="250.0" rx="3.8" ry="3.2" fill="#b4b400" opacity="0.85"/><circle cx="1646.1" cy="250.0" r="2.7" fill="#e4e410"/><circle cx="1597.8" cy="217.6" r="2.1" fill="#e4e410"/><circle cx="1594.0" cy="201.7" r="1.8" fill="#e4e410"/></g>
</g>
<clipPath id="clipBL"><rect x="1099" y="359.5" width="323" height="322.5"/></clipPath>
<g clip-path="url(#clipBL)">
<rect x="1099" y="359.5" width="323" height="322.5" fill="#080800"/>
<g fill="none" stroke="#464600" filter="url(#blur1)"><path d="M1283.2,563.4 C1284.1,562.0 1286.4,557.3 1288.6,555.0 C1290.9,552.6 1293.8,550.6 1296.8,549.3 C1299.9,548.0 1303.6,548.5 1306.7,547.3 C1309.7,546.2 1312.4,543.8 1315.4,542.4 C1318.4,541.0 1323.2,539.5 1324.7,538.9" stroke-width="1.20" opacity="0.58"/><path d="M1411.1,529.9 C1409.5,530.2 1404.5,530.9 1401.3,531.9 C1398.1,532.9 1395.0,534.3 1392.1,535.9 C1389.2,537.5 1386.6,539.6 1383.8,541.5 C1381.1,543.4 1377.8,544.8 1375.6,547.2 C1373.4,549.6 1372.4,553.1 1370.6,555.9 C1368.8,558.6 1367.0,561.5 1364.7,563.9 C1362.5,566.4 1359.6,568.2 1357.1,570.4 C1354.7,572.7 1352.7,575.6 1350.0,577.5 C1347.3,579.3 1344.1,580.9 1340.9,581.6 C1337.8,582.4 1332.6,581.7 1330.9,581.7" stroke-width="1.35" opacity="0.55"/><path d="M1136.9,377.6 C1138.4,376.9 1142.8,374.3 1146.0,373.6 C1149.2,372.9 1152.7,373.0 1156.0,373.4 C1159.3,373.8 1162.5,375.6 1165.8,375.7 C1169.0,375.9 1172.4,375.1 1175.7,374.3 C1178.9,373.5 1183.6,371.7 1185.2,371.2" stroke-width="1.02" opacity="0.41"/><path d="M1101.1,528.7 C1101.0,530.4 1100.2,535.5 1100.8,538.7 C1101.3,541.9 1102.5,545.4 1104.3,548.1 C1106.2,550.7 1109.8,552.2 1111.7,554.8 C1113.7,557.4 1115.1,560.6 1116.1,563.8 C1117.2,566.9 1117.6,570.3 1118.2,573.6 C1118.8,576.8 1119.5,581.8 1119.7,583.4" stroke-width="0.92" opacity="0.36"/><path d="M1137.6,461.6 C1139.3,461.7 1144.3,462.5 1147.6,462.2 C1150.9,461.9 1154.1,460.4 1157.3,459.8 C1160.6,459.3 1164.0,459.3 1167.3,459.0 C1170.6,458.6 1173.9,458.1 1177.2,457.6 C1180.5,457.2 1185.4,456.3 1187.1,456.1" stroke-width="1.23" opacity="0.46"/><path d="M1352.6,458.8 C1354.2,459.4 1359.1,460.5 1362.1,462.0 C1365.1,463.4 1367.3,466.3 1370.3,467.6 C1373.4,468.9 1377.1,468.5 1380.1,469.7 C1383.1,471.0 1385.4,474.2 1388.5,475.3 C1391.5,476.3 1395.1,475.9 1398.4,476.3 C1401.7,476.7 1406.7,477.4 1408.3,477.7" stroke-width="1.05" opacity="0.50"/><path d="M1386.1,585.9 C1386.8,587.4 1388.3,592.5 1390.3,595.0 C1392.3,597.6 1395.2,599.8 1398.1,601.2 C1401.1,602.7 1404.6,602.8 1407.8,603.8 C1411.0,604.8 1414.2,605.8 1417.2,607.3 C1420.1,608.8 1422.7,611.1 1425.5,612.9 C1428.3,614.7 1432.6,617.2 1434.0,618.1" stroke-width="1.21" opacity="0.49"/><path d="M1409.6,514.9 C1411.2,515.6 1415.6,518.0 1418.7,519.1 C1421.9,520.2 1425.1,521.4 1428.4,521.6 C1431.7,521.8 1435.2,521.2 1438.3,520.3 C1441.5,519.3 1444.2,517.0 1447.3,515.9 C1450.4,514.8 1453.7,514.1 1457.0,513.5 C1460.3,512.9 1465.3,512.5 1466.9,512.3" stroke-width="1.30" opacity="0.43"/><path d="M1344.7,671.1 C1345.9,669.9 1349.2,665.9 1352.0,664.3 C1354.8,662.6 1358.2,661.5 1361.5,661.1 C1364.7,660.6 1368.2,660.9 1371.5,661.5 C1374.7,662.1 1377.9,663.3 1381.0,664.4 C1384.2,665.5 1387.2,666.9 1390.3,668.1 C1393.4,669.4 1398.0,671.3 1399.6,671.9" stroke-width="1.30" opacity="0.68"/><path d="M1332.0,433.0 C1333.3,434.0 1337.3,437.0 1339.8,439.2 C1342.4,441.3 1344.5,444.0 1347.3,445.9 C1350.0,447.7 1353.2,449.2 1356.3,450.1 C1359.5,451.0 1363.2,450.2 1366.3,451.3 C1369.3,452.4 1373.3,455.8 1374.7,456.7" stroke-width="1.54" opacity="0.33"/><path d="M1348.4,544.5 C1349.8,543.7 1353.9,540.5 1357.0,539.5 C1360.1,538.6 1363.7,539.1 1367.0,538.7 C1370.3,538.3 1373.6,536.9 1376.9,537.0 C1380.1,537.2 1383.5,538.2 1386.6,539.5 C1389.6,540.8 1392.0,543.6 1395.0,544.8 C1398.1,546.0 1401.6,546.9 1404.8,546.8 C1408.1,546.7 1411.6,545.8 1414.5,544.2 C1417.3,542.7 1420.6,538.6 1421.9,537.5" stroke-width="1.43" opacity="0.65"/><path d="M1172.7,395.9 C1171.3,396.8 1167.4,400.2 1164.4,401.5 C1161.4,402.8 1157.9,403.8 1154.7,403.8 C1151.4,403.8 1148.0,402.6 1144.9,401.4 C1141.8,400.3 1138.7,398.7 1136.1,396.7 C1133.5,394.7 1132.0,391.1 1129.3,389.3 C1126.7,387.6 1123.2,386.3 1119.9,386.0 C1116.7,385.7 1113.3,387.6 1110.0,387.5 C1106.8,387.4 1103.5,386.3 1100.3,385.4 C1097.1,384.5 1092.4,382.6 1090.8,382.1" stroke-width="0.90" opacity="0.45"/><path d="M1206.4,468.9 C1204.8,469.4 1199.7,470.4 1196.9,472.1 C1194.1,473.7 1191.6,476.3 1189.5,478.8 C1187.5,481.4 1185.6,484.4 1184.5,487.4 C1183.4,490.5 1182.8,494.1 1182.9,497.3 C1183.0,500.6 1184.3,503.8 1185.3,507.0 C1186.2,510.2 1187.9,514.9 1188.5,516.5" stroke-width="1.44" opacity="0.36"/><path d="M1275.0,507.9 C1273.4,507.2 1268.9,504.6 1265.7,504.0 C1262.5,503.4 1257.4,504.2 1255.7,504.2" stroke-width="1.00" opacity="0.46"/><path d="M1101.8,504.3 C1100.3,505.1 1095.7,507.2 1093.1,509.2 C1090.4,511.2 1087.7,513.5 1086.0,516.3 C1084.3,519.0 1083.3,522.5 1082.8,525.7 C1082.3,529.0 1083.6,532.6 1082.9,535.7 C1082.2,538.9 1079.2,543.2 1078.4,544.7" stroke-width="0.89" opacity="0.46"/><path d="M1412.6,567.5 C1414.3,567.6 1419.4,568.5 1422.6,567.9 C1425.8,567.3 1428.9,565.5 1431.7,563.8 C1434.5,562.0 1436.6,559.1 1439.5,557.5 C1442.3,555.8 1445.6,554.9 1448.7,553.7 C1451.8,552.4 1456.5,550.6 1458.0,550.0" stroke-width="1.11" opacity="0.66"/><path d="M1382.1,384.5 C1380.6,383.8 1375.7,382.0 1373.2,379.9 C1370.6,377.9 1368.9,374.8 1366.6,372.4 C1364.4,369.9 1361.5,368.0 1359.6,365.3 C1357.7,362.6 1355.8,357.9 1355.1,356.4" stroke-width="1.38" opacity="0.43"/><path d="M1392.1,561.7 C1391.5,563.2 1390.2,568.2 1388.6,571.0 C1387.1,573.9 1384.5,576.3 1382.6,579.0 C1380.6,581.7 1378.6,584.4 1376.9,587.2 C1375.2,590.1 1373.1,592.9 1372.1,596.0 C1371.2,599.1 1371.9,602.8 1371.2,606.0 C1370.4,609.2 1368.2,612.1 1367.6,615.3 C1366.9,618.5 1367.0,622.0 1367.3,625.3 C1367.7,628.6 1369.5,633.4 1369.9,635.0" stroke-width="0.93" opacity="0.31"/><path d="M1222.9,513.2 C1223.3,514.8 1223.7,520.0 1225.0,523.0 C1226.4,526.0 1228.5,528.9 1230.8,531.2 C1233.2,533.5 1236.4,534.8 1239.1,536.7 C1241.9,538.6 1245.1,540.1 1247.3,542.5 C1249.5,544.9 1251.4,547.9 1252.5,551.0 C1253.6,554.1 1253.7,559.3 1253.9,560.9" stroke-width="0.87" opacity="0.56"/><path d="M1381.2,679.6 C1382.4,678.5 1386.0,675.0 1388.5,672.8 C1391.1,670.7 1393.6,668.3 1396.4,666.7 C1399.3,665.0 1402.5,663.4 1405.7,663.0 C1408.9,662.6 1412.3,663.9 1415.7,664.2 C1419.0,664.6 1422.3,665.0 1425.6,665.4 C1428.9,665.8 1432.2,666.5 1435.5,666.6 C1438.8,666.7 1443.8,666.1 1445.5,665.9" stroke-width="1.23" opacity="0.54"/><path d="M1190.4,507.3 C1191.6,506.1 1195.4,502.8 1197.6,500.3 C1199.7,497.7 1200.9,494.4 1203.2,492.0 C1205.5,489.7 1208.9,488.4 1211.4,486.3 C1213.9,484.1 1217.1,480.2 1218.3,479.0" stroke-width="1.54" opacity="0.67"/><path d="M1381.9,618.9 C1381.9,620.6 1381.6,625.6 1382.1,628.9 C1382.6,632.2 1384.1,635.3 1384.8,638.5 C1385.6,641.8 1386.6,645.1 1386.6,648.4 C1386.6,651.6 1386.0,655.2 1384.7,658.2 C1383.4,661.2 1380.5,663.4 1378.8,666.3 C1377.0,669.1 1375.0,673.7 1374.2,675.1" stroke-width="0.82" opacity="0.35"/><path d="M1205.1,569.1 C1204.7,570.7 1203.9,575.8 1202.6,578.8 C1201.4,581.9 1198.4,586.0 1197.5,587.4" stroke-width="1.37" opacity="0.31"/><path d="M1119.2,494.2 C1118.6,495.7 1116.9,500.4 1115.7,503.6 C1114.6,506.7 1113.1,509.7 1112.2,512.9 C1111.2,516.1 1110.3,519.4 1110.0,522.7 C1109.7,526.0 1109.8,529.4 1110.3,532.7 C1110.8,535.9 1111.5,539.4 1113.1,542.3 C1114.7,545.1 1117.0,547.9 1119.7,549.8 C1122.4,551.6 1126.0,552.1 1129.1,553.3 C1132.1,554.6 1135.4,555.7 1138.2,557.4 C1141.1,559.0 1143.7,561.2 1146.2,563.4 C1148.6,565.7 1151.8,569.5 1153.0,570.8" stroke-width="1.59" opacity="0.42"/><path d="M1124.5,498.7 C1123.1,499.6 1119.1,502.7 1116.1,504.2 C1113.2,505.7 1109.6,506.1 1106.8,507.8 C1104.0,509.5 1101.4,512.0 1099.4,514.5 C1097.3,517.1 1095.3,521.8 1094.5,523.3" stroke-width="1.10" opacity="0.66"/><path d="M1196.4,455.2 C1195.9,456.8 1194.7,461.6 1193.6,464.8 C1192.5,467.9 1190.4,470.8 1189.9,474.1 C1189.4,477.3 1190.3,480.7 1190.5,484.0 C1190.6,487.4 1190.8,490.7 1190.7,494.0 C1190.7,497.4 1190.0,500.7 1190.1,504.0 C1190.2,507.3 1191.5,510.7 1191.3,514.0 C1191.1,517.2 1189.3,522.0 1188.9,523.6" stroke-width="1.33" opacity="0.72"/><path d="M1232.0,413.0 C1230.5,412.3 1225.9,410.1 1223.0,408.6 C1220.0,407.1 1217.3,405.0 1214.1,403.9 C1211.0,402.9 1207.5,402.9 1204.3,402.1 C1201.1,401.2 1197.8,400.3 1194.8,398.9 C1191.9,397.4 1187.9,394.3 1186.5,393.4" stroke-width="1.31" opacity="0.31"/><path d="M1160.9,468.2 C1160.3,466.6 1158.1,462.0 1157.4,458.8 C1156.6,455.6 1157.0,452.1 1156.4,448.8 C1155.8,445.6 1154.0,442.4 1153.9,439.2 C1153.8,435.9 1155.4,431.0 1155.8,429.3" stroke-width="0.87" opacity="0.60"/><path d="M1279.8,599.2 C1281.3,598.4 1287.2,595.2 1288.6,594.4" stroke-width="1.32" opacity="0.58"/><path d="M1339.7,661.7 C1338.8,660.3 1336.3,656.0 1334.3,653.3 C1332.4,650.6 1329.6,648.4 1327.9,645.6 C1326.2,642.8 1324.8,637.9 1324.1,636.3" stroke-width="1.50" opacity="0.67"/><path d="M1388.7,653.0 C1387.8,651.6 1384.9,647.5 1383.2,644.6 C1381.6,641.7 1379.8,638.7 1379.0,635.6 C1378.3,632.4 1379.0,628.9 1378.6,625.6 C1378.3,622.3 1377.9,618.9 1376.8,615.7 C1375.7,612.6 1373.4,609.9 1372.3,606.8 C1371.1,603.7 1370.5,598.7 1370.1,597.1" stroke-width="0.96" opacity="0.71"/><path d="M1143.9,395.7 C1142.3,395.6 1137.2,395.7 1133.9,395.0 C1130.7,394.2 1127.8,391.8 1124.6,391.4 C1121.4,391.0 1117.8,391.5 1114.6,392.3 C1111.4,393.1 1108.5,394.8 1105.3,396.0 C1102.2,397.2 1099.1,398.6 1095.9,399.3 C1092.7,399.9 1089.2,399.7 1085.9,400.0 C1082.6,400.3 1079.3,400.9 1076.0,400.8 C1072.6,400.8 1069.3,399.9 1066.0,399.8 C1062.7,399.6 1057.7,400.0 1056.0,400.1" stroke-width="1.22" opacity="0.47"/><path d="M1099.6,424.2 C1099.1,425.7 1097.1,430.4 1096.4,433.6 C1095.7,436.9 1096.7,440.5 1095.6,443.6 C1094.6,446.7 1092.3,449.4 1090.3,452.0 C1088.3,454.7 1085.8,457.0 1083.7,459.6 C1081.7,462.2 1080.2,465.3 1077.9,467.7 C1075.6,470.0 1072.8,472.1 1070.0,473.8 C1067.1,475.6 1064.1,477.2 1060.9,478.1 C1057.8,479.1 1052.7,479.2 1051.0,479.4" stroke-width="1.29" opacity="0.55"/><path d="M1130.3,497.7 C1129.2,498.9 1126.1,503.1 1123.4,505.0 C1120.8,506.9 1117.1,507.4 1114.3,509.1 C1111.5,510.9 1108.7,513.0 1106.7,515.6 C1104.6,518.1 1103.3,521.4 1102.1,524.4 C1100.8,527.5 1099.5,532.4 1098.9,534.0" stroke-width="0.82" opacity="0.38"/><path d="M1393.9,536.1 C1395.5,535.9 1400.4,535.1 1403.7,534.5 C1407.0,534.0 1410.3,532.6 1413.6,532.8 C1416.8,533.0 1420.4,533.9 1423.2,535.5 C1426.0,537.0 1428.0,540.1 1430.6,542.3 C1433.1,544.4 1436.2,545.9 1438.5,548.3 C1440.9,550.6 1442.5,553.6 1444.5,556.3 C1446.5,558.9 1449.6,562.9 1450.6,564.2" stroke-width="1.12" opacity="0.34"/><path d="M1360.7,610.3 C1360.2,608.7 1358.5,604.0 1357.9,600.8 C1357.3,597.5 1356.8,594.1 1357.0,590.8 C1357.2,587.5 1357.9,584.0 1359.3,581.1 C1360.7,578.1 1363.0,575.3 1365.4,573.1 C1367.9,571.0 1370.9,569.1 1374.0,568.0 C1377.0,566.8 1380.6,567.1 1383.8,566.3 C1387.0,565.4 1390.2,564.3 1393.3,563.0 C1396.4,561.7 1399.2,559.9 1402.3,558.6 C1405.3,557.4 1408.9,557.0 1411.7,555.4 C1414.5,553.7 1418.0,549.9 1419.3,548.8" stroke-width="1.10" opacity="0.44"/><path d="M1165.5,419.2 C1164.0,418.4 1159.4,416.3 1156.8,414.3 C1154.2,412.3 1151.6,409.8 1149.9,407.0 C1148.3,404.2 1148.3,400.5 1146.8,397.5 C1145.4,394.5 1142.9,392.1 1141.3,389.2 C1139.7,386.3 1138.1,381.5 1137.4,380.0" stroke-width="0.98" opacity="0.34"/><path d="M1152.1,566.4 C1150.6,565.6 1146.1,563.4 1143.5,561.4 C1140.8,559.4 1137.6,555.5 1136.4,554.3" stroke-width="0.98" opacity="0.56"/><path d="M1364.0,567.7 C1365.5,567.1 1370.4,565.6 1373.2,563.9 C1376.0,562.1 1378.3,559.6 1380.8,557.3 C1383.2,555.0 1385.1,552.0 1387.8,550.2 C1390.6,548.5 1393.9,547.2 1397.2,546.6 C1400.4,546.1 1404.0,547.6 1407.2,546.8 C1410.3,546.1 1413.6,544.4 1416.1,542.3 C1418.5,540.1 1419.9,536.8 1421.7,534.0 C1423.6,531.2 1424.7,527.9 1427.0,525.5 C1429.2,523.1 1433.8,520.7 1435.2,519.8" stroke-width="1.47" opacity="0.70"/><path d="M1349.0,501.5 C1349.1,503.2 1349.3,508.2 1349.5,511.5 C1349.7,514.9 1350.5,518.3 1350.1,521.5 C1349.7,524.8 1348.3,528.0 1346.9,531.0 C1345.6,534.0 1344.1,537.2 1341.9,539.7 C1339.8,542.1 1336.4,543.5 1334.0,545.8 C1331.7,548.1 1329.9,551.0 1327.7,553.6 C1325.6,556.1 1323.7,559.1 1321.0,560.9 C1318.3,562.7 1314.4,562.7 1311.6,564.3 C1308.7,566.0 1306.5,568.6 1304.0,570.9 C1301.6,573.2 1298.1,576.8 1297.0,578.0" stroke-width="0.93" opacity="0.75"/><path d="M1348.9,601.0 C1348.4,602.6 1346.1,607.3 1345.7,610.5 C1345.2,613.7 1346.7,617.3 1346.0,620.5 C1345.4,623.7 1343.6,626.9 1341.7,629.5 C1339.7,632.1 1336.7,633.9 1334.3,636.2 C1331.8,638.5 1328.8,640.4 1327.0,643.1 C1325.2,645.8 1325.2,649.6 1323.6,652.5 C1322.1,655.4 1319.8,658.0 1317.8,660.6 C1315.7,663.2 1313.7,665.9 1311.2,668.2 C1308.8,670.4 1305.3,671.5 1303.1,673.9 C1300.9,676.3 1298.8,681.1 1298.0,682.5" stroke-width="1.45" opacity="0.52"/><path d="M1334.3,415.4 C1333.5,416.9 1331.9,421.9 1329.8,424.3 C1327.7,426.8 1324.7,428.9 1321.7,430.1 C1318.7,431.4 1314.8,430.6 1311.9,432.0 C1309.0,433.4 1306.8,436.4 1304.2,438.4 C1301.5,440.3 1298.1,441.5 1295.7,443.7 C1293.3,446.0 1290.7,450.4 1289.8,451.8" stroke-width="1.22" opacity="0.69"/><path d="M1389.0,652.7 C1390.1,651.4 1393.1,647.3 1395.6,645.2 C1398.1,643.0 1401.2,641.6 1404.0,639.7 C1406.7,637.9 1409.2,635.5 1412.2,634.0 C1415.1,632.5 1420.0,631.3 1421.6,630.7" stroke-width="1.13" opacity="0.50"/><path d="M1336.1,478.3 C1334.5,478.1 1329.5,476.6 1326.2,476.8 C1323.0,477.0 1319.8,478.6 1316.6,479.5 C1313.4,480.5 1310.3,481.7 1307.1,482.6 C1303.9,483.5 1300.7,484.5 1297.4,485.0 C1294.1,485.4 1290.6,485.9 1287.4,485.5 C1284.2,485.0 1279.6,482.6 1278.0,482.0" stroke-width="1.57" opacity="0.47"/><path d="M1326.0,483.2 C1324.6,482.3 1320.5,479.0 1317.4,478.0 C1314.4,477.1 1309.1,477.5 1307.5,477.4" stroke-width="0.81" opacity="0.46"/><path d="M1126.8,468.9 C1126.9,470.6 1127.8,475.7 1127.2,478.9 C1126.7,482.1 1124.4,485.0 1123.6,488.2 C1122.7,491.4 1122.3,494.8 1122.0,498.1 C1121.8,501.4 1122.8,504.9 1122.1,508.1 C1121.3,511.3 1119.6,514.4 1117.7,517.1 C1115.8,519.7 1113.3,522.3 1110.5,524.0 C1107.7,525.7 1103.9,525.6 1101.0,527.2 C1098.2,528.8 1095.4,531.1 1093.5,533.7 C1091.5,536.4 1090.0,541.3 1089.3,542.8" stroke-width="1.07" opacity="0.61"/><path d="M1132.9,389.3 C1131.9,390.7 1129.5,395.4 1127.0,397.5 C1124.6,399.6 1120.7,400.0 1118.1,401.9 C1115.4,403.8 1113.7,407.0 1111.0,409.0 C1108.4,411.0 1105.2,412.3 1102.2,413.8 C1099.3,415.2 1094.6,417.1 1093.0,417.7" stroke-width="1.59" opacity="0.69"/><path d="M1394.9,402.0 C1394.6,400.4 1394.3,395.2 1393.0,392.2 C1391.7,389.2 1388.6,387.1 1386.9,384.3 C1385.2,381.4 1384.1,378.2 1383.0,375.1 C1381.9,371.9 1380.8,368.7 1380.3,365.4 C1379.9,362.2 1379.8,358.7 1380.2,355.4 C1380.6,352.2 1381.5,348.8 1382.7,345.7 C1383.8,342.6 1386.5,340.0 1387.3,336.9 C1388.1,333.7 1386.7,330.0 1387.5,326.9 C1388.3,323.7 1391.3,319.4 1392.0,317.9" stroke-width="1.08" opacity="0.73"/><path d="M1352.8,662.0 C1351.2,662.6 1346.5,664.6 1343.3,665.3 C1340.1,665.9 1336.6,665.4 1333.3,665.7 C1330.0,666.0 1326.7,667.0 1323.4,667.1 C1320.1,667.2 1316.5,667.4 1313.4,666.4 C1310.3,665.5 1306.2,662.3 1304.7,661.5" stroke-width="1.53" opacity="0.47"/><path d="M1368.1,490.1 C1368.0,491.8 1367.5,496.8 1367.4,500.1 C1367.3,503.4 1367.5,506.8 1367.8,510.1 C1368.0,513.4 1368.2,516.8 1369.0,520.0 C1369.8,523.2 1371.6,526.2 1372.7,529.3 C1373.7,532.5 1375.0,537.3 1375.5,538.9" stroke-width="1.01" opacity="0.40"/><path d="M1249.3,653.1 C1248.6,654.6 1246.6,659.2 1245.1,662.2 C1243.6,665.1 1241.2,667.7 1240.1,670.8 C1239.1,673.9 1239.9,677.7 1238.8,680.8 C1237.6,683.8 1234.0,687.6 1233.0,688.9" stroke-width="1.31" opacity="0.39"/><path d="M1218.5,562.4 C1218.7,560.7 1219.5,555.7 1219.5,552.4 C1219.4,549.1 1218.6,545.8 1218.4,542.5 C1218.2,539.1 1218.3,535.8 1218.2,532.5 C1218.2,529.1 1217.9,525.7 1218.3,522.5 C1218.7,519.2 1220.5,516.0 1220.5,512.7 C1220.5,509.4 1219.8,505.9 1218.4,502.9 C1217.1,500.0 1214.9,497.0 1212.4,494.9 C1209.9,492.9 1204.8,491.5 1203.3,490.8" stroke-width="0.94" opacity="0.66"/><path d="M1342.0,506.8 C1343.7,506.9 1348.7,507.9 1352.0,507.4 C1355.2,506.9 1358.2,504.5 1361.4,504.1 C1364.6,503.6 1368.1,504.6 1371.4,504.6 C1374.7,504.6 1378.3,504.9 1381.4,504.0 C1384.5,503.0 1386.9,500.1 1390.0,499.0 C1393.1,497.9 1396.7,498.3 1399.9,497.3 C1403.1,496.4 1405.9,494.3 1409.0,493.2 C1412.1,492.0 1417.0,490.9 1418.6,490.4" stroke-width="1.15" opacity="0.31"/><path d="M1366.0,452.3 C1367.6,452.2 1372.7,452.1 1375.9,451.4 C1379.2,450.8 1382.2,449.1 1385.5,448.4 C1388.7,447.7 1392.2,446.9 1395.4,447.2 C1398.7,447.5 1403.4,449.7 1404.9,450.2" stroke-width="1.48" opacity="0.61"/></g>
<g fill="none" stroke="#7a7a00" stroke-linecap="round" filter="url(#blur4)"><path d="M1102.2,428.6 C1103.8,430.3 1108.0,435.4 1111.7,438.8 C1115.4,442.2 1120.2,445.2 1124.4,449.0 C1128.6,452.8 1133.3,457.5 1137.1,461.7 C1140.9,465.9 1145.6,472.3 1147.3,474.4" stroke-width="9.0" opacity="0.14"/><path d="M1134.6,423.5 C1137.1,425.6 1145.1,431.9 1149.8,436.2 C1154.5,440.4 1158.9,447.1 1162.5,449.0 C1166.1,450.9 1169.9,447.9 1171.4,447.7" stroke-width="8.6" opacity="0.13"/><path d="M1171.4,447.7 C1173.1,446.2 1177.2,441.7 1181.6,438.8 C1185.9,435.9 1192.2,432.8 1197.5,430.5 C1202.8,428.2 1208.2,427.2 1213.4,424.8 C1218.6,422.4 1224.4,418.6 1228.6,415.9 C1232.8,413.1 1235.0,411.3 1238.8,408.3 C1242.6,405.3 1247.8,400.9 1251.5,398.1 C1255.2,395.4 1259.4,392.9 1261.0,391.8" stroke-width="10.0" opacity="0.18"/><path d="M1197.5,430.5 C1198.0,432.5 1198.0,437.8 1200.7,442.6 C1203.4,447.4 1209.4,455.4 1213.4,459.1 C1217.4,462.8 1220.6,465.2 1224.8,464.8 C1229.0,464.4 1233.6,458.5 1238.8,456.6 C1244.0,454.7 1250.1,457.2 1255.9,453.4 C1261.7,449.6 1268.4,436.6 1273.7,433.7 C1279.0,430.8 1285.4,435.8 1287.7,436.2" stroke-width="10.0" opacity="0.18"/><path d="M1224.8,464.8 C1222.9,465.3 1217.4,466.8 1213.4,468.0 C1209.4,469.2 1204.9,471.4 1200.7,471.8 C1196.5,472.2 1191.1,469.4 1188.0,470.5 C1184.9,471.6 1183.2,476.9 1182.2,478.2" stroke-width="9.2" opacity="0.15"/><path d="M1182.2,478.2 C1181.0,479.5 1177.2,483.3 1175.2,485.8 C1173.2,488.3 1171.9,490.4 1170.2,493.4 C1168.5,496.4 1166.4,501.7 1165.1,503.6 C1163.8,505.5 1164.7,504.9 1162.5,504.9 C1160.3,504.9 1154.2,504.5 1151.7,503.6 C1149.2,502.8 1148.0,500.4 1147.3,499.8" stroke-width="9.6" opacity="0.17"/><path d="M1224.8,464.8 C1224.2,467.4 1221.8,475.9 1221.0,480.7 C1220.2,485.5 1219.3,489.2 1219.7,493.4 C1220.1,497.6 1221.3,502.8 1223.5,506.1 C1225.7,509.4 1231.5,511.9 1233.1,513.1" stroke-width="8.8" opacity="0.14"/><path d="M1193.0,438.8 C1193.4,441.6 1196.4,450.0 1195.6,455.3 C1194.8,460.6 1189.3,468.0 1188.0,470.5" stroke-width="8.6" opacity="0.13"/><path d="M1175.2,441.3 C1174.2,442.6 1171.4,446.0 1168.9,449.0 C1166.4,452.0 1163.2,455.9 1160.0,459.1 C1156.8,462.3 1153.0,465.4 1149.8,468.0 C1146.6,470.6 1142.5,473.3 1141.0,474.4" stroke-width="8.6" opacity="0.13"/><path d="M1188.0,494.7 C1190.1,493.4 1197.1,490.5 1200.7,487.1 C1204.3,483.7 1207.4,477.6 1209.5,474.4 C1211.6,471.2 1212.8,469.1 1213.4,468.0" stroke-width="8.6" opacity="0.13"/><path d="M1188.0,494.7 C1190.1,496.2 1196.5,500.6 1200.7,503.6 C1204.9,506.6 1210.2,509.8 1213.4,512.5 C1216.6,515.2 1217.6,517.2 1219.7,520.1 C1221.8,523.0 1223.9,526.8 1226.0,530.0 C1228.1,533.2 1230.1,535.5 1232.4,539.1 C1234.7,542.7 1238.7,549.7 1240.0,551.8" stroke-width="8.6" opacity="0.13"/><path d="M1209.5,360.0 C1210.8,362.1 1214.5,368.5 1217.2,372.7 C1220.0,376.9 1223.9,381.2 1226.0,385.4 C1228.1,389.6 1229.5,393.0 1229.9,398.1 C1230.3,403.2 1228.8,412.9 1228.6,415.9" stroke-width="8.8" opacity="0.13"/><path d="M1238.8,442.6 C1240.9,442.0 1247.8,439.9 1251.5,438.8 C1255.2,437.7 1259.4,436.6 1261.0,436.2" stroke-width="8.4" opacity="0.12"/><path d="M1099.0,468.0 C1101.1,470.1 1108.1,475.8 1111.7,480.7 C1115.3,485.6 1119.1,494.4 1120.6,497.2" stroke-width="8.2" opacity="0.11"/><path d="M1233.1,513.1 C1236.2,512.6 1246.8,510.9 1251.5,510.0 C1256.2,509.1 1256.2,509.1 1261.0,507.4 C1265.8,505.7 1276.8,501.2 1280.0,500.0" stroke-width="8.4" opacity="0.12"/><path d="M1299.1,432.4 C1301.2,433.0 1307.6,435.1 1311.8,436.2 C1316.0,437.3 1321.3,439.9 1324.5,438.8 C1327.7,437.8 1327.1,435.0 1330.9,429.9 C1334.7,424.8 1342.1,415.7 1347.4,408.3 C1352.7,400.9 1359.1,391.8 1362.7,385.4 C1366.3,379.0 1367.5,374.4 1369.0,370.2 C1370.5,366.0 1371.1,361.7 1371.5,360.0" stroke-width="9.2" opacity="0.15"/><path d="M1347.4,408.3 C1350.0,408.7 1357.0,410.4 1362.7,410.8 C1368.4,411.2 1375.4,411.2 1381.7,410.8 C1388.0,410.4 1393.9,409.4 1400.8,408.3 C1407.7,407.2 1419.3,405.1 1423.0,404.5" stroke-width="8.8" opacity="0.13"/><path d="M1324.5,438.8 C1325.8,440.5 1329.7,445.4 1332.2,449.0 C1334.8,452.6 1336.8,456.6 1339.8,460.4 C1342.8,464.2 1346.2,468.9 1350.0,471.8 C1353.8,474.7 1359.5,475.4 1362.7,477.5 C1365.9,479.6 1368.0,483.3 1369.0,484.5" stroke-width="8.8" opacity="0.13"/><path d="M1322.0,365.1 C1322.2,368.5 1323.3,377.8 1323.3,385.4 C1323.3,393.0 1321.8,402.3 1322.0,410.8 C1322.2,419.3 1324.1,432.0 1324.5,436.2" stroke-width="8.6" opacity="0.12"/><path d="M1261.0,455.3 C1263.1,458.5 1269.5,469.1 1273.7,474.4 C1277.9,479.7 1284.3,485.0 1286.4,487.1" stroke-width="8.4" opacity="0.11"/><path d="M1362.7,451.5 C1365.9,452.1 1375.4,453.6 1381.7,455.3 C1388.0,457.0 1395.5,459.6 1400.8,461.7 C1406.1,463.8 1411.4,466.9 1413.5,468.0" stroke-width="8.6" opacity="0.12"/><path d="M1264.8,380.3 C1267.3,383.3 1275.4,393.0 1280.1,398.1 C1284.8,403.2 1288.6,407.6 1292.8,410.8 C1297.0,414.0 1300.6,414.6 1305.5,417.2 C1310.4,419.8 1319.2,424.6 1322.0,426.1" stroke-width="8.6" opacity="0.12"/><path d="M1285.8,379.7 C1288.0,380.6 1294.8,383.4 1299.1,385.4 C1303.4,387.4 1308.0,389.7 1311.8,391.8 C1315.6,393.9 1320.3,397.1 1322.0,398.1" stroke-width="8.4" opacity="0.11"/><path d="M1352.5,360.0 C1353.3,364.2 1356.3,376.9 1357.6,385.4 C1358.9,393.9 1360.1,404.4 1360.1,410.8 C1360.1,417.2 1358.0,421.4 1357.6,423.5" stroke-width="8.4" opacity="0.11"/><path d="M1388.0,372.7 C1389.1,375.9 1392.3,385.4 1394.4,391.8 C1396.5,398.2 1398.7,405.5 1400.8,410.8 C1402.9,416.1 1406.0,421.4 1407.1,423.5" stroke-width="8.4" opacity="0.11"/><path d="M1292.8,493.4 C1294.9,494.5 1301.3,497.7 1305.5,499.8 C1309.7,501.9 1314.1,505.2 1318.2,506.1 C1322.3,507.1 1328.2,505.6 1330.2,505.5" stroke-width="8.4" opacity="0.11"/><path d="M1099.0,567.0 C1101.5,567.4 1108.9,567.9 1114.2,569.6 C1119.5,571.3 1125.5,573.6 1130.8,577.2 C1136.1,580.8 1141.1,589.1 1146.0,591.2 C1150.9,593.3 1153.0,591.2 1160.0,589.9 C1167.0,588.6 1176.2,586.5 1188.0,583.5 C1199.8,580.5 1222.4,575.3 1231.1,572.1 C1239.8,568.9 1238.5,565.8 1240.0,564.5" stroke-width="9.0" opacity="0.15"/><path d="M1242.6,578.4 C1244.1,581.4 1248.4,590.7 1251.5,596.2 C1254.6,601.7 1259.4,609.0 1261.0,611.5" stroke-width="8.6" opacity="0.13"/><path d="M1146.0,591.8 C1146.4,594.2 1148.2,604.0 1148.6,606.4" stroke-width="9.2" opacity="0.12"/><path d="M1261.0,607.7 C1263.1,611.7 1270.5,625.2 1273.7,631.8 C1276.9,638.4 1278.0,640.8 1280.1,647.1 C1282.2,653.5 1284.5,665.1 1286.4,669.9 C1288.3,674.7 1290.7,674.7 1291.5,675.7" stroke-width="8.6" opacity="0.13"/><path d="M1320.1,640.1 C1322.9,638.7 1331.8,634.4 1337.2,631.8 C1342.6,629.1 1350.0,625.5 1352.5,624.2" stroke-width="8.4" opacity="0.12"/><path d="M1390.6,640.7 C1389.1,642.8 1385.3,649.2 1381.7,653.4 C1378.1,657.6 1372.2,661.3 1369.0,666.1 C1365.8,670.9 1363.8,679.4 1362.7,682.0" stroke-width="8.6" opacity="0.12"/><path d="M1390.6,640.7 C1393.3,637.5 1402.2,626.9 1407.1,621.6 C1412.0,616.3 1417.7,611.0 1419.8,608.9" stroke-width="8.4" opacity="0.11"/><path d="M1390.6,640.7 C1393.0,642.2 1400.1,647.3 1405.0,650.0 C1409.9,652.7 1417.5,655.8 1420.0,657.0" stroke-width="8.6" opacity="0.12"/><path d="M1322.0,547.3 C1320.3,549.1 1315.6,554.2 1311.8,558.1 C1308.0,562.0 1301.8,566.1 1299.1,570.8 C1296.3,575.5 1295.9,583.5 1295.3,586.1" stroke-width="8.8" opacity="0.13"/><path d="M1322.0,547.3 C1323.5,549.1 1327.9,553.8 1330.9,558.1 C1333.9,562.5 1337.5,569.8 1339.8,573.4 C1342.1,577.0 1344.1,578.7 1344.9,579.7" stroke-width="8.6" opacity="0.13"/><path d="M1322.0,547.3 C1324.5,546.6 1331.4,541.3 1337.0,543.0 C1342.6,544.7 1352.6,555.1 1355.7,557.5" stroke-width="8.4" opacity="0.12"/><path d="M1294.0,539.1 C1293.4,542.3 1290.8,551.8 1290.2,558.1 C1289.6,564.5 1290.2,574.0 1290.2,577.2" stroke-width="8.2" opacity="0.11"/><path d="M1350.0,596.2 C1350.4,598.3 1352.1,605.4 1352.5,609.0 C1352.9,612.6 1352.5,616.3 1352.5,617.8" stroke-width="8.4" opacity="0.11"/><path d="M1372.8,525.7 C1374.3,528.1 1378.6,536.1 1382.0,540.0 C1385.4,543.9 1391.2,547.7 1393.1,549.2" stroke-width="8.2" opacity="0.11"/><path d="M1099.0,510.0 C1100.8,511.7 1105.7,516.7 1110.0,520.0 C1114.3,523.3 1121.3,525.8 1125.0,530.0 C1128.7,534.2 1132.0,539.6 1132.0,545.0 C1132.0,550.4 1126.2,559.7 1125.0,562.6" stroke-width="8.0" opacity="0.10"/><path d="M1402.0,525.0 C1403.3,530.8 1408.3,547.5 1410.0,560.0 C1411.7,572.5 1411.7,593.3 1412.0,600.0" stroke-width="8.0" opacity="0.10"/></g>
<g fill="none" stroke="#6e6e00" stroke-linecap="round" filter="url(#blur1)"><path d="M1102.2,428.6 C1103.8,430.3 1108.0,435.4 1111.7,438.8 C1115.4,442.2 1120.2,445.2 1124.4,449.0 C1128.6,452.8 1133.3,457.5 1137.1,461.7 C1140.9,465.9 1145.6,472.3 1147.3,474.4" stroke-width="2.03" opacity="0.65"/><path d="M1134.6,423.5 C1137.1,425.6 1145.1,431.9 1149.8,436.2 C1154.5,440.4 1158.9,447.1 1162.5,449.0 C1166.1,450.9 1169.9,447.9 1171.4,447.7" stroke-width="1.76" opacity="0.6"/><path d="M1171.4,447.7 C1173.1,446.2 1177.2,441.7 1181.6,438.8 C1185.9,435.9 1192.2,432.8 1197.5,430.5 C1202.8,428.2 1208.2,427.2 1213.4,424.8 C1218.6,422.4 1224.4,418.6 1228.6,415.9 C1232.8,413.1 1235.0,411.3 1238.8,408.3 C1242.6,405.3 1247.8,400.9 1251.5,398.1 C1255.2,395.4 1259.4,392.9 1261.0,391.8" stroke-width="2.70" opacity="0.8"/><path d="M1197.5,430.5 C1198.0,432.5 1198.0,437.8 1200.7,442.6 C1203.4,447.4 1209.4,455.4 1213.4,459.1 C1217.4,462.8 1220.6,465.2 1224.8,464.8 C1229.0,464.4 1233.6,458.5 1238.8,456.6 C1244.0,454.7 1250.1,457.2 1255.9,453.4 C1261.7,449.6 1268.4,436.6 1273.7,433.7 C1279.0,430.8 1285.4,435.8 1287.7,436.2" stroke-width="2.70" opacity="0.8"/><path d="M1224.8,464.8 C1222.9,465.3 1217.4,466.8 1213.4,468.0 C1209.4,469.2 1204.9,471.4 1200.7,471.8 C1196.5,472.2 1191.1,469.4 1188.0,470.5 C1184.9,471.6 1183.2,476.9 1182.2,478.2" stroke-width="2.16" opacity="0.7"/><path d="M1182.2,478.2 C1181.0,479.5 1177.2,483.3 1175.2,485.8 C1173.2,488.3 1171.9,490.4 1170.2,493.4 C1168.5,496.4 1166.4,501.7 1165.1,503.6 C1163.8,505.5 1164.7,504.9 1162.5,504.9 C1160.3,504.9 1154.2,504.5 1151.7,503.6 C1149.2,502.8 1148.0,500.4 1147.3,499.8" stroke-width="2.43" opacity="0.75"/><path d="M1224.8,464.8 C1224.2,467.4 1221.8,475.9 1221.0,480.7 C1220.2,485.5 1219.3,489.2 1219.7,493.4 C1220.1,497.6 1221.3,502.8 1223.5,506.1 C1225.7,509.4 1231.5,511.9 1233.1,513.1" stroke-width="1.89" opacity="0.65"/><path d="M1193.0,438.8 C1193.4,441.6 1196.4,450.0 1195.6,455.3 C1194.8,460.6 1189.3,468.0 1188.0,470.5" stroke-width="1.76" opacity="0.6"/><path d="M1175.2,441.3 C1174.2,442.6 1171.4,446.0 1168.9,449.0 C1166.4,452.0 1163.2,455.9 1160.0,459.1 C1156.8,462.3 1153.0,465.4 1149.8,468.0 C1146.6,470.6 1142.5,473.3 1141.0,474.4" stroke-width="1.76" opacity="0.6"/><path d="M1188.0,494.7 C1190.1,493.4 1197.1,490.5 1200.7,487.1 C1204.3,483.7 1207.4,477.6 1209.5,474.4 C1211.6,471.2 1212.8,469.1 1213.4,468.0" stroke-width="1.76" opacity="0.6"/><path d="M1188.0,494.7 C1190.1,496.2 1196.5,500.6 1200.7,503.6 C1204.9,506.6 1210.2,509.8 1213.4,512.5 C1216.6,515.2 1217.6,517.2 1219.7,520.1 C1221.8,523.0 1223.9,526.8 1226.0,530.0 C1228.1,533.2 1230.1,535.5 1232.4,539.1 C1234.7,542.7 1238.7,549.7 1240.0,551.8" stroke-width="1.76" opacity="0.6"/><path d="M1209.5,360.0 C1210.8,362.1 1214.5,368.5 1217.2,372.7 C1220.0,376.9 1223.9,381.2 1226.0,385.4 C1228.1,389.6 1229.5,393.0 1229.9,398.1 C1230.3,403.2 1228.8,412.9 1228.6,415.9" stroke-width="1.89" opacity="0.6"/><path d="M1238.8,442.6 C1240.9,442.0 1247.8,439.9 1251.5,438.8 C1255.2,437.7 1259.4,436.6 1261.0,436.2" stroke-width="1.62" opacity="0.55"/><path d="M1099.0,468.0 C1101.1,470.1 1108.1,475.8 1111.7,480.7 C1115.3,485.6 1119.1,494.4 1120.6,497.2" stroke-width="1.49" opacity="0.5"/><path d="M1233.1,513.1 C1236.2,512.6 1246.8,510.9 1251.5,510.0 C1256.2,509.1 1256.2,509.1 1261.0,507.4 C1265.8,505.7 1276.8,501.2 1280.0,500.0" stroke-width="1.62" opacity="0.55"/><path d="M1299.1,432.4 C1301.2,433.0 1307.6,435.1 1311.8,436.2 C1316.0,437.3 1321.3,439.9 1324.5,438.8 C1327.7,437.8 1327.1,435.0 1330.9,429.9 C1334.7,424.8 1342.1,415.7 1347.4,408.3 C1352.7,400.9 1359.1,391.8 1362.7,385.4 C1366.3,379.0 1367.5,374.4 1369.0,370.2 C1370.5,366.0 1371.1,361.7 1371.5,360.0" stroke-width="2.16" opacity="0.7"/><path d="M1347.4,408.3 C1350.0,408.7 1357.0,410.4 1362.7,410.8 C1368.4,411.2 1375.4,411.2 1381.7,410.8 C1388.0,410.4 1393.9,409.4 1400.8,408.3 C1407.7,407.2 1419.3,405.1 1423.0,404.5" stroke-width="1.89" opacity="0.6"/><path d="M1324.5,438.8 C1325.8,440.5 1329.7,445.4 1332.2,449.0 C1334.8,452.6 1336.8,456.6 1339.8,460.4 C1342.8,464.2 1346.2,468.9 1350.0,471.8 C1353.8,474.7 1359.5,475.4 1362.7,477.5 C1365.9,479.6 1368.0,483.3 1369.0,484.5" stroke-width="1.89" opacity="0.6"/><path d="M1322.0,365.1 C1322.2,368.5 1323.3,377.8 1323.3,385.4 C1323.3,393.0 1321.8,402.3 1322.0,410.8 C1322.2,419.3 1324.1,432.0 1324.5,436.2" stroke-width="1.76" opacity="0.55"/><path d="M1261.0,455.3 C1263.1,458.5 1269.5,469.1 1273.7,474.4 C1277.9,479.7 1284.3,485.0 1286.4,487.1" stroke-width="1.62" opacity="0.5"/><path d="M1362.7,451.5 C1365.9,452.1 1375.4,453.6 1381.7,455.3 C1388.0,457.0 1395.5,459.6 1400.8,461.7 C1406.1,463.8 1411.4,466.9 1413.5,468.0" stroke-width="1.76" opacity="0.55"/><path d="M1264.8,380.3 C1267.3,383.3 1275.4,393.0 1280.1,398.1 C1284.8,403.2 1288.6,407.6 1292.8,410.8 C1297.0,414.0 1300.6,414.6 1305.5,417.2 C1310.4,419.8 1319.2,424.6 1322.0,426.1" stroke-width="1.76" opacity="0.55"/><path d="M1285.8,379.7 C1288.0,380.6 1294.8,383.4 1299.1,385.4 C1303.4,387.4 1308.0,389.7 1311.8,391.8 C1315.6,393.9 1320.3,397.1 1322.0,398.1" stroke-width="1.62" opacity="0.5"/><path d="M1352.5,360.0 C1353.3,364.2 1356.3,376.9 1357.6,385.4 C1358.9,393.9 1360.1,404.4 1360.1,410.8 C1360.1,417.2 1358.0,421.4 1357.6,423.5" stroke-width="1.62" opacity="0.5"/><path d="M1388.0,372.7 C1389.1,375.9 1392.3,385.4 1394.4,391.8 C1396.5,398.2 1398.7,405.5 1400.8,410.8 C1402.9,416.1 1406.0,421.4 1407.1,423.5" stroke-width="1.62" opacity="0.5"/><path d="M1292.8,493.4 C1294.9,494.5 1301.3,497.7 1305.5,499.8 C1309.7,501.9 1314.1,505.2 1318.2,506.1 C1322.3,507.1 1328.2,505.6 1330.2,505.5" stroke-width="1.62" opacity="0.5"/><path d="M1099.0,567.0 C1101.5,567.4 1108.9,567.9 1114.2,569.6 C1119.5,571.3 1125.5,573.6 1130.8,577.2 C1136.1,580.8 1141.1,589.1 1146.0,591.2 C1150.9,593.3 1153.0,591.2 1160.0,589.9 C1167.0,588.6 1176.2,586.5 1188.0,583.5 C1199.8,580.5 1222.4,575.3 1231.1,572.1 C1239.8,568.9 1238.5,565.8 1240.0,564.5" stroke-width="2.03" opacity="0.7"/><path d="M1242.6,578.4 C1244.1,581.4 1248.4,590.7 1251.5,596.2 C1254.6,601.7 1259.4,609.0 1261.0,611.5" stroke-width="1.76" opacity="0.6"/><path d="M1146.0,591.8 C1146.4,594.2 1148.2,604.0 1148.6,606.4" stroke-width="2.16" opacity="0.55"/><path d="M1261.0,607.7 C1263.1,611.7 1270.5,625.2 1273.7,631.8 C1276.9,638.4 1278.0,640.8 1280.1,647.1 C1282.2,653.5 1284.5,665.1 1286.4,669.9 C1288.3,674.7 1290.7,674.7 1291.5,675.7" stroke-width="1.76" opacity="0.6"/><path d="M1320.1,640.1 C1322.9,638.7 1331.8,634.4 1337.2,631.8 C1342.6,629.1 1350.0,625.5 1352.5,624.2" stroke-width="1.62" opacity="0.55"/><path d="M1390.6,640.7 C1389.1,642.8 1385.3,649.2 1381.7,653.4 C1378.1,657.6 1372.2,661.3 1369.0,666.1 C1365.8,670.9 1363.8,679.4 1362.7,682.0" stroke-width="1.76" opacity="0.55"/><path d="M1390.6,640.7 C1393.3,637.5 1402.2,626.9 1407.1,621.6 C1412.0,616.3 1417.7,611.0 1419.8,608.9" stroke-width="1.62" opacity="0.5"/><path d="M1390.6,640.7 C1393.0,642.2 1400.1,647.3 1405.0,650.0 C1409.9,652.7 1417.5,655.8 1420.0,657.0" stroke-width="1.76" opacity="0.55"/><path d="M1322.0,547.3 C1320.3,549.1 1315.6,554.2 1311.8,558.1 C1308.0,562.0 1301.8,566.1 1299.1,570.8 C1296.3,575.5 1295.9,583.5 1295.3,586.1" stroke-width="1.89" opacity="0.6"/><path d="M1322.0,547.3 C1323.5,549.1 1327.9,553.8 1330.9,558.1 C1333.9,562.5 1337.5,569.8 1339.8,573.4 C1342.1,577.0 1344.1,578.7 1344.9,579.7" stroke-width="1.76" opacity="0.6"/><path d="M1322.0,547.3 C1324.5,546.6 1331.4,541.3 1337.0,543.0 C1342.6,544.7 1352.6,555.1 1355.7,557.5" stroke-width="1.62" opacity="0.55"/><path d="M1294.0,539.1 C1293.4,542.3 1290.8,551.8 1290.2,558.1 C1289.6,564.5 1290.2,574.0 1290.2,577.2" stroke-width="1.49" opacity="0.5"/><path d="M1350.0,596.2 C1350.4,598.3 1352.1,605.4 1352.5,609.0 C1352.9,612.6 1352.5,616.3 1352.5,617.8" stroke-width="1.62" opacity="0.5"/><path d="M1372.8,525.7 C1374.3,528.1 1378.6,536.1 1382.0,540.0 C1385.4,543.9 1391.2,547.7 1393.1,549.2" stroke-width="1.49" opacity="0.5"/><path d="M1099.0,510.0 C1100.8,511.7 1105.7,516.7 1110.0,520.0 C1114.3,523.3 1121.3,525.8 1125.0,530.0 C1128.7,534.2 1132.0,539.6 1132.0,545.0 C1132.0,550.4 1126.2,559.7 1125.0,562.6" stroke-width="1.35" opacity="0.45"/><path d="M1402.0,525.0 C1403.3,530.8 1408.3,547.5 1410.0,560.0 C1411.7,572.5 1411.7,593.3 1412.0,600.0" stroke-width="1.35" opacity="0.45"/></g>
<g filter="url(#blur05)"><circle cx="1192.7" cy="581.6" r="1.5" fill="#b4b404"/></g>
<g filter="url(#blur3)"><ellipse cx="1224.8" cy="464.8" rx="6.6" ry="5.5" fill="#7c7c00" opacity="0.7"/><ellipse cx="1141.6" cy="402.6" rx="3.4" ry="3.0" fill="#7e7e00" opacity="0.8"/><ellipse cx="1141.6" cy="402.6" rx="1.8" ry="1.5" fill="#969600" opacity="0.8"/><ellipse cx="1229.2" cy="415.9" rx="3.4" ry="3.0" fill="#7e7e00" opacity="0.8"/><ellipse cx="1229.2" cy="415.9" rx="1.8" ry="1.5" fill="#969600" opacity="0.8"/><ellipse cx="1287.7" cy="436.2" rx="7.8" ry="6.5" fill="#7c7c00" opacity="0.7"/><ellipse cx="1374.7" cy="510.6" rx="4.6" ry="4.0" fill="#7e7e00" opacity="0.8"/><ellipse cx="1374.7" cy="510.6" rx="2.4" ry="2.0" fill="#969600" opacity="0.8"/><ellipse cx="1101.5" cy="564.5" rx="6.0" ry="5.0" fill="#7c7c00" opacity="0.7"/><ellipse cx="1104.0" cy="546.7" rx="4.6" ry="4.0" fill="#7e7e00" opacity="0.8"/><ellipse cx="1104.0" cy="546.7" rx="2.4" ry="2.0" fill="#969600" opacity="0.8"/><ellipse cx="1240.0" cy="564.5" rx="9.6" ry="8.0" fill="#7c7c00" opacity="0.7"/><ellipse cx="1168.2" cy="649.0" rx="2.3" ry="2.0" fill="#7e7e00" opacity="0.8"/><ellipse cx="1168.2" cy="649.0" rx="1.2" ry="1.0" fill="#969600" opacity="0.8"/><ellipse cx="1322.0" cy="547.3" rx="4.6" ry="4.0" fill="#7e7e00" opacity="0.8"/><ellipse cx="1322.0" cy="547.3" rx="2.4" ry="2.0" fill="#969600" opacity="0.8"/><ellipse cx="1393.1" cy="549.2" rx="3.4" ry="3.0" fill="#7e7e00" opacity="0.8"/><ellipse cx="1393.1" cy="549.2" rx="1.8" ry="1.5" fill="#969600" opacity="0.8"/><ellipse cx="1372.8" cy="525.7" rx="3.4" ry="3.0" fill="#7e7e00" opacity="0.8"/><ellipse cx="1372.8" cy="525.7" rx="1.8" ry="1.5" fill="#969600" opacity="0.8"/><ellipse cx="1369.0" cy="584.2" rx="3.4" ry="3.0" fill="#7e7e00" opacity="0.8"/><ellipse cx="1369.0" cy="584.2" rx="1.8" ry="1.5" fill="#969600" opacity="0.8"/><ellipse cx="1390.6" cy="640.7" rx="9.2" ry="8.0" fill="#7e7e00" opacity="0.8"/><ellipse cx="1390.6" cy="640.7" rx="4.8" ry="4.0" fill="#969600" opacity="0.8"/></g>
<g filter="url(#blur08)"><circle cx="1197.5" cy="430.5" r="2.4" fill="#e4e410"/><circle cx="1193.7" cy="438.8" r="1.8" fill="#e4e410"/><circle cx="1174.6" cy="441.3" r="2.1" fill="#e4e410"/><circle cx="1171.4" cy="447.7" r="1.8" fill="#e4e410"/><ellipse cx="1224.8" cy="464.8" rx="4.1" ry="3.6" fill="#b4b400" opacity="0.85"/><circle cx="1224.8" cy="464.8" r="2.7" fill="#e4e410"/><circle cx="1215.9" cy="462.9" r="1.8" fill="#e4e410"/><circle cx="1182.2" cy="478.2" r="2.4" fill="#e4e410"/><circle cx="1233.1" cy="513.1" r="2.7" fill="#e4e410"/><circle cx="1221.6" cy="519.5" r="1.8" fill="#e4e410"/><circle cx="1255.9" cy="453.4" r="2.4" fill="#e4e410"/><circle cx="1258.5" cy="438.1" r="2.1" fill="#e4e410"/><circle cx="1102.2" cy="428.6" r="2.1" fill="#e4e410"/><circle cx="1134.6" cy="449.0" r="1.8" fill="#e4e410"/><circle cx="1163.2" cy="459.7" r="1.5" fill="#e4e410"/><circle cx="1125.0" cy="472.5" r="1.2" fill="#e4e410"/><circle cx="1205.1" cy="385.4" r="1.5" fill="#e4e410"/><circle cx="1215.3" cy="399.4" r="1.8" fill="#e4e410"/><circle cx="1254.0" cy="374.6" r="1.5" fill="#e4e410"/><circle cx="1251.5" cy="403.8" r="1.5" fill="#e4e410"/><circle cx="1204.5" cy="419.1" r="1.5" fill="#e4e410"/><circle cx="1177.1" cy="424.2" r="1.5" fill="#e4e410"/><circle cx="1188.0" cy="494.7" r="1.2" fill="#e4e410"/><circle cx="1151.7" cy="503.6" r="1.8" fill="#e4e410"/><circle cx="1162.5" cy="504.9" r="1.8" fill="#e4e410"/><circle cx="1107.9" cy="443.2" r="1.5" fill="#e4e410"/><ellipse cx="1287.7" cy="436.2" rx="4.9" ry="4.2" fill="#b4b400" opacity="0.85"/><circle cx="1287.7" cy="436.2" r="2.7" fill="#e4e410"/><circle cx="1296.1" cy="432.4" r="2.7" fill="#e4e410"/><circle cx="1286.4" cy="445.8" r="1.5" fill="#e4e410"/><circle cx="1322.0" cy="365.1" r="2.1" fill="#e4e410"/><circle cx="1369.0" cy="361.3" r="1.8" fill="#e4e410"/><circle cx="1383.6" cy="368.9" r="1.8" fill="#e4e410"/><circle cx="1264.8" cy="380.3" r="2.1" fill="#e4e410"/><circle cx="1285.8" cy="379.7" r="1.8" fill="#e4e410"/><circle cx="1347.4" cy="408.3" r="1.8" fill="#e4e410"/><circle cx="1383.6" cy="408.9" r="1.5" fill="#e4e410"/><circle cx="1386.8" cy="422.9" r="1.8" fill="#e4e410"/><circle cx="1330.9" cy="429.9" r="1.8" fill="#e4e410"/><circle cx="1332.8" cy="443.2" r="1.2" fill="#e4e410"/><circle cx="1329.6" cy="460.4" r="2.1" fill="#e4e410"/><circle cx="1339.1" cy="454.0" r="1.8" fill="#e4e410"/><circle cx="1341.7" cy="461.0" r="1.8" fill="#e4e410"/><circle cx="1362.7" cy="477.5" r="1.5" fill="#e4e410"/><circle cx="1414.1" cy="393.0" r="1.5" fill="#e4e410"/><circle cx="1409.7" cy="488.3" r="1.5" fill="#e4e410"/><circle cx="1263.5" cy="407.0" r="1.5" fill="#e4e410"/><circle cx="1280.1" cy="426.7" r="1.5" fill="#e4e410"/><circle cx="1262.3" cy="440.0" r="1.5" fill="#e4e410"/><circle cx="1350.0" cy="496.0" r="1.5" fill="#e4e410"/><circle cx="1330.2" cy="505.5" r="1.5" fill="#e4e410"/><circle cx="1305.5" cy="433.1" r="1.2" fill="#e4e410"/><circle cx="1306.7" cy="462.9" r="1.2" fill="#e4e410"/><circle cx="1358.8" cy="443.9" r="1.2" fill="#e4e410"/><ellipse cx="1101.5" cy="564.5" rx="3.8" ry="3.2" fill="#b4b400" opacity="0.85"/><circle cx="1101.5" cy="564.5" r="2.7" fill="#e4e410"/><circle cx="1125.0" cy="562.6" r="2.1" fill="#e4e410"/><circle cx="1131.4" cy="577.2" r="1.8" fill="#e4e410"/><circle cx="1146.0" cy="591.8" r="2.4" fill="#e4e410"/><ellipse cx="1240.0" cy="564.5" rx="6.0" ry="5.2" fill="#b4b400" opacity="0.85"/><circle cx="1240.0" cy="564.5" r="2.7" fill="#e4e410"/><circle cx="1236.2" cy="568.3" r="2.4" fill="#e4e410"/><circle cx="1247.7" cy="562.6" r="2.4" fill="#e4e410"/><circle cx="1189.9" cy="655.3" r="1.5" fill="#e4e410"/><circle cx="1259.1" cy="628.6" r="1.8" fill="#e4e410"/><circle cx="1267.4" cy="544.8" r="2.1" fill="#e4e410"/><circle cx="1355.7" cy="557.5" r="2.1" fill="#e4e410"/><circle cx="1344.9" cy="579.7" r="2.1" fill="#e4e410"/><circle cx="1391.2" cy="567.6" r="1.8" fill="#e4e410"/><circle cx="1352.5" cy="614.0" r="2.1" fill="#e4e410"/><circle cx="1352.5" cy="620.0" r="1.8" fill="#e4e410"/><circle cx="1311.8" cy="636.9" r="1.8" fill="#e4e410"/><circle cx="1320.1" cy="640.1" r="1.5" fill="#e4e410"/><circle cx="1395.0" cy="642.0" r="2.4" fill="#e4e410"/><circle cx="1400.1" cy="642.0" r="1.8" fill="#e4e410"/><circle cx="1286.0" cy="675.7" r="2.7" fill="#e4e410"/><circle cx="1296.0" cy="675.0" r="2.7" fill="#e4e410"/></g>
</g>
<clipPath id="clipBR"><rect x="1427.5" y="360.5" width="319.5" height="321.5"/></clipPath>
<g clip-path="url(#clipBR)">
<rect x="1427.5" y="360.5" width="319.5" height="321.5" fill="#080800"/>
<g fill="none" stroke="#464600" filter="url(#blur1)"><path d="M1558.0,534.7 C1558.7,533.2 1561.6,528.8 1562.2,525.7 C1562.8,522.5 1562.5,518.8 1561.8,515.7 C1561.0,512.5 1559.7,509.1 1557.6,506.5 C1555.6,504.0 1551.0,501.5 1549.7,500.5" stroke-width="1.21" opacity="0.37"/><path d="M1743.6,583.5 C1742.2,584.4 1737.9,586.8 1735.2,588.9 C1732.6,590.9 1729.8,593.0 1727.9,595.7 C1726.0,598.3 1724.7,603.4 1724.0,604.9" stroke-width="0.89" opacity="0.58"/><path d="M1449.9,390.9 C1451.5,390.7 1456.6,389.3 1459.8,389.6 C1463.0,389.9 1466.0,392.6 1469.2,392.9 C1472.5,393.2 1477.5,391.8 1479.2,391.6" stroke-width="1.18" opacity="0.47"/><path d="M1720.4,421.1 C1721.1,422.7 1723.7,428.8 1724.3,430.3" stroke-width="1.15" opacity="0.67"/><path d="M1439.6,589.9 C1439.2,588.3 1437.4,583.5 1437.1,580.2 C1436.8,577.0 1437.4,573.6 1437.9,570.3 C1438.3,567.0 1439.1,563.7 1439.9,560.5 C1440.8,557.3 1441.8,554.1 1442.9,550.9 C1443.9,547.8 1445.5,544.7 1446.2,541.5 C1446.9,538.3 1446.7,534.8 1446.9,531.5 C1447.1,528.2 1446.6,524.8 1447.2,521.5 C1447.8,518.3 1449.8,513.6 1450.4,512.0" stroke-width="1.08" opacity="0.61"/><path d="M1441.4,411.1 C1441.3,412.7 1440.7,419.4 1440.6,421.0" stroke-width="1.60" opacity="0.54"/><path d="M1541.5,424.5 C1542.3,425.9 1545.0,430.2 1546.5,433.1 C1548.1,436.1 1548.7,439.6 1550.7,442.2 C1552.6,444.8 1555.7,446.6 1558.3,448.7 C1560.9,450.8 1563.3,453.4 1566.3,454.7 C1569.3,456.0 1574.5,456.2 1576.1,456.5" stroke-width="0.90" opacity="0.58"/><path d="M1484.8,567.0 C1485.4,565.5 1486.8,560.6 1488.1,557.6 C1489.4,554.5 1491.5,551.8 1492.7,548.7 C1493.8,545.6 1495.1,542.2 1495.1,539.0 C1495.1,535.8 1493.9,532.4 1492.7,529.3 C1491.5,526.2 1489.4,523.5 1488.2,520.4 C1487.0,517.3 1486.1,514.0 1485.4,510.8 C1484.7,507.5 1484.1,502.6 1483.8,500.9" stroke-width="1.47" opacity="0.39"/><path d="M1692.9,450.3 C1694.2,449.3 1698.1,446.1 1700.7,444.0 C1703.3,441.9 1705.6,439.4 1708.5,437.8 C1711.4,436.3 1716.5,435.3 1718.1,434.8" stroke-width="1.19" opacity="0.55"/><path d="M1518.3,456.9 C1516.6,457.2 1511.4,457.4 1508.4,458.6 C1505.4,459.8 1502.6,462.0 1500.1,464.2 C1497.6,466.3 1496.1,469.7 1493.5,471.6 C1490.8,473.5 1487.4,474.4 1484.2,475.5 C1481.1,476.5 1477.5,476.4 1474.5,477.9 C1471.6,479.3 1469.2,481.9 1466.7,484.0 C1464.1,486.2 1460.4,489.6 1459.2,490.7" stroke-width="1.53" opacity="0.59"/><path d="M1454.4,650.6 C1454.7,648.9 1455.0,643.8 1456.0,640.7 C1457.1,637.6 1459.6,635.0 1460.7,631.9 C1461.9,628.8 1462.0,625.3 1463.0,622.2 C1464.1,619.0 1465.7,616.1 1467.2,613.1 C1468.7,610.1 1471.2,605.7 1472.0,604.3" stroke-width="1.02" opacity="0.33"/><path d="M1559.3,405.4 C1560.6,404.4 1564.6,401.4 1567.4,399.5 C1570.2,397.7 1573.2,396.2 1576.1,394.5 C1579.0,392.9 1582.1,391.6 1584.9,389.8 C1587.6,387.9 1590.3,385.8 1592.7,383.5 C1595.0,381.2 1598.1,377.2 1599.2,376.0" stroke-width="1.53" opacity="0.52"/><path d="M1452.7,653.7 C1454.4,653.6 1459.4,653.3 1462.7,652.9 C1466.0,652.4 1469.2,650.7 1472.5,650.8 C1475.7,650.9 1479.1,652.1 1482.2,653.4 C1485.2,654.6 1488.2,656.3 1490.9,658.2 C1493.7,660.0 1496.0,662.5 1498.7,664.5 C1501.3,666.6 1503.8,668.9 1506.7,670.4 C1509.6,672.0 1513.1,672.5 1516.1,673.9 C1519.1,675.4 1523.2,678.3 1524.6,679.2" stroke-width="0.80" opacity="0.63"/><path d="M1526.9,532.7 C1527.8,534.1 1529.9,539.0 1532.2,541.2 C1534.5,543.5 1537.7,545.2 1540.8,546.3 C1543.9,547.4 1547.4,547.6 1550.7,547.9 C1554.0,548.2 1559.0,548.3 1560.7,548.4" stroke-width="1.31" opacity="0.53"/><path d="M1721.5,563.6 C1720.5,562.3 1717.5,558.3 1715.6,555.5 C1713.8,552.8 1712.5,549.6 1710.6,546.9 C1708.6,544.2 1706.0,542.0 1704.0,539.4 C1702.1,536.7 1700.0,533.9 1698.7,530.9 C1697.4,527.8 1697.8,524.0 1696.3,521.2 C1694.8,518.3 1691.5,516.5 1689.7,513.7 C1687.9,510.9 1687.4,507.3 1685.5,504.6 C1683.6,501.9 1679.5,498.9 1678.3,497.7" stroke-width="0.86" opacity="0.31"/><path d="M1607.2,636.3 C1608.6,635.4 1612.7,632.1 1615.8,631.1 C1618.9,630.1 1622.5,629.8 1625.7,630.2 C1629.0,630.5 1632.3,631.6 1635.3,633.0 C1638.3,634.4 1642.1,637.8 1643.5,638.8" stroke-width="1.02" opacity="0.41"/><path d="M1475.1,445.2 C1473.6,445.9 1468.8,447.6 1466.1,449.4 C1463.4,451.3 1460.8,453.7 1458.9,456.4 C1456.9,459.0 1455.7,462.2 1454.2,465.2 C1452.8,468.2 1452.0,471.7 1450.0,474.3 C1448.1,477.0 1445.1,478.8 1442.7,481.1 C1440.3,483.4 1438.2,486.2 1435.6,488.1 C1432.9,490.1 1429.8,491.5 1426.7,492.8 C1423.7,494.1 1420.4,495.4 1417.2,495.7 C1413.9,496.1 1408.9,495.0 1407.2,494.9" stroke-width="1.10" opacity="0.52"/><path d="M1573.7,618.4 C1572.9,619.8 1570.4,624.1 1568.8,627.1 C1567.1,630.0 1565.8,633.0 1564.0,635.8 C1562.2,638.6 1559.5,640.9 1558.0,643.9 C1556.5,646.8 1555.5,651.8 1555.0,653.4" stroke-width="0.98" opacity="0.32"/><path d="M1564.7,371.1 C1564.6,372.8 1563.3,377.9 1563.9,381.1 C1564.4,384.3 1567.0,387.1 1567.9,390.2 C1568.8,393.4 1568.3,396.9 1569.0,400.2 C1569.7,403.4 1570.6,406.8 1572.1,409.7 C1573.6,412.6 1576.2,414.9 1578.0,417.7 C1579.8,420.5 1581.4,423.5 1582.8,426.5 C1584.1,429.6 1584.7,432.9 1586.1,436.0 C1587.4,439.0 1589.6,441.6 1591.0,444.7 C1592.3,447.7 1593.5,451.0 1593.9,454.2 C1594.3,457.5 1593.3,462.6 1593.1,464.2" stroke-width="1.20" opacity="0.45"/><path d="M1429.2,550.6 C1428.4,552.1 1425.7,556.3 1424.2,559.3 C1422.8,562.3 1422.1,565.6 1420.7,568.6 C1419.2,571.6 1417.8,574.9 1415.6,577.3 C1413.4,579.6 1409.7,580.6 1407.3,582.9 C1405.0,585.2 1403.7,588.6 1401.3,590.9 C1399.0,593.2 1395.9,594.8 1393.3,596.8 C1390.6,598.8 1388.3,601.5 1385.3,602.8 C1382.4,604.2 1377.2,604.6 1375.5,604.9" stroke-width="1.11" opacity="0.33"/><path d="M1479.3,443.8 C1480.4,442.5 1483.4,438.2 1486.0,436.4 C1488.7,434.5 1492.7,434.6 1495.4,432.8 C1498.0,430.9 1500.6,428.3 1502.2,425.5 C1503.8,422.6 1503.6,418.9 1504.9,415.8 C1506.2,412.8 1509.2,408.7 1510.0,407.3" stroke-width="1.20" opacity="0.67"/><path d="M1597.9,370.2 C1599.5,370.6 1604.4,371.9 1607.5,373.1 C1610.6,374.2 1613.4,376.5 1616.5,377.3 C1619.7,378.0 1624.9,377.6 1626.5,377.7" stroke-width="1.42" opacity="0.66"/><path d="M1629.1,546.3 C1627.7,547.1 1623.6,550.3 1620.5,551.3 C1617.4,552.3 1613.8,552.1 1610.5,552.3 C1607.2,552.5 1603.8,552.6 1600.5,552.4 C1597.2,552.1 1593.7,551.9 1590.6,550.7 C1587.6,549.5 1584.5,547.6 1582.3,545.2 C1580.2,542.8 1579.1,539.3 1577.6,536.4 C1576.0,533.4 1575.1,530.0 1573.1,527.4 C1571.1,524.8 1566.8,521.9 1565.6,520.8" stroke-width="1.53" opacity="0.54"/><path d="M1493.9,442.6 C1493.1,444.1 1490.9,448.6 1489.3,451.5 C1487.8,454.5 1485.5,457.2 1484.5,460.3 C1483.5,463.4 1483.9,466.9 1483.6,470.2 C1483.3,473.6 1482.7,478.5 1482.6,480.2" stroke-width="0.82" opacity="0.61"/><path d="M1490.2,365.0 C1489.0,363.9 1485.5,360.1 1482.9,358.2 C1480.2,356.3 1477.2,354.6 1474.0,353.5 C1470.9,352.4 1467.5,352.3 1464.2,351.6 C1461.0,350.9 1457.8,349.8 1454.5,349.1 C1451.3,348.4 1448.0,347.8 1444.7,347.3 C1441.4,346.8 1436.4,346.4 1434.8,346.3" stroke-width="0.83" opacity="0.45"/><path d="M1531.8,564.3 C1530.1,564.5 1524.9,564.3 1521.8,565.4 C1518.8,566.4 1516.4,569.3 1513.4,570.7 C1510.4,572.1 1507.1,573.0 1503.8,573.7 C1500.6,574.3 1497.2,574.5 1493.9,574.5 C1490.5,574.6 1487.0,574.8 1483.9,573.8 C1480.8,572.8 1478.3,570.1 1475.3,568.7 C1472.3,567.3 1467.4,565.9 1465.8,565.4" stroke-width="1.03" opacity="0.63"/><path d="M1618.9,652.0 C1617.3,651.7 1612.4,650.6 1609.1,650.0 C1605.8,649.3 1602.6,648.2 1599.3,648.0 C1596.0,647.8 1592.5,649.2 1589.3,648.6 C1586.1,648.1 1583.0,646.4 1580.1,644.8 C1577.1,643.3 1574.6,641.0 1571.6,639.5 C1568.7,637.9 1563.9,636.3 1562.4,635.7" stroke-width="0.87" opacity="0.31"/><path d="M1740.3,540.2 C1741.2,538.7 1743.4,534.2 1745.3,531.5 C1747.2,528.8 1749.3,526.0 1751.9,524.0 C1754.5,522.0 1757.9,521.0 1760.8,519.5 C1763.8,517.9 1768.2,515.6 1769.7,514.8" stroke-width="1.25" opacity="0.71"/><path d="M1473.6,652.7 C1473.0,654.2 1471.0,658.8 1469.9,662.0 C1468.9,665.1 1468.2,668.4 1467.3,671.6 C1466.3,674.8 1465.1,677.9 1464.4,681.2 C1463.6,684.4 1462.6,687.8 1462.7,691.0 C1462.9,694.3 1463.8,697.8 1465.3,700.7 C1466.8,703.6 1469.2,706.3 1471.8,708.3 C1474.4,710.3 1478.3,710.6 1480.9,712.6 C1483.5,714.5 1485.1,717.7 1487.5,720.1 C1489.9,722.4 1492.3,725.0 1495.2,726.5 C1498.1,727.9 1503.3,728.3 1505.0,728.6" stroke-width="1.31" opacity="0.48"/><path d="M1630.1,654.3 C1629.9,656.0 1628.6,661.0 1628.7,664.2 C1628.8,667.5 1630.0,670.8 1630.7,674.0 C1631.3,677.3 1632.3,680.5 1632.7,683.8 C1633.2,687.1 1633.0,690.5 1633.3,693.8 C1633.7,697.1 1634.8,700.4 1634.8,703.7 C1634.8,707.0 1633.9,710.3 1633.4,713.6 C1632.8,716.9 1631.3,720.2 1631.5,723.4 C1631.7,726.7 1633.4,729.8 1634.6,732.9 C1635.8,736.0 1637.6,738.9 1638.7,742.1 C1639.9,745.2 1641.0,750.1 1641.5,751.7" stroke-width="0.95" opacity="0.42"/><path d="M1633.1,508.4 C1634.7,508.0 1639.9,507.3 1642.7,505.8 C1645.6,504.2 1648.1,501.6 1650.2,499.1 C1652.2,496.5 1653.5,493.3 1655.1,490.4 C1656.6,487.4 1658.1,484.4 1659.4,481.3 C1660.7,478.3 1661.9,475.2 1663.0,472.0 C1664.1,468.9 1665.7,465.7 1666.0,462.5 C1666.3,459.2 1665.6,455.8 1664.9,452.5 C1664.2,449.3 1663.0,446.1 1661.8,443.0 C1660.6,439.9 1658.8,437.0 1657.9,433.8 C1657.0,430.6 1656.7,425.6 1656.4,423.9" stroke-width="1.31" opacity="0.35"/><path d="M1434.1,461.2 C1432.4,461.2 1427.4,461.3 1424.1,461.2 C1420.8,461.1 1417.4,460.2 1414.1,460.4 C1410.8,460.6 1407.6,462.3 1404.3,462.3 C1401.0,462.3 1397.8,460.8 1394.4,460.5 C1391.1,460.3 1386.1,460.9 1384.5,461.0" stroke-width="1.57" opacity="0.61"/><path d="M1459.3,642.3 C1460.5,643.4 1464.9,646.3 1466.8,649.0 C1468.7,651.6 1469.2,655.2 1470.9,658.1 C1472.5,661.0 1474.7,663.5 1476.6,666.3 C1478.5,669.0 1481.1,671.5 1482.2,674.5 C1483.4,677.6 1482.5,681.3 1483.5,684.5 C1484.5,687.6 1487.3,691.9 1488.1,693.3" stroke-width="1.36" opacity="0.34"/><path d="M1442.1,401.1 C1442.3,402.8 1442.2,408.0 1443.3,411.0 C1444.4,414.1 1447.6,416.4 1448.7,419.5 C1449.9,422.5 1449.9,427.7 1450.1,429.4" stroke-width="0.82" opacity="0.53"/><path d="M1666.7,437.1 C1667.5,435.6 1669.8,431.1 1671.1,428.1 C1672.3,425.0 1672.6,421.5 1674.2,418.5 C1675.7,415.6 1679.1,411.9 1680.1,410.5" stroke-width="1.57" opacity="0.72"/><path d="M1493.4,480.2 C1494.9,479.4 1499.8,477.6 1502.3,475.6 C1504.8,473.5 1507.1,470.7 1508.5,467.7 C1509.9,464.8 1510.0,461.2 1510.6,457.9 C1511.1,454.6 1510.7,451.2 1511.7,448.0 C1512.6,444.8 1514.3,441.8 1516.0,439.0 C1517.8,436.2 1520.2,433.8 1522.0,431.0 C1523.9,428.3 1525.3,425.2 1527.3,422.5 C1529.3,419.9 1531.9,417.7 1534.1,415.1 C1536.3,412.6 1539.3,408.7 1540.4,407.4" stroke-width="1.03" opacity="0.68"/><path d="M1637.8,499.5 C1637.0,498.0 1633.6,492.3 1632.8,490.8" stroke-width="1.45" opacity="0.64"/><path d="M1697.3,575.8 C1697.5,577.5 1697.9,584.2 1698.0,585.8" stroke-width="0.97" opacity="0.64"/><path d="M1450.4,611.5 C1449.0,610.5 1444.9,607.6 1442.1,605.9 C1439.2,604.1 1436.1,602.8 1433.4,600.9 C1430.6,599.1 1426.8,595.8 1425.5,594.7" stroke-width="1.36" opacity="0.36"/><path d="M1537.4,568.9 C1537.8,570.5 1539.1,575.4 1539.5,578.7 C1539.9,582.0 1539.7,587.0 1539.8,588.7" stroke-width="0.89" opacity="0.33"/><path d="M1694.6,444.3 C1696.2,444.1 1701.4,443.9 1704.5,442.9 C1707.6,441.9 1710.8,440.2 1713.3,438.1 C1715.8,436.0 1717.1,432.5 1719.5,430.3 C1721.9,428.1 1725.2,426.8 1727.9,424.9 C1730.6,423.0 1733.8,421.3 1735.9,418.8 C1737.9,416.3 1739.4,413.0 1740.2,409.8 C1741.0,406.7 1740.9,403.1 1740.8,399.8 C1740.6,396.5 1740.1,393.1 1739.2,390.0 C1738.2,386.8 1737.1,383.4 1735.1,380.8 C1733.2,378.2 1728.7,375.5 1727.5,374.4" stroke-width="0.85" opacity="0.62"/><path d="M1519.5,585.0 C1519.1,583.4 1518.3,578.3 1516.9,575.3 C1515.5,572.4 1513.0,569.9 1511.3,567.1 C1509.6,564.2 1507.8,561.3 1506.7,558.2 C1505.7,555.0 1505.2,551.6 1505.1,548.3 C1504.9,545.0 1505.1,541.6 1505.8,538.3 C1506.4,535.1 1507.9,532.0 1508.8,528.8 C1509.7,525.6 1509.9,522.2 1511.0,519.1 C1512.1,515.9 1513.3,512.6 1515.3,510.0 C1517.3,507.4 1521.6,504.5 1522.8,503.4" stroke-width="0.92" opacity="0.58"/><path d="M1691.3,371.8 C1693.0,371.7 1698.1,370.7 1701.3,371.2 C1704.5,371.8 1707.6,373.6 1710.5,375.2 C1713.3,376.9 1715.7,379.3 1718.5,381.3 C1721.2,383.2 1724.1,384.8 1726.8,386.8 C1729.5,388.7 1733.4,391.8 1734.7,392.9" stroke-width="1.52" opacity="0.49"/><path d="M1726.4,622.7 C1725.5,624.1 1723.3,628.8 1721.1,631.2 C1718.9,633.6 1715.7,635.1 1713.0,637.1 C1710.4,639.1 1707.9,641.3 1705.3,643.4 C1702.7,645.5 1700.5,648.2 1697.6,649.8 C1694.8,651.4 1691.2,651.8 1688.1,652.9 C1685.0,654.1 1681.9,655.4 1678.9,656.8 C1675.8,658.2 1672.7,659.4 1669.9,661.2 C1667.2,663.1 1665.1,665.9 1662.4,667.8 C1659.7,669.8 1656.8,671.6 1653.8,673.0 C1650.8,674.3 1645.9,675.6 1644.3,676.1" stroke-width="0.93" opacity="0.60"/><path d="M1706.5,518.5 C1708.1,519.0 1712.7,521.3 1715.9,521.8 C1719.2,522.3 1722.6,521.7 1725.9,521.6 C1729.3,521.6 1732.7,521.2 1735.9,521.6 C1739.2,522.0 1744.0,523.7 1745.6,524.1" stroke-width="1.58" opacity="0.61"/><path d="M1743.1,560.7 C1744.2,559.4 1747.0,555.1 1749.5,552.9 C1751.9,550.8 1755.1,549.4 1758.0,547.7 C1760.9,546.1 1763.7,544.2 1766.8,543.1 C1769.9,541.9 1773.3,541.0 1776.6,540.8 C1779.9,540.5 1783.4,540.7 1786.5,541.6 C1789.7,542.5 1792.4,544.7 1795.4,546.2 C1798.3,547.8 1801.1,550.1 1804.2,551.0 C1807.3,551.9 1810.9,552.2 1814.2,551.7 C1817.4,551.3 1820.3,549.0 1823.5,548.2 C1826.7,547.3 1831.7,546.9 1833.4,546.6" stroke-width="1.48" opacity="0.57"/><path d="M1744.5,515.0 C1746.1,515.2 1751.2,515.5 1754.4,516.5 C1757.5,517.4 1760.7,518.9 1763.4,520.8 C1766.1,522.6 1768.1,525.5 1770.7,527.6 C1773.2,529.8 1776.5,531.2 1778.7,533.6 C1780.9,536.0 1781.9,539.5 1783.8,542.2 C1785.6,545.0 1788.3,547.3 1789.8,550.2 C1791.4,553.1 1791.7,556.6 1793.1,559.6 C1794.5,562.6 1797.3,566.8 1798.2,568.2" stroke-width="0.89" opacity="0.63"/></g>
<g fill="none" stroke="#7a7a00" stroke-linecap="round" filter="url(#blur4)"><path d="M1489.3,419.7 C1487.4,416.7 1481.8,407.6 1477.8,401.9 C1473.8,396.2 1470.4,390.7 1465.1,385.4 C1459.8,380.1 1451.8,373.6 1446.1,370.2 C1440.4,366.8 1433.3,366.0 1430.8,365.1" stroke-width="9.2" opacity="0.14"/><path d="M1489.3,419.7 C1488.9,416.1 1486.5,404.9 1486.7,398.1 C1486.9,391.3 1489.0,385.0 1490.5,379.1 C1492.0,373.2 1494.8,365.3 1495.6,362.5" stroke-width="8.8" opacity="0.13"/><path d="M1489.3,419.7 C1491.6,419.3 1498.8,418.7 1503.2,417.2 C1507.7,415.7 1511.8,412.9 1516.0,410.8 C1520.2,408.7 1524.5,406.6 1528.7,404.5 C1532.9,402.4 1536.1,401.3 1541.4,398.1 C1546.7,394.9 1554.1,389.2 1560.4,385.4 C1566.8,381.6 1574.6,377.4 1579.5,375.2 C1584.4,373.0 1588.2,372.5 1590.0,372.0" stroke-width="9.0" opacity="0.13"/><path d="M1489.3,419.7 C1487.0,422.4 1479.3,429.2 1475.3,436.2 C1471.3,443.2 1467.2,455.3 1465.1,461.7 C1463.0,468.1 1464.1,468.0 1462.6,474.4 C1461.1,480.8 1457.9,491.9 1456.2,499.8 C1454.5,507.7 1453.0,518.3 1452.4,522.0" stroke-width="9.0" opacity="0.13"/><path d="M1486.7,431.2 C1485.7,434.2 1482.3,441.8 1480.4,449.0 C1478.5,456.2 1474.7,468.0 1475.3,474.4 C1475.9,480.8 1480.4,483.7 1484.2,487.1 C1488.0,490.5 1495.9,493.4 1498.2,494.7" stroke-width="8.6" opacity="0.12"/><path d="M1488.0,435.0 C1489.3,439.4 1493.1,453.0 1495.6,461.7 C1498.1,470.4 1500.9,479.7 1503.2,487.1 C1505.5,494.5 1507.5,500.3 1509.6,506.1 C1511.7,511.9 1514.9,519.4 1516.0,522.0" stroke-width="8.6" opacity="0.12"/><path d="M1490.5,433.7 C1493.7,437.3 1504.3,448.5 1509.6,455.3 C1514.9,462.1 1519.1,468.0 1522.3,474.4 C1525.5,480.8 1526.6,487.0 1528.7,493.4 C1530.8,499.8 1534.3,506.4 1535.0,512.5 C1535.7,518.6 1533.4,525.1 1533.0,530.0 C1532.6,534.9 1532.6,539.7 1532.5,541.6" stroke-width="8.8" opacity="0.13"/><path d="M1503.2,419.7 C1505.3,421.0 1511.8,422.9 1516.0,427.3 C1520.2,431.8 1523.6,442.6 1528.7,446.4 C1533.8,450.2 1543.5,449.6 1546.4,450.2" stroke-width="8.6" opacity="0.13"/><path d="M1546.4,450.2 C1548.1,446.7 1553.2,435.9 1556.6,429.3 C1560.0,422.7 1564.0,416.0 1566.8,410.8 C1569.5,405.6 1569.4,401.3 1573.1,398.1 C1576.8,394.9 1583.5,394.3 1589.0,391.8 C1594.5,389.3 1600.1,386.9 1606.1,382.9 C1612.1,378.9 1619.8,371.4 1625.1,367.6 C1630.4,363.8 1635.7,361.3 1637.8,360.0" stroke-width="8.8" opacity="0.13"/><path d="M1546.4,450.2 C1549.8,449.6 1559.7,444.9 1566.8,446.4 C1573.9,447.9 1585.3,457.0 1589.0,459.1" stroke-width="8.4" opacity="0.12"/><path d="M1546.4,450.2 C1545.6,454.2 1543.3,466.1 1541.4,474.4 C1539.5,482.7 1537.1,491.9 1535.0,499.8 C1532.9,507.7 1529.8,518.3 1528.7,522.0" stroke-width="8.4" opacity="0.12"/><path d="M1427.0,403.2 C1430.2,404.1 1439.8,406.6 1446.1,408.3 C1452.4,410.0 1461.9,412.5 1465.1,413.4" stroke-width="8.4" opacity="0.12"/><path d="M1434.6,449.0 C1435.9,453.2 1439.2,467.0 1442.2,474.4 C1445.2,481.8 1449.4,485.5 1452.4,493.4 C1455.4,501.3 1458.7,517.2 1460.0,522.0" stroke-width="8.4" opacity="0.11"/><path d="M1516.0,360.0 C1516.4,364.2 1518.5,376.9 1518.5,385.4 C1518.5,393.9 1516.4,406.6 1516.0,410.8" stroke-width="8.4" opacity="0.11"/><path d="M1462.6,474.4 C1465.1,475.4 1473.1,478.6 1477.8,480.7 C1482.5,482.8 1486.3,485.0 1490.5,487.1 C1494.7,489.2 1501.1,492.3 1503.2,493.4" stroke-width="8.4" opacity="0.11"/><path d="M1554.1,461.7 C1555.1,465.9 1558.3,478.6 1560.4,487.1 C1562.5,495.6 1565.7,508.3 1566.8,512.5" stroke-width="8.4" opacity="0.11"/><path d="M1612.4,405.1 C1610.3,406.5 1603.9,410.3 1599.7,413.4 C1595.5,416.5 1589.1,421.8 1587.0,423.5" stroke-width="8.6" opacity="0.12"/><path d="M1653.7,372.1 C1655.3,374.3 1660.6,381.1 1663.2,385.4 C1665.8,389.7 1667.5,392.8 1669.6,398.1 C1671.7,403.4 1674.5,411.9 1676.0,417.2 C1677.5,422.5 1677.7,425.7 1678.5,429.9 C1679.3,434.1 1680.6,440.5 1681.0,442.6" stroke-width="8.4" opacity="0.12"/><path d="M1681.0,442.6 C1683.3,441.5 1690.5,439.4 1695.0,436.2 C1699.5,433.0 1704.5,427.7 1707.7,423.5 C1710.9,419.3 1712.6,415.0 1714.1,410.8 C1715.6,406.6 1716.2,403.2 1716.6,398.1 C1717.0,393.0 1716.6,383.0 1716.6,380.0" stroke-width="8.4" opacity="0.12"/><path d="M1644.2,442.6 C1645.2,444.7 1648.2,451.1 1650.5,455.3 C1652.8,459.5 1656.9,465.9 1658.2,468.0" stroke-width="8.4" opacity="0.11"/><path d="M1660.7,470.5 C1662.8,472.6 1669.2,479.1 1673.4,483.3 C1677.6,487.6 1684.0,493.9 1686.1,496.0" stroke-width="12.0" opacity="0.15"/><path d="M1587.0,455.3 C1588.7,458.5 1594.7,468.0 1597.2,474.4 C1599.7,480.8 1599.7,488.1 1602.2,493.4 C1604.7,498.7 1607.5,501.9 1612.4,506.1 C1617.3,510.3 1628.3,516.7 1631.5,518.8" stroke-width="8.6" opacity="0.12"/><path d="M1532.5,541.6 C1529.8,544.4 1521.9,552.2 1516.0,558.1 C1510.1,564.0 1502.8,570.9 1496.9,577.2 C1491.0,583.6 1484.9,589.9 1480.4,596.2 C1475.9,602.6 1472.7,608.9 1469.9,615.3 C1467.1,621.7 1464.6,629.1 1463.8,634.4 C1463.0,639.7 1464.9,645.0 1465.1,647.1" stroke-width="15.0" opacity="0.11"/><path d="M1455.0,520.0 C1454.6,523.2 1453.9,532.8 1452.4,539.1 C1450.9,545.5 1448.2,550.7 1446.1,558.1 C1444.0,565.5 1441.8,576.5 1439.7,583.5 C1437.6,590.5 1434.5,597.2 1433.4,600.0" stroke-width="11.0" opacity="0.12"/><path d="M1541.4,548.0 C1543.5,551.8 1549.9,563.8 1554.1,570.8 C1558.3,577.8 1562.6,583.5 1566.8,589.9 C1571.0,596.2 1575.8,603.6 1579.5,608.9 C1583.2,614.2 1584.6,615.2 1589.0,621.6 C1593.4,628.0 1601.1,639.7 1606.1,647.1 C1611.1,654.5 1614.6,660.3 1618.8,666.1 C1623.0,671.9 1629.4,679.4 1631.5,682.0" stroke-width="8.6" opacity="0.12"/><path d="M1532.5,541.6 C1535.8,540.7 1545.6,537.4 1552.0,536.0 C1558.4,534.6 1564.7,533.8 1571.0,533.0 C1577.3,532.2 1586.8,531.3 1590.0,531.0" stroke-width="8.6" opacity="0.12"/><path d="M1532.5,541.6 C1532.9,539.2 1535.2,530.6 1535.0,527.0 C1534.8,523.4 1531.7,521.2 1531.0,520.0" stroke-width="8.6" opacity="0.12"/><path d="M1573.1,643.3 C1574.2,640.8 1576.8,631.6 1579.5,628.0 C1582.2,624.4 1587.4,622.7 1589.0,621.6" stroke-width="8.2" opacity="0.11"/><path d="M1626.4,567.6 C1625.1,570.2 1622.2,578.7 1618.8,583.5 C1615.4,588.3 1611.4,592.0 1606.1,596.2 C1600.8,600.5 1590.2,606.9 1587.0,609.0" stroke-width="8.6" opacity="0.13"/><path d="M1626.4,567.6 C1629.4,566.0 1638.1,560.7 1644.2,558.1 C1650.3,555.5 1656.9,553.5 1663.2,551.8 C1669.5,550.1 1675.9,548.9 1682.3,548.0 C1688.7,547.1 1693.1,546.9 1701.4,546.7 C1709.7,546.5 1726.8,546.7 1731.9,546.7" stroke-width="8.6" opacity="0.12"/><path d="M1626.4,567.6 C1626.2,565.0 1624.2,557.6 1625.1,551.8 C1625.9,546.0 1629.4,538.0 1631.5,532.7 C1633.6,527.4 1636.8,522.1 1637.8,520.0" stroke-width="8.4" opacity="0.11"/><path d="M1597.2,629.3 C1599.7,629.1 1606.7,627.6 1612.4,628.0 C1618.1,628.4 1625.2,630.3 1631.5,631.8 C1637.8,633.3 1644.8,635.3 1650.5,636.9 C1656.2,638.5 1663.2,640.6 1665.8,641.3" stroke-width="8.6" opacity="0.12"/><path d="M1665.8,641.3 C1666.4,644.4 1667.9,653.0 1669.6,659.8 C1671.3,666.6 1674.9,678.3 1676.0,682.0" stroke-width="8.4" opacity="0.11"/><path d="M1726.8,595.0 C1726.4,592.7 1724.2,585.0 1724.2,581.0 C1724.2,577.0 1725.5,576.5 1726.8,570.8 C1728.1,565.1 1731.1,550.7 1731.9,546.7" stroke-width="8.8" opacity="0.13"/><path d="M1726.8,595.0 C1727.8,597.3 1731.0,604.6 1733.1,609.0 C1735.2,613.4 1738.4,619.5 1739.5,621.6" stroke-width="8.4" opacity="0.11"/><path d="M1663.2,574.6 C1662.2,577.1 1658.6,584.2 1656.9,589.9 C1655.2,595.6 1654.6,603.7 1653.1,609.0 C1651.6,614.3 1648.8,619.5 1648.0,621.6" stroke-width="8.2" opacity="0.11"/><path d="M1587.0,526.4 C1589.1,527.9 1595.5,532.0 1599.7,535.2 C1603.9,538.4 1608.0,540.0 1612.4,545.4 C1616.9,550.8 1624.1,563.9 1626.4,567.6" stroke-width="8.4" opacity="0.11"/><path d="M1597.2,629.3 C1596.3,631.9 1593.7,639.9 1592.0,645.0 C1590.3,650.1 1587.8,657.5 1587.0,660.0" stroke-width="8.4" opacity="0.11"/></g>
<g fill="none" stroke="#6e6e00" stroke-linecap="round" filter="url(#blur1)"><path d="M1489.3,419.7 C1487.4,416.7 1481.8,407.6 1477.8,401.9 C1473.8,396.2 1470.4,390.7 1465.1,385.4 C1459.8,380.1 1451.8,373.6 1446.1,370.2 C1440.4,366.8 1433.3,366.0 1430.8,365.1" stroke-width="2.16" opacity="0.65"/><path d="M1489.3,419.7 C1488.9,416.1 1486.5,404.9 1486.7,398.1 C1486.9,391.3 1489.0,385.0 1490.5,379.1 C1492.0,373.2 1494.8,365.3 1495.6,362.5" stroke-width="1.89" opacity="0.6"/><path d="M1489.3,419.7 C1491.6,419.3 1498.8,418.7 1503.2,417.2 C1507.7,415.7 1511.8,412.9 1516.0,410.8 C1520.2,408.7 1524.5,406.6 1528.7,404.5 C1532.9,402.4 1536.1,401.3 1541.4,398.1 C1546.7,394.9 1554.1,389.2 1560.4,385.4 C1566.8,381.6 1574.6,377.4 1579.5,375.2 C1584.4,373.0 1588.2,372.5 1590.0,372.0" stroke-width="2.03" opacity="0.6"/><path d="M1489.3,419.7 C1487.0,422.4 1479.3,429.2 1475.3,436.2 C1471.3,443.2 1467.2,455.3 1465.1,461.7 C1463.0,468.1 1464.1,468.0 1462.6,474.4 C1461.1,480.8 1457.9,491.9 1456.2,499.8 C1454.5,507.7 1453.0,518.3 1452.4,522.0" stroke-width="2.03" opacity="0.6"/><path d="M1486.7,431.2 C1485.7,434.2 1482.3,441.8 1480.4,449.0 C1478.5,456.2 1474.7,468.0 1475.3,474.4 C1475.9,480.8 1480.4,483.7 1484.2,487.1 C1488.0,490.5 1495.9,493.4 1498.2,494.7" stroke-width="1.76" opacity="0.55"/><path d="M1488.0,435.0 C1489.3,439.4 1493.1,453.0 1495.6,461.7 C1498.1,470.4 1500.9,479.7 1503.2,487.1 C1505.5,494.5 1507.5,500.3 1509.6,506.1 C1511.7,511.9 1514.9,519.4 1516.0,522.0" stroke-width="1.76" opacity="0.55"/><path d="M1490.5,433.7 C1493.7,437.3 1504.3,448.5 1509.6,455.3 C1514.9,462.1 1519.1,468.0 1522.3,474.4 C1525.5,480.8 1526.6,487.0 1528.7,493.4 C1530.8,499.8 1534.3,506.4 1535.0,512.5 C1535.7,518.6 1533.4,525.1 1533.0,530.0 C1532.6,534.9 1532.6,539.7 1532.5,541.6" stroke-width="1.89" opacity="0.6"/><path d="M1503.2,419.7 C1505.3,421.0 1511.8,422.9 1516.0,427.3 C1520.2,431.8 1523.6,442.6 1528.7,446.4 C1533.8,450.2 1543.5,449.6 1546.4,450.2" stroke-width="1.76" opacity="0.6"/><path d="M1546.4,450.2 C1548.1,446.7 1553.2,435.9 1556.6,429.3 C1560.0,422.7 1564.0,416.0 1566.8,410.8 C1569.5,405.6 1569.4,401.3 1573.1,398.1 C1576.8,394.9 1583.5,394.3 1589.0,391.8 C1594.5,389.3 1600.1,386.9 1606.1,382.9 C1612.1,378.9 1619.8,371.4 1625.1,367.6 C1630.4,363.8 1635.7,361.3 1637.8,360.0" stroke-width="1.89" opacity="0.6"/><path d="M1546.4,450.2 C1549.8,449.6 1559.7,444.9 1566.8,446.4 C1573.9,447.9 1585.3,457.0 1589.0,459.1" stroke-width="1.62" opacity="0.55"/><path d="M1546.4,450.2 C1545.6,454.2 1543.3,466.1 1541.4,474.4 C1539.5,482.7 1537.1,491.9 1535.0,499.8 C1532.9,507.7 1529.8,518.3 1528.7,522.0" stroke-width="1.62" opacity="0.55"/><path d="M1427.0,403.2 C1430.2,404.1 1439.8,406.6 1446.1,408.3 C1452.4,410.0 1461.9,412.5 1465.1,413.4" stroke-width="1.62" opacity="0.55"/><path d="M1434.6,449.0 C1435.9,453.2 1439.2,467.0 1442.2,474.4 C1445.2,481.8 1449.4,485.5 1452.4,493.4 C1455.4,501.3 1458.7,517.2 1460.0,522.0" stroke-width="1.62" opacity="0.5"/><path d="M1516.0,360.0 C1516.4,364.2 1518.5,376.9 1518.5,385.4 C1518.5,393.9 1516.4,406.6 1516.0,410.8" stroke-width="1.62" opacity="0.5"/><path d="M1462.6,474.4 C1465.1,475.4 1473.1,478.6 1477.8,480.7 C1482.5,482.8 1486.3,485.0 1490.5,487.1 C1494.7,489.2 1501.1,492.3 1503.2,493.4" stroke-width="1.62" opacity="0.5"/><path d="M1554.1,461.7 C1555.1,465.9 1558.3,478.6 1560.4,487.1 C1562.5,495.6 1565.7,508.3 1566.8,512.5" stroke-width="1.62" opacity="0.5"/><path d="M1612.4,405.1 C1610.3,406.5 1603.9,410.3 1599.7,413.4 C1595.5,416.5 1589.1,421.8 1587.0,423.5" stroke-width="1.76" opacity="0.55"/><path d="M1653.7,372.1 C1655.3,374.3 1660.6,381.1 1663.2,385.4 C1665.8,389.7 1667.5,392.8 1669.6,398.1 C1671.7,403.4 1674.5,411.9 1676.0,417.2 C1677.5,422.5 1677.7,425.7 1678.5,429.9 C1679.3,434.1 1680.6,440.5 1681.0,442.6" stroke-width="1.62" opacity="0.55"/><path d="M1681.0,442.6 C1683.3,441.5 1690.5,439.4 1695.0,436.2 C1699.5,433.0 1704.5,427.7 1707.7,423.5 C1710.9,419.3 1712.6,415.0 1714.1,410.8 C1715.6,406.6 1716.2,403.2 1716.6,398.1 C1717.0,393.0 1716.6,383.0 1716.6,380.0" stroke-width="1.62" opacity="0.55"/><path d="M1644.2,442.6 C1645.2,444.7 1648.2,451.1 1650.5,455.3 C1652.8,459.5 1656.9,465.9 1658.2,468.0" stroke-width="1.62" opacity="0.5"/><path d="M1660.7,470.5 C1662.8,472.6 1669.2,479.1 1673.4,483.3 C1677.6,487.6 1684.0,493.9 1686.1,496.0" stroke-width="4.05" opacity="0.7"/><path d="M1587.0,455.3 C1588.7,458.5 1594.7,468.0 1597.2,474.4 C1599.7,480.8 1599.7,488.1 1602.2,493.4 C1604.7,498.7 1607.5,501.9 1612.4,506.1 C1617.3,510.3 1628.3,516.7 1631.5,518.8" stroke-width="1.76" opacity="0.55"/><path d="M1532.5,541.6 C1529.8,544.4 1521.9,552.2 1516.0,558.1 C1510.1,564.0 1502.8,570.9 1496.9,577.2 C1491.0,583.6 1484.9,589.9 1480.4,596.2 C1475.9,602.6 1472.7,608.9 1469.9,615.3 C1467.1,621.7 1464.6,629.1 1463.8,634.4 C1463.0,639.7 1464.9,645.0 1465.1,647.1" stroke-width="6.08" opacity="0.5"/><path d="M1455.0,520.0 C1454.6,523.2 1453.9,532.8 1452.4,539.1 C1450.9,545.5 1448.2,550.7 1446.1,558.1 C1444.0,565.5 1441.8,576.5 1439.7,583.5 C1437.6,590.5 1434.5,597.2 1433.4,600.0" stroke-width="3.38" opacity="0.55"/><path d="M1541.4,548.0 C1543.5,551.8 1549.9,563.8 1554.1,570.8 C1558.3,577.8 1562.6,583.5 1566.8,589.9 C1571.0,596.2 1575.8,603.6 1579.5,608.9 C1583.2,614.2 1584.6,615.2 1589.0,621.6 C1593.4,628.0 1601.1,639.7 1606.1,647.1 C1611.1,654.5 1614.6,660.3 1618.8,666.1 C1623.0,671.9 1629.4,679.4 1631.5,682.0" stroke-width="1.76" opacity="0.55"/><path d="M1532.5,541.6 C1535.8,540.7 1545.6,537.4 1552.0,536.0 C1558.4,534.6 1564.7,533.8 1571.0,533.0 C1577.3,532.2 1586.8,531.3 1590.0,531.0" stroke-width="1.76" opacity="0.55"/><path d="M1532.5,541.6 C1532.9,539.2 1535.2,530.6 1535.0,527.0 C1534.8,523.4 1531.7,521.2 1531.0,520.0" stroke-width="1.76" opacity="0.55"/><path d="M1573.1,643.3 C1574.2,640.8 1576.8,631.6 1579.5,628.0 C1582.2,624.4 1587.4,622.7 1589.0,621.6" stroke-width="1.49" opacity="0.5"/><path d="M1626.4,567.6 C1625.1,570.2 1622.2,578.7 1618.8,583.5 C1615.4,588.3 1611.4,592.0 1606.1,596.2 C1600.8,600.5 1590.2,606.9 1587.0,609.0" stroke-width="1.76" opacity="0.6"/><path d="M1626.4,567.6 C1629.4,566.0 1638.1,560.7 1644.2,558.1 C1650.3,555.5 1656.9,553.5 1663.2,551.8 C1669.5,550.1 1675.9,548.9 1682.3,548.0 C1688.7,547.1 1693.1,546.9 1701.4,546.7 C1709.7,546.5 1726.8,546.7 1731.9,546.7" stroke-width="1.76" opacity="0.55"/><path d="M1626.4,567.6 C1626.2,565.0 1624.2,557.6 1625.1,551.8 C1625.9,546.0 1629.4,538.0 1631.5,532.7 C1633.6,527.4 1636.8,522.1 1637.8,520.0" stroke-width="1.62" opacity="0.5"/><path d="M1597.2,629.3 C1599.7,629.1 1606.7,627.6 1612.4,628.0 C1618.1,628.4 1625.2,630.3 1631.5,631.8 C1637.8,633.3 1644.8,635.3 1650.5,636.9 C1656.2,638.5 1663.2,640.6 1665.8,641.3" stroke-width="1.76" opacity="0.55"/><path d="M1665.8,641.3 C1666.4,644.4 1667.9,653.0 1669.6,659.8 C1671.3,666.6 1674.9,678.3 1676.0,682.0" stroke-width="1.62" opacity="0.5"/><path d="M1726.8,595.0 C1726.4,592.7 1724.2,585.0 1724.2,581.0 C1724.2,577.0 1725.5,576.5 1726.8,570.8 C1728.1,565.1 1731.1,550.7 1731.9,546.7" stroke-width="1.89" opacity="0.6"/><path d="M1726.8,595.0 C1727.8,597.3 1731.0,604.6 1733.1,609.0 C1735.2,613.4 1738.4,619.5 1739.5,621.6" stroke-width="1.62" opacity="0.5"/><path d="M1663.2,574.6 C1662.2,577.1 1658.6,584.2 1656.9,589.9 C1655.2,595.6 1654.6,603.7 1653.1,609.0 C1651.6,614.3 1648.8,619.5 1648.0,621.6" stroke-width="1.49" opacity="0.5"/><path d="M1587.0,526.4 C1589.1,527.9 1595.5,532.0 1599.7,535.2 C1603.9,538.4 1608.0,540.0 1612.4,545.4 C1616.9,550.8 1624.1,563.9 1626.4,567.6" stroke-width="1.62" opacity="0.5"/><path d="M1597.2,629.3 C1596.3,631.9 1593.7,639.9 1592.0,645.0 C1590.3,650.1 1587.8,657.5 1587.0,660.0" stroke-width="1.62" opacity="0.5"/></g>
<g filter="url(#blur05)"></g>
<g filter="url(#blur3)"><ellipse cx="1489.3" cy="419.7" rx="10.3" ry="9.0" fill="#7e7e00" opacity="0.8"/><ellipse cx="1489.3" cy="419.7" rx="5.4" ry="4.5" fill="#969600" opacity="0.8"/><ellipse cx="1556.6" cy="429.3" rx="7.5" ry="6.5" fill="#7e7e00" opacity="0.8"/><ellipse cx="1556.6" cy="429.3" rx="3.9" ry="3.2" fill="#969600" opacity="0.8"/><ellipse cx="1546.4" cy="450.2" rx="7.5" ry="6.5" fill="#7e7e00" opacity="0.8"/><ellipse cx="1546.4" cy="450.2" rx="3.9" ry="3.2" fill="#969600" opacity="0.8"/><ellipse cx="1561.7" cy="375.2" rx="6.9" ry="6.0" fill="#7e7e00" opacity="0.8"/><ellipse cx="1561.7" cy="375.2" rx="3.6" ry="3.0" fill="#969600" opacity="0.8"/><ellipse cx="1522.3" cy="499.8" rx="4.6" ry="4.0" fill="#7e7e00" opacity="0.8"/><ellipse cx="1522.3" cy="499.8" rx="2.4" ry="2.0" fill="#969600" opacity="0.8"/><ellipse cx="1463.8" cy="476.3" rx="3.4" ry="3.0" fill="#7e7e00" opacity="0.8"/><ellipse cx="1463.8" cy="476.3" rx="1.8" ry="1.5" fill="#969600" opacity="0.8"/><ellipse cx="1437.8" cy="451.5" rx="2.9" ry="2.5" fill="#7e7e00" opacity="0.8"/><ellipse cx="1437.8" cy="451.5" rx="1.5" ry="1.2" fill="#969600" opacity="0.8"/><ellipse cx="1583.9" cy="457.2" rx="3.4" ry="3.0" fill="#7e7e00" opacity="0.8"/><ellipse cx="1583.9" cy="457.2" rx="1.8" ry="1.5" fill="#969600" opacity="0.8"/><ellipse cx="1612.4" cy="405.1" rx="5.8" ry="5.0" fill="#7e7e00" opacity="0.8"/><ellipse cx="1612.4" cy="405.1" rx="3.0" ry="2.5" fill="#969600" opacity="0.8"/><ellipse cx="1716.6" cy="374.0" rx="9.2" ry="8.0" fill="#7e7e00" opacity="0.8"/><ellipse cx="1716.6" cy="374.0" rx="4.8" ry="4.0" fill="#969600" opacity="0.8"/><ellipse cx="1681.0" cy="442.6" rx="11.5" ry="10.0" fill="#7e7e00" opacity="0.8"/><ellipse cx="1681.0" cy="442.6" rx="6.0" ry="5.0" fill="#969600" opacity="0.8"/><ellipse cx="1667.0" cy="396.8" rx="3.4" ry="3.0" fill="#7e7e00" opacity="0.8"/><ellipse cx="1667.0" cy="396.8" rx="1.8" ry="1.5" fill="#969600" opacity="0.8"/><ellipse cx="1532.5" cy="541.6" rx="9.2" ry="8.0" fill="#7e7e00" opacity="0.8"/><ellipse cx="1532.5" cy="541.6" rx="4.8" ry="4.0" fill="#969600" opacity="0.8"/><ellipse cx="1528.7" cy="563.2" rx="4.6" ry="4.0" fill="#7e7e00" opacity="0.8"/><ellipse cx="1528.7" cy="563.2" rx="2.4" ry="2.0" fill="#969600" opacity="0.8"/><ellipse cx="1566.1" cy="548.6" rx="3.4" ry="3.0" fill="#7e7e00" opacity="0.8"/><ellipse cx="1566.1" cy="548.6" rx="1.8" ry="1.5" fill="#969600" opacity="0.8"/><ellipse cx="1437.2" cy="635.0" rx="2.9" ry="2.5" fill="#7e7e00" opacity="0.8"/><ellipse cx="1437.2" cy="635.0" rx="1.5" ry="1.2" fill="#969600" opacity="0.8"/><ellipse cx="1464.5" cy="645.8" rx="2.9" ry="2.5" fill="#7e7e00" opacity="0.8"/><ellipse cx="1464.5" cy="645.8" rx="1.5" ry="1.2" fill="#969600" opacity="0.8"/><ellipse cx="1573.1" cy="643.3" rx="3.4" ry="3.0" fill="#7e7e00" opacity="0.8"/><ellipse cx="1573.1" cy="643.3" rx="1.8" ry="1.5" fill="#969600" opacity="0.8"/><ellipse cx="1626.4" cy="567.6" rx="7.8" ry="6.5" fill="#7c7c00" opacity="0.7"/><ellipse cx="1597.2" cy="629.3" rx="8.4" ry="7.0" fill="#7c7c00" opacity="0.7"/><ellipse cx="1731.9" cy="546.7" rx="6.9" ry="6.0" fill="#7e7e00" opacity="0.8"/><ellipse cx="1731.9" cy="546.7" rx="3.6" ry="3.0" fill="#969600" opacity="0.8"/><ellipse cx="1665.8" cy="641.3" rx="6.9" ry="6.0" fill="#7e7e00" opacity="0.8"/><ellipse cx="1665.8" cy="641.3" rx="3.6" ry="3.0" fill="#969600" opacity="0.8"/><ellipse cx="1673.4" cy="560.7" rx="3.4" ry="3.0" fill="#7e7e00" opacity="0.8"/><ellipse cx="1673.4" cy="560.7" rx="1.8" ry="1.5" fill="#969600" opacity="0.8"/><ellipse cx="1665.8" cy="574.6" rx="2.9" ry="2.5" fill="#7e7e00" opacity="0.8"/><ellipse cx="1665.8" cy="574.6" rx="1.5" ry="1.2" fill="#969600" opacity="0.8"/><ellipse cx="1673.4" cy="574.6" rx="2.9" ry="2.5" fill="#7e7e00" opacity="0.8"/><ellipse cx="1673.4" cy="574.6" rx="1.5" ry="1.2" fill="#969600" opacity="0.8"/><ellipse cx="1691.2" cy="546.7" rx="4.6" ry="4.0" fill="#7e7e00" opacity="0.8"/><ellipse cx="1691.2" cy="546.7" rx="2.4" ry="2.0" fill="#969600" opacity="0.8"/><ellipse cx="1660.7" cy="598.8" rx="3.4" ry="3.0" fill="#7e7e00" opacity="0.8"/><ellipse cx="1660.7" cy="598.8" rx="1.8" ry="1.5" fill="#969600" opacity="0.8"/></g>
<g filter="url(#blur08)"><circle cx="1449.9" cy="414.6" r="2.1" fill="#e4e410"/><circle cx="1474.0" cy="411.5" r="2.1" fill="#e4e410"/><circle cx="1470.8" cy="424.2" r="2.1" fill="#e4e410"/><circle cx="1465.1" cy="418.5" r="1.5" fill="#e4e410"/><circle cx="1486.1" cy="435.0" r="1.5" fill="#e4e410"/><circle cx="1430.2" cy="387.3" r="1.5" fill="#e4e410"/><circle cx="1653.7" cy="372.1" r="2.7" fill="#e4e410"/><circle cx="1613.7" cy="423.5" r="1.5" fill="#e4e410"/><circle cx="1693.7" cy="488.3" r="2.4" fill="#e4e410"/><circle cx="1694.4" cy="379.1" r="1.5" fill="#e4e410"/><circle cx="1693.1" cy="391.1" r="1.2" fill="#e4e410"/><circle cx="1676.0" cy="486.0" r="2.1" fill="#e4e410"/><circle cx="1534.0" cy="543.0" r="2.7" fill="#e4e410"/><circle cx="1455.0" cy="526.4" r="2.4" fill="#e4e410"/><circle cx="1441.0" cy="544.8" r="1.2" fill="#e4e410"/><ellipse cx="1626.4" cy="567.6" rx="4.9" ry="4.2" fill="#b4b400" opacity="0.85"/><circle cx="1626.4" cy="567.6" r="2.7" fill="#e4e410"/><ellipse cx="1597.2" cy="629.3" rx="5.2" ry="4.5" fill="#b4b400" opacity="0.85"/><circle cx="1597.2" cy="629.3" r="2.7" fill="#e4e410"/><circle cx="1726.8" cy="595.0" r="2.7" fill="#e4e410"/><circle cx="1717.9" cy="643.3" r="1.5" fill="#e4e410"/></g>
</g>
<rect x="1099.00" y="34.50" width="115.60" height="45.00" fill="#000" />
<text x="1157.40" y="66.80" font-size="22.5" font-weight="normal" fill="#d8a20a" text-anchor="middle" font-family='"Liberation Sans", Arial, sans-serif' textLength="83" lengthAdjust="spacingAndGlyphs" >MitoSox</text>
<rect x="1319.90" y="312.50" width="94.10" height="27.20" fill="#000" />
<rect x="1651.30" y="310.90" width="94.20" height="28.20" fill="#000" />
<rect x="1107.30" y="362.00" width="90.70" height="33.30" fill="#000" />
<line x1="1424.20" y1="34.00" x2="1424.20" y2="682.50" stroke="#f4f4f4" stroke-width="4.4" />
<line x1="1099.00" y1="358.50" x2="1424.00" y2="358.50" stroke="#f4f4f4" stroke-width="3.4" />
<line x1="1424.00" y1="359.30" x2="1748.00" y2="359.30" stroke="#f4f4f4" stroke-width="3.4" />
<rect x="1223.3" y="189" width="116.6" height="112" fill="none" stroke="#f4f4f4" stroke-width="2"/>
<line x1="1339.90" y1="189.00" x2="1424.50" y2="36.00" stroke="#f4f4f4" stroke-width="2" />
<line x1="1339.90" y1="301.00" x2="1424.50" y2="355.00" stroke="#f4f4f4" stroke-width="2" />
<rect x="1283.3" y="485.5" width="121.9" height="105.8" fill="none" stroke="#f4f4f4" stroke-width="2"/>
<line x1="1405.20" y1="485.50" x2="1425.50" y2="361.00" stroke="#f4f4f4" stroke-width="2" />
<line x1="1405.20" y1="591.30" x2="1426.00" y2="682.00" stroke="#f4f4f4" stroke-width="2" />
<path d="M1282.0,201.5 L1275.3,211.7 L1289.5,213.8Z" fill="#fff"/>
<path d="M1268.1,225.5 L1260.7,235.7 L1275.3,237.5Z" fill="#fff"/>
<path d="M1308.7,532.1 L1302.0,541.5 L1316.1,543.3Z" fill="#fff"/>
<path d="M1342.0,545.5 L1335.3,555.3 L1349.2,557.2Z" fill="#fff"/>
<path d="M1573.2,76.2 L1558.0,99.1 L1595.9,106.3Z" fill="#fff"/>
<path d="M1541.2,154.3 L1526.5,177.5 L1564.1,185.0Z" fill="#fff"/>
<path d="M1499.3,500.7 L1484.1,523.3 L1521.5,530.8Z" fill="#fff"/>
<path d="M1596.7,533.5 L1582.0,555.3 L1619.3,563.3Z" fill="#fff"/>
<text x="1392.00" y="668.70" font-size="18.5" font-weight="bold" fill="#f0f0f0" text-anchor="middle" font-family='"Liberation Sans", Arial, sans-serif' textLength="49.4" lengthAdjust="spacingAndGlyphs" >50um</text>
<line x1="1376.70" y1="675.30" x2="1406.00" y2="675.30" stroke="#f0f0f0" stroke-width="3" />
<text x="1702.00" y="667.30" font-size="18.5" font-weight="bold" fill="#f0f0f0" text-anchor="middle" font-family='"Liberation Sans", Arial, sans-serif' textLength="50.6" lengthAdjust="spacingAndGlyphs" >50um</text>
<line x1="1672.70" y1="673.20" x2="1732.70" y2="673.20" stroke="#f0f0f0" stroke-width="3.6" /></svg>
</body></html>
